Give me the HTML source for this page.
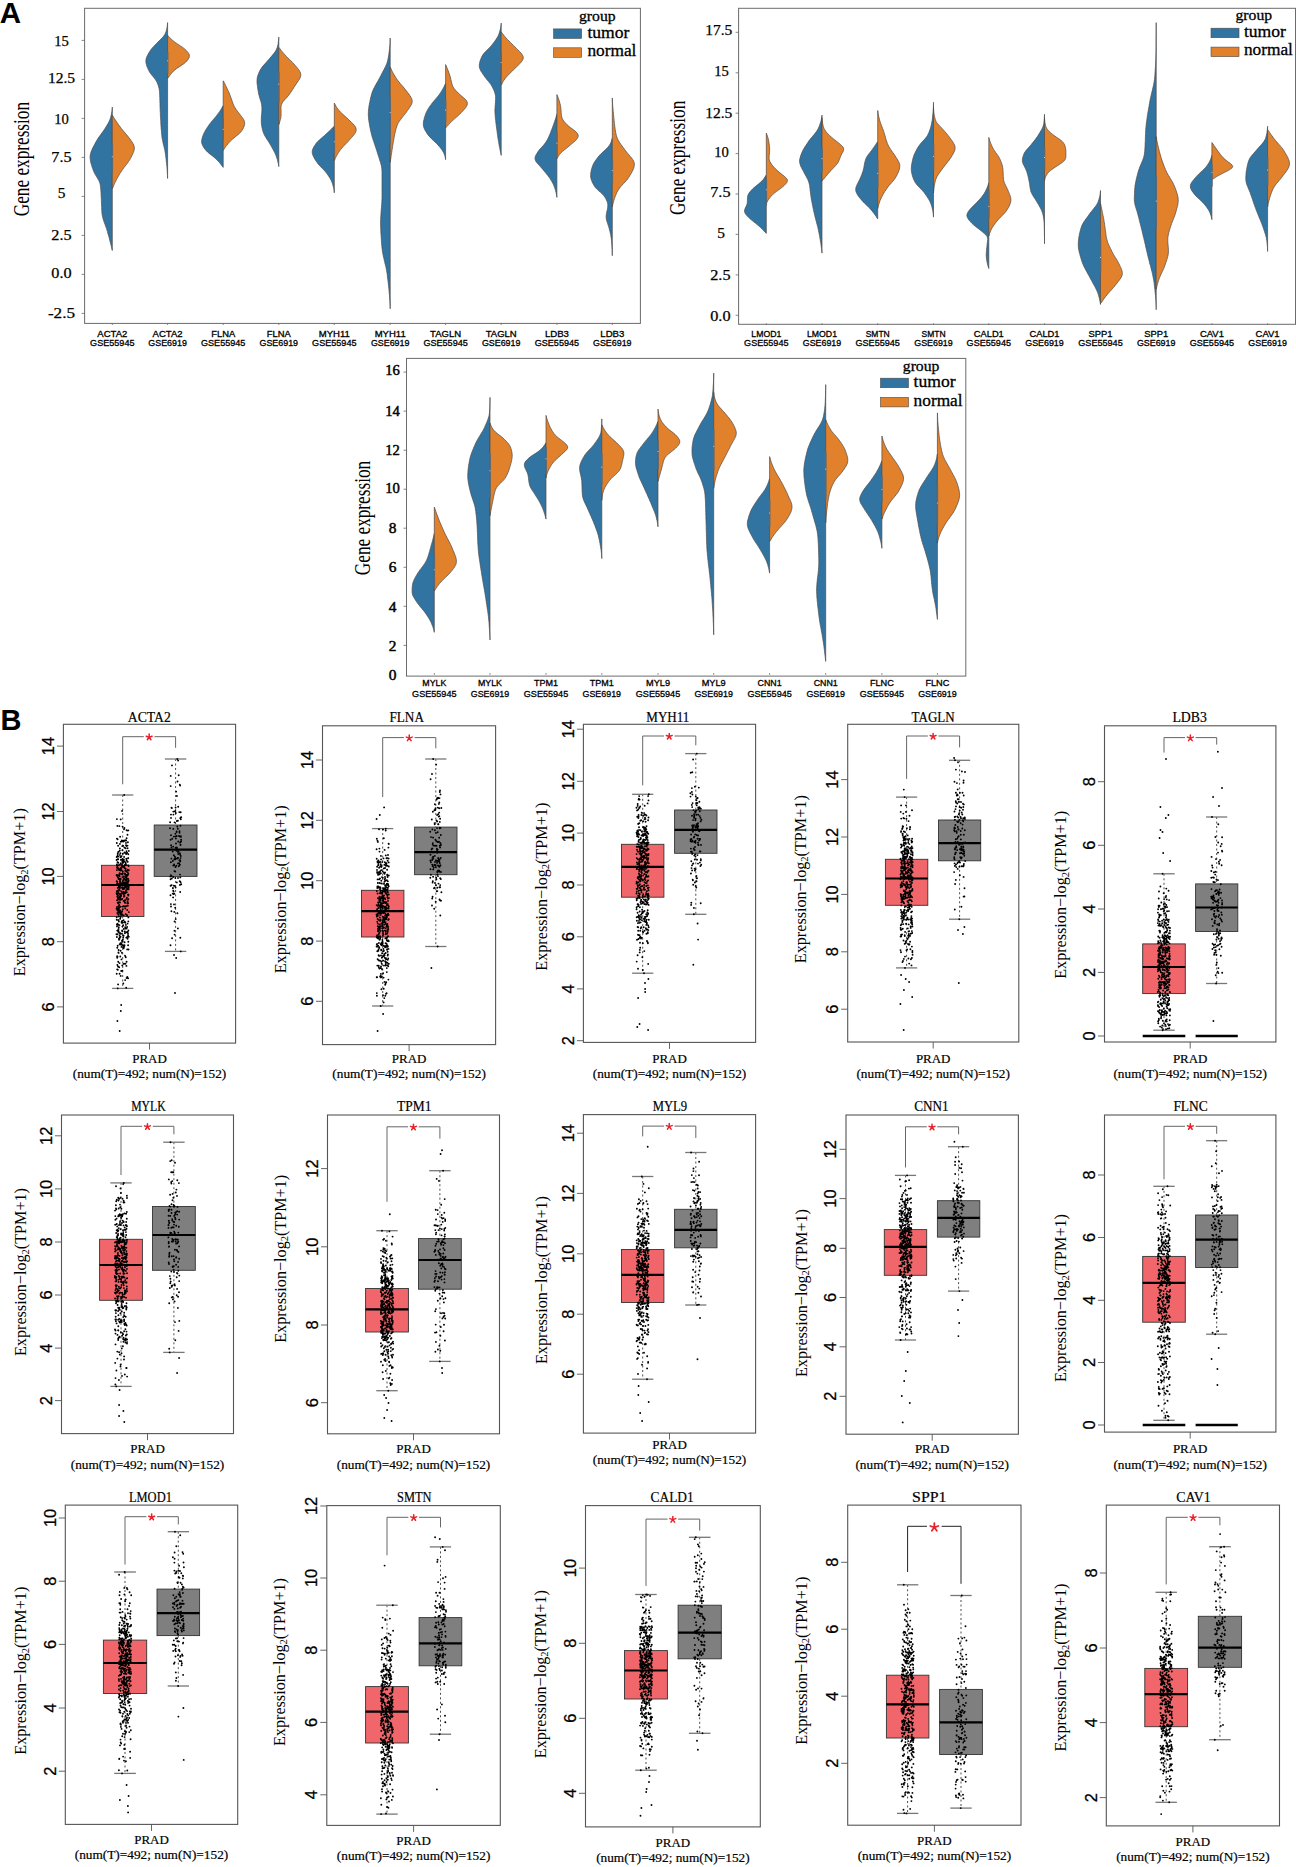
<!DOCTYPE html><html><head><meta charset="utf-8"><style>html,body{margin:0;padding:0;background:#fff}svg{display:block}</style></head><body>
<svg width="1296" height="1867" viewBox="0 0 1296 1867">
<rect width="1296" height="1867" fill="#fff"/>
<text x="-0.3" y="23.3" font-family="Liberation Sans" font-size="29.5" text-anchor="start" fill="#000" font-weight="bold">A</text>
<text x="0.5" y="730" font-family="Liberation Sans" font-size="29" text-anchor="start" fill="#000" font-weight="bold">B</text>
<path d="M112.3 107.1L112.3 107.1L112.2 108.6L112.1 110.1L111.9 111.6L111.6 113.1L111.3 114.6L111 116.1L110.6 117.6L110.1 119.1L109.5 120.6L108.8 122.1L108 123.6L107.1 125.1L106.2 126.6L105.3 128.1L104.3 129.6L103.3 131.1L102.2 132.6L101.1 134.1L100 135.6L98.9 137.1L97.9 138.6L97 140.1L96.1 141.6L95.3 143.1L94.5 144.6L93.7 146.1L92.9 147.6L92.2 149.1L91.6 150.6L91 152.1L90.6 153.6L90.3 155.1L90.1 156.6L90.1 158.1L90.3 159.6L90.5 161.1L90.8 162.6L91.2 164.1L91.7 165.6L92.1 167.1L92.7 168.6L93.2 170.1L93.8 171.6L94.5 173.1L95.3 174.6L96.2 176.1L97.1 177.6L98 179.1L98.8 180.6L99.5 182.1L100 183.6L100.3 185.1L100.5 186.6L100.7 188.1L100.8 189.6L100.9 191.1L101 192.6L101.1 194.1L101.1 195.6L101.2 197.1L101.3 198.6L101.4 200.1L101.4 201.6L101.5 203.1L101.5 204.6L101.6 206.1L101.7 207.6L101.7 209.1L101.8 210.6L101.9 212.1L102 213.6L102.2 215.1L102.5 216.6L102.9 218.1L103.3 219.6L103.8 221.1L104.3 222.6L104.9 224.1L105.4 225.6L106 227.1L106.5 228.6L107 230.1L107.4 231.6L107.8 233.1L108.2 234.6L108.7 236.1L109.1 237.6L109.5 239.1L109.8 240.6L110.2 242.1L110.6 243.6L111 245.1L111.4 246.6L111.7 248.1L112 249.6L112.3 250.1L112.3 250.5Z" fill="#3274a1" stroke="#4a4a4a" stroke-width="0.7"/>
<path d="M112.3 115.1L112.3 115.1L113.3 116.6L114.1 118.1L115.1 119.6L116.1 121.1L117.1 122.6L118.1 124.1L119.2 125.6L120.3 127.1L121.4 128.6L122.6 130.1L123.9 131.6L125.2 133.1L126.5 134.6L127.7 136.1L128.9 137.6L130 139.1L131 140.6L132.1 142.1L133 143.6L133.8 145.1L134.2 146.6L134.4 148.1L134.2 149.6L133.9 151.1L133.3 152.6L132.7 154.1L132 155.6L131.2 157.1L130.4 158.6L129.5 160.1L128.5 161.6L127.5 163.1L126.4 164.6L125.2 166.1L124 167.6L122.9 169.1L121.9 170.6L120.9 172.1L119.9 173.6L119 175.1L118.2 176.6L117.3 178.1L116.5 179.6L115.8 181.1L115 182.6L114.3 184.1L113.7 185.6L113.1 187.1L112.3 188.6L112.3 188.8Z" fill="#e1812c" stroke="#4a4a4a" stroke-width="0.7"/>
<line x1="112.3" y1="143.7" x2="112.3" y2="173.7" stroke="#5d6873" stroke-width="1.6"/>
<circle cx="112.3" cy="156.7" r="0.55" fill="#d8d8d8"/>
<path d="M167.6 22.6L167.6 22.6L167.5 24.1L167.3 25.6L167.1 27.1L166.8 28.6L166.5 30.1L166 31.6L165.5 33.1L164.7 34.6L163.7 36.1L162.4 37.6L161 39.1L159.4 40.6L157.9 42.1L156.5 43.6L155 45.1L153.6 46.6L152.2 48.1L151 49.6L150 51.1L149 52.6L148.2 54.1L147.4 55.6L146.7 57.1L146.2 58.6L145.9 60.1L145.9 61.6L146 63.1L146.4 64.6L146.8 66.1L147.4 67.6L148.1 69.1L148.8 70.6L149.6 72.1L150.6 73.6L151.8 75.1L153 76.6L154.3 78.1L155.4 79.6L156.3 81.1L157.1 82.6L157.7 84.1L158.3 85.6L158.7 87.1L159.1 88.6L159.3 90.1L159.5 91.6L159.6 93.1L159.7 94.6L159.7 96.1L159.8 97.6L159.8 99.1L159.9 100.6L159.9 102.1L160 103.6L160 105.1L160 106.6L160.1 108.1L160.2 109.6L160.2 111.1L160.3 112.6L160.4 114.1L160.4 115.6L160.5 117.1L160.6 118.6L160.7 120.1L160.8 121.6L160.8 123.1L160.9 124.6L161 126.1L161.1 127.6L161.2 129.1L161.4 130.6L161.5 132.1L161.6 133.6L161.8 135.1L161.9 136.6L162.1 138.1L162.4 139.6L162.7 141.1L163 142.6L163.3 144.1L163.7 145.6L164.1 147.1L164.4 148.6L164.8 150.1L165 151.6L165.3 153.1L165.5 154.6L165.7 156.1L165.9 157.6L166.1 159.1L166.2 160.6L166.4 162.1L166.6 163.6L166.7 165.1L166.9 166.6L167 168.1L167.1 169.6L167.2 171.1L167.3 172.6L167.4 174.1L167.5 175.6L167.5 177.1L167.6 178.1L167.6 178.5Z" fill="#3274a1" stroke="#4a4a4a" stroke-width="0.7"/>
<path d="M167.6 35.4L167.6 35.4L169.2 36.9L170.5 38.4L172.1 39.9L173.9 41.4L175.9 42.9L178.1 44.4L180.4 45.9L182.7 47.4L184.6 48.9L186.2 50.4L187.6 51.9L188.7 53.4L189.3 54.9L189.4 56.4L189 57.9L188.1 59.4L186.9 60.9L185.4 62.4L183.6 63.9L181.4 65.4L179.1 66.9L176.8 68.4L174.9 69.9L173.2 71.4L171.8 72.9L170.6 74.4L169.4 75.9L168.5 77.4L167.6 77.9L167.6 78.3Z" fill="#e1812c" stroke="#4a4a4a" stroke-width="0.7"/>
<line x1="167.6" y1="52.3" x2="167.6" y2="73.9" stroke="#5d6873" stroke-width="1.6"/>
<circle cx="167.6" cy="60.8" r="0.55" fill="#d8d8d8"/>
<path d="M223.2 105.7L223.2 105.7L222.2 107.2L221.4 108.7L220.5 110.2L219.5 111.7L218.4 113.2L217.3 114.7L216.2 116.2L214.9 117.7L213.6 119.2L212.3 120.7L211.1 122.2L209.9 123.7L208.8 125.2L207.8 126.7L206.8 128.2L205.8 129.7L205 131.2L204.2 132.7L203.5 134.2L202.9 135.7L202.4 137.2L202 138.7L201.7 140.2L201.6 141.7L201.8 143.2L202.3 144.7L203 146.2L203.9 147.7L205 149.2L206.2 150.7L207.7 152.2L209.5 153.7L211.5 155.2L213.4 156.7L215.2 158.2L216.8 159.7L218.2 161.2L219.6 162.7L220.8 164.2L221.8 165.7L223.2 167.2L223.2 167.4Z" fill="#3274a1" stroke="#4a4a4a" stroke-width="0.7"/>
<path d="M223.2 80.8L223.2 80.8L224.1 82.3L224.8 83.8L225.5 85.3L226.3 86.8L227 88.3L227.7 89.8L228.4 91.3L229.1 92.8L229.7 94.3L230.3 95.8L230.8 97.3L231.4 98.8L231.9 100.3L232.4 101.8L232.9 103.3L233.5 104.8L234.2 106.3L235.1 107.8L236 109.3L237.1 110.8L238.3 112.3L239.4 113.8L240.6 115.3L241.7 116.8L242.8 118.3L243.8 119.8L244.4 121.3L244.7 122.8L244.6 124.3L244.3 125.8L243.7 127.3L243 128.8L242.1 130.3L241 131.8L239.6 133.3L237.9 134.8L236 136.3L234.1 137.8L232.3 139.3L230.7 140.8L229.3 142.3L228 143.8L226.8 145.3L225.6 146.8L224.6 148.3L223.8 149.8L223.2 150.3L223.2 150.3Z" fill="#e1812c" stroke="#4a4a4a" stroke-width="0.7"/>
<line x1="223.2" y1="118.1" x2="223.2" y2="140.2" stroke="#5d6873" stroke-width="1.6"/>
<circle cx="223.2" cy="129.2" r="0.55" fill="#d8d8d8"/>
<path d="M278.8 37.1L278.8 37.1L278.7 38.6L278.6 40.1L278.4 41.6L278.2 43.1L278 44.6L277.6 46.1L277.2 47.6L276.6 49.1L275.9 50.6L274.9 52.1L273.7 53.6L272.5 55.1L271.2 56.6L270 58.1L268.7 59.6L267.4 61.1L266.1 62.6L264.7 64.1L263.3 65.6L262.1 67.1L261.1 68.6L260.2 70.1L259.4 71.6L258.8 73.1L258.2 74.6L257.7 76.1L257.3 77.6L257.1 79.1L257 80.6L257 82.1L257.1 83.6L257.3 85.1L257.5 86.6L257.7 88.1L257.9 89.6L258.2 91.1L258.4 92.6L258.7 94.1L259.1 95.6L259.5 97.1L259.9 98.6L260.4 100.1L260.9 101.6L261.3 103.1L261.6 104.6L261.8 106.1L261.9 107.6L261.9 109.1L261.9 110.6L261.8 112.1L261.7 113.6L261.5 115.1L261.4 116.6L261.3 118.1L261.3 119.6L261.3 121.1L261.3 122.6L261.4 124.1L261.7 125.6L261.9 127.1L262.2 128.6L262.6 130.1L263 131.6L263.6 133.1L264.2 134.6L265 136.1L265.9 137.6L266.8 139.1L267.8 140.6L268.8 142.1L269.7 143.6L270.6 145.1L271.4 146.6L272.3 148.1L273.1 149.6L273.9 151.1L274.7 152.6L275.4 154.1L276 155.6L276.5 157.1L277 158.6L277.5 160.1L277.8 161.6L278.2 163.1L278.5 164.6L278.7 166.1L278.8 166.6L278.8 166.6Z" fill="#3274a1" stroke="#4a4a4a" stroke-width="0.7"/>
<path d="M278.8 47.4L278.8 47.4L280.1 48.9L281.2 50.4L282.4 51.9L283.7 53.4L285 54.9L286.4 56.4L287.9 57.9L289.5 59.4L291 60.9L292.5 62.4L293.9 63.9L295.2 65.4L296.5 66.9L297.7 68.4L298.9 69.9L299.8 71.4L300.5 72.9L300.8 74.4L300.7 75.9L300.3 77.4L299.6 78.9L298.6 80.4L297.6 81.9L296.6 83.4L295.6 84.9L294.6 86.4L293.6 87.9L292.7 89.4L291.7 90.9L290.7 92.4L289.6 93.9L288.5 95.4L287.3 96.9L285.9 98.4L284.5 99.9L283.2 101.4L282.2 102.9L281.5 104.4L281.1 105.9L281 107.4L281 108.9L281.1 110.4L281.1 111.9L281.1 113.4L281.1 114.9L281 116.4L280.8 117.9L280.4 119.4L280 120.9L279.6 122.4L279.2 123.9L278.8 124.4L278.8 124.6Z" fill="#e1812c" stroke="#4a4a4a" stroke-width="0.7"/>
<line x1="278.8" y1="71.7" x2="278.8" y2="103.1" stroke="#5d6873" stroke-width="1.6"/>
<circle cx="278.8" cy="84.1" r="0.55" fill="#d8d8d8"/>
<path d="M334.3 126.3L334.3 126.3L332.5 127.8L331.2 129.3L329.6 130.8L328 132.3L326.4 133.8L324.8 135.3L323 136.8L321.3 138.3L319.5 139.8L318 141.3L316.6 142.8L315.5 144.3L314.5 145.8L313.6 147.3L312.9 148.8L312.4 150.3L312.2 151.8L312.3 153.3L312.7 154.8L313.3 156.3L314.1 157.8L314.9 159.3L315.9 160.8L316.9 162.3L318 163.8L319.3 165.3L320.7 166.8L322.2 168.3L323.7 169.8L325 171.3L326.3 172.8L327.4 174.3L328.4 175.8L329.4 177.3L330.3 178.8L331.1 180.3L331.8 181.8L332.3 183.3L332.8 184.8L333.2 186.3L333.6 187.8L333.9 189.3L334.1 190.8L334.2 192.3L334.3 192.8L334.3 192.8Z" fill="#3274a1" stroke="#4a4a4a" stroke-width="0.7"/>
<path d="M334.3 103.1L334.3 103.1L335.2 104.6L335.9 106.1L336.8 107.6L337.9 109.1L339.1 110.6L340.4 112.1L342 113.6L343.7 115.1L345.4 116.6L347.1 118.1L348.7 119.6L350.2 121.1L351.7 122.6L353.2 124.1L354.5 125.6L355.5 127.1L356.1 128.6L356.2 130.1L355.9 131.6L355.1 133.1L354.1 134.6L352.9 136.1L351.5 137.6L350.2 139.1L348.9 140.6L347.5 142.1L346.1 143.6L344.6 145.1L343.2 146.6L341.8 148.1L340.6 149.6L339.5 151.1L338.5 152.6L337.6 154.1L336.7 155.6L335.9 157.1L335.2 158.6L334.7 160.1L334.3 160.6L334.3 160.6Z" fill="#e1812c" stroke="#4a4a4a" stroke-width="0.7"/>
<line x1="334.3" y1="130.2" x2="334.3" y2="154" stroke="#5d6873" stroke-width="1.6"/>
<circle cx="334.3" cy="141.7" r="0.55" fill="#d8d8d8"/>
<path d="M390.2 38L390.2 38L390.2 39.5L390.1 41L390.1 42.5L390 44L389.9 45.5L389.7 47L389.6 48.5L389.4 50L389.2 51.5L389 53L388.8 54.5L388.6 56L388.3 57.5L388 59L387.7 60.5L387.3 62L386.8 63.5L386.2 65L385.5 66.5L384.8 68L384 69.5L383.2 71L382.4 72.5L381.6 74L380.9 75.5L380.1 77L379.3 78.5L378.5 80L377.6 81.5L376.8 83L375.9 84.5L375.1 86L374.3 87.5L373.5 89L372.9 90.5L372.3 92L371.8 93.5L371.4 95L371 96.5L370.6 98L370.3 99.5L370 101L369.7 102.5L369.4 104L369.1 105.5L368.9 107L368.7 108.5L368.5 110L368.4 111.5L368.4 113L368.3 114.5L368.4 116L368.5 117.5L368.6 119L368.8 120.5L369 122L369.3 123.5L369.5 125L369.8 126.5L370.1 128L370.4 129.5L370.7 131L371.1 132.5L371.4 134L371.8 135.5L372.2 137L372.7 138.5L373.2 140L373.7 141.5L374.2 143L374.7 144.5L375.2 146L375.7 147.5L376.2 149L376.7 150.5L377.2 152L377.6 153.5L378.1 155L378.6 156.5L379.1 158L379.5 159.5L380 161L380.5 162.5L380.9 164L381.3 165.5L381.6 167L381.8 168.5L381.9 170L382 171.5L382 173L382 174.5L382 176L382 177.5L382 179L382 180.5L382 182L382 183.5L382 185L382 186.5L382 188L382 189.5L382 191L382 192.5L382 194L382 195.5L382 197L382 198.5L381.9 200L381.9 201.5L381.8 203L381.7 204.5L381.6 206L381.5 207.5L381.3 209L381.2 210.5L381.1 212L381 213.5L380.9 215L380.8 216.5L380.7 218L380.7 219.5L380.6 221L380.6 222.5L380.6 224L380.6 225.5L380.7 227L380.7 228.5L380.8 230L380.8 231.5L380.9 233L381 234.5L381.1 236L381.2 237.5L381.3 239L381.4 240.5L381.5 242L381.6 243.5L381.7 245L381.9 246.5L382 248L382.2 249.5L382.4 251L382.6 252.5L382.9 254L383.2 255.5L383.5 257L383.9 258.5L384.2 260L384.6 261.5L384.9 263L385.3 264.5L385.7 266L386 267.5L386.3 269L386.6 270.5L386.8 272L387.1 273.5L387.3 275L387.4 276.5L387.6 278L387.8 279.5L388 281L388.2 282.5L388.3 284L388.5 285.5L388.7 287L388.8 288.5L389 290L389.1 291.5L389.2 293L389.4 294.5L389.5 296L389.6 297.5L389.7 299L389.8 300.5L389.9 302L390 303.5L390.1 305L390.1 306.5L390.2 308L390.2 308.5L390.2 308.8Z" fill="#3274a1" stroke="#4a4a4a" stroke-width="0.7"/>
<path d="M390.2 67.1L390.2 67.1L391 68.6L391.6 70.1L392.3 71.6L393.1 73.1L394 74.6L394.9 76.1L395.8 77.6L396.8 79.1L397.9 80.6L399.1 82.1L400.3 83.6L401.6 85.1L403 86.6L404.2 88.1L405.4 89.6L406.6 91.1L407.7 92.6L408.9 94.1L409.9 95.6L410.9 97.1L411.6 98.6L412.1 100.1L412.2 101.6L412 103.1L411.4 104.6L410.6 106.1L409.6 107.6L408.6 109.1L407.4 110.6L406.4 112.1L405.3 113.6L404.1 115.1L402.9 116.6L401.7 118.1L400.6 119.6L399.5 121.1L398.5 122.6L397.7 124.1L397.1 125.6L396.6 127.1L396.1 128.6L395.7 130.1L395.4 131.6L395 133.1L394.7 134.6L394.4 136.1L394.1 137.6L393.9 139.1L393.6 140.6L393.3 142.1L393.1 143.6L392.8 145.1L392.6 146.6L392.4 148.1L392.1 149.6L391.9 151.1L391.7 152.6L391.4 154.1L391.2 155.6L391 157.1L390.8 158.6L390.5 160.1L390.4 161.6L390.2 162.1L390.2 162.3Z" fill="#e1812c" stroke="#4a4a4a" stroke-width="0.7"/>
<line x1="390.2" y1="96.9" x2="390.2" y2="143.1" stroke="#5d6873" stroke-width="1.6"/>
<circle cx="390.2" cy="112.6" r="0.55" fill="#d8d8d8"/>
<path d="M445.6 83.4L445.6 83.4L444.8 84.9L444.2 86.4L443.4 87.9L442.5 89.4L441.7 90.9L440.7 92.4L439.7 93.9L438.6 95.4L437.4 96.9L436.1 98.4L434.8 99.9L433.5 101.4L432.3 102.9L431.2 104.4L430.1 105.9L429.1 107.4L428.1 108.9L427.3 110.4L426.5 111.9L425.8 113.4L425.3 114.9L424.8 116.4L424.3 117.9L424 119.4L423.6 120.9L423.4 122.4L423.3 123.9L423.4 125.4L423.7 126.9L424.2 128.4L424.9 129.9L425.8 131.4L426.7 132.9L427.7 134.4L428.9 135.9L430.2 137.4L431.7 138.9L433.3 140.4L435 141.9L436.5 143.4L437.9 144.9L439.2 146.4L440.5 147.9L441.6 149.4L442.6 150.9L443.5 152.4L444.2 153.9L444.7 155.4L445.1 156.9L445.4 158.4L445.6 159.4L445.6 159.7Z" fill="#3274a1" stroke="#4a4a4a" stroke-width="0.7"/>
<path d="M445.6 64.6L445.6 64.6L446.3 66.1L446.9 67.6L447.5 69.1L448.1 70.6L448.7 72.1L449.2 73.6L449.7 75.1L450.2 76.6L450.6 78.1L450.9 79.6L451.3 81.1L451.6 82.6L452 84.1L452.5 85.6L453.2 87.1L454.1 88.6L455.4 90.1L456.8 91.6L458.3 93.1L459.9 94.6L461.6 96.1L463.4 97.6L465 99.1L466.4 100.6L467.2 102.1L467.4 103.6L467.1 105.1L466.4 106.6L465.3 108.1L464.1 109.6L462.7 111.1L461.3 112.6L459.8 114.1L458.2 115.6L456.5 117.1L454.7 118.6L453.1 120.1L451.5 121.6L450 123.1L448.6 124.6L447.4 126.1L445.6 127.6L445.6 128Z" fill="#e1812c" stroke="#4a4a4a" stroke-width="0.7"/>
<line x1="445.6" y1="99.9" x2="445.6" y2="122.2" stroke="#5d6873" stroke-width="1.6"/>
<circle cx="445.6" cy="110.1" r="0.55" fill="#d8d8d8"/>
<path d="M501.2 23.1L501.2 23.1L501.1 24.6L500.9 26.1L500.7 27.6L500.3 29.1L500 30.6L499.5 32.1L499.1 33.6L498.5 35.1L497.8 36.6L496.9 38.1L495.9 39.6L494.9 41.1L493.8 42.6L492.6 44.1L491.4 45.6L490.1 47.1L488.6 48.6L487.1 50.1L485.6 51.6L484.2 53.1L483 54.6L482.1 56.1L481.4 57.6L480.8 59.1L480.2 60.6L479.8 62.1L479.5 63.6L479.3 65.1L479.3 66.6L479.6 68.1L480.2 69.6L480.9 71.1L481.9 72.6L482.9 74.1L483.9 75.6L485 77.1L486.1 78.6L487.3 80.1L488.6 81.6L489.8 83.1L490.9 84.6L491.8 86.1L492.6 87.6L493.3 89.1L494 90.6L494.6 92.1L495 93.6L495.4 95.1L495.6 96.6L495.6 98.1L495.6 99.6L495.5 101.1L495.4 102.6L495.3 104.1L495.2 105.6L495.1 107.1L495 108.6L494.9 110.1L494.9 111.6L495 113.1L495.1 114.6L495.2 116.1L495.3 117.6L495.5 119.1L495.7 120.6L495.8 122.1L496 123.6L496.2 125.1L496.4 126.6L496.6 128.1L496.8 129.6L497 131.1L497.2 132.6L497.4 134.1L497.6 135.6L497.8 137.1L498 138.6L498.3 140.1L498.5 141.6L498.8 143.1L499 144.6L499.3 146.1L499.6 147.6L499.9 149.1L500.2 150.6L500.5 152.1L500.8 153.6L501.2 155.1L501.2 155.4Z" fill="#3274a1" stroke="#4a4a4a" stroke-width="0.7"/>
<path d="M501.2 32L501.2 32L502.5 33.5L503.6 35L504.8 36.5L506.1 38L507.5 39.5L509 41L510.5 42.5L512 44L513.5 45.5L515 47L516.5 48.5L518 50L519.6 51.5L521 53L522.1 54.5L522.9 56L523.3 57.5L523.1 59L522.4 60.5L521.3 62L519.9 63.5L518.4 65L516.9 66.5L515.4 68L513.9 69.5L512.4 71L510.8 72.5L509.2 74L507.7 75.5L506.4 77L505.2 78.5L504.1 80L503.1 81.5L502.3 83L501.7 84.5L501.2 85L501.2 85.1Z" fill="#e1812c" stroke="#4a4a4a" stroke-width="0.7"/>
<line x1="501.2" y1="53.3" x2="501.2" y2="74.4" stroke="#5d6873" stroke-width="1.6"/>
<circle cx="501.2" cy="62.5" r="0.55" fill="#d8d8d8"/>
<path d="M556.9 114.3L556.9 114.3L556.4 115.8L556 117.3L555.5 118.8L555 120.3L554.5 121.8L554 123.3L553.5 124.8L552.9 126.3L552.4 127.8L551.8 129.3L551.2 130.8L550.7 132.3L550.1 133.8L549.4 135.3L548.8 136.8L548.1 138.3L547.3 139.8L546.4 141.3L545.4 142.8L544.3 144.3L543 145.8L541.6 147.3L540.2 148.8L539 150.3L537.9 151.8L537 153.3L536.1 154.8L535.4 156.3L535 157.8L535.1 159.3L535.6 160.8L536.5 162.3L537.8 163.8L539.2 165.3L540.5 166.8L541.8 168.3L543.1 169.8L544.3 171.3L545.6 172.8L546.8 174.3L548 175.8L549.1 177.3L550.2 178.8L551.1 180.3L552 181.8L552.8 183.3L553.5 184.8L554.1 186.3L554.7 187.8L555.2 189.3L555.6 190.8L556 192.3L556.3 193.8L556.6 195.3L556.8 196.8L556.9 197.3L556.9 197.4Z" fill="#3274a1" stroke="#4a4a4a" stroke-width="0.7"/>
<path d="M556.9 94.6L556.9 94.6L557.6 96.1L558.1 97.6L558.6 99.1L559.2 100.6L559.6 102.1L560 103.6L560.4 105.1L560.6 106.6L560.8 108.1L561 109.6L561.1 111.1L561.2 112.6L561.3 114.1L561.5 115.6L561.8 117.1L562.3 118.6L563.1 120.1L564.2 121.6L565.5 123.1L566.9 124.6L568.6 126.1L570.5 127.6L572.5 129.1L574.5 130.6L576.2 132.1L577.5 133.6L578.2 135.1L578.2 136.6L577.5 138.1L576.4 139.6L574.9 141.1L573.2 142.6L571.4 144.1L569.7 145.6L567.9 147.1L566 148.6L564.1 150.1L562.3 151.6L560.7 153.1L559.5 154.6L558.4 156.1L557.7 157.6L556.9 158.6L556.9 158.8Z" fill="#e1812c" stroke="#4a4a4a" stroke-width="0.7"/>
<line x1="556.9" y1="132.5" x2="556.9" y2="156.9" stroke="#5d6873" stroke-width="1.6"/>
<circle cx="556.9" cy="143.1" r="0.55" fill="#d8d8d8"/>
<path d="M612.3 138.3L612.3 138.3L611.8 139.8L611.4 141.3L610.8 142.8L610 144.3L609.1 145.8L607.8 147.3L606.4 148.8L604.8 150.3L603.1 151.8L601.5 153.3L600 154.8L598.7 156.3L597.5 157.8L596.4 159.3L595.3 160.8L594.3 162.3L593.5 163.8L592.8 165.3L592.3 166.8L591.8 168.3L591.4 169.8L591.1 171.3L590.8 172.8L590.7 174.3L590.6 175.8L590.7 177.3L591 178.8L591.5 180.3L592.1 181.8L592.8 183.3L593.6 184.8L594.5 186.3L595.6 187.8L597.1 189.3L598.7 190.8L600.5 192.3L602.1 193.8L603.5 195.3L604.6 196.8L605.6 198.3L606.3 199.8L607 201.3L607.5 202.8L607.8 204.3L607.8 205.8L607.7 207.3L607.5 208.8L607.2 210.3L606.8 211.8L606.5 213.3L606.3 214.8L606.1 216.3L606.2 217.8L606.4 219.3L606.7 220.8L607.2 222.3L607.7 223.8L608.2 225.3L608.7 226.8L609.1 228.3L609.5 229.8L609.9 231.3L610.2 232.8L610.6 234.3L610.8 235.8L611.1 237.3L611.3 238.8L611.5 240.3L611.6 241.8L611.7 243.3L611.8 244.8L611.9 246.3L612 247.8L612.1 249.3L612.2 250.8L612.2 252.3L612.3 253.8L612.3 255.3L612.3 255.7Z" fill="#3274a1" stroke="#4a4a4a" stroke-width="0.7"/>
<path d="M612.3 98L612.3 98L612.4 99.5L612.4 101L612.5 102.5L612.6 104L612.7 105.5L612.8 107L613 108.5L613.1 110L613.2 111.5L613.4 113L613.5 114.5L613.7 116L613.8 117.5L614 119L614.1 120.5L614.3 122L614.4 123.5L614.6 125L614.8 126.5L615 128L615.2 129.5L615.5 131L615.7 132.5L616 134L616.4 135.5L616.8 137L617.4 138.5L618.1 140L619 141.5L619.9 143L621 144.5L622.1 146L623.2 147.5L624.3 149L625.4 150.5L626.5 152L627.8 153.5L629.1 155L630.4 156.5L631.6 158L632.7 159.5L633.6 161L634.1 162.5L634.4 164L634.3 165.5L634 167L633.6 168.5L632.9 170L632.2 171.5L631.4 173L630.5 174.5L629.6 176L628.6 177.5L627.6 179L626.4 180.5L625 182L623.6 183.5L622.2 185L620.8 186.5L619.6 188L618.6 189.5L617.7 191L616.9 192.5L616.2 194L615.6 195.5L615 197L614.5 198.5L614 200L613.6 201.5L613.2 203L612.8 204.5L612.6 206L612.3 206.5L612.3 206.8Z" fill="#e1812c" stroke="#4a4a4a" stroke-width="0.7"/>
<line x1="612.3" y1="159.1" x2="612.3" y2="183" stroke="#5d6873" stroke-width="1.6"/>
<circle cx="612.3" cy="170.5" r="0.55" fill="#d8d8d8"/>
<rect x="84.6" y="8.3" width="555.8" height="315.1" fill="none" stroke="#6b6b6b" stroke-width="1"/>
<line x1="81.6" y1="40.4" x2="84.6" y2="40.4" stroke="#6b6b6b" stroke-width="0.8"/>
<line x1="81.6" y1="79.4" x2="84.6" y2="79.4" stroke="#6b6b6b" stroke-width="0.8"/>
<line x1="81.6" y1="118.4" x2="84.6" y2="118.4" stroke="#6b6b6b" stroke-width="0.8"/>
<line x1="81.6" y1="157.4" x2="84.6" y2="157.4" stroke="#6b6b6b" stroke-width="0.8"/>
<line x1="81.6" y1="196.4" x2="84.6" y2="196.4" stroke="#6b6b6b" stroke-width="0.8"/>
<line x1="81.6" y1="235.4" x2="84.6" y2="235.4" stroke="#6b6b6b" stroke-width="0.8"/>
<line x1="81.6" y1="274.4" x2="84.6" y2="274.4" stroke="#6b6b6b" stroke-width="0.8"/>
<line x1="81.6" y1="313.4" x2="84.6" y2="313.4" stroke="#6b6b6b" stroke-width="0.8"/>
<text x="61.5" y="46" font-family="Liberation Serif" font-size="14.2" text-anchor="middle" fill="#000" stroke="#000" stroke-width="0.25" textLength="14.6" lengthAdjust="spacingAndGlyphs">15</text>
<text x="61.5" y="83" font-family="Liberation Serif" font-size="14.2" text-anchor="middle" fill="#000" stroke="#000" stroke-width="0.25" textLength="27.2" lengthAdjust="spacingAndGlyphs">12.5</text>
<text x="61.5" y="123.9" font-family="Liberation Serif" font-size="14.2" text-anchor="middle" fill="#000" stroke="#000" stroke-width="0.25" textLength="14.6" lengthAdjust="spacingAndGlyphs">10</text>
<text x="61.5" y="161.9" font-family="Liberation Serif" font-size="14.2" text-anchor="middle" fill="#000" stroke="#000" stroke-width="0.25" textLength="20.3" lengthAdjust="spacingAndGlyphs">7.5</text>
<text x="61.5" y="198.4" font-family="Liberation Serif" font-size="14.2" text-anchor="middle" fill="#000" stroke="#000" stroke-width="0.25" textLength="7.7" lengthAdjust="spacingAndGlyphs">5</text>
<text x="61.5" y="240" font-family="Liberation Serif" font-size="14.2" text-anchor="middle" fill="#000" stroke="#000" stroke-width="0.25" textLength="20.3" lengthAdjust="spacingAndGlyphs">2.5</text>
<text x="61.5" y="277.8" font-family="Liberation Serif" font-size="14.2" text-anchor="middle" fill="#000" stroke="#000" stroke-width="0.25" textLength="20.3" lengthAdjust="spacingAndGlyphs">0.0</text>
<text x="61.5" y="318" font-family="Liberation Serif" font-size="14.2" text-anchor="middle" fill="#000" stroke="#000" stroke-width="0.25" textLength="27.2" lengthAdjust="spacingAndGlyphs">-2.5</text>
<text transform="translate(29.2 159.1) rotate(-90)" font-family="Liberation Serif" font-size="23" text-anchor="middle" fill="#000" textLength="114.4" lengthAdjust="spacingAndGlyphs">Gene expression</text>
<text x="597.3" y="20.6" font-family="Liberation Serif" font-size="15" text-anchor="middle" fill="#000" stroke="#000" stroke-width="0.3" textLength="36.6" lengthAdjust="spacingAndGlyphs">group</text>
<rect x="553.6" y="28.9" width="28" height="9.5" fill="#3274a1" stroke="#4a4a4a" stroke-width="0.6"/>
<rect x="553.6" y="47.8" width="28" height="9.5" fill="#e1812c" stroke="#4a4a4a" stroke-width="0.6"/>
<text x="587.4" y="37.8" font-family="Liberation Serif" font-size="17.3" text-anchor="start" fill="#000" stroke="#000" stroke-width="0.3" textLength="42" lengthAdjust="spacingAndGlyphs">tumor</text>
<text x="587.4" y="56.1" font-family="Liberation Serif" font-size="17.3" text-anchor="start" fill="#000" stroke="#000" stroke-width="0.3" textLength="49" lengthAdjust="spacingAndGlyphs">normal</text>
<line x1="112.3" y1="323.2" x2="112.3" y2="325" stroke="#6b6b6b" stroke-width="0.8"/>
<text x="112.3" y="336.6" font-family="Liberation Sans" font-size="8.8" text-anchor="middle" fill="#000" stroke="#000" stroke-width="0.3" textLength="30.0" lengthAdjust="spacingAndGlyphs">ACTA2</text>
<text x="112.3" y="346.4" font-family="Liberation Sans" font-size="8.8" text-anchor="middle" fill="#000" stroke="#000" stroke-width="0.3" textLength="44.4" lengthAdjust="spacingAndGlyphs">GSE55945</text>
<line x1="167.6" y1="323.2" x2="167.6" y2="325" stroke="#6b6b6b" stroke-width="0.8"/>
<text x="167.6" y="336.6" font-family="Liberation Sans" font-size="8.8" text-anchor="middle" fill="#000" stroke="#000" stroke-width="0.3" textLength="30.0" lengthAdjust="spacingAndGlyphs">ACTA2</text>
<text x="167.6" y="346.4" font-family="Liberation Sans" font-size="8.8" text-anchor="middle" fill="#000" stroke="#000" stroke-width="0.3" textLength="38.5" lengthAdjust="spacingAndGlyphs">GSE6919</text>
<line x1="223.2" y1="323.2" x2="223.2" y2="325" stroke="#6b6b6b" stroke-width="0.8"/>
<text x="223.2" y="336.6" font-family="Liberation Sans" font-size="8.8" text-anchor="middle" fill="#000" stroke="#000" stroke-width="0.3" textLength="24.0" lengthAdjust="spacingAndGlyphs">FLNA</text>
<text x="223.2" y="346.4" font-family="Liberation Sans" font-size="8.8" text-anchor="middle" fill="#000" stroke="#000" stroke-width="0.3" textLength="44.4" lengthAdjust="spacingAndGlyphs">GSE55945</text>
<line x1="278.8" y1="323.2" x2="278.8" y2="325" stroke="#6b6b6b" stroke-width="0.8"/>
<text x="278.8" y="336.6" font-family="Liberation Sans" font-size="8.8" text-anchor="middle" fill="#000" stroke="#000" stroke-width="0.3" textLength="24.0" lengthAdjust="spacingAndGlyphs">FLNA</text>
<text x="278.8" y="346.4" font-family="Liberation Sans" font-size="8.8" text-anchor="middle" fill="#000" stroke="#000" stroke-width="0.3" textLength="38.5" lengthAdjust="spacingAndGlyphs">GSE6919</text>
<line x1="334.3" y1="323.2" x2="334.3" y2="325" stroke="#6b6b6b" stroke-width="0.8"/>
<text x="334.3" y="336.6" font-family="Liberation Sans" font-size="8.8" text-anchor="middle" fill="#000" stroke="#000" stroke-width="0.3" textLength="31.0" lengthAdjust="spacingAndGlyphs">MYH11</text>
<text x="334.3" y="346.4" font-family="Liberation Sans" font-size="8.8" text-anchor="middle" fill="#000" stroke="#000" stroke-width="0.3" textLength="44.4" lengthAdjust="spacingAndGlyphs">GSE55945</text>
<line x1="390.2" y1="323.2" x2="390.2" y2="325" stroke="#6b6b6b" stroke-width="0.8"/>
<text x="390.2" y="336.6" font-family="Liberation Sans" font-size="8.8" text-anchor="middle" fill="#000" stroke="#000" stroke-width="0.3" textLength="31.0" lengthAdjust="spacingAndGlyphs">MYH11</text>
<text x="390.2" y="346.4" font-family="Liberation Sans" font-size="8.8" text-anchor="middle" fill="#000" stroke="#000" stroke-width="0.3" textLength="38.5" lengthAdjust="spacingAndGlyphs">GSE6919</text>
<line x1="445.6" y1="323.2" x2="445.6" y2="325" stroke="#6b6b6b" stroke-width="0.8"/>
<text x="445.6" y="336.6" font-family="Liberation Sans" font-size="8.8" text-anchor="middle" fill="#000" stroke="#000" stroke-width="0.3" textLength="31.0" lengthAdjust="spacingAndGlyphs">TAGLN</text>
<text x="445.6" y="346.4" font-family="Liberation Sans" font-size="8.8" text-anchor="middle" fill="#000" stroke="#000" stroke-width="0.3" textLength="44.4" lengthAdjust="spacingAndGlyphs">GSE55945</text>
<line x1="501.2" y1="323.2" x2="501.2" y2="325" stroke="#6b6b6b" stroke-width="0.8"/>
<text x="501.2" y="336.6" font-family="Liberation Sans" font-size="8.8" text-anchor="middle" fill="#000" stroke="#000" stroke-width="0.3" textLength="31.0" lengthAdjust="spacingAndGlyphs">TAGLN</text>
<text x="501.2" y="346.4" font-family="Liberation Sans" font-size="8.8" text-anchor="middle" fill="#000" stroke="#000" stroke-width="0.3" textLength="38.5" lengthAdjust="spacingAndGlyphs">GSE6919</text>
<line x1="556.9" y1="323.2" x2="556.9" y2="325" stroke="#6b6b6b" stroke-width="0.8"/>
<text x="556.9" y="336.6" font-family="Liberation Sans" font-size="8.8" text-anchor="middle" fill="#000" stroke="#000" stroke-width="0.3" textLength="24.0" lengthAdjust="spacingAndGlyphs">LDB3</text>
<text x="556.9" y="346.4" font-family="Liberation Sans" font-size="8.8" text-anchor="middle" fill="#000" stroke="#000" stroke-width="0.3" textLength="44.4" lengthAdjust="spacingAndGlyphs">GSE55945</text>
<line x1="612.3" y1="323.2" x2="612.3" y2="325" stroke="#6b6b6b" stroke-width="0.8"/>
<text x="612.3" y="336.6" font-family="Liberation Sans" font-size="8.8" text-anchor="middle" fill="#000" stroke="#000" stroke-width="0.3" textLength="24.0" lengthAdjust="spacingAndGlyphs">LDB3</text>
<text x="612.3" y="346.4" font-family="Liberation Sans" font-size="8.8" text-anchor="middle" fill="#000" stroke="#000" stroke-width="0.3" textLength="38.5" lengthAdjust="spacingAndGlyphs">GSE6919</text>
<path d="M766.3 175.1L766.3 175.1L765.2 176.6L764.3 178.1L763.2 179.6L761.8 181.1L760.2 182.6L758.4 184.1L756.5 185.6L754.7 187.1L753 188.6L751.5 190.1L750.2 191.6L749 193.1L748.2 194.6L747.7 196.1L747.5 197.6L747.4 199.1L747.4 200.6L747.3 202.1L747.2 203.6L746.7 205.1L746 206.6L745.3 208.1L744.7 209.6L744.5 211.1L744.8 212.6L745.6 214.1L746.8 215.6L748.3 217.1L749.9 218.6L751.6 220.1L753.4 221.6L755.3 223.1L757.2 224.6L759 226.1L760.6 227.6L762.2 229.1L763.6 230.6L764.9 232.1L766.3 233.1L766.3 233.4Z" fill="#3274a1" stroke="#4a4a4a" stroke-width="0.7"/>
<path d="M766.3 133.1L766.3 133.1L766.9 134.6L767.4 136.1L767.9 137.6L768.3 139.1L768.7 140.6L768.9 142.1L769.1 143.6L769.3 145.1L769.5 146.6L769.6 148.1L769.6 149.6L769.6 151.1L769.5 152.6L769.4 154.1L769.2 155.6L769.1 157.1L769.1 158.6L769.3 160.1L769.9 161.6L770.8 163.1L771.8 164.6L773 166.1L774.3 167.6L775.7 169.1L777.4 170.6L779.1 172.1L780.9 173.6L782.8 175.1L784.7 176.6L786.3 178.1L787.3 179.6L787.4 181.1L786.8 182.6L785.6 184.1L784.1 185.6L782.4 187.1L780.5 188.6L778.4 190.1L776.3 191.6L774.4 193.1L772.7 194.6L771.2 196.1L770 197.6L768.8 199.1L767.9 200.6L767.1 202.1L766.3 203.1L766.3 203.4Z" fill="#e1812c" stroke="#4a4a4a" stroke-width="0.7"/>
<line x1="766.3" y1="178.8" x2="766.3" y2="205.6" stroke="#5d6873" stroke-width="1.6"/>
<circle cx="766.3" cy="189.8" r="0.55" fill="#d8d8d8"/>
<path d="M822 115.1L822 115.1L821.8 116.6L821.6 118.1L821.3 119.6L821 121.1L820.5 122.6L820 124.1L819.5 125.6L818.9 127.1L818.2 128.6L817.4 130.1L816.4 131.6L815.3 133.1L814.1 134.6L812.8 136.1L811.5 137.6L810.3 139.1L809.1 140.6L808.1 142.1L807.1 143.6L806.1 145.1L805.1 146.6L804.2 148.1L803.3 149.6L802.6 151.1L801.9 152.6L801.3 154.1L800.7 155.6L800.3 157.1L799.9 158.6L799.6 160.1L799.6 161.6L799.8 163.1L800.2 164.6L800.7 166.1L801.4 167.6L802.2 169.1L803 170.6L803.8 172.1L804.5 173.6L805.4 175.1L806.2 176.6L807 178.1L807.8 179.6L808.4 181.1L808.9 182.6L809.3 184.1L809.6 185.6L809.8 187.1L810 188.6L810.1 190.1L810.3 191.6L810.5 193.1L810.7 194.6L810.9 196.1L811.1 197.6L811.3 199.1L811.6 200.6L811.9 202.1L812.2 203.6L812.5 205.1L812.8 206.6L813.1 208.1L813.4 209.6L813.7 211.1L814.1 212.6L814.4 214.1L814.8 215.6L815.1 217.1L815.5 218.6L815.9 220.1L816.3 221.6L816.7 223.1L817.1 224.6L817.5 226.1L817.9 227.6L818.2 229.1L818.5 230.6L818.8 232.1L819.1 233.6L819.4 235.1L819.7 236.6L819.9 238.1L820.2 239.6L820.4 241.1L820.7 242.6L820.9 244.1L821.1 245.6L821.3 247.1L821.5 248.6L821.7 250.1L821.8 251.6L822 253.1L822 253.1Z" fill="#3274a1" stroke="#4a4a4a" stroke-width="0.7"/>
<path d="M822 117.7L822 117.7L822.1 119.2L822.2 120.7L822.4 122.2L822.7 123.7L823 125.2L823.4 126.7L823.9 128.2L824.7 129.7L825.7 131.2L826.9 132.7L828.3 134.2L829.8 135.7L831.5 137.2L833.2 138.7L835.1 140.2L837 141.7L838.9 143.2L840.7 144.7L842.3 146.2L843.4 147.7L843.7 149.2L843.4 150.7L842.8 152.2L841.9 153.7L841.1 155.2L840.5 156.7L839.9 158.2L839.3 159.7L838.7 161.2L837.9 162.7L836.8 164.2L835.5 165.7L834.1 167.2L832.7 168.7L831.2 170.2L829.9 171.7L828.5 173.2L827.3 174.7L826 176.2L824.8 177.7L823.6 179.2L822 180.7L822 181.1Z" fill="#e1812c" stroke="#4a4a4a" stroke-width="0.7"/>
<line x1="822" y1="147.7" x2="822" y2="172.5" stroke="#5d6873" stroke-width="1.6"/>
<circle cx="822" cy="158.6" r="0.55" fill="#d8d8d8"/>
<path d="M877.7 141.7L877.7 141.7L876.5 143.2L875.6 144.7L874.6 146.2L873.5 147.7L872.5 149.2L871.4 150.7L870.2 152.2L869 153.7L867.9 155.2L866.9 156.7L866.1 158.2L865.5 159.7L865.1 161.2L864.7 162.7L864.4 164.2L864.2 165.7L863.9 167.2L863.6 168.7L863.2 170.2L862.8 171.7L862.2 173.2L861.7 174.7L861.1 176.2L860.4 177.7L859.8 179.2L859 180.7L858.3 182.2L857.5 183.7L856.8 185.2L856.2 186.7L855.8 188.2L855.7 189.7L855.9 191.2L856.4 192.7L857.2 194.2L858.1 195.7L859.2 197.2L860.4 198.7L861.7 200.2L863 201.7L864.5 203.2L866.1 204.7L867.7 206.2L869.2 207.7L870.5 209.2L871.8 210.7L873 212.2L874.2 213.7L875.3 215.2L876.3 216.7L877 218.2L877.7 218.7L877.7 218.8Z" fill="#3274a1" stroke="#4a4a4a" stroke-width="0.7"/>
<path d="M877.7 110.5L877.7 110.5L878 112L878.2 113.5L878.4 115L878.7 116.5L879.1 118L879.5 119.5L879.9 121L880.4 122.5L880.9 124L881.5 125.5L882 127L882.6 128.5L883.2 130L883.7 131.5L884.2 133L884.6 134.5L885.1 136L885.5 137.5L885.9 139L886.4 140.5L886.9 142L887.4 143.5L888.1 145L888.8 146.5L889.7 148L890.7 149.5L891.8 151L892.8 152.5L893.9 154L894.9 155.5L895.8 157L896.8 158.5L897.7 160L898.6 161.5L899.2 163L899.7 164.5L899.8 166L899.7 167.5L899.4 169L898.9 170.5L898.4 172L897.7 173.5L897 175L896.2 176.5L895.3 178L894.2 179.5L893 181L891.7 182.5L890.4 184L889.1 185.5L887.9 187L886.8 188.5L885.8 190L884.8 191.5L883.9 193L883 194.5L882.2 196L881.5 197.5L880.8 199L880.1 200.5L879.6 202L879.1 203.5L878.6 205L878.2 206.5L877.9 208L877.7 208.5L877.7 208.5Z" fill="#e1812c" stroke="#4a4a4a" stroke-width="0.7"/>
<line x1="877.7" y1="159.4" x2="877.7" y2="187.4" stroke="#5d6873" stroke-width="1.6"/>
<circle cx="877.7" cy="173.2" r="0.55" fill="#d8d8d8"/>
<path d="M933.5 102.3L933.5 102.3L933.5 103.8L933.4 105.3L933.4 106.8L933.3 108.3L933.2 109.8L933.1 111.3L933 112.8L932.8 114.3L932.7 115.8L932.5 117.3L932.4 118.8L932.2 120.3L931.9 121.8L931.6 123.3L931.3 124.8L931 126.3L930.5 127.8L930.1 129.3L929.5 130.8L929 132.3L928.3 133.8L927.6 135.3L926.6 136.8L925.4 138.3L924.1 139.8L922.7 141.3L921.3 142.8L920.1 144.3L919 145.8L918 147.3L917.1 148.8L916.3 150.3L915.5 151.8L914.8 153.3L914.1 154.8L913.6 156.3L913.1 157.8L912.7 159.3L912.4 160.8L912.1 162.3L911.8 163.8L911.5 165.3L911.4 166.8L911.3 168.3L911.3 169.8L911.4 171.3L911.7 172.8L912 174.3L912.4 175.8L912.9 177.3L913.4 178.8L914.1 180.3L914.8 181.8L915.8 183.3L916.9 184.8L918.3 186.3L919.7 187.8L921.2 189.3L922.6 190.8L923.9 192.3L925 193.8L926.1 195.3L927.1 196.8L928.1 198.3L929 199.8L929.8 201.3L930.5 202.8L931.1 204.3L931.5 205.8L932 207.3L932.3 208.8L932.7 210.3L932.9 211.8L933.2 213.3L933.3 214.8L933.4 216.3L933.5 216.8L933.5 217.1Z" fill="#3274a1" stroke="#4a4a4a" stroke-width="0.7"/>
<path d="M933.5 107.4L933.5 107.4L933.6 108.9L933.7 110.4L933.8 111.9L934 113.4L934.2 114.9L934.5 116.4L934.9 117.9L935.3 119.4L935.8 120.9L936.6 122.4L937.8 123.9L939.1 125.4L940.6 126.9L942 128.4L943.4 129.9L944.7 131.4L946 132.9L947.3 134.4L948.5 135.9L949.6 137.4L950.7 138.9L951.8 140.4L952.8 141.9L953.7 143.4L954.5 144.9L955 146.4L955.1 147.9L955 149.4L954.5 150.9L953.9 152.4L953.1 153.9L952.2 155.4L951.3 156.9L950.3 158.4L949.3 159.9L948.1 161.4L946.9 162.9L945.7 164.4L944.6 165.9L943.4 167.4L942.3 168.9L941.2 170.4L940.1 171.9L939 173.4L938 174.9L937.1 176.4L936.4 177.9L935.8 179.4L935.3 180.9L935 182.4L934.7 183.9L934.4 185.4L934.2 186.9L934 188.4L933.8 189.9L933.7 191.4L933.5 192.9L933.5 193.1Z" fill="#e1812c" stroke="#4a4a4a" stroke-width="0.7"/>
<line x1="933.5" y1="144.3" x2="933.5" y2="170" stroke="#5d6873" stroke-width="1.6"/>
<circle cx="933.5" cy="156.2" r="0.55" fill="#d8d8d8"/>
<path d="M988.8 182.8L988.8 182.8L988.3 184.3L987.9 185.8L987.3 187.3L986.7 188.8L985.9 190.3L985.2 191.8L984.3 193.3L983.3 194.8L982.2 196.3L981 197.8L979.7 199.3L978.3 200.8L976.9 202.3L975.4 203.8L973.9 205.3L972.4 206.8L970.9 208.3L969.6 209.8L968.5 211.3L967.6 212.8L967 214.3L966.9 215.8L967.3 217.3L968.1 218.8L969.2 220.3L970.5 221.8L971.9 223.3L973.5 224.8L975.3 226.3L977.2 227.8L979.2 229.3L981.1 230.8L982.9 232.3L984.7 233.8L986.2 235.3L987.2 236.8L987.6 238.3L987.7 239.8L987.5 241.3L987.3 242.8L987.1 244.3L987 245.8L986.8 247.3L986.6 248.8L986.5 250.3L986.4 251.8L986.3 253.3L986.2 254.8L986.3 256.3L986.4 257.8L986.6 259.3L986.8 260.8L987.1 262.3L987.4 263.8L987.8 265.3L988.2 266.8L988.8 268.3L988.8 268.5Z" fill="#3274a1" stroke="#4a4a4a" stroke-width="0.7"/>
<path d="M988.8 137.4L988.8 137.4L989.3 138.9L989.7 140.4L990.2 141.9L990.8 143.4L991.4 144.9L992.1 146.4L992.8 147.9L993.6 149.4L994.6 150.9L995.6 152.4L996.7 153.9L997.8 155.4L998.8 156.9L999.6 158.4L1000.3 159.9L1000.9 161.4L1001.5 162.9L1002 164.4L1002.4 165.9L1002.7 167.4L1002.9 168.9L1003 170.4L1003.1 171.9L1003.2 173.4L1003.2 174.9L1003.3 176.4L1003.4 177.9L1003.5 179.4L1003.8 180.9L1004.3 182.4L1004.9 183.9L1005.6 185.4L1006.4 186.9L1007.1 188.4L1007.8 189.9L1008.4 191.4L1009 192.9L1009.6 194.4L1010.2 195.9L1010.6 197.4L1010.9 198.9L1010.9 200.4L1010.7 201.9L1010.3 203.4L1009.7 204.9L1009 206.4L1008.2 207.9L1007.3 209.4L1006.3 210.9L1005.1 212.4L1003.8 213.9L1002.3 215.4L1000.8 216.9L999.4 218.4L998 219.9L996.7 221.4L995.5 222.9L994.4 224.4L993.4 225.9L992.4 227.4L991.6 228.9L990.8 230.4L990.2 231.9L989.6 233.4L989.2 234.9L988.8 235.9L988.8 236Z" fill="#e1812c" stroke="#4a4a4a" stroke-width="0.7"/>
<line x1="988.8" y1="190.6" x2="988.8" y2="217.7" stroke="#5d6873" stroke-width="1.6"/>
<circle cx="988.8" cy="206.5" r="0.55" fill="#d8d8d8"/>
<path d="M1044.5 114.3L1044.5 114.3L1044.4 115.8L1044.4 117.3L1044.3 118.8L1044.1 120.3L1044 121.8L1043.8 123.3L1043.5 124.8L1043.1 126.3L1042.5 127.8L1041.8 129.3L1040.9 130.8L1040 132.3L1039.1 133.8L1038.2 135.3L1037.2 136.8L1036.1 138.3L1035 139.8L1033.8 141.3L1032.6 142.8L1031.4 144.3L1030.2 145.8L1028.8 147.3L1027.5 148.8L1026.2 150.3L1025.1 151.8L1024.2 153.3L1023.6 154.8L1023.1 156.3L1022.7 157.8L1022.4 159.3L1022.4 160.8L1022.6 162.3L1023.1 163.8L1023.8 165.3L1024.6 166.8L1025.3 168.3L1026 169.8L1026.6 171.3L1027.1 172.8L1027.5 174.3L1027.9 175.8L1028.3 177.3L1028.6 178.8L1028.9 180.3L1029.2 181.8L1029.5 183.3L1029.7 184.8L1029.9 186.3L1030.1 187.8L1030.4 189.3L1030.7 190.8L1031.2 192.3L1031.9 193.8L1032.7 195.3L1033.6 196.8L1034.6 198.3L1035.6 199.8L1036.5 201.3L1037.4 202.8L1038.3 204.3L1039.2 205.8L1040 207.3L1040.8 208.8L1041.5 210.3L1042.1 211.8L1042.6 213.3L1043 214.8L1043.3 216.3L1043.5 217.8L1043.8 219.3L1043.9 220.8L1044.1 222.3L1044.2 223.8L1044.2 225.3L1044.3 226.8L1044.3 228.3L1044.3 229.8L1044.4 231.3L1044.4 232.8L1044.4 234.3L1044.4 235.8L1044.5 237.3L1044.5 238.8L1044.5 240.3L1044.5 241.8L1044.5 243.3L1044.5 243.7Z" fill="#3274a1" stroke="#4a4a4a" stroke-width="0.7"/>
<path d="M1044.5 117.7L1044.5 117.7L1044.6 119.2L1044.7 120.7L1044.9 122.2L1045.2 123.7L1045.5 125.2L1045.9 126.7L1046.6 128.2L1047.6 129.7L1048.9 131.2L1050.6 132.7L1052.4 134.2L1054.4 135.7L1056.5 137.2L1058.7 138.7L1060.8 140.2L1062.5 141.7L1063.7 143.2L1064.6 144.7L1065.1 146.2L1065.5 147.7L1065.7 149.2L1065.9 150.7L1065.9 152.2L1065.9 153.7L1065.9 155.2L1065.9 156.7L1065.6 158.2L1065 159.7L1063.7 161.2L1061.9 162.7L1059.7 164.2L1057.4 165.7L1055.1 167.2L1052.9 168.7L1050.8 170.2L1049.1 171.7L1047.7 173.2L1046.7 174.7L1045.9 176.2L1045.3 177.7L1044.9 179.2L1044.5 180.7L1044.5 181.1Z" fill="#e1812c" stroke="#4a4a4a" stroke-width="0.7"/>
<line x1="1044.5" y1="147.2" x2="1044.5" y2="169.3" stroke="#5d6873" stroke-width="1.6"/>
<circle cx="1044.5" cy="157.5" r="0.55" fill="#d8d8d8"/>
<path d="M1100.5 190.5L1100.5 190.5L1100.4 192L1100.2 193.5L1100 195L1099.7 196.5L1099.3 198L1098.9 199.5L1098.4 201L1097.9 202.5L1097.1 204L1096.2 205.5L1095 207L1093.8 208.5L1092.6 210L1091.4 211.5L1090.2 213L1089.1 214.5L1088.1 216L1087 217.5L1085.9 219L1084.8 220.5L1083.8 222L1082.9 223.5L1082.1 225L1081.5 226.5L1081 228L1080.6 229.5L1080.2 231L1079.8 232.5L1079.5 234L1079.2 235.5L1078.9 237L1078.7 238.5L1078.5 240L1078.4 241.5L1078.3 243L1078.3 244.5L1078.3 246L1078.4 247.5L1078.6 249L1078.9 250.5L1079.2 252L1079.6 253.5L1080 255L1080.4 256.5L1080.9 258L1081.3 259.5L1081.8 261L1082.3 262.5L1082.9 264L1083.5 265.5L1084.2 267L1085 268.5L1085.8 270L1086.6 271.5L1087.4 273L1088.3 274.5L1089.1 276L1089.9 277.5L1090.7 279L1091.5 280.5L1092.3 282L1093.1 283.5L1094 285L1094.8 286.5L1095.6 288L1096.3 289.5L1097 291L1097.6 292.5L1098.2 294L1098.6 295.5L1099 297L1099.4 298.5L1099.7 300L1100 301.5L1100.3 303L1100.5 304.5L1100.5 304.5Z" fill="#3274a1" stroke="#4a4a4a" stroke-width="0.7"/>
<path d="M1100.5 203.4L1100.5 203.4L1100.9 204.9L1101.2 206.4L1101.5 207.9L1101.8 209.4L1102.1 210.9L1102.4 212.4L1102.7 213.9L1103 215.4L1103.3 216.9L1103.6 218.4L1103.9 219.9L1104.1 221.4L1104.4 222.9L1104.6 224.4L1104.8 225.9L1105 227.4L1105.2 228.9L1105.4 230.4L1105.6 231.9L1105.8 233.4L1106 234.9L1106.2 236.4L1106.5 237.9L1106.9 239.4L1107.3 240.9L1107.7 242.4L1108.3 243.9L1109 245.4L1109.7 246.9L1110.4 248.4L1111.2 249.9L1111.9 251.4L1112.7 252.9L1113.5 254.4L1114.4 255.9L1115.3 257.4L1116.3 258.9L1117.2 260.4L1118 261.9L1118.8 263.4L1119.5 264.9L1120.2 266.4L1120.9 267.9L1121.5 269.4L1122 270.9L1122.3 272.4L1122.3 273.9L1122.1 275.4L1121.4 276.9L1120.6 278.4L1119.5 279.9L1118.3 281.4L1117.2 282.9L1116 284.4L1114.8 285.9L1113.5 287.4L1112.2 288.9L1110.9 290.4L1109.5 291.9L1108.2 293.4L1106.9 294.9L1105.7 296.4L1104.6 297.9L1103.5 299.4L1102.5 300.9L1101.6 302.4L1100.5 303.4L1100.5 303.7Z" fill="#e1812c" stroke="#4a4a4a" stroke-width="0.7"/>
<line x1="1100.5" y1="238.2" x2="1100.5" y2="273" stroke="#5d6873" stroke-width="1.6"/>
<circle cx="1100.5" cy="257.4" r="0.55" fill="#d8d8d8"/>
<path d="M1156.2 22.6L1156.2 22.6L1156.2 24.1L1156.2 25.6L1156.2 27.1L1156.2 28.6L1156.2 30.1L1156.2 31.6L1156.2 33.1L1156.2 34.6L1156.1 36.1L1156.1 37.6L1156.1 39.1L1156.1 40.6L1156.1 42.1L1156.1 43.6L1156.1 45.1L1156.1 46.6L1156 48.1L1156 49.6L1156 51.1L1156 52.6L1155.9 54.1L1155.9 55.6L1155.9 57.1L1155.8 58.6L1155.8 60.1L1155.7 61.6L1155.6 63.1L1155.6 64.6L1155.5 66.1L1155.4 67.6L1155.3 69.1L1155.2 70.6L1155.1 72.1L1155 73.6L1154.9 75.1L1154.8 76.6L1154.6 78.1L1154.5 79.6L1154.2 81.1L1154 82.6L1153.7 84.1L1153.4 85.6L1153.1 87.1L1152.7 88.6L1152.4 90.1L1152 91.6L1151.7 93.1L1151.3 94.6L1151 96.1L1150.6 97.6L1150.3 99.1L1150 100.6L1149.7 102.1L1149.5 103.6L1149.2 105.1L1149 106.6L1148.7 108.1L1148.4 109.6L1148.2 111.1L1147.9 112.6L1147.7 114.1L1147.4 115.6L1147.2 117.1L1147 118.6L1146.8 120.1L1146.6 121.6L1146.4 123.1L1146.2 124.6L1146.1 126.1L1145.9 127.6L1145.8 129.1L1145.7 130.6L1145.6 132.1L1145.6 133.6L1145.5 135.1L1145.4 136.6L1145.4 138.1L1145.3 139.6L1145.3 141.1L1145.2 142.6L1145.1 144.1L1145.1 145.6L1145 147.1L1144.9 148.6L1144.8 150.1L1144.7 151.6L1144.5 153.1L1144.3 154.6L1144 156.1L1143.6 157.6L1143.1 159.1L1142.5 160.6L1141.9 162.1L1141.3 163.6L1140.6 165.1L1140 166.6L1139.4 168.1L1138.9 169.6L1138.4 171.1L1138 172.6L1137.6 174.1L1137.2 175.6L1136.8 177.1L1136.4 178.6L1136.1 180.1L1135.8 181.6L1135.5 183.1L1135.2 184.6L1135 186.1L1134.9 187.6L1134.7 189.1L1134.6 190.6L1134.6 192.1L1134.5 193.6L1134.4 195.1L1134.4 196.6L1134.3 198.1L1134.3 199.6L1134.4 201.1L1134.6 202.6L1134.9 204.1L1135.2 205.6L1135.7 207.1L1136.1 208.6L1136.6 210.1L1137.1 211.6L1137.5 213.1L1137.9 214.6L1138.3 216.1L1138.7 217.6L1139.1 219.1L1139.4 220.6L1139.8 222.1L1140.2 223.6L1140.6 225.1L1141 226.6L1141.3 228.1L1141.7 229.6L1142.1 231.1L1142.4 232.6L1142.8 234.1L1143.1 235.6L1143.5 237.1L1143.9 238.6L1144.2 240.1L1144.6 241.6L1144.9 243.1L1145.3 244.6L1145.6 246.1L1145.9 247.6L1146.3 249.1L1146.6 250.6L1147 252.1L1147.3 253.6L1147.7 255.1L1148 256.6L1148.4 258.1L1148.8 259.6L1149.2 261.1L1149.5 262.6L1149.9 264.1L1150.4 265.6L1150.8 267.1L1151.1 268.6L1151.5 270.1L1151.9 271.6L1152.3 273.1L1152.6 274.6L1152.9 276.1L1153.2 277.6L1153.5 279.1L1153.7 280.6L1154 282.1L1154.2 283.6L1154.3 285.1L1154.5 286.6L1154.7 288.1L1154.9 289.6L1155 291.1L1155.2 292.6L1155.3 294.1L1155.5 295.6L1155.6 297.1L1155.7 298.6L1155.8 300.1L1155.9 301.6L1156 303.1L1156.1 304.6L1156.1 306.1L1156.2 307.6L1156.2 309.1L1156.2 309.6L1156.2 309.7Z" fill="#3274a1" stroke="#4a4a4a" stroke-width="0.7"/>
<path d="M1156.2 136.6L1156.2 136.6L1156.5 138.1L1156.7 139.6L1157 141.1L1157.3 142.6L1157.6 144.1L1158 145.6L1158.3 147.1L1158.7 148.6L1159.1 150.1L1159.4 151.6L1159.8 153.1L1160.3 154.6L1160.7 156.1L1161.1 157.6L1161.6 159.1L1162.1 160.6L1162.6 162.1L1163.2 163.6L1163.7 165.1L1164.3 166.6L1164.9 168.1L1165.5 169.6L1166.2 171.1L1166.9 172.6L1167.7 174.1L1168.6 175.6L1169.5 177.1L1170.4 178.6L1171.3 180.1L1172.2 181.6L1173 183.1L1173.7 184.6L1174.4 186.1L1175 187.6L1175.6 189.1L1176.1 190.6L1176.6 192.1L1177.1 193.6L1177.5 195.1L1177.9 196.6L1178.1 198.1L1178.2 199.6L1178.2 201.1L1178.1 202.6L1177.9 204.1L1177.6 205.6L1177.2 207.1L1176.8 208.6L1176.4 210.1L1176 211.6L1175.6 213.1L1175.1 214.6L1174.6 216.1L1174 217.6L1173.4 219.1L1172.8 220.6L1172.2 222.1L1171.6 223.6L1171.1 225.1L1170.6 226.6L1170.1 228.1L1169.7 229.6L1169.2 231.1L1168.8 232.6L1168.5 234.1L1168.2 235.6L1167.9 237.1L1167.8 238.6L1167.8 240.1L1167.8 241.6L1167.9 243.1L1168 244.6L1168.2 246.1L1168.3 247.6L1168.4 249.1L1168.4 250.6L1168.4 252.1L1168.3 253.6L1168.1 255.1L1167.7 256.6L1167.3 258.1L1166.9 259.6L1166.4 261.1L1165.9 262.6L1165.4 264.1L1164.9 265.6L1164.3 267.1L1163.7 268.6L1163 270.1L1162.3 271.6L1161.6 273.1L1160.9 274.6L1160.2 276.1L1159.6 277.6L1159 279.1L1158.5 280.6L1158.1 282.1L1157.6 283.6L1157.2 285.1L1156.8 286.6L1156.5 288.1L1156.2 289.1L1156.2 289.1Z" fill="#e1812c" stroke="#4a4a4a" stroke-width="0.7"/>
<line x1="1156.2" y1="175.6" x2="1156.2" y2="228.4" stroke="#5d6873" stroke-width="1.6"/>
<circle cx="1156.2" cy="201.1" r="0.55" fill="#d8d8d8"/>
<path d="M1211.9 155.4L1211.9 155.4L1211.4 156.9L1210.9 158.4L1210.3 159.9L1209.6 161.4L1208.8 162.9L1207.8 164.4L1206.8 165.9L1205.6 167.4L1204.2 168.9L1202.6 170.4L1201 171.9L1199.4 173.4L1197.9 174.9L1196.5 176.4L1195.2 177.9L1193.9 179.4L1192.7 180.9L1191.6 182.4L1190.8 183.9L1190.4 185.4L1190.4 186.9L1190.7 188.4L1191.4 189.9L1192.3 191.4L1193.4 192.9L1194.5 194.4L1195.9 195.9L1197.4 197.4L1199.1 198.9L1200.7 200.4L1202.2 201.9L1203.6 203.4L1204.9 204.9L1206.1 206.4L1207.2 207.9L1208.2 209.4L1209.1 210.9L1209.8 212.4L1210.4 213.9L1210.9 215.4L1211.3 216.9L1211.6 218.4L1211.9 219.4L1211.9 219.7Z" fill="#3274a1" stroke="#4a4a4a" stroke-width="0.7"/>
<path d="M1211.9 142.6L1211.9 142.6L1213.1 144.1L1214 145.6L1215.1 147.1L1216.2 148.6L1217.2 150.1L1218.3 151.6L1219.4 153.1L1220.5 154.6L1221.7 156.1L1223.1 157.6L1224.7 159.1L1226.5 160.6L1228.4 162.1L1230.5 163.6L1232.1 165.1L1232.8 166.6L1231.9 168.1L1229.8 169.6L1227.1 171.1L1224.1 172.6L1221.2 174.1L1218.4 175.6L1215.8 177.1L1213.8 178.6L1211.9 179.1L1211.9 179.4Z" fill="#e1812c" stroke="#4a4a4a" stroke-width="0.7"/>
<line x1="1211.9" y1="164.2" x2="1211.9" y2="186.5" stroke="#5d6873" stroke-width="1.6"/>
<circle cx="1211.9" cy="172.3" r="0.55" fill="#d8d8d8"/>
<path d="M1267.6 126.3L1267.6 126.3L1267.5 127.8L1267.4 129.3L1267.2 130.8L1267 132.3L1266.7 133.8L1266.4 135.3L1266 136.8L1265.6 138.3L1264.9 139.8L1264 141.3L1262.9 142.8L1261.7 144.3L1260.3 145.8L1258.9 147.3L1257.6 148.8L1256.3 150.3L1255 151.8L1253.7 153.3L1252.4 154.8L1251.2 156.3L1250.1 157.8L1249.3 159.3L1248.7 160.8L1248.2 162.3L1247.8 163.8L1247.4 165.3L1247.1 166.8L1246.8 168.3L1246.6 169.8L1246.3 171.3L1246.1 172.8L1246 174.3L1245.9 175.8L1245.8 177.3L1245.8 178.8L1245.9 180.3L1246.1 181.8L1246.4 183.3L1246.9 184.8L1247.5 186.3L1248.1 187.8L1248.7 189.3L1249.4 190.8L1250 192.3L1250.5 193.8L1251 195.3L1251.6 196.8L1252.1 198.3L1252.6 199.8L1253.1 201.3L1253.6 202.8L1254.1 204.3L1254.7 205.8L1255.2 207.3L1255.8 208.8L1256.3 210.3L1256.9 211.8L1257.5 213.3L1258.1 214.8L1258.7 216.3L1259.3 217.8L1260 219.3L1260.6 220.8L1261.2 222.3L1261.8 223.8L1262.3 225.3L1262.9 226.8L1263.4 228.3L1263.9 229.8L1264.4 231.3L1264.9 232.8L1265.4 234.3L1265.8 235.8L1266.2 237.3L1266.5 238.8L1266.7 240.3L1266.9 241.8L1267.1 243.3L1267.2 244.8L1267.4 246.3L1267.5 247.8L1267.5 249.3L1267.6 250.8L1267.6 251.3L1267.6 251.4Z" fill="#3274a1" stroke="#4a4a4a" stroke-width="0.7"/>
<path d="M1267.6 129.7L1267.6 129.7L1268.8 131.2L1269.7 132.7L1270.8 134.2L1271.9 135.7L1273 137.2L1274.1 138.7L1275.3 140.2L1276.6 141.7L1277.9 143.2L1279.2 144.7L1280.5 146.2L1281.8 147.7L1282.9 149.2L1283.9 150.7L1284.8 152.2L1285.7 153.7L1286.6 155.2L1287.4 156.7L1288.1 158.2L1288.7 159.7L1289.2 161.2L1289.4 162.7L1289.5 164.2L1289.2 165.7L1288.7 167.2L1288 168.7L1287 170.2L1286 171.7L1284.9 173.2L1283.7 174.7L1282.6 176.2L1281.5 177.7L1280.3 179.2L1279 180.7L1277.7 182.2L1276.4 183.7L1275.3 185.2L1274.3 186.7L1273.4 188.2L1272.7 189.7L1272 191.2L1271.4 192.7L1270.9 194.2L1270.4 195.7L1269.9 197.2L1269.5 198.7L1269.1 200.2L1268.7 201.7L1268.3 203.2L1268 204.7L1267.8 206.2L1267.6 206.7L1267.6 206.8Z" fill="#e1812c" stroke="#4a4a4a" stroke-width="0.7"/>
<line x1="1267.6" y1="157.8" x2="1267.6" y2="185.4" stroke="#5d6873" stroke-width="1.6"/>
<circle cx="1267.6" cy="170.1" r="0.55" fill="#d8d8d8"/>
<rect x="738.6" y="8.3" width="556.9" height="316" fill="none" stroke="#6b6b6b" stroke-width="1"/>
<line x1="735.6" y1="32.3" x2="738.6" y2="32.3" stroke="#6b6b6b" stroke-width="0.8"/>
<line x1="735.6" y1="72.8" x2="738.6" y2="72.8" stroke="#6b6b6b" stroke-width="0.8"/>
<line x1="735.6" y1="113.2" x2="738.6" y2="113.2" stroke="#6b6b6b" stroke-width="0.8"/>
<line x1="735.6" y1="153.6" x2="738.6" y2="153.6" stroke="#6b6b6b" stroke-width="0.8"/>
<line x1="735.6" y1="194" x2="738.6" y2="194" stroke="#6b6b6b" stroke-width="0.8"/>
<line x1="735.6" y1="234.4" x2="738.6" y2="234.4" stroke="#6b6b6b" stroke-width="0.8"/>
<line x1="735.6" y1="274.9" x2="738.6" y2="274.9" stroke="#6b6b6b" stroke-width="0.8"/>
<line x1="735.6" y1="315.3" x2="738.6" y2="315.3" stroke="#6b6b6b" stroke-width="0.8"/>
<text x="718.8" y="35.3" font-family="Liberation Serif" font-size="13.8" text-anchor="middle" fill="#000" stroke="#000" stroke-width="0.25" textLength="27.2" lengthAdjust="spacingAndGlyphs">17.5</text>
<text x="721.5" y="76.3" font-family="Liberation Serif" font-size="13.8" text-anchor="middle" fill="#000" stroke="#000" stroke-width="0.25" textLength="14.6" lengthAdjust="spacingAndGlyphs">15</text>
<text x="718.8" y="117.7" font-family="Liberation Serif" font-size="13.8" text-anchor="middle" fill="#000" stroke="#000" stroke-width="0.25" textLength="27.2" lengthAdjust="spacingAndGlyphs">12.5</text>
<text x="721.5" y="157.3" font-family="Liberation Serif" font-size="13.8" text-anchor="middle" fill="#000" stroke="#000" stroke-width="0.25" textLength="14.6" lengthAdjust="spacingAndGlyphs">10</text>
<text x="720.4" y="197" font-family="Liberation Serif" font-size="13.8" text-anchor="middle" fill="#000" stroke="#000" stroke-width="0.25" textLength="20.3" lengthAdjust="spacingAndGlyphs">7.5</text>
<text x="721" y="237.6" font-family="Liberation Serif" font-size="13.8" text-anchor="middle" fill="#000" stroke="#000" stroke-width="0.25" textLength="7.7" lengthAdjust="spacingAndGlyphs">5</text>
<text x="720.4" y="279.5" font-family="Liberation Serif" font-size="13.8" text-anchor="middle" fill="#000" stroke="#000" stroke-width="0.25" textLength="20.3" lengthAdjust="spacingAndGlyphs">2.5</text>
<text x="720.4" y="320.5" font-family="Liberation Serif" font-size="13.8" text-anchor="middle" fill="#000" stroke="#000" stroke-width="0.25" textLength="20.3" lengthAdjust="spacingAndGlyphs">0.0</text>
<text transform="translate(685.3 157.9) rotate(-90)" font-family="Liberation Serif" font-size="23" text-anchor="middle" fill="#000" textLength="114.4" lengthAdjust="spacingAndGlyphs">Gene expression</text>
<text x="1253.8" y="20.4" font-family="Liberation Serif" font-size="15" text-anchor="middle" fill="#000" stroke="#000" stroke-width="0.3" textLength="36.6" lengthAdjust="spacingAndGlyphs">group</text>
<rect x="1211" y="28.2" width="28" height="9.5" fill="#3274a1" stroke="#4a4a4a" stroke-width="0.6"/>
<rect x="1211" y="47.1" width="28" height="9.5" fill="#e1812c" stroke="#4a4a4a" stroke-width="0.6"/>
<text x="1243.9" y="37.1" font-family="Liberation Serif" font-size="17.3" text-anchor="start" fill="#000" stroke="#000" stroke-width="0.3" textLength="42" lengthAdjust="spacingAndGlyphs">tumor</text>
<text x="1243.9" y="55.4" font-family="Liberation Serif" font-size="17.3" text-anchor="start" fill="#000" stroke="#000" stroke-width="0.3" textLength="49" lengthAdjust="spacingAndGlyphs">normal</text>
<line x1="766.3" y1="323.2" x2="766.3" y2="325" stroke="#6b6b6b" stroke-width="0.8"/>
<text x="766.3" y="336.6" font-family="Liberation Sans" font-size="8.8" text-anchor="middle" fill="#000" stroke="#000" stroke-width="0.3" textLength="30.0" lengthAdjust="spacingAndGlyphs">LMOD1</text>
<text x="766.3" y="346.4" font-family="Liberation Sans" font-size="8.8" text-anchor="middle" fill="#000" stroke="#000" stroke-width="0.3" textLength="44.4" lengthAdjust="spacingAndGlyphs">GSE55945</text>
<line x1="822" y1="323.2" x2="822" y2="325" stroke="#6b6b6b" stroke-width="0.8"/>
<text x="822" y="336.6" font-family="Liberation Sans" font-size="8.8" text-anchor="middle" fill="#000" stroke="#000" stroke-width="0.3" textLength="30.0" lengthAdjust="spacingAndGlyphs">LMOD1</text>
<text x="822" y="346.4" font-family="Liberation Sans" font-size="8.8" text-anchor="middle" fill="#000" stroke="#000" stroke-width="0.3" textLength="38.5" lengthAdjust="spacingAndGlyphs">GSE6919</text>
<line x1="877.7" y1="323.2" x2="877.7" y2="325" stroke="#6b6b6b" stroke-width="0.8"/>
<text x="877.7" y="336.6" font-family="Liberation Sans" font-size="8.8" text-anchor="middle" fill="#000" stroke="#000" stroke-width="0.3" textLength="24.0" lengthAdjust="spacingAndGlyphs">SMTN</text>
<text x="877.7" y="346.4" font-family="Liberation Sans" font-size="8.8" text-anchor="middle" fill="#000" stroke="#000" stroke-width="0.3" textLength="44.4" lengthAdjust="spacingAndGlyphs">GSE55945</text>
<line x1="933.5" y1="323.2" x2="933.5" y2="325" stroke="#6b6b6b" stroke-width="0.8"/>
<text x="933.5" y="336.6" font-family="Liberation Sans" font-size="8.8" text-anchor="middle" fill="#000" stroke="#000" stroke-width="0.3" textLength="24.0" lengthAdjust="spacingAndGlyphs">SMTN</text>
<text x="933.5" y="346.4" font-family="Liberation Sans" font-size="8.8" text-anchor="middle" fill="#000" stroke="#000" stroke-width="0.3" textLength="38.5" lengthAdjust="spacingAndGlyphs">GSE6919</text>
<line x1="988.8" y1="323.2" x2="988.8" y2="325" stroke="#6b6b6b" stroke-width="0.8"/>
<text x="988.8" y="336.6" font-family="Liberation Sans" font-size="8.8" text-anchor="middle" fill="#000" stroke="#000" stroke-width="0.3" textLength="30.0" lengthAdjust="spacingAndGlyphs">CALD1</text>
<text x="988.8" y="346.4" font-family="Liberation Sans" font-size="8.8" text-anchor="middle" fill="#000" stroke="#000" stroke-width="0.3" textLength="44.4" lengthAdjust="spacingAndGlyphs">GSE55945</text>
<line x1="1044.5" y1="323.2" x2="1044.5" y2="325" stroke="#6b6b6b" stroke-width="0.8"/>
<text x="1044.5" y="336.6" font-family="Liberation Sans" font-size="8.8" text-anchor="middle" fill="#000" stroke="#000" stroke-width="0.3" textLength="30.0" lengthAdjust="spacingAndGlyphs">CALD1</text>
<text x="1044.5" y="346.4" font-family="Liberation Sans" font-size="8.8" text-anchor="middle" fill="#000" stroke="#000" stroke-width="0.3" textLength="38.5" lengthAdjust="spacingAndGlyphs">GSE6919</text>
<line x1="1100.5" y1="323.2" x2="1100.5" y2="325" stroke="#6b6b6b" stroke-width="0.8"/>
<text x="1100.5" y="336.6" font-family="Liberation Sans" font-size="8.8" text-anchor="middle" fill="#000" stroke="#000" stroke-width="0.3" textLength="24.0" lengthAdjust="spacingAndGlyphs">SPP1</text>
<text x="1100.5" y="346.4" font-family="Liberation Sans" font-size="8.8" text-anchor="middle" fill="#000" stroke="#000" stroke-width="0.3" textLength="44.4" lengthAdjust="spacingAndGlyphs">GSE55945</text>
<line x1="1156.2" y1="323.2" x2="1156.2" y2="325" stroke="#6b6b6b" stroke-width="0.8"/>
<text x="1156.2" y="336.6" font-family="Liberation Sans" font-size="8.8" text-anchor="middle" fill="#000" stroke="#000" stroke-width="0.3" textLength="24.0" lengthAdjust="spacingAndGlyphs">SPP1</text>
<text x="1156.2" y="346.4" font-family="Liberation Sans" font-size="8.8" text-anchor="middle" fill="#000" stroke="#000" stroke-width="0.3" textLength="38.5" lengthAdjust="spacingAndGlyphs">GSE6919</text>
<line x1="1211.9" y1="323.2" x2="1211.9" y2="325" stroke="#6b6b6b" stroke-width="0.8"/>
<text x="1211.9" y="336.6" font-family="Liberation Sans" font-size="8.8" text-anchor="middle" fill="#000" stroke="#000" stroke-width="0.3" textLength="24.0" lengthAdjust="spacingAndGlyphs">CAV1</text>
<text x="1211.9" y="346.4" font-family="Liberation Sans" font-size="8.8" text-anchor="middle" fill="#000" stroke="#000" stroke-width="0.3" textLength="44.4" lengthAdjust="spacingAndGlyphs">GSE55945</text>
<line x1="1267.6" y1="323.2" x2="1267.6" y2="325" stroke="#6b6b6b" stroke-width="0.8"/>
<text x="1267.6" y="336.6" font-family="Liberation Sans" font-size="8.8" text-anchor="middle" fill="#000" stroke="#000" stroke-width="0.3" textLength="24.0" lengthAdjust="spacingAndGlyphs">CAV1</text>
<text x="1267.6" y="346.4" font-family="Liberation Sans" font-size="8.8" text-anchor="middle" fill="#000" stroke="#000" stroke-width="0.3" textLength="38.5" lengthAdjust="spacingAndGlyphs">GSE6919</text>
<path d="M434.3 533.7L434.3 533.7L433.9 535.2L433.5 536.7L433.2 538.2L432.8 539.7L432.4 541.2L432 542.7L431.5 544.2L431.1 545.7L430.7 547.2L430.3 548.7L429.9 550.2L429.5 551.7L429 553.2L428.6 554.7L428.1 556.2L427.6 557.7L427 559.2L426.3 560.7L425.5 562.2L424.6 563.7L423.5 565.2L422.4 566.7L421.3 568.2L420.1 569.7L419.1 571.2L418 572.7L417.1 574.2L416.2 575.7L415.4 577.2L414.6 578.7L413.9 580.2L413.3 581.7L412.8 583.2L412.5 584.7L412.3 586.2L412.2 587.7L412.1 589.2L412.1 590.7L412.1 592.2L412.3 593.7L412.7 595.2L413.4 596.7L414.3 598.2L415.2 599.7L416.2 601.2L417.2 602.7L418.3 604.2L419.5 605.7L420.7 607.2L422 608.7L423.2 610.2L424.4 611.7L425.5 613.2L426.5 614.7L427.5 616.2L428.5 617.7L429.4 619.2L430.2 620.7L431 622.2L431.6 623.7L432.2 625.2L432.8 626.7L433.3 628.2L433.7 629.7L434 631.2L434.3 632.2L434.3 632.3Z" fill="#3274a1" stroke="#4a4a4a" stroke-width="0.7"/>
<path d="M434.3 507.1L434.3 507.1L434.9 508.6L435.4 510.1L435.9 511.6L436.4 513.1L437 514.6L437.6 516.1L438.1 517.6L438.7 519.1L439.3 520.6L439.9 522.1L440.6 523.6L441.2 525.1L441.8 526.6L442.5 528.1L443.2 529.6L443.8 531.1L444.5 532.6L445.2 534.1L446 535.6L446.7 537.1L447.5 538.6L448.3 540.1L449.1 541.6L449.9 543.1L450.6 544.6L451.3 546.1L452 547.6L452.6 549.1L453.2 550.6L453.9 552.1L454.5 553.6L455 555.1L455.6 556.6L456 558.1L456.3 559.6L456.4 561.1L456.3 562.6L456 564.1L455.3 565.6L454.5 567.1L453.4 568.6L452.3 570.1L451.1 571.6L449.8 573.1L448.5 574.6L446.9 576.1L445.3 577.6L443.7 579.1L442.2 580.6L440.8 582.1L439.5 583.6L438.3 585.1L437.2 586.6L436.2 588.1L435.3 589.6L434.3 591.1L434.3 591.1Z" fill="#e1812c" stroke="#4a4a4a" stroke-width="0.7"/>
<line x1="434.3" y1="553.3" x2="434.3" y2="587.3" stroke="#5d6873" stroke-width="1.6"/>
<circle cx="434.3" cy="569.8" r="0.55" fill="#d8d8d8"/>
<path d="M490 397.4L490 397.4L490 398.9L490 400.4L489.9 401.9L489.9 403.4L489.9 404.9L489.8 406.4L489.8 407.9L489.7 409.4L489.6 410.9L489.5 412.4L489.3 413.9L489.1 415.4L488.7 416.9L488.2 418.4L487.7 419.9L487.1 421.4L486.5 422.9L485.8 424.4L485.2 425.9L484.5 427.4L483.8 428.9L483 430.4L482.1 431.9L481.2 433.4L480.3 434.9L479.4 436.4L478.5 437.9L477.6 439.4L476.8 440.9L476 442.4L475.3 443.9L474.7 445.4L474 446.9L473.4 448.4L472.8 449.9L472.2 451.4L471.6 452.9L471.1 454.4L470.6 455.9L470.2 457.4L469.8 458.9L469.5 460.4L469.2 461.9L469 463.4L468.7 464.9L468.5 466.4L468.3 467.9L468.1 469.4L468 470.9L467.9 472.4L467.8 473.9L467.7 475.4L467.8 476.9L467.8 478.4L468 479.9L468.2 481.4L468.4 482.9L468.7 484.4L469 485.9L469.3 487.4L469.7 488.9L470 490.4L470.4 491.9L470.8 493.4L471.2 494.9L471.7 496.4L472.2 497.9L472.7 499.4L473.2 500.9L473.7 502.4L474.2 503.9L474.6 505.4L475 506.9L475.3 508.4L475.5 509.9L475.8 511.4L475.9 512.9L476.1 514.4L476.3 515.9L476.4 517.4L476.6 518.9L476.7 520.4L476.8 521.9L476.9 523.4L477 524.9L477.1 526.4L477.2 527.9L477.3 529.4L477.3 530.9L477.4 532.4L477.5 533.9L477.5 535.4L477.6 536.9L477.6 538.4L477.7 539.9L477.7 541.4L477.8 542.9L477.9 544.4L478 545.9L478.1 547.4L478.2 548.9L478.3 550.4L478.5 551.9L478.6 553.4L478.8 554.9L479 556.4L479.2 557.9L479.4 559.4L479.7 560.9L479.9 562.4L480.1 563.9L480.3 565.4L480.6 566.9L480.8 568.4L481 569.9L481.3 571.4L481.5 572.9L481.7 574.4L482 575.9L482.2 577.4L482.5 578.9L482.7 580.4L483 581.9L483.2 583.4L483.5 584.9L483.8 586.4L484 587.9L484.3 589.4L484.6 590.9L484.8 592.4L485.1 593.9L485.3 595.4L485.5 596.9L485.8 598.4L486 599.9L486.2 601.4L486.4 602.9L486.7 604.4L486.9 605.9L487.1 607.4L487.3 608.9L487.6 610.4L487.8 611.9L488 613.4L488.2 614.9L488.4 616.4L488.5 617.9L488.7 619.4L488.8 620.9L489 622.4L489.1 623.9L489.2 625.4L489.3 626.9L489.4 628.4L489.5 629.9L489.6 631.4L489.7 632.9L489.8 634.4L489.9 635.9L489.9 637.4L490 638.9L490 639.9L490 640Z" fill="#3274a1" stroke="#4a4a4a" stroke-width="0.7"/>
<path d="M490 423.1L490 423.1L490.6 424.6L491.2 426.1L492 427.6L492.9 429.1L494.1 430.6L495.6 432.1L497.4 433.6L499.3 435.1L501.3 436.6L503 438.1L504.6 439.6L506.1 441.1L507.5 442.6L508.7 444.1L509.7 445.6L510.5 447.1L511 448.6L511.4 450.1L511.8 451.6L512 453.1L512.2 454.6L512.2 456.1L512.1 457.6L511.9 459.1L511.6 460.6L511.3 462.1L510.9 463.6L510.5 465.1L510 466.6L509.6 468.1L509.1 469.6L508.6 471.1L508 472.6L507.3 474.1L506.6 475.6L505.8 477.1L504.8 478.6L503.6 480.1L502.1 481.6L500.6 483.1L499 484.6L497.7 486.1L496.6 487.6L495.8 489.1L495.2 490.6L494.8 492.1L494.4 493.6L494 495.1L493.7 496.6L493.4 498.1L493.1 499.6L492.8 501.1L492.5 502.6L492.2 504.1L491.9 505.6L491.6 507.1L491.3 508.6L491 510.1L490.7 511.6L490.5 513.1L490.2 514.6L490 515.6L490 515.7Z" fill="#e1812c" stroke="#4a4a4a" stroke-width="0.7"/>
<line x1="490" y1="453.3" x2="490" y2="498.3" stroke="#5d6873" stroke-width="1.6"/>
<circle cx="490" cy="470.8" r="0.55" fill="#d8d8d8"/>
<path d="M546 442.8L546 442.8L545 444.3L544 445.8L542.8 447.3L541.4 448.8L539.8 450.3L537.9 451.8L535.6 453.3L533.3 454.8L531.1 456.3L529.1 457.8L527.5 459.3L526 460.8L525 462.3L524.4 463.8L524.3 465.3L524.6 466.8L525.2 468.3L525.9 469.8L526.6 471.3L527.3 472.8L527.8 474.3L528.1 475.8L528.4 477.3L528.6 478.8L528.7 480.3L528.9 481.8L529.2 483.3L529.5 484.8L530 486.3L530.7 487.8L531.6 489.3L532.5 490.8L533.6 492.3L534.5 493.8L535.5 495.3L536.4 496.8L537.4 498.3L538.3 499.8L539.2 501.3L540 502.8L540.8 504.3L541.5 505.8L542.2 507.3L542.8 508.8L543.4 510.3L543.9 511.8L544.4 513.3L544.9 514.8L545.3 516.3L545.6 517.8L546 518.8L546 519.1Z" fill="#3274a1" stroke="#4a4a4a" stroke-width="0.7"/>
<path d="M546 415.4L546 415.4L546.4 416.9L546.8 418.4L547.3 419.9L547.8 421.4L548.4 422.9L549 424.4L549.6 425.9L550.3 427.4L551.1 428.9L551.9 430.4L552.8 431.9L553.9 433.4L555.1 434.9L556.7 436.4L558.4 437.9L560.4 439.4L562.3 440.9L564.1 442.4L565.8 443.9L567.1 445.4L567.7 446.9L567.5 448.4L566.5 449.9L565 451.4L563.3 452.9L561.6 454.4L560 455.9L558.3 457.4L556.7 458.9L555.1 460.4L553.7 461.9L552.5 463.4L551.4 464.9L550.5 466.4L549.6 467.9L548.9 469.4L548.1 470.9L547.5 472.4L547 473.9L546.5 475.4L546.2 476.9L546 477.9L546 478Z" fill="#e1812c" stroke="#4a4a4a" stroke-width="0.7"/>
<line x1="546" y1="447.1" x2="546" y2="474.1" stroke="#5d6873" stroke-width="1.6"/>
<circle cx="546" cy="458.7" r="0.55" fill="#d8d8d8"/>
<path d="M601.8 418.9L601.8 418.9L601.8 420.4L601.7 421.9L601.7 423.4L601.6 424.9L601.5 426.4L601.4 427.9L601.3 429.4L601.1 430.9L600.9 432.4L600.4 433.9L599.8 435.4L599.1 436.9L598.2 438.4L597.2 439.9L596.2 441.4L595.1 442.9L594 444.4L592.8 445.9L591.5 447.4L590.1 448.9L588.6 450.4L587.3 451.9L586 453.4L584.9 454.9L584 456.4L583.1 457.9L582.3 459.4L581.5 460.9L580.9 462.4L580.3 463.9L579.9 465.4L579.7 466.9L579.6 468.4L579.7 469.9L579.9 471.4L580.2 472.9L580.5 474.4L580.9 475.9L581.2 477.4L581.4 478.9L581.7 480.4L581.8 481.9L581.9 483.4L581.9 484.9L582 486.4L582 487.9L582.1 489.4L582.1 490.9L582.2 492.4L582.3 493.9L582.4 495.4L582.7 496.9L583.1 498.4L583.6 499.9L584.2 501.4L584.9 502.9L585.6 504.4L586.3 505.9L587.1 507.4L587.7 508.9L588.4 510.4L589 511.9L589.7 513.4L590.4 514.9L591.1 516.4L591.7 517.9L592.4 519.4L593 520.9L593.6 522.4L594.2 523.9L594.8 525.4L595.4 526.9L595.9 528.4L596.5 529.9L597 531.4L597.5 532.9L598 534.4L598.4 535.9L598.7 537.4L599.1 538.9L599.4 540.4L599.7 541.9L600 543.4L600.2 544.9L600.5 546.4L600.7 547.9L601 549.4L601.2 550.9L601.3 552.4L601.5 553.9L601.6 555.4L601.7 556.9L601.8 558.4L601.8 558.5Z" fill="#3274a1" stroke="#4a4a4a" stroke-width="0.7"/>
<path d="M601.8 424.8L601.8 424.8L602.6 426.3L603.3 427.8L604.2 429.3L605.1 430.8L606.2 432.3L607.3 433.8L608.6 435.3L610.1 436.8L611.7 438.3L613.4 439.8L615.1 441.3L616.7 442.8L618.2 444.3L619.7 445.8L621.1 447.3L622.3 448.8L623.2 450.3L623.7 451.8L623.9 453.3L623.8 454.8L623.5 456.3L623.2 457.8L622.9 459.3L622.5 460.8L622.2 462.3L621.9 463.8L621.5 465.3L621.1 466.8L620.6 468.3L619.8 469.8L618.8 471.3L617.4 472.8L615.8 474.3L614.1 475.8L612.4 477.3L610.9 478.8L609.7 480.3L608.5 481.8L607.5 483.3L606.5 484.8L605.6 486.3L604.8 487.8L604.1 489.3L603.5 490.8L603.1 492.3L602.7 493.8L602.4 495.3L602.2 496.8L602 498.3L601.9 499.8L601.8 500.3L601.8 500.3Z" fill="#e1812c" stroke="#4a4a4a" stroke-width="0.7"/>
<line x1="601.8" y1="453.9" x2="601.8" y2="484.5" stroke="#5d6873" stroke-width="1.6"/>
<circle cx="601.8" cy="467.1" r="0.55" fill="#d8d8d8"/>
<path d="M658 421.4L658 421.4L657.3 422.9L656.7 424.4L656 425.9L655.3 427.4L654.5 428.9L653.6 430.4L652.7 431.9L651.7 433.4L650.6 434.9L649.4 436.4L648.1 437.9L646.9 439.4L645.6 440.9L644.4 442.4L643.2 443.9L642.1 445.4L640.9 446.9L639.8 448.4L638.7 449.9L637.8 451.4L637.1 452.9L636.6 454.4L636.2 455.9L635.9 457.4L635.7 458.9L635.6 460.4L635.5 461.9L635.5 463.4L635.7 464.9L635.9 466.4L636.2 467.9L636.7 469.4L637.1 470.9L637.6 472.4L638.1 473.9L638.6 475.4L639.1 476.9L639.7 478.4L640.4 479.9L641.1 481.4L641.8 482.9L642.5 484.4L643.2 485.9L643.9 487.4L644.6 488.9L645.2 490.4L645.9 491.9L646.6 493.4L647.3 494.9L647.9 496.4L648.6 497.9L649.3 499.4L649.9 500.9L650.6 502.4L651.2 503.9L651.8 505.4L652.4 506.9L653.1 508.4L653.7 509.9L654.3 511.4L654.9 512.9L655.4 514.4L655.9 515.9L656.3 517.4L656.6 518.9L657 520.4L657.3 521.9L657.5 523.4L657.7 524.9L658 526.4L658 526.8Z" fill="#3274a1" stroke="#4a4a4a" stroke-width="0.7"/>
<path d="M658 409.1L658 409.1L658.2 410.6L658.4 412.1L658.7 413.6L659 415.1L659.5 416.6L660 418.1L660.7 419.6L661.4 421.1L662.4 422.6L663.6 424.1L664.9 425.6L666.3 427.1L667.9 428.6L669.7 430.1L671.7 431.6L673.6 433.1L675.3 434.6L676.8 436.1L678 437.6L679 439.1L679.7 440.6L679.8 442.1L679.4 443.6L678.5 445.1L677.2 446.6L675.7 448.1L674.1 449.6L672.2 451.1L670.3 452.6L668.3 454.1L666.7 455.6L665.4 457.1L664.5 458.6L663.9 460.1L663.4 461.6L663 463.1L662.6 464.6L662.2 466.1L661.9 467.6L661.5 469.1L661.1 470.6L660.6 472.1L660.2 473.6L659.8 475.1L659.3 476.6L658.9 478.1L658.5 479.6L658 481.1L658 481.4Z" fill="#e1812c" stroke="#4a4a4a" stroke-width="0.7"/>
<line x1="658" y1="440.4" x2="658" y2="468.9" stroke="#5d6873" stroke-width="1.6"/>
<circle cx="658" cy="451.5" r="0.55" fill="#d8d8d8"/>
<path d="M713.7 373.1L713.7 373.1L713.7 374.6L713.7 376.1L713.6 377.6L713.6 379.1L713.5 380.6L713.5 382.1L713.4 383.6L713.3 385.1L713.2 386.6L713.1 388.1L713 389.6L712.9 391.1L712.7 392.6L712.6 394.1L712.4 395.6L712.1 397.1L711.8 398.6L711.4 400.1L711 401.6L710.6 403.1L710.2 404.6L709.7 406.1L709.2 407.6L708.7 409.1L708.1 410.6L707.4 412.1L706.7 413.6L705.9 415.1L705 416.6L704.1 418.1L703.2 419.6L702.2 421.1L701.3 422.6L700.5 424.1L699.6 425.6L698.9 427.1L698.1 428.6L697.3 430.1L696.5 431.6L695.8 433.1L695 434.6L694.4 436.1L693.9 437.6L693.4 439.1L693.1 440.6L692.8 442.1L692.6 443.6L692.4 445.1L692.2 446.6L692.1 448.1L692 449.6L692 451.1L692 452.6L692.1 454.1L692.2 455.6L692.5 457.1L692.8 458.6L693.3 460.1L693.7 461.6L694.2 463.1L694.7 464.6L695.2 466.1L695.7 467.6L696.2 469.1L696.9 470.6L697.5 472.1L698.2 473.6L699 475.1L699.7 476.6L700.4 478.1L701 479.6L701.6 481.1L702.1 482.6L702.6 484.1L703 485.6L703.5 487.1L703.9 488.6L704.3 490.1L704.6 491.6L704.8 493.1L705 494.6L705.1 496.1L705.2 497.6L705.3 499.1L705.4 500.6L705.5 502.1L705.5 503.6L705.6 505.1L705.6 506.6L705.7 508.1L705.7 509.6L705.7 511.1L705.8 512.6L705.8 514.1L705.9 515.6L705.9 517.1L705.9 518.6L706 520.1L706 521.6L706.1 523.1L706.1 524.6L706.2 526.1L706.2 527.6L706.2 529.1L706.3 530.6L706.3 532.1L706.4 533.6L706.4 535.1L706.4 536.6L706.5 538.1L706.5 539.6L706.6 541.1L706.6 542.6L706.7 544.1L706.8 545.6L706.8 547.1L706.9 548.6L707 550.1L707.1 551.6L707.3 553.1L707.4 554.6L707.5 556.1L707.7 557.6L707.8 559.1L708 560.6L708.2 562.1L708.3 563.6L708.5 565.1L708.7 566.6L708.9 568.1L709.1 569.6L709.2 571.1L709.4 572.6L709.6 574.1L709.8 575.6L709.9 577.1L710.1 578.6L710.2 580.1L710.4 581.6L710.5 583.1L710.7 584.6L710.8 586.1L710.9 587.6L711.1 589.1L711.2 590.6L711.4 592.1L711.5 593.6L711.6 595.1L711.8 596.6L711.9 598.1L712 599.6L712.1 601.1L712.2 602.6L712.3 604.1L712.4 605.6L712.5 607.1L712.6 608.6L712.7 610.1L712.8 611.6L712.9 613.1L712.9 614.6L713 616.1L713.1 617.6L713.2 619.1L713.2 620.6L713.3 622.1L713.4 623.6L713.4 625.1L713.5 626.6L713.5 628.1L713.6 629.6L713.6 631.1L713.6 632.6L713.7 634.1L713.7 634.6L713.7 634.8Z" fill="#3274a1" stroke="#4a4a4a" stroke-width="0.7"/>
<path d="M713.7 392.3L713.7 392.3L713.9 393.8L714.1 395.3L714.4 396.8L714.8 398.3L715.3 399.8L715.9 401.3L716.5 402.8L717.4 404.3L718.4 405.8L719.7 407.3L721.1 408.8L722.4 410.3L723.8 411.8L725.1 413.3L726.4 414.8L727.6 416.3L728.9 417.8L730 419.3L731.1 420.8L732.1 422.3L732.9 423.8L733.7 425.3L734.5 426.8L735.1 428.3L735.7 429.8L736.1 431.3L736.3 432.8L736.2 434.3L735.9 435.8L735.3 437.3L734.5 438.8L733.7 440.3L732.8 441.8L732 443.3L731.2 444.8L730.4 446.3L729.7 447.8L728.9 449.3L728.1 450.8L727.4 452.3L726.6 453.8L725.9 455.3L725.1 456.8L724.3 458.3L723.5 459.8L722.7 461.3L721.9 462.8L721.1 464.3L720.3 465.8L719.6 467.3L718.9 468.8L718.3 470.3L717.8 471.8L717.3 473.3L716.8 474.8L716.3 476.3L715.9 477.8L715.5 479.3L715.1 480.8L714.8 482.3L714.4 483.8L714.2 485.3L713.9 486.8L713.7 488.3L713.7 488.3Z" fill="#e1812c" stroke="#4a4a4a" stroke-width="0.7"/>
<line x1="713.7" y1="429.8" x2="713.7" y2="470.5" stroke="#5d6873" stroke-width="1.6"/>
<circle cx="713.7" cy="446.2" r="0.55" fill="#d8d8d8"/>
<path d="M769.6 478.8L769.6 478.8L769 480.3L768.6 481.8L768 483.3L767.4 484.8L766.7 486.3L765.9 487.8L765.1 489.3L764.1 490.8L763.1 492.3L761.9 493.8L760.8 495.3L759.6 496.8L758.5 498.3L757.5 499.8L756.5 501.3L755.5 502.8L754.5 504.3L753.6 505.8L752.7 507.3L751.8 508.8L751.1 510.3L750.4 511.8L749.9 513.3L749.3 514.8L748.8 516.3L748.4 517.8L748 519.3L747.6 520.8L747.4 522.3L747.3 523.8L747.4 525.3L747.7 526.8L748.1 528.3L748.7 529.8L749.4 531.3L750.1 532.8L750.9 534.3L751.7 535.8L752.5 537.3L753.3 538.8L754.2 540.3L755.2 541.8L756.2 543.3L757.2 544.8L758.2 546.3L759.1 547.8L760.1 549.3L760.9 550.8L761.8 552.3L762.7 553.8L763.5 555.3L764.3 556.8L765.1 558.3L765.8 559.8L766.5 561.3L767 562.8L767.6 564.3L768 565.8L768.4 567.3L768.8 568.8L769.1 570.3L769.3 571.8L769.6 572.8L769.6 573.1Z" fill="#3274a1" stroke="#4a4a4a" stroke-width="0.7"/>
<path d="M769.6 456.6L769.6 456.6L770.1 458.1L770.5 459.6L770.9 461.1L771.4 462.6L772 464.1L772.6 465.6L773.2 467.1L773.9 468.6L774.6 470.1L775.4 471.6L776.2 473.1L777.1 474.6L778 476.1L778.9 477.6L779.8 479.1L780.6 480.6L781.5 482.1L782.3 483.6L783.1 485.1L783.8 486.6L784.6 488.1L785.4 489.6L786.1 491.1L786.8 492.6L787.5 494.1L788.1 495.6L788.8 497.1L789.5 498.6L790.2 500.1L790.8 501.6L791.4 503.1L791.8 504.6L792 506.1L792 507.6L791.8 509.1L791.4 510.6L790.9 512.1L790.2 513.6L789.4 515.1L788.5 516.6L787.7 518.1L786.7 519.6L785.6 521.1L784.5 522.6L783.1 524.1L781.8 525.6L780.4 527.1L779 528.6L777.7 530.1L776.5 531.6L775.3 533.1L774.2 534.6L773.1 536.1L772.1 537.6L771.2 539.1L770.4 540.6L769.6 541.1L769.6 541.4Z" fill="#e1812c" stroke="#4a4a4a" stroke-width="0.7"/>
<line x1="769.6" y1="499.4" x2="769.6" y2="526.8" stroke="#5d6873" stroke-width="1.6"/>
<circle cx="769.6" cy="513" r="0.55" fill="#d8d8d8"/>
<path d="M825.7 384.6L825.7 384.6L825.7 386.1L825.7 387.6L825.7 389.1L825.6 390.6L825.6 392.1L825.6 393.6L825.5 395.1L825.5 396.6L825.4 398.1L825.3 399.6L825.3 401.1L825.2 402.6L825.1 404.1L825 405.6L824.8 407.1L824.7 408.6L824.5 410.1L824.3 411.6L824 413.1L823.8 414.6L823.5 416.1L823.1 417.6L822.7 419.1L822.2 420.6L821.5 422.1L820.7 423.6L819.8 425.1L818.9 426.6L817.9 428.1L816.9 429.6L816 431.1L815.1 432.6L814.3 434.1L813.5 435.6L812.8 437.1L812.1 438.6L811.4 440.1L810.7 441.6L810 443.1L809.4 444.6L808.8 446.1L808.2 447.6L807.7 449.1L807.3 450.6L806.9 452.1L806.5 453.6L806.2 455.1L805.8 456.6L805.5 458.1L805.2 459.6L804.9 461.1L804.6 462.6L804.4 464.1L804.2 465.6L804 467.1L803.9 468.6L803.8 470.1L803.8 471.6L803.9 473.1L803.9 474.6L804 476.1L804.1 477.6L804.3 479.1L804.4 480.6L804.6 482.1L804.8 483.6L805 485.1L805.2 486.6L805.4 488.1L805.7 489.6L805.9 491.1L806.2 492.6L806.5 494.1L806.8 495.6L807.2 497.1L807.7 498.6L808.1 500.1L808.6 501.6L809.1 503.1L809.6 504.6L810.1 506.1L810.6 507.6L811.1 509.1L811.5 510.6L811.9 512.1L812.4 513.6L812.8 515.1L813.2 516.6L813.6 518.1L814.1 519.6L814.5 521.1L814.9 522.6L815.4 524.1L815.8 525.6L816.2 527.1L816.5 528.6L816.9 530.1L817.2 531.6L817.4 533.1L817.6 534.6L817.8 536.1L817.9 537.6L818.1 539.1L818.1 540.6L818.2 542.1L818.3 543.6L818.4 545.1L818.4 546.6L818.5 548.1L818.5 549.6L818.6 551.1L818.6 552.6L818.7 554.1L818.7 555.6L818.7 557.1L818.8 558.6L818.8 560.1L818.8 561.6L818.8 563.1L818.8 564.6L818.7 566.1L818.6 567.6L818.5 569.1L818.4 570.6L818.2 572.1L818.1 573.6L817.9 575.1L817.7 576.6L817.5 578.1L817.3 579.6L817.2 581.1L817 582.6L816.9 584.1L816.8 585.6L816.7 587.1L816.6 588.6L816.6 590.1L816.6 591.6L816.7 593.1L816.8 594.6L816.8 596.1L816.9 597.6L817.1 599.1L817.2 600.6L817.3 602.1L817.5 603.6L817.6 605.1L817.8 606.6L818 608.1L818.2 609.6L818.3 611.1L818.5 612.6L818.7 614.1L818.9 615.6L819.1 617.1L819.3 618.6L819.5 620.1L819.7 621.6L820 623.1L820.2 624.6L820.5 626.1L820.8 627.6L821.1 629.1L821.3 630.6L821.6 632.1L821.9 633.6L822.2 635.1L822.4 636.6L822.7 638.1L822.9 639.6L823.1 641.1L823.4 642.6L823.6 644.1L823.8 645.6L824 647.1L824.2 648.6L824.4 650.1L824.6 651.6L824.7 653.1L824.9 654.6L825.1 656.1L825.3 657.6L825.4 659.1L825.6 660.6L825.7 661.1L825.7 661.4Z" fill="#3274a1" stroke="#4a4a4a" stroke-width="0.7"/>
<path d="M825.7 419.7L825.7 419.7L826.4 421.2L826.9 422.7L827.6 424.2L828.4 425.7L829.2 427.2L830.1 428.7L831 430.2L832.1 431.7L833.3 433.2L834.6 434.7L836 436.2L837.3 437.7L838.5 439.2L839.6 440.7L840.7 442.2L841.7 443.7L842.6 445.2L843.5 446.7L844.3 448.2L845 449.7L845.6 451.2L846.1 452.7L846.6 454.2L847.1 455.7L847.5 457.2L847.7 458.7L847.8 460.2L847.7 461.7L847.4 463.2L846.8 464.7L846 466.2L845 467.7L844.1 469.2L843 470.7L841.9 472.2L840.7 473.7L839.4 475.2L838 476.7L836.7 478.2L835.5 479.7L834.5 481.2L833.7 482.7L832.9 484.2L832.2 485.7L831.6 487.2L831 488.7L830.5 490.2L830 491.7L829.6 493.2L829.2 494.7L828.9 496.2L828.6 497.7L828.3 499.2L828.1 500.7L827.8 502.2L827.6 503.7L827.4 505.2L827.2 506.7L827.1 508.2L826.9 509.7L826.7 511.2L826.6 512.7L826.4 514.2L826.3 515.7L826.1 517.2L826 518.7L825.9 520.2L825.8 521.7L825.7 522.2L825.7 522.6Z" fill="#e1812c" stroke="#4a4a4a" stroke-width="0.7"/>
<line x1="825.7" y1="452.3" x2="825.7" y2="498.8" stroke="#5d6873" stroke-width="1.6"/>
<circle cx="825.7" cy="469.1" r="0.55" fill="#d8d8d8"/>
<path d="M881.9 460.8L881.9 460.8L881.2 462.3L880.7 463.8L880 465.3L879.3 466.8L878.6 468.3L877.8 469.8L876.9 471.3L876.1 472.8L875.1 474.3L874.1 475.8L873.1 477.3L872 478.8L871 480.3L869.9 481.8L868.7 483.3L867.5 484.8L866.3 486.3L865.2 487.8L864.1 489.3L863.1 490.8L862.2 492.3L861.4 493.8L860.7 495.3L860.1 496.8L859.7 498.3L859.7 499.8L860 501.3L860.5 502.8L861.3 504.3L862.3 505.8L863.2 507.3L864.2 508.8L865.1 510.3L866.1 511.8L867.1 513.3L868.1 514.8L869.1 516.3L870.1 517.8L871.1 519.3L872 520.8L872.8 522.3L873.7 523.8L874.5 525.3L875.4 526.8L876.1 528.3L876.9 529.8L877.6 531.3L878.2 532.8L878.7 534.3L879.2 535.8L879.6 537.3L880 538.8L880.4 540.3L880.8 541.8L881.1 543.3L881.4 544.8L881.6 546.3L881.8 547.8L881.9 548.3L881.9 548.3Z" fill="#3274a1" stroke="#4a4a4a" stroke-width="0.7"/>
<path d="M881.9 436L881.9 436L882.3 437.5L882.7 439L883.1 440.5L883.6 442L884.2 443.5L884.8 445L885.5 446.5L886.2 448L887.1 449.5L888 451L889 452.5L890.1 454L891.2 455.5L892.2 457L893.3 458.5L894.3 460L895.4 461.5L896.4 463L897.4 464.5L898.4 466L899.3 467.5L900.1 469L900.9 470.5L901.7 472L902.4 473.5L903 475L903.4 476.5L903.5 478L903.5 479.5L903.2 481L902.8 482.5L902.2 484L901.6 485.5L900.9 487L900.1 488.5L899.3 490L898.5 491.5L897.5 493L896.3 494.5L895.1 496L893.9 497.5L892.6 499L891.4 500.5L890.3 502L889.3 503.5L888.4 505L887.5 506.5L886.7 508L886 509.5L885.2 511L884.5 512.5L883.8 514L883.2 515.5L882.7 517L882.3 518.5L881.9 519L881.9 519.1Z" fill="#e1812c" stroke="#4a4a4a" stroke-width="0.7"/>
<line x1="881.9" y1="475.9" x2="881.9" y2="502.6" stroke="#5d6873" stroke-width="1.6"/>
<circle cx="881.9" cy="489.5" r="0.55" fill="#d8d8d8"/>
<path d="M937.4 454L937.4 454L937.1 455.5L936.9 457L936.6 458.5L936.2 460L935.7 461.5L935.2 463L934.7 464.5L934 466L933.2 467.5L932.3 469L931.4 470.5L930.4 472L929.3 473.5L928.3 475L927.3 476.5L926.3 478L925.4 479.5L924.4 481L923.4 482.5L922.5 484L921.5 485.5L920.7 487L919.9 488.5L919.2 490L918.6 491.5L918.1 493L917.7 494.5L917.2 496L916.8 497.5L916.5 499L916.1 500.5L915.9 502L915.7 503.5L915.7 505L915.7 506.5L915.7 508L915.9 509.5L916 511L916.3 512.5L916.5 514L916.8 515.5L917 517L917.3 518.5L917.6 520L917.8 521.5L918.1 523L918.3 524.5L918.6 526L918.9 527.5L919.2 529L919.5 530.5L919.8 532L920.1 533.5L920.4 535L920.8 536.5L921.1 538L921.5 539.5L921.9 541L922.4 542.5L922.8 544L923.3 545.5L923.8 547L924.3 548.5L924.8 550L925.2 551.5L925.7 553L926.1 554.5L926.5 556L927 557.5L927.4 559L927.8 560.5L928.2 562L928.6 563.5L929 565L929.3 566.5L929.7 568L930 569.5L930.3 571L930.5 572.5L930.7 574L930.9 575.5L931.1 577L931.2 578.5L931.3 580L931.5 581.5L931.6 583L931.8 584.5L931.9 586L932.1 587.5L932.3 589L932.5 590.5L932.7 592L933 593.5L933.3 595L933.6 596.5L934 598L934.3 599.5L934.6 601L934.9 602.5L935.2 604L935.5 605.5L935.8 607L936 608.5L936.2 610L936.4 611.5L936.6 613L936.8 614.5L937 616L937.2 617.5L937.4 619L937.4 619.4Z" fill="#3274a1" stroke="#4a4a4a" stroke-width="0.7"/>
<path d="M937.4 412.9L937.4 412.9L937.5 414.4L937.5 415.9L937.6 417.4L937.7 418.9L937.7 420.4L937.8 421.9L938 423.4L938.1 424.9L938.2 426.4L938.4 427.9L938.5 429.4L938.7 430.9L938.8 432.4L939 433.9L939.1 435.4L939.3 436.9L939.5 438.4L939.7 439.9L939.9 441.4L940.2 442.9L940.4 444.4L940.7 445.9L941 447.4L941.3 448.9L941.6 450.4L942 451.9L942.4 453.4L942.8 454.9L943.4 456.4L944 457.9L944.7 459.4L945.5 460.9L946.4 462.4L947.2 463.9L948.1 465.4L948.9 466.9L949.8 468.4L950.6 469.9L951.4 471.4L952.2 472.9L953 474.4L953.8 475.9L954.6 477.4L955.4 478.9L956 480.4L956.6 481.9L957.2 483.4L957.6 484.9L958.1 486.4L958.5 487.9L958.9 489.4L959.2 490.9L959.4 492.4L959.6 493.9L959.6 495.4L959.5 496.9L959.2 498.4L958.9 499.9L958.4 501.4L957.9 502.9L957.3 504.4L956.6 505.9L956 507.4L955.3 508.9L954.5 510.4L953.7 511.9L952.7 513.4L951.7 514.9L950.6 516.4L949.5 517.9L948.4 519.4L947.3 520.9L946.3 522.4L945.4 523.9L944.5 525.4L943.6 526.9L942.8 528.4L942 529.9L941.2 531.4L940.5 532.9L939.9 534.4L939.3 535.9L938.8 537.4L938.4 538.9L938 540.4L937.7 541.9L937.4 542.9L937.4 543.1Z" fill="#e1812c" stroke="#4a4a4a" stroke-width="0.7"/>
<line x1="937.4" y1="485.3" x2="937.4" y2="524.1" stroke="#5d6873" stroke-width="1.6"/>
<circle cx="937.4" cy="503" r="0.55" fill="#d8d8d8"/>
<rect x="406.5" y="358.4" width="559.3" height="317.7" fill="none" stroke="#6b6b6b" stroke-width="1"/>
<line x1="403.5" y1="372.1" x2="406.5" y2="372.1" stroke="#6b6b6b" stroke-width="0.8"/>
<line x1="403.5" y1="411.1" x2="406.5" y2="411.1" stroke="#6b6b6b" stroke-width="0.8"/>
<line x1="403.5" y1="450.2" x2="406.5" y2="450.2" stroke="#6b6b6b" stroke-width="0.8"/>
<line x1="403.5" y1="489.2" x2="406.5" y2="489.2" stroke="#6b6b6b" stroke-width="0.8"/>
<line x1="403.5" y1="528.2" x2="406.5" y2="528.2" stroke="#6b6b6b" stroke-width="0.8"/>
<line x1="403.5" y1="567.3" x2="406.5" y2="567.3" stroke="#6b6b6b" stroke-width="0.8"/>
<line x1="403.5" y1="606.3" x2="406.5" y2="606.3" stroke="#6b6b6b" stroke-width="0.8"/>
<line x1="403.5" y1="645.4" x2="406.5" y2="645.4" stroke="#6b6b6b" stroke-width="0.8"/>
<text x="392.6" y="375.2" font-family="Liberation Serif" font-size="13.8" text-anchor="middle" fill="#000" stroke="#000" stroke-width="0.45" textLength="14.6" lengthAdjust="spacingAndGlyphs">16</text>
<text x="392.6" y="416" font-family="Liberation Serif" font-size="13.8" text-anchor="middle" fill="#000" stroke="#000" stroke-width="0.45" textLength="14.6" lengthAdjust="spacingAndGlyphs">14</text>
<text x="392.6" y="455" font-family="Liberation Serif" font-size="13.8" text-anchor="middle" fill="#000" stroke="#000" stroke-width="0.45" textLength="14.6" lengthAdjust="spacingAndGlyphs">12</text>
<text x="392.6" y="493.4" font-family="Liberation Serif" font-size="13.8" text-anchor="middle" fill="#000" stroke="#000" stroke-width="0.45" textLength="14.6" lengthAdjust="spacingAndGlyphs">10</text>
<text x="392.6" y="533" font-family="Liberation Serif" font-size="13.8" text-anchor="middle" fill="#000" stroke="#000" stroke-width="0.45" textLength="7.7" lengthAdjust="spacingAndGlyphs">8</text>
<text x="392.6" y="572" font-family="Liberation Serif" font-size="13.8" text-anchor="middle" fill="#000" stroke="#000" stroke-width="0.45" textLength="7.7" lengthAdjust="spacingAndGlyphs">6</text>
<text x="392.6" y="611.8" font-family="Liberation Serif" font-size="13.8" text-anchor="middle" fill="#000" stroke="#000" stroke-width="0.45" textLength="7.7" lengthAdjust="spacingAndGlyphs">4</text>
<text x="392.6" y="651" font-family="Liberation Serif" font-size="13.8" text-anchor="middle" fill="#000" stroke="#000" stroke-width="0.45" textLength="7.7" lengthAdjust="spacingAndGlyphs">2</text>
<text x="392.6" y="680" font-family="Liberation Serif" font-size="13.8" text-anchor="middle" fill="#000" stroke="#000" stroke-width="0.45" textLength="7.7" lengthAdjust="spacingAndGlyphs">0</text>
<text transform="translate(369.8 518) rotate(-90)" font-family="Liberation Serif" font-size="23" text-anchor="middle" fill="#000" textLength="114.4" lengthAdjust="spacingAndGlyphs">Gene expression</text>
<text x="921.1" y="370.6" font-family="Liberation Serif" font-size="15" text-anchor="middle" fill="#000" stroke="#000" stroke-width="0.3" textLength="36.6" lengthAdjust="spacingAndGlyphs">group</text>
<rect x="880.5" y="378.2" width="28" height="9.5" fill="#3274a1" stroke="#4a4a4a" stroke-width="0.6"/>
<rect x="880.5" y="397.4" width="28" height="9.5" fill="#e1812c" stroke="#4a4a4a" stroke-width="0.6"/>
<text x="913.6" y="387.1" font-family="Liberation Serif" font-size="17.3" text-anchor="start" fill="#000" stroke="#000" stroke-width="0.3" textLength="42" lengthAdjust="spacingAndGlyphs">tumor</text>
<text x="913.6" y="405.7" font-family="Liberation Serif" font-size="17.3" text-anchor="start" fill="#000" stroke="#000" stroke-width="0.3" textLength="49" lengthAdjust="spacingAndGlyphs">normal</text>
<line x1="434.3" y1="673" x2="434.3" y2="674.8" stroke="#6b6b6b" stroke-width="0.8"/>
<text x="434.3" y="686.4" font-family="Liberation Sans" font-size="8.8" text-anchor="middle" fill="#000" stroke="#000" stroke-width="0.3" textLength="24.0" lengthAdjust="spacingAndGlyphs">MYLK</text>
<text x="434.3" y="697.4" font-family="Liberation Sans" font-size="8.8" text-anchor="middle" fill="#000" stroke="#000" stroke-width="0.3" textLength="44.4" lengthAdjust="spacingAndGlyphs">GSE55945</text>
<line x1="490" y1="673" x2="490" y2="674.8" stroke="#6b6b6b" stroke-width="0.8"/>
<text x="490" y="686.4" font-family="Liberation Sans" font-size="8.8" text-anchor="middle" fill="#000" stroke="#000" stroke-width="0.3" textLength="24.0" lengthAdjust="spacingAndGlyphs">MYLK</text>
<text x="490" y="697.4" font-family="Liberation Sans" font-size="8.8" text-anchor="middle" fill="#000" stroke="#000" stroke-width="0.3" textLength="38.5" lengthAdjust="spacingAndGlyphs">GSE6919</text>
<line x1="546" y1="673" x2="546" y2="674.8" stroke="#6b6b6b" stroke-width="0.8"/>
<text x="546" y="686.4" font-family="Liberation Sans" font-size="8.8" text-anchor="middle" fill="#000" stroke="#000" stroke-width="0.3" textLength="24.0" lengthAdjust="spacingAndGlyphs">TPM1</text>
<text x="546" y="697.4" font-family="Liberation Sans" font-size="8.8" text-anchor="middle" fill="#000" stroke="#000" stroke-width="0.3" textLength="44.4" lengthAdjust="spacingAndGlyphs">GSE55945</text>
<line x1="601.8" y1="673" x2="601.8" y2="674.8" stroke="#6b6b6b" stroke-width="0.8"/>
<text x="601.8" y="686.4" font-family="Liberation Sans" font-size="8.8" text-anchor="middle" fill="#000" stroke="#000" stroke-width="0.3" textLength="24.0" lengthAdjust="spacingAndGlyphs">TPM1</text>
<text x="601.8" y="697.4" font-family="Liberation Sans" font-size="8.8" text-anchor="middle" fill="#000" stroke="#000" stroke-width="0.3" textLength="38.5" lengthAdjust="spacingAndGlyphs">GSE6919</text>
<line x1="658" y1="673" x2="658" y2="674.8" stroke="#6b6b6b" stroke-width="0.8"/>
<text x="658" y="686.4" font-family="Liberation Sans" font-size="8.8" text-anchor="middle" fill="#000" stroke="#000" stroke-width="0.3" textLength="24.0" lengthAdjust="spacingAndGlyphs">MYL9</text>
<text x="658" y="697.4" font-family="Liberation Sans" font-size="8.8" text-anchor="middle" fill="#000" stroke="#000" stroke-width="0.3" textLength="44.4" lengthAdjust="spacingAndGlyphs">GSE55945</text>
<line x1="713.7" y1="673" x2="713.7" y2="674.8" stroke="#6b6b6b" stroke-width="0.8"/>
<text x="713.7" y="686.4" font-family="Liberation Sans" font-size="8.8" text-anchor="middle" fill="#000" stroke="#000" stroke-width="0.3" textLength="24.0" lengthAdjust="spacingAndGlyphs">MYL9</text>
<text x="713.7" y="697.4" font-family="Liberation Sans" font-size="8.8" text-anchor="middle" fill="#000" stroke="#000" stroke-width="0.3" textLength="38.5" lengthAdjust="spacingAndGlyphs">GSE6919</text>
<line x1="769.6" y1="673" x2="769.6" y2="674.8" stroke="#6b6b6b" stroke-width="0.8"/>
<text x="769.6" y="686.4" font-family="Liberation Sans" font-size="8.8" text-anchor="middle" fill="#000" stroke="#000" stroke-width="0.3" textLength="24.0" lengthAdjust="spacingAndGlyphs">CNN1</text>
<text x="769.6" y="697.4" font-family="Liberation Sans" font-size="8.8" text-anchor="middle" fill="#000" stroke="#000" stroke-width="0.3" textLength="44.4" lengthAdjust="spacingAndGlyphs">GSE55945</text>
<line x1="825.7" y1="673" x2="825.7" y2="674.8" stroke="#6b6b6b" stroke-width="0.8"/>
<text x="825.7" y="686.4" font-family="Liberation Sans" font-size="8.8" text-anchor="middle" fill="#000" stroke="#000" stroke-width="0.3" textLength="24.0" lengthAdjust="spacingAndGlyphs">CNN1</text>
<text x="825.7" y="697.4" font-family="Liberation Sans" font-size="8.8" text-anchor="middle" fill="#000" stroke="#000" stroke-width="0.3" textLength="38.5" lengthAdjust="spacingAndGlyphs">GSE6919</text>
<line x1="881.9" y1="673" x2="881.9" y2="674.8" stroke="#6b6b6b" stroke-width="0.8"/>
<text x="881.9" y="686.4" font-family="Liberation Sans" font-size="8.8" text-anchor="middle" fill="#000" stroke="#000" stroke-width="0.3" textLength="24.0" lengthAdjust="spacingAndGlyphs">FLNC</text>
<text x="881.9" y="697.4" font-family="Liberation Sans" font-size="8.8" text-anchor="middle" fill="#000" stroke="#000" stroke-width="0.3" textLength="44.4" lengthAdjust="spacingAndGlyphs">GSE55945</text>
<line x1="937.4" y1="673" x2="937.4" y2="674.8" stroke="#6b6b6b" stroke-width="0.8"/>
<text x="937.4" y="686.4" font-family="Liberation Sans" font-size="8.8" text-anchor="middle" fill="#000" stroke="#000" stroke-width="0.3" textLength="24.0" lengthAdjust="spacingAndGlyphs">FLNC</text>
<text x="937.4" y="697.4" font-family="Liberation Sans" font-size="8.8" text-anchor="middle" fill="#000" stroke="#000" stroke-width="0.3" textLength="38.5" lengthAdjust="spacingAndGlyphs">GSE6919</text>
<text x="149.3" y="721.6" font-family="Liberation Serif" font-size="14.5" text-anchor="middle" fill="#000" stroke="#000" stroke-width="0.2" textLength="43.0" lengthAdjust="spacingAndGlyphs">ACTA2</text>
<line x1="56.9" y1="746.1" x2="63.4" y2="746.1" stroke="#555" stroke-width="0.9"/>
<text transform="translate(53.8 746.1) rotate(-90)" font-family="Liberation Sans" font-size="16.4" text-anchor="middle" fill="#000" stroke="#000" stroke-width="0.25">14</text>
<line x1="56.9" y1="811.5" x2="63.4" y2="811.5" stroke="#555" stroke-width="0.9"/>
<text transform="translate(53.8 811.5) rotate(-90)" font-family="Liberation Sans" font-size="16.4" text-anchor="middle" fill="#000" stroke="#000" stroke-width="0.25">12</text>
<line x1="56.9" y1="876.4" x2="63.4" y2="876.4" stroke="#555" stroke-width="0.9"/>
<text transform="translate(53.8 876.4) rotate(-90)" font-family="Liberation Sans" font-size="16.4" text-anchor="middle" fill="#000" stroke="#000" stroke-width="0.25">10</text>
<line x1="56.9" y1="941.7" x2="63.4" y2="941.7" stroke="#555" stroke-width="0.9"/>
<text transform="translate(53.8 941.7) rotate(-90)" font-family="Liberation Sans" font-size="16.4" text-anchor="middle" fill="#000" stroke="#000" stroke-width="0.25">8</text>
<line x1="56.9" y1="1006.9" x2="63.4" y2="1006.9" stroke="#555" stroke-width="0.9"/>
<text transform="translate(53.8 1006.9) rotate(-90)" font-family="Liberation Sans" font-size="16.4" text-anchor="middle" fill="#000" stroke="#000" stroke-width="0.25">6</text>
<text transform="translate(25 892.2) rotate(-90)" font-family="Liberation Serif" font-size="16.9" text-anchor="middle" textLength="168" lengthAdjust="spacingAndGlyphs">Expression−log<tspan font-size="11" dy="2.5">2</tspan><tspan dy="-2.5">(TPM+1)</tspan></text>
<line x1="122.7" y1="795" x2="122.7" y2="865.3" stroke="#000" stroke-width="0.7" stroke-dasharray="2 2.5"/>
<line x1="122.7" y1="916.5" x2="122.7" y2="988.4" stroke="#000" stroke-width="0.7" stroke-dasharray="2 2.5"/>
<line x1="112.1" y1="795" x2="133.3" y2="795" stroke="#777" stroke-width="1.3"/>
<line x1="112.1" y1="988.4" x2="133.3" y2="988.4" stroke="#777" stroke-width="1.3"/>
<rect x="101.5" y="865.3" width="42.4" height="51.2" fill="#f0666b" stroke="#333" stroke-width="0.9"/>
<line x1="101.5" y1="885" x2="143.9" y2="885" stroke="#000" stroke-width="2.2"/>
<path d="M121.7 885.0h0M126.8 876.3h0M126.8 897.8h0M122.4 926.6h0M126.0 906.2h0M122.2 931.3h0M121.1 883.2h0M123.3 845.9h0M119.0 908.0h0M120.4 914.0h0M125.3 870.7h0M126.1 874.6h0M117.2 881.9h0M125.6 928.5h0M126.6 886.4h0M122.0 864.7h0M117.3 947.8h0M125.0 906.4h0M119.6 973.8h0M124.5 945.2h0M121.2 971.0h0M124.4 896.0h0M119.7 944.2h0M122.4 877.1h0M123.0 880.4h0M124.3 893.7h0M119.0 910.2h0M128.4 887.3h0M120.1 881.7h0M120.3 956.5h0M119.7 907.3h0M117.3 930.7h0M121.7 922.8h0M126.1 854.0h0M125.3 922.7h0M118.9 886.5h0M118.2 859.2h0M120.5 912.3h0M126.0 890.2h0M122.6 881.8h0M127.9 883.1h0M124.6 942.2h0M124.2 882.8h0M126.0 845.3h0M125.8 957.3h0M120.8 859.9h0M119.7 881.5h0M121.9 915.0h0M122.6 826.6h0M118.3 862.7h0M122.0 941.0h0M124.4 882.8h0M118.2 868.2h0M118.2 893.8h0M118.7 865.1h0M120.0 888.1h0M128.4 865.5h0M116.8 843.0h0M118.8 916.6h0M118.5 879.1h0M122.4 906.6h0M116.7 881.3h0M122.2 940.4h0M118.5 912.1h0M119.8 894.2h0M126.3 858.7h0M118.8 851.6h0M124.2 946.8h0M121.5 922.1h0M121.7 866.1h0M126.6 978.0h0M118.5 906.6h0M128.0 889.5h0M127.6 848.3h0M124.8 864.9h0M117.1 900.3h0M124.7 902.2h0M123.9 896.7h0M126.1 840.5h0M119.2 905.0h0M128.3 899.2h0M127.5 874.7h0M117.9 890.6h0M120.4 894.2h0M116.9 937.0h0M126.8 885.5h0M127.8 905.7h0M128.8 850.9h0M124.1 865.9h0M124.8 886.1h0M124.9 865.5h0M123.6 900.9h0M128.3 854.3h0M124.0 885.3h0M120.7 868.0h0M122.9 945.3h0M116.7 874.9h0M125.5 963.8h0M125.1 980.1h0M121.7 899.2h0M127.1 927.0h0M125.9 880.2h0M120.7 819.4h0M117.5 923.8h0M118.1 914.1h0M118.8 879.0h0M120.3 870.6h0M122.0 893.2h0M128.0 894.6h0M120.0 864.5h0M127.6 869.8h0M124.9 933.3h0M127.1 888.7h0M121.5 884.0h0M116.5 934.2h0M126.3 877.4h0M119.5 925.1h0M118.3 856.6h0M126.4 879.4h0M125.0 882.4h0M119.1 912.6h0M119.8 890.5h0M128.1 978.3h0M119.8 937.8h0M125.2 874.4h0M118.1 984.4h0M126.6 860.3h0M118.0 966.5h0M122.9 862.9h0M116.9 924.5h0M123.3 862.2h0M127.0 881.2h0M117.5 956.8h0M119.9 848.5h0M126.0 842.9h0M124.0 888.1h0M120.4 897.8h0M124.3 892.5h0M122.1 930.5h0M127.2 852.9h0M120.1 910.4h0M125.9 887.4h0M124.4 922.0h0M125.7 914.2h0M121.2 944.7h0M125.5 848.3h0M125.2 892.2h0M121.3 856.8h0M116.8 884.6h0M128.4 917.4h0M125.3 900.3h0M119.0 911.2h0M125.6 884.8h0M120.0 902.5h0M122.3 899.0h0M127.2 949.4h0M122.1 922.7h0M120.1 836.7h0M120.3 916.3h0M117.5 934.2h0M119.2 875.1h0M119.9 843.9h0M118.6 952.9h0M117.3 894.7h0M122.3 914.5h0M119.2 967.2h0M125.7 863.5h0M127.9 886.1h0M119.9 882.9h0M123.6 920.1h0M122.8 871.7h0M117.4 910.2h0M118.0 891.7h0M127.5 936.8h0M122.4 941.8h0M126.5 846.0h0M117.3 908.7h0M123.9 876.5h0M127.2 886.6h0M127.3 905.6h0M116.6 908.7h0M123.0 866.6h0M121.1 899.1h0M125.9 892.1h0M117.4 884.4h0M119.8 850.6h0M126.6 865.1h0M122.3 873.8h0M122.1 911.3h0M128.5 949.5h0M120.5 857.3h0M117.0 856.8h0M121.4 891.6h0M118.4 869.2h0M117.5 862.2h0M123.5 860.7h0M128.3 858.1h0M123.7 906.3h0M124.5 840.8h0M120.5 943.2h0M123.6 859.8h0M125.8 870.6h0M123.8 859.5h0M126.5 830.1h0M123.3 841.6h0M119.0 938.5h0M123.7 963.9h0M122.6 861.1h0M118.6 932.4h0M124.2 885.6h0M126.6 860.5h0M118.2 961.8h0M123.3 983.5h0M125.6 877.4h0M121.5 883.7h0M119.8 896.5h0M121.1 883.9h0M123.2 925.2h0M125.0 955.7h0M123.4 892.8h0M117.8 930.4h0M126.6 961.8h0M128.0 870.2h0M117.8 887.9h0M119.6 873.1h0M118.7 931.2h0M127.0 915.7h0M127.8 931.7h0M117.0 926.4h0M120.6 879.3h0M118.9 921.6h0M122.3 874.6h0M127.9 875.1h0M117.4 825.9h0M118.6 950.0h0M122.5 859.1h0M123.0 889.2h0M125.7 885.7h0M121.9 952.7h0M118.3 906.5h0M120.9 863.3h0M128.7 888.9h0M125.8 882.6h0M117.9 898.6h0M126.5 851.3h0M120.4 886.0h0M126.2 987.8h0M116.7 917.3h0M127.3 976.9h0M118.5 909.8h0M122.2 846.1h0M124.7 883.6h0M122.8 939.8h0M118.6 928.9h0M118.2 852.0h0M120.0 880.4h0M117.1 883.6h0M119.2 887.5h0M118.1 883.9h0M122.3 861.5h0M120.9 868.9h0M123.8 878.7h0M120.0 933.7h0M116.9 870.1h0M120.6 917.0h0M125.9 853.1h0M119.7 944.4h0M121.5 891.4h0M125.9 885.3h0M121.5 946.9h0M127.5 834.7h0M127.9 842.3h0M120.4 906.6h0M125.6 862.5h0M119.6 873.9h0M118.2 877.7h0M121.9 887.9h0M124.0 882.6h0M128.1 935.3h0M118.3 897.6h0M125.3 893.3h0M122.4 850.3h0M118.1 875.2h0M128.6 885.3h0M125.1 840.3h0M118.1 910.9h0M127.7 903.2h0M117.8 969.8h0M117.6 839.2h0M120.6 856.8h0M128.1 858.2h0M116.9 865.5h0M127.9 881.8h0M124.1 878.7h0M117.3 896.8h0M123.6 894.5h0M122.2 883.4h0M123.5 840.8h0M125.6 868.8h0M124.9 887.7h0M128.9 912.1h0M118.4 914.7h0M126.6 838.2h0M121.6 870.2h0M126.2 883.0h0M127.6 901.2h0M128.8 936.8h0M119.8 888.1h0M122.1 859.5h0M128.2 903.3h0M128.2 895.6h0M121.1 895.3h0M128.2 881.8h0M121.5 959.4h0M121.1 896.0h0M125.9 924.9h0M122.3 859.2h0M122.1 921.0h0M121.3 868.1h0M121.9 840.5h0M118.2 899.6h0M117.3 913.1h0M125.8 879.4h0M123.5 885.1h0M124.8 931.4h0M126.4 871.5h0M119.4 826.1h0M119.4 897.1h0M119.9 894.5h0M120.3 933.8h0M125.9 875.7h0M121.1 943.2h0M120.5 936.7h0M124.4 847.6h0M118.8 927.3h0M117.8 853.4h0M125.1 840.5h0M125.9 877.4h0M120.2 868.8h0M124.4 828.0h0M116.9 894.2h0M121.5 912.7h0M123.7 948.2h0M119.6 883.8h0M120.8 841.8h0M124.1 857.0h0M123.8 929.0h0M118.4 924.9h0M125.3 908.5h0M117.5 876.5h0M128.5 894.6h0M119.0 878.7h0M119.6 876.3h0M119.0 899.0h0M128.8 886.9h0M120.1 879.0h0M124.0 888.9h0M128.8 870.3h0M128.3 830.4h0M117.0 867.7h0M123.0 883.4h0M124.0 963.7h0M125.2 873.7h0M120.7 975.9h0M120.6 950.8h0M116.6 860.0h0M116.9 864.4h0M123.3 892.0h0M117.4 964.9h0M119.0 902.3h0M120.6 916.7h0M117.4 866.4h0M116.9 819.1h0M128.0 878.7h0M121.9 921.4h0M119.0 939.7h0M125.3 887.6h0M116.6 893.3h0M119.5 938.8h0M128.4 881.6h0M127.6 938.7h0M124.4 852.5h0M117.7 854.0h0M120.4 853.3h0M116.8 907.1h0M119.2 870.0h0M116.8 891.2h0M118.1 903.2h0M124.4 900.8h0M117.7 945.7h0M118.4 952.4h0M127.7 861.8h0M120.7 893.9h0M120.6 878.7h0M117.6 855.7h0M126.4 965.9h0M124.9 921.6h0M123.3 879.9h0M124.2 873.5h0M117.7 902.6h0M119.7 854.9h0M123.7 878.9h0M128.3 941.7h0M126.6 928.5h0M124.4 861.5h0M122.9 871.5h0M116.7 973.7h0M127.5 845.6h0M117.3 867.5h0M118.1 845.8h0M125.1 902.9h0M126.6 898.8h0M126.3 937.6h0M122.1 810.9h0M118.7 893.2h0M116.9 838.6h0M127.1 915.2h0M128.6 880.2h0M119.5 963.1h0M127.2 902.9h0M121.5 856.3h0M120.4 943.5h0M122.8 853.7h0M116.6 875.2h0M122.0 933.8h0M119.0 908.4h0M125.3 906.4h0M122.7 887.3h0M127.3 910.0h0M127.6 923.6h0M120.4 899.2h0M120.0 933.0h0M128.1 945.2h0M122.7 887.2h0M117.7 859.2h0M117.1 956.4h0M128.8 884.9h0M123.7 915.4h0M117.2 930.6h0M122.8 860.1h0M122.8 909.2h0M121.9 841.2h0M128.3 921.4h0M128.3 873.7h0M118.0 895.6h0M118.4 920.2h0M121.6 867.8h0M126.8 892.2h0M124.2 867.4h0M125.5 887.2h0M123.6 935.7h0M119.1 889.8h0M126.6 883.5h0M116.7 857.0h0M125.2 927.3h0M118.9 886.8h0M122.3 965.4h0M128.6 866.0h0M123.2 935.5h0M117.2 969.4h0M121.8 887.8h0M124.7 852.7h0M117.2 956.2h0M119.6 935.8h0M116.7 919.7h0M123.2 937.7h0M121.2 873.9h0M122.7 922.7h0M120.2 918.7h0M124.6 868.0h0M118.6 920.3h0M127.7 872.4h0M128.4 930.4h0M122.6 941.6h0M122.3 970.7h0M127.2 830.6h0M120.1 900.0h0M126.5 877.9h0M120.1 886.5h0M125.4 880.3h0M120.6 883.5h0M124.0 829.3h0M128.0 933.5h0M117.2 957.7h0M126.5 932.3h0M123.2 947.3h0M121.2 1005.0h0M120.8 1011.0h0M117.4 1021.0h0M119.7 1031.0h0M124.2 795.0h0M117.7 988.4h0" stroke="#000" stroke-width="1.9" stroke-linecap="round" fill="none"/>
<line x1="175.6" y1="759" x2="175.6" y2="825" stroke="#000" stroke-width="0.7" stroke-dasharray="2 2.5"/>
<line x1="175.6" y1="876.4" x2="175.6" y2="951.4" stroke="#000" stroke-width="0.7" stroke-dasharray="2 2.5"/>
<line x1="164.9" y1="759" x2="186.3" y2="759" stroke="#777" stroke-width="1.3"/>
<line x1="164.9" y1="951.4" x2="186.3" y2="951.4" stroke="#777" stroke-width="1.3"/>
<rect x="154.2" y="825" width="42.8" height="51.4" fill="#7f7f7f" stroke="#333" stroke-width="0.9"/>
<line x1="154.2" y1="849.6" x2="197" y2="849.6" stroke="#000" stroke-width="2.2"/>
<path d="M177.3 826.5h0M173.2 890.7h0M171.0 814.6h0M175.2 858.7h0M179.9 884.9h0M176.7 836.0h0M170.6 885.8h0M174.9 885.9h0M174.3 911.9h0M176.5 850.7h0M176.6 831.5h0M180.7 812.3h0M173.8 855.2h0M174.6 811.4h0M176.9 848.9h0M179.9 853.3h0M177.9 828.7h0M175.3 811.0h0M179.1 863.2h0M175.4 859.3h0M180.8 856.0h0M173.2 846.6h0M171.4 885.4h0M179.3 812.1h0M173.3 865.5h0M179.5 832.7h0M176.8 882.4h0M175.7 836.5h0M171.0 835.3h0M178.8 866.3h0M170.7 775.9h0M180.8 836.1h0M179.8 784.8h0M173.4 814.6h0M171.4 875.9h0M179.9 864.8h0M175.4 833.7h0M171.4 847.4h0M175.6 847.8h0M172.8 861.0h0M174.6 921.5h0M177.2 858.6h0M180.3 937.7h0M179.0 836.0h0M171.8 878.4h0M175.3 878.0h0M175.5 858.3h0M181.1 839.7h0M171.0 906.5h0M175.7 919.1h0M180.2 892.0h0M174.5 930.7h0M172.9 888.0h0M176.2 791.6h0M173.6 891.6h0M180.4 825.8h0M170.9 904.1h0M172.3 838.7h0M170.9 862.3h0M178.0 852.0h0M173.3 828.9h0M180.1 785.5h0M180.0 842.5h0M180.5 845.1h0M172.9 888.3h0M170.0 828.3h0M174.3 859.4h0M180.8 819.3h0M178.6 851.3h0M170.7 786.1h0M177.9 928.4h0M180.3 861.4h0M180.8 817.5h0M178.0 863.5h0M179.7 881.1h0M179.4 860.2h0M174.0 904.4h0M171.1 845.3h0M178.1 760.6h0M171.5 807.8h0M174.3 893.7h0M181.2 884.3h0M176.3 865.7h0M175.8 813.0h0M180.6 882.2h0M173.2 877.0h0M181.2 817.3h0M180.2 818.1h0M174.1 864.5h0M173.7 894.0h0M171.4 911.2h0M180.3 877.4h0M172.1 938.2h0M170.1 822.3h0M180.0 874.6h0M176.7 832.0h0M177.5 781.5h0M178.2 806.8h0M170.5 895.3h0M171.0 817.9h0M175.6 807.4h0M170.6 879.3h0M175.6 887.5h0M178.2 854.0h0M177.4 913.2h0M176.9 796.0h0M170.5 945.2h0M172.7 893.6h0M180.1 860.3h0M171.4 858.6h0M176.0 843.5h0M170.6 839.7h0M180.5 858.1h0M171.9 808.1h0M174.6 934.6h0M176.1 849.6h0M178.0 878.0h0M180.5 844.8h0M178.2 841.5h0M173.9 885.8h0M170.8 875.1h0M177.9 820.7h0M180.9 836.9h0M170.2 876.6h0M178.7 775.2h0M172.0 765.4h0M175.2 907.7h0M175.9 838.6h0M176.9 821.0h0M181.1 841.5h0M177.7 857.9h0M174.4 871.1h0M178.0 858.0h0M175.2 871.5h0M174.6 822.4h0M174.1 865.4h0M175.5 867.1h0M173.1 897.4h0M172.7 851.6h0M171.7 885.1h0M174.9 856.8h0M173.3 811.6h0M179.4 836.3h0M179.5 831.2h0M173.9 836.6h0M176.9 847.4h0M180.1 854.7h0M174.0 955.0h0M176.2 958.0h0M175.0 993.0h0M177.3 759.0h0M180.7 951.4h0" stroke="#000" stroke-width="1.9" stroke-linecap="round" fill="none"/>
<rect x="63.4" y="724.3" width="172.2" height="318.8" fill="none" stroke="#555" stroke-width="1.1"/>
<line x1="149.5" y1="1043.1" x2="149.5" y2="1049.6" stroke="#555" stroke-width="0.9"/>
<text x="149.5" y="1062.8" font-family="Liberation Serif" font-size="12.7" text-anchor="middle" fill="#000" stroke="#000" stroke-width="0.2" textLength="34.6" lengthAdjust="spacingAndGlyphs">PRAD</text>
<text x="149.5" y="1078" font-family="Liberation Serif" font-size="12.7" text-anchor="middle" fill="#000" stroke="#000" stroke-width="0.2" textLength="153.5" lengthAdjust="spacingAndGlyphs">(num(T)=492; num(N)=152)</text>
<path d="M122.7 784.3V736.7H143.8M154.5 736.7H175.6V747.8" fill="none" stroke="#666" stroke-width="1"/>
<path d="M149.15 737.20L149.15 734.10M149.15 737.20L152.10 736.24M149.15 737.20L150.97 739.71M149.15 737.20L147.33 739.71M149.15 737.20L146.20 736.24" stroke="#e8202a" stroke-width="1.5" stroke-linecap="round" fill="none"/>
<text x="406.7" y="721.9" font-family="Liberation Serif" font-size="14.5" text-anchor="middle" fill="#000" stroke="#000" stroke-width="0.2" textLength="34.4" lengthAdjust="spacingAndGlyphs">FLNA</text>
<line x1="316" y1="760" x2="322.5" y2="760" stroke="#555" stroke-width="0.9"/>
<text transform="translate(312.9 760) rotate(-90)" font-family="Liberation Sans" font-size="16.4" text-anchor="middle" fill="#000" stroke="#000" stroke-width="0.25">14</text>
<line x1="316" y1="820.3" x2="322.5" y2="820.3" stroke="#555" stroke-width="0.9"/>
<text transform="translate(312.9 820.3) rotate(-90)" font-family="Liberation Sans" font-size="16.4" text-anchor="middle" fill="#000" stroke="#000" stroke-width="0.25">12</text>
<line x1="316" y1="880.7" x2="322.5" y2="880.7" stroke="#555" stroke-width="0.9"/>
<text transform="translate(312.9 880.7) rotate(-90)" font-family="Liberation Sans" font-size="16.4" text-anchor="middle" fill="#000" stroke="#000" stroke-width="0.25">10</text>
<line x1="316" y1="941.1" x2="322.5" y2="941.1" stroke="#555" stroke-width="0.9"/>
<text transform="translate(312.9 941.1) rotate(-90)" font-family="Liberation Sans" font-size="16.4" text-anchor="middle" fill="#000" stroke="#000" stroke-width="0.25">8</text>
<line x1="316" y1="1001.3" x2="322.5" y2="1001.3" stroke="#555" stroke-width="0.9"/>
<text transform="translate(312.9 1001.3) rotate(-90)" font-family="Liberation Sans" font-size="16.4" text-anchor="middle" fill="#000" stroke="#000" stroke-width="0.25">6</text>
<text transform="translate(285.9 889.3) rotate(-90)" font-family="Liberation Serif" font-size="16.9" text-anchor="middle" textLength="168" lengthAdjust="spacingAndGlyphs">Expression−log<tspan font-size="11" dy="2.5">2</tspan><tspan dy="-2.5">(TPM+1)</tspan></text>
<line x1="382.7" y1="828.6" x2="382.7" y2="890.3" stroke="#000" stroke-width="0.7" stroke-dasharray="2 2.5"/>
<line x1="382.7" y1="937" x2="382.7" y2="1006" stroke="#000" stroke-width="0.7" stroke-dasharray="2 2.5"/>
<line x1="372.1" y1="828.6" x2="393.3" y2="828.6" stroke="#777" stroke-width="1.3"/>
<line x1="372.1" y1="1006" x2="393.3" y2="1006" stroke="#777" stroke-width="1.3"/>
<rect x="361.5" y="890.3" width="42.4" height="46.7" fill="#f0666b" stroke="#333" stroke-width="0.9"/>
<line x1="361.5" y1="911.1" x2="403.9" y2="911.1" stroke="#000" stroke-width="2.2"/>
<path d="M380.2 905.6h0M386.7 887.3h0M377.7 935.4h0M388.0 900.9h0M386.8 914.7h0M378.3 938.3h0M383.8 868.4h0M383.4 913.1h0M385.1 916.0h0M380.3 888.8h0M381.3 883.5h0M379.5 872.0h0M380.1 901.0h0M378.7 934.2h0M387.7 931.7h0M387.5 895.4h0M381.0 893.2h0M385.1 868.0h0M382.6 898.2h0M380.0 878.4h0M380.8 864.3h0M388.5 906.0h0M380.7 968.1h0M383.7 956.4h0M388.2 966.3h0M380.2 862.0h0M386.5 943.6h0M377.9 873.1h0M385.6 893.0h0M386.5 858.2h0M386.9 880.2h0M388.6 915.0h0M385.3 918.8h0M388.6 908.5h0M380.0 905.7h0M383.0 931.5h0M379.2 912.4h0M377.5 861.5h0M381.9 976.5h0M385.4 903.1h0M386.2 945.9h0M376.7 905.3h0M388.2 885.2h0M379.6 913.3h0M380.1 887.3h0M386.8 972.1h0M387.6 877.0h0M385.6 934.3h0M380.6 891.9h0M382.2 905.5h0M386.8 940.1h0M380.9 904.3h0M386.5 863.2h0M386.2 902.2h0M382.3 903.2h0M387.6 965.3h0M381.3 867.0h0M385.8 855.4h0M384.4 910.2h0M380.6 919.5h0M383.1 973.3h0M384.0 883.9h0M383.2 889.0h0M377.9 872.1h0M388.8 894.4h0M388.5 948.9h0M377.0 869.9h0M388.2 958.5h0M383.1 919.2h0M378.1 902.5h0M386.7 883.9h0M381.9 898.3h0M385.3 899.2h0M386.8 940.3h0M383.2 960.6h0M377.1 909.2h0M386.7 938.4h0M385.1 961.3h0M387.8 959.7h0M379.8 929.9h0M386.2 982.2h0M387.3 962.8h0M380.9 973.9h0M381.6 905.5h0M380.6 898.5h0M376.6 849.2h0M379.4 968.6h0M380.6 937.2h0M377.8 883.0h0M386.0 919.4h0M381.8 923.7h0M383.5 858.4h0M380.0 924.1h0M381.0 955.5h0M385.8 961.7h0M382.3 900.7h0M383.9 901.7h0M381.7 963.8h0M383.4 948.9h0M387.6 894.6h0M379.8 893.3h0M382.9 935.8h0M385.0 891.9h0M377.6 893.5h0M388.4 979.6h0M382.7 923.1h0M379.5 898.3h0M385.9 933.1h0M386.6 993.2h0M384.3 922.0h0M387.9 887.9h0M377.6 862.4h0M383.0 995.2h0M385.7 830.5h0M387.9 954.4h0M384.5 881.6h0M384.0 873.0h0M381.3 880.8h0M383.6 906.5h0M383.4 955.7h0M387.7 891.8h0M386.8 938.6h0M385.6 889.3h0M388.0 855.0h0M377.3 946.1h0M386.0 865.8h0M382.2 862.1h0M385.8 863.2h0M380.2 911.9h0M382.3 957.3h0M386.7 917.9h0M376.9 995.7h0M380.1 976.5h0M382.6 908.3h0M387.1 949.2h0M379.8 917.4h0M386.7 915.3h0M379.5 851.6h0M380.3 871.1h0M383.4 912.8h0M384.6 873.8h0M387.4 941.0h0M387.4 924.0h0M379.6 883.0h0M385.7 958.8h0M384.4 921.8h0M381.3 961.8h0M386.1 907.5h0M387.6 860.8h0M382.4 940.0h0M387.9 904.1h0M378.1 945.6h0M378.6 955.2h0M386.0 958.6h0M380.3 866.2h0M383.8 838.2h0M382.7 896.2h0M378.3 938.6h0M385.9 889.4h0M385.7 923.9h0M378.3 886.4h0M379.7 902.1h0M386.4 902.5h0M387.8 892.4h0M387.3 933.4h0M382.7 926.6h0M381.1 977.2h0M382.0 928.1h0M378.7 965.7h0M382.7 916.7h0M379.4 947.9h0M378.5 908.0h0M381.2 897.1h0M377.3 965.6h0M382.3 942.3h0M385.1 947.3h0M384.6 888.1h0M388.6 858.5h0M387.5 884.8h0M384.4 924.5h0M387.6 865.9h0M382.0 969.2h0M386.4 864.9h0M380.0 936.3h0M383.0 829.4h0M388.7 862.4h0M383.9 950.7h0M382.8 905.9h0M386.3 919.3h0M380.4 907.9h0M386.8 968.1h0M376.7 937.3h0M379.5 896.7h0M378.7 904.2h0M379.7 874.1h0M388.2 908.6h0M376.8 838.7h0M380.2 938.6h0M383.6 903.1h0M385.2 984.7h0M386.1 959.2h0M381.3 870.1h0M379.2 947.3h0M387.1 894.7h0M378.0 913.5h0M377.3 951.2h0M379.4 924.5h0M382.6 930.8h0M388.2 929.8h0M385.5 887.9h0M383.5 891.0h0M383.0 933.3h0M385.1 945.9h0M384.3 902.4h0M380.7 914.9h0M377.6 879.4h0M379.0 829.2h0M386.2 885.1h0M384.4 912.4h0M386.4 917.7h0M377.1 944.0h0M387.7 945.9h0M381.2 949.6h0M388.0 926.3h0M383.9 927.5h0M383.3 888.2h0M386.6 926.4h0M384.3 918.7h0M384.9 957.9h0M378.5 860.4h0M384.0 895.5h0M380.9 855.9h0M377.4 886.5h0M378.2 865.2h0M382.4 920.6h0M379.8 889.0h0M386.0 958.1h0M378.0 874.8h0M376.7 858.7h0M388.9 898.1h0M380.4 887.5h0M382.8 871.6h0M379.1 936.8h0M379.1 898.2h0M381.5 945.2h0M386.3 937.6h0M377.0 935.4h0M386.9 916.7h0M388.8 906.5h0M383.4 896.8h0M381.0 966.8h0M379.4 848.6h0M378.8 874.6h0M380.5 888.2h0M387.1 925.2h0M376.5 914.6h0M386.2 893.8h0M384.8 898.1h0M376.7 977.2h0M377.4 887.7h0M385.6 983.8h0M384.8 879.7h0M380.4 899.4h0M387.2 915.5h0M379.1 867.7h0M381.8 957.7h0M377.9 905.9h0M384.5 864.8h0M377.6 918.9h0M378.7 927.6h0M386.0 907.5h0M382.7 928.6h0M384.7 862.1h0M385.6 946.9h0M384.0 883.4h0M379.0 960.5h0M385.2 889.9h0M377.9 915.2h0M379.8 911.3h0M382.1 953.2h0M377.9 928.6h0M377.8 862.3h0M384.6 955.2h0M385.7 953.0h0M381.1 865.4h0M381.3 907.4h0M379.1 862.2h0M383.0 900.8h0M383.7 945.9h0M388.1 913.7h0M377.0 872.1h0M387.8 881.3h0M388.8 911.1h0M380.8 909.6h0M385.5 915.5h0M386.7 933.9h0M384.6 849.9h0M380.1 910.9h0M384.2 955.8h0M387.4 929.9h0M377.8 888.1h0M382.5 890.8h0M376.8 916.5h0M387.0 937.5h0M386.2 910.3h0M377.1 977.2h0M385.7 962.5h0M385.1 885.8h0M378.1 930.0h0M383.0 899.2h0M385.0 872.5h0M380.7 890.5h0M382.7 910.4h0M388.6 843.6h0M384.4 889.9h0M382.7 925.1h0M377.3 887.9h0M378.0 898.2h0M387.0 944.9h0M385.7 908.8h0M386.9 917.6h0M383.7 988.7h0M383.6 917.9h0M383.1 922.3h0M385.6 928.4h0M380.6 976.0h0M382.7 925.1h0M382.3 912.7h0M384.7 907.9h0M379.2 955.9h0M376.8 891.0h0M377.6 959.1h0M378.7 919.9h0M387.1 869.7h0M385.4 938.4h0M385.8 931.3h0M382.0 877.1h0M377.8 926.3h0M382.3 922.8h0M387.2 904.1h0M382.8 877.8h0M384.3 998.1h0M381.1 943.8h0M378.4 950.8h0M384.3 953.9h0M382.5 944.8h0M380.8 944.2h0M379.7 901.6h0M385.1 946.1h0M380.4 907.2h0M383.6 898.4h0M379.7 939.8h0M385.8 907.0h0M381.1 859.4h0M382.4 900.9h0M388.0 936.2h0M385.4 913.7h0M385.6 947.1h0M380.7 902.6h0M386.9 883.9h0M381.3 943.3h0M388.8 919.3h0M387.6 876.0h0M384.7 930.6h0M386.8 905.2h0M383.2 951.3h0M385.6 943.2h0M378.0 931.2h0M388.8 844.0h0M386.4 926.8h0M378.3 931.4h0M379.5 932.7h0M383.6 917.5h0M386.0 890.9h0M378.3 905.3h0M388.4 847.6h0M380.8 904.5h0M388.8 866.5h0M385.8 902.6h0M382.5 892.4h0M381.0 966.5h0M377.7 916.0h0M377.6 913.7h0M384.3 920.4h0M386.1 993.8h0M387.8 883.9h0M381.0 926.0h0M388.1 927.9h0M380.2 920.9h0M388.2 919.9h0M387.9 898.5h0M378.4 959.9h0M387.2 946.9h0M385.2 902.1h0M385.2 906.6h0M386.9 925.6h0M383.2 933.1h0M382.8 943.1h0M381.1 913.3h0M387.2 874.7h0M387.7 951.7h0M378.5 864.1h0M386.1 885.1h0M379.9 928.5h0M378.8 887.0h0M378.9 967.4h0M383.6 977.6h0M380.0 960.6h0M379.5 926.8h0M377.7 923.6h0M380.5 930.9h0M386.1 908.0h0M376.8 993.1h0M382.5 895.8h0M384.0 965.6h0M377.1 936.5h0M380.1 927.0h0M387.7 955.5h0M388.8 963.7h0M387.0 949.7h0M378.6 911.6h0M386.0 892.9h0M382.1 893.7h0M378.6 949.3h0M382.5 941.5h0M387.9 946.5h0M387.4 897.2h0M381.4 989.3h0M377.3 872.9h0M387.7 929.7h0M388.7 941.2h0M382.8 900.6h0M379.3 879.3h0M383.2 900.5h0M385.1 878.6h0M382.5 907.0h0M380.9 873.2h0M379.6 872.7h0M380.2 914.9h0M377.1 866.7h0M379.7 906.0h0M388.3 908.4h0M376.6 946.5h0M385.5 922.2h0M386.3 887.1h0M381.5 961.5h0M383.9 891.1h0M379.2 900.3h0M384.8 902.5h0M385.3 995.8h0M385.6 915.1h0M382.6 891.1h0M388.5 940.4h0M387.2 908.3h0M383.6 1002.4h0M385.0 890.4h0M379.9 936.5h0M388.2 884.2h0M384.5 981.9h0M387.6 889.8h0M380.1 920.2h0M388.7 886.2h0M377.8 946.6h0M383.1 934.8h0M377.9 841.9h0M378.9 943.0h0M386.0 938.2h0M377.3 921.7h0M381.2 950.4h0M378.9 874.4h0M387.0 857.9h0M377.5 938.1h0M380.7 977.4h0M387.1 875.0h0M385.0 876.9h0M385.2 885.8h0M388.8 875.4h0M376.8 944.4h0M384.7 917.6h0M385.7 964.2h0M385.8 965.6h0M385.4 880.8h0M377.4 936.9h0M377.5 840.8h0M386.1 908.8h0M384.1 807.4h0M379.8 815.0h0M376.6 819.0h0M383.1 1014.0h0M377.6 1031.0h0M385.8 828.6h0M380.7 1006.0h0" stroke="#000" stroke-width="1.9" stroke-linecap="round" fill="none"/>
<line x1="435.8" y1="759" x2="435.8" y2="827.1" stroke="#000" stroke-width="0.7" stroke-dasharray="2 2.5"/>
<line x1="435.8" y1="874.7" x2="435.8" y2="946.5" stroke="#000" stroke-width="0.7" stroke-dasharray="2 2.5"/>
<line x1="425.2" y1="759" x2="446.4" y2="759" stroke="#777" stroke-width="1.3"/>
<line x1="425.2" y1="946.5" x2="446.4" y2="946.5" stroke="#777" stroke-width="1.3"/>
<rect x="414.6" y="827.1" width="42.4" height="47.6" fill="#7f7f7f" stroke="#333" stroke-width="0.9"/>
<line x1="414.6" y1="852.2" x2="457" y2="852.2" stroke="#000" stroke-width="2.2"/>
<path d="M439.5 887.2h0M436.4 879.2h0M437.8 807.6h0M432.0 774.0h0M435.5 839.8h0M438.0 876.1h0M439.1 866.5h0M439.2 812.6h0M432.6 882.6h0M439.5 798.1h0M436.6 799.5h0M437.7 849.6h0M439.7 828.2h0M434.7 824.3h0M440.5 794.4h0M440.1 887.3h0M439.2 808.2h0M434.5 864.7h0M436.1 877.8h0M432.1 848.4h0M438.7 859.4h0M440.2 885.1h0M432.0 905.5h0M438.5 883.6h0M438.0 798.2h0M430.6 779.2h0M440.5 828.0h0M435.6 808.1h0M433.2 869.4h0M430.5 854.8h0M439.0 841.7h0M434.0 888.3h0M436.0 885.2h0M432.4 848.6h0M437.0 862.9h0M434.6 887.7h0M439.2 837.8h0M437.7 861.0h0M438.3 814.2h0M433.0 852.4h0M430.9 862.2h0M440.1 847.4h0M440.7 857.9h0M437.4 874.5h0M440.5 865.6h0M438.1 824.3h0M437.0 828.1h0M434.9 804.3h0M434.2 908.7h0M435.7 865.3h0M432.7 866.0h0M435.0 845.8h0M435.9 867.3h0M430.5 869.3h0M434.6 823.1h0M433.4 845.6h0M437.3 891.1h0M439.3 802.5h0M437.1 815.1h0M437.6 871.3h0M437.1 821.3h0M433.1 876.7h0M434.4 810.3h0M439.7 859.5h0M440.8 879.0h0M432.2 864.6h0M430.3 877.7h0M441.0 845.0h0M439.8 845.7h0M437.0 850.9h0M439.3 870.8h0M436.9 848.7h0M440.3 915.5h0M432.9 843.1h0M435.2 810.1h0M437.7 842.0h0M432.6 865.2h0M438.2 858.2h0M433.1 856.6h0M438.2 870.5h0M439.2 871.7h0M435.0 883.0h0M441.3 808.0h0M437.3 852.7h0M438.7 816.6h0M430.4 860.5h0M431.5 849.5h0M438.2 857.9h0M440.8 835.0h0M437.2 821.4h0M440.4 843.3h0M430.9 874.7h0M440.2 878.2h0M440.0 790.5h0M437.2 861.5h0M435.0 861.9h0M438.1 797.7h0M432.9 811.7h0M437.7 832.3h0M438.0 865.5h0M436.2 764.6h0M433.1 837.6h0M430.2 831.8h0M432.4 857.9h0M439.5 899.4h0M432.6 896.7h0M431.0 837.1h0M433.0 837.6h0M436.0 860.2h0M436.8 891.3h0M440.0 900.3h0M439.8 863.1h0M441.0 900.8h0M440.1 818.7h0M435.2 809.3h0M431.8 819.5h0M440.9 872.0h0M432.8 881.3h0M437.2 872.0h0M433.2 858.1h0M439.3 816.2h0M432.4 829.4h0M434.9 830.3h0M432.7 844.3h0M439.8 827.6h0M437.1 798.3h0M437.3 887.7h0M433.7 867.5h0M432.2 898.5h0M439.8 792.0h0M438.8 803.9h0M438.4 824.2h0M441.4 892.2h0M436.5 845.8h0M432.2 860.0h0M437.0 849.2h0M433.4 858.5h0M435.9 832.9h0M435.3 865.4h0M436.5 820.4h0M440.5 843.2h0M439.3 862.0h0M434.8 855.9h0M439.4 866.9h0M439.8 821.9h0M438.9 861.3h0M436.4 841.2h0M440.3 865.3h0M435.7 901.7h0M431.4 968.0h0M433.2 759.0h0M437.6 946.5h0" stroke="#000" stroke-width="1.9" stroke-linecap="round" fill="none"/>
<rect x="322.5" y="725.8" width="173.1" height="318.8" fill="none" stroke="#555" stroke-width="1.1"/>
<line x1="409.1" y1="1044.6" x2="409.1" y2="1051.1" stroke="#555" stroke-width="0.9"/>
<text x="409.1" y="1063.2" font-family="Liberation Serif" font-size="12.7" text-anchor="middle" fill="#000" stroke="#000" stroke-width="0.2" textLength="34.6" lengthAdjust="spacingAndGlyphs">PRAD</text>
<text x="409.1" y="1078.4" font-family="Liberation Serif" font-size="12.7" text-anchor="middle" fill="#000" stroke="#000" stroke-width="0.2" textLength="153.5" lengthAdjust="spacingAndGlyphs">(num(T)=492; num(N)=152)</text>
<path d="M382.7 797.1V737.6H403.9M414.6 737.6H435.8V748.3" fill="none" stroke="#666" stroke-width="1"/>
<path d="M409.25 738.10L409.25 735.00M409.25 738.10L412.20 737.14M409.25 738.10L411.07 740.61M409.25 738.10L407.43 740.61M409.25 738.10L406.30 737.14" stroke="#e8202a" stroke-width="1.5" stroke-linecap="round" fill="none"/>
<text x="667.8" y="721.6" font-family="Liberation Serif" font-size="14.5" text-anchor="middle" fill="#000" stroke="#000" stroke-width="0.2" textLength="43.0" lengthAdjust="spacingAndGlyphs">MYH11</text>
<line x1="576.9" y1="729.2" x2="583.4" y2="729.2" stroke="#555" stroke-width="0.9"/>
<text transform="translate(573.8 729.2) rotate(-90)" font-family="Liberation Sans" font-size="16.4" text-anchor="middle" fill="#000" stroke="#000" stroke-width="0.25">14</text>
<line x1="576.9" y1="781.3" x2="583.4" y2="781.3" stroke="#555" stroke-width="0.9"/>
<text transform="translate(573.8 781.3) rotate(-90)" font-family="Liberation Sans" font-size="16.4" text-anchor="middle" fill="#000" stroke="#000" stroke-width="0.25">12</text>
<line x1="576.9" y1="833.1" x2="583.4" y2="833.1" stroke="#555" stroke-width="0.9"/>
<text transform="translate(573.8 833.1) rotate(-90)" font-family="Liberation Sans" font-size="16.4" text-anchor="middle" fill="#000" stroke="#000" stroke-width="0.25">10</text>
<line x1="576.9" y1="885" x2="583.4" y2="885" stroke="#555" stroke-width="0.9"/>
<text transform="translate(573.8 885) rotate(-90)" font-family="Liberation Sans" font-size="16.4" text-anchor="middle" fill="#000" stroke="#000" stroke-width="0.25">8</text>
<line x1="576.9" y1="936.8" x2="583.4" y2="936.8" stroke="#555" stroke-width="0.9"/>
<text transform="translate(573.8 936.8) rotate(-90)" font-family="Liberation Sans" font-size="16.4" text-anchor="middle" fill="#000" stroke="#000" stroke-width="0.25">6</text>
<line x1="576.9" y1="988.9" x2="583.4" y2="988.9" stroke="#555" stroke-width="0.9"/>
<text transform="translate(573.8 988.9) rotate(-90)" font-family="Liberation Sans" font-size="16.4" text-anchor="middle" fill="#000" stroke="#000" stroke-width="0.25">4</text>
<line x1="576.9" y1="1040.7" x2="583.4" y2="1040.7" stroke="#555" stroke-width="0.9"/>
<text transform="translate(573.8 1040.7) rotate(-90)" font-family="Liberation Sans" font-size="16.4" text-anchor="middle" fill="#000" stroke="#000" stroke-width="0.25">2</text>
<text transform="translate(546.6 886.7) rotate(-90)" font-family="Liberation Serif" font-size="16.9" text-anchor="middle" textLength="168" lengthAdjust="spacingAndGlyphs">Expression−log<tspan font-size="11" dy="2.5">2</tspan><tspan dy="-2.5">(TPM+1)</tspan></text>
<line x1="642.7" y1="794.3" x2="642.7" y2="844.3" stroke="#000" stroke-width="0.7" stroke-dasharray="2 2.5"/>
<line x1="642.7" y1="897.2" x2="642.7" y2="973.2" stroke="#000" stroke-width="0.7" stroke-dasharray="2 2.5"/>
<line x1="632.1" y1="794.3" x2="653.3" y2="794.3" stroke="#777" stroke-width="1.3"/>
<line x1="632.1" y1="973.2" x2="653.3" y2="973.2" stroke="#777" stroke-width="1.3"/>
<rect x="621.5" y="844.3" width="42.4" height="52.9" fill="#f0666b" stroke="#333" stroke-width="0.9"/>
<line x1="621.5" y1="866.8" x2="663.9" y2="866.8" stroke="#000" stroke-width="2.2"/>
<path d="M639.3 864.4h0M644.3 829.4h0M647.8 888.2h0M640.3 850.4h0M636.7 846.7h0M638.8 915.7h0M648.1 859.2h0M636.6 909.3h0M637.2 831.3h0M637.7 851.6h0M647.6 866.2h0M641.3 927.2h0M645.1 862.9h0M645.3 901.4h0M641.9 843.3h0M645.6 872.2h0M642.2 903.4h0M643.2 835.9h0M640.3 842.7h0M636.5 893.5h0M643.9 828.0h0M639.8 880.2h0M639.9 880.7h0M647.4 862.7h0M641.0 900.7h0M637.8 886.7h0M644.3 874.0h0M643.2 815.8h0M637.2 816.8h0M640.8 878.5h0M644.1 813.1h0M640.0 868.8h0M648.7 854.1h0M646.4 837.3h0M642.8 857.1h0M647.9 858.7h0M636.9 920.8h0M639.3 823.3h0M647.8 885.4h0M642.8 880.5h0M638.6 833.4h0M643.6 839.5h0M645.6 840.1h0M644.0 834.2h0M637.1 810.4h0M637.0 868.9h0M641.5 835.5h0M636.7 900.3h0M637.5 882.7h0M644.5 831.5h0M641.9 853.8h0M637.6 926.9h0M647.4 854.7h0M641.1 875.0h0M647.5 903.7h0M644.1 852.3h0M644.2 885.0h0M641.8 937.6h0M644.8 916.9h0M639.5 807.8h0M639.7 935.1h0M647.3 859.4h0M639.0 846.4h0M641.3 845.5h0M645.7 922.0h0M640.6 881.3h0M641.0 862.1h0M647.8 840.1h0M639.1 895.9h0M639.5 919.2h0M647.5 833.4h0M639.9 829.9h0M640.6 854.5h0M647.4 894.2h0M640.5 853.2h0M648.9 863.2h0M646.7 838.9h0M647.0 923.1h0M639.3 862.9h0M639.2 874.0h0M645.8 916.8h0M646.8 859.6h0M639.3 865.6h0M639.1 885.3h0M639.5 853.6h0M638.2 930.7h0M641.7 869.2h0M642.7 852.4h0M644.3 857.3h0M637.2 830.9h0M638.9 920.9h0M638.0 934.8h0M639.8 858.8h0M638.8 851.6h0M648.1 796.1h0M641.1 846.2h0M638.2 906.2h0M644.8 839.9h0M648.6 904.9h0M646.4 933.8h0M644.5 855.9h0M641.2 843.0h0M641.5 848.0h0M640.2 806.4h0M646.5 857.3h0M646.5 826.2h0M642.6 913.1h0M647.2 929.5h0M644.6 819.2h0M645.0 817.6h0M639.8 849.8h0M639.5 859.3h0M639.3 861.3h0M647.8 897.8h0M646.4 815.5h0M647.7 844.8h0M646.7 849.9h0M646.5 854.3h0M641.9 831.8h0M646.0 850.0h0M638.6 841.9h0M644.6 919.5h0M637.0 849.8h0M648.5 890.2h0M647.4 872.6h0M638.5 837.0h0M646.0 834.9h0M646.7 846.0h0M637.0 939.7h0M643.5 850.1h0M641.7 920.1h0M644.2 904.0h0M647.5 848.5h0M645.5 880.1h0M639.1 839.8h0M643.4 840.9h0M643.5 842.7h0M636.6 907.2h0M638.1 895.8h0M641.0 914.7h0M638.7 890.8h0M639.4 916.0h0M644.9 896.5h0M648.4 876.2h0M642.2 911.9h0M644.5 930.8h0M645.9 928.2h0M644.8 851.7h0M644.6 864.8h0M636.5 832.6h0M647.3 832.0h0M638.5 882.2h0M638.7 844.4h0M642.8 931.7h0M643.8 826.9h0M645.9 876.5h0M640.1 919.2h0M648.2 854.1h0M644.3 951.1h0M647.0 901.9h0M642.4 841.8h0M637.4 864.3h0M636.7 888.9h0M644.4 835.1h0M641.8 913.6h0M642.0 857.3h0M640.5 889.2h0M638.7 905.0h0M642.4 851.3h0M639.7 911.5h0M647.6 803.4h0M638.7 893.2h0M648.5 800.4h0M647.2 916.1h0M641.3 846.6h0M646.1 920.9h0M643.7 927.2h0M642.3 861.5h0M646.6 844.2h0M646.8 924.2h0M639.0 827.3h0M647.7 902.7h0M636.9 862.4h0M636.6 854.1h0M642.5 847.0h0M640.2 947.8h0M641.7 812.8h0M642.4 848.1h0M642.3 886.0h0M647.8 913.0h0M647.9 943.2h0M640.8 928.2h0M640.1 848.6h0M644.6 882.2h0M639.0 917.8h0M641.5 890.5h0M645.4 814.6h0M636.6 881.7h0M646.1 893.1h0M645.6 821.7h0M641.3 851.4h0M639.6 865.3h0M643.2 894.2h0M640.2 936.8h0M646.7 919.6h0M643.8 888.5h0M640.3 876.7h0M646.5 854.9h0M644.0 848.4h0M638.1 859.4h0M641.6 859.4h0M642.6 912.2h0M648.2 963.9h0M640.5 890.3h0M642.1 909.8h0M648.6 896.2h0M641.8 879.2h0M646.8 922.8h0M637.7 916.9h0M641.4 871.3h0M638.8 862.9h0M647.5 896.4h0M643.4 850.2h0M639.2 876.7h0M637.6 912.8h0M641.7 865.4h0M637.7 804.0h0M642.5 897.2h0M645.5 827.9h0M640.3 820.8h0M638.6 816.8h0M641.0 903.9h0M638.6 799.6h0M647.0 862.9h0M637.7 878.2h0M645.7 877.2h0M640.6 846.7h0M645.5 865.1h0M646.1 874.8h0M638.2 824.0h0M645.9 899.4h0M648.2 913.8h0M643.5 840.3h0M644.5 843.3h0M640.5 830.3h0M638.7 915.1h0M645.7 830.7h0M646.7 850.7h0M639.1 808.0h0M637.9 923.1h0M640.9 859.5h0M644.3 879.3h0M641.0 938.5h0M648.5 899.0h0M646.3 829.2h0M647.9 887.9h0M643.9 899.4h0M645.9 837.8h0M648.3 833.8h0M636.9 833.9h0M643.6 902.4h0M638.8 869.4h0M646.4 832.4h0M639.4 896.4h0M645.7 900.6h0M640.6 839.2h0M644.6 814.7h0M644.9 918.7h0M647.8 932.2h0M647.3 912.4h0M641.9 873.0h0M645.0 846.3h0M638.8 873.4h0M637.7 898.4h0M645.4 861.7h0M647.7 910.2h0M645.8 868.9h0M642.9 895.7h0M644.3 839.6h0M645.6 904.4h0M643.6 911.7h0M641.0 886.5h0M647.0 940.9h0M641.1 899.7h0M647.7 900.1h0M646.4 837.3h0M646.3 886.0h0M646.8 902.4h0M648.7 927.2h0M648.8 919.8h0M642.7 869.8h0M641.2 876.5h0M645.6 829.0h0M648.5 895.2h0M644.3 831.5h0M636.8 858.2h0M637.0 867.0h0M642.3 957.3h0M646.3 924.9h0M647.5 842.1h0M641.2 820.2h0M642.9 859.9h0M642.9 841.4h0M637.7 885.2h0M636.5 883.5h0M643.0 896.7h0M642.8 834.3h0M647.2 855.4h0M638.8 877.4h0M647.1 881.6h0M639.9 848.2h0M643.2 856.0h0M645.3 904.3h0M638.3 809.6h0M648.2 858.2h0M648.4 866.5h0M648.5 817.5h0M636.5 832.6h0M644.5 870.8h0M644.8 848.9h0M647.4 915.0h0M639.0 895.7h0M638.0 968.7h0M646.5 826.1h0M639.7 952.4h0M637.3 844.1h0M637.6 904.2h0M644.5 910.9h0M643.1 875.6h0M645.8 857.9h0M646.5 846.4h0M636.5 807.7h0M648.1 854.8h0M647.4 837.4h0M648.1 893.8h0M646.0 843.0h0M641.3 861.7h0M639.6 887.7h0M647.8 871.1h0M641.7 869.6h0M642.6 860.4h0M645.2 853.4h0M645.0 889.7h0M645.1 900.2h0M644.2 841.9h0M642.8 943.3h0M646.0 894.7h0M641.4 815.0h0M639.8 898.0h0M647.8 843.9h0M647.0 941.2h0M645.4 818.9h0M638.6 814.9h0M637.1 836.2h0M647.9 876.8h0M648.2 854.9h0M639.9 907.2h0M644.3 839.8h0M636.7 917.3h0M641.4 879.1h0M645.2 833.6h0M641.0 917.0h0M646.5 883.2h0M647.8 861.3h0M638.2 927.3h0M645.0 828.0h0M641.2 855.4h0M638.7 935.1h0M640.8 868.9h0M642.5 901.7h0M647.6 896.4h0M646.0 864.2h0M636.6 898.8h0M637.2 834.6h0M648.8 898.6h0M643.4 834.1h0M644.1 868.8h0M640.9 838.3h0M646.8 891.2h0M643.4 889.6h0M643.8 918.7h0M639.6 847.5h0M646.1 835.5h0M639.2 796.1h0M638.2 823.8h0M643.9 858.5h0M646.8 876.3h0M640.1 853.8h0M640.2 868.1h0M638.4 818.0h0M644.0 835.3h0M646.1 904.5h0M638.1 897.8h0M643.1 821.2h0M643.2 856.5h0M637.8 877.2h0M643.1 827.2h0M639.9 884.3h0M639.0 879.4h0M648.7 887.6h0M637.6 955.2h0M640.8 838.0h0M644.2 921.3h0M641.5 892.4h0M636.7 900.3h0M647.2 842.5h0M639.5 869.9h0M641.6 866.3h0M647.8 942.5h0M648.5 870.7h0M647.8 933.3h0M641.6 856.6h0M645.7 854.6h0M647.0 867.6h0M638.9 798.6h0M648.5 849.2h0M637.8 846.9h0M644.7 862.1h0M639.5 875.5h0M639.2 834.6h0M638.2 830.1h0M648.2 925.4h0M638.1 831.6h0M647.8 849.7h0M638.6 834.8h0M640.6 851.2h0M639.1 922.9h0M648.8 919.7h0M637.7 805.9h0M647.2 858.4h0M640.2 930.7h0M648.3 855.2h0M645.8 883.1h0M639.8 949.9h0M642.8 970.0h0M638.5 939.0h0M641.5 857.7h0M636.8 869.0h0M645.0 878.0h0M643.9 857.3h0M639.9 846.7h0M636.7 961.6h0M648.1 880.4h0M638.0 904.1h0M640.6 922.4h0M636.8 891.5h0M641.3 872.3h0M641.5 878.8h0M643.1 932.4h0M640.5 888.6h0M639.6 799.6h0M646.2 914.3h0M640.0 942.8h0M640.6 857.6h0M642.6 846.9h0M639.9 851.3h0M645.5 917.3h0M637.5 833.5h0M640.5 902.2h0M641.7 917.9h0M639.7 894.2h0M646.9 871.7h0M640.9 843.0h0M641.7 846.0h0M642.3 867.8h0M646.8 835.7h0M639.2 864.1h0M646.8 836.9h0M648.3 930.1h0M639.8 937.7h0M638.6 840.9h0M646.3 929.5h0M640.4 880.4h0M639.3 871.2h0M637.5 888.8h0M644.1 887.2h0M648.1 820.3h0M647.4 837.3h0M643.8 866.0h0M641.9 867.7h0M648.6 842.6h0M644.7 805.8h0M648.4 979.0h0M645.0 983.0h0M645.1 989.0h0M645.2 992.0h0M638.1 998.0h0M639.6 1024.0h0M637.3 1027.0h0M648.1 1030.0h0M648.8 794.3h0M644.0 973.2h0" stroke="#000" stroke-width="1.9" stroke-linecap="round" fill="none"/>
<line x1="695.8" y1="753.6" x2="695.8" y2="810" stroke="#000" stroke-width="0.7" stroke-dasharray="2 2.5"/>
<line x1="695.8" y1="853.3" x2="695.8" y2="914.3" stroke="#000" stroke-width="0.7" stroke-dasharray="2 2.5"/>
<line x1="685.2" y1="753.6" x2="706.4" y2="753.6" stroke="#777" stroke-width="1.3"/>
<line x1="685.2" y1="914.3" x2="706.4" y2="914.3" stroke="#777" stroke-width="1.3"/>
<rect x="674.6" y="810" width="42.4" height="43.3" fill="#7f7f7f" stroke="#333" stroke-width="0.9"/>
<line x1="674.6" y1="829.9" x2="717" y2="829.9" stroke="#000" stroke-width="2.2"/>
<path d="M694.3 842.1h0M693.9 907.9h0M695.3 834.4h0M698.6 845.0h0M691.1 904.9h0M700.6 821.4h0M695.5 812.5h0M694.3 855.4h0M698.0 842.8h0M693.3 863.4h0M698.2 807.4h0M694.9 882.5h0M695.6 840.8h0M692.3 772.3h0M692.5 828.4h0M699.8 816.1h0M696.7 835.0h0M694.9 870.6h0M698.9 831.0h0M700.4 817.9h0M692.0 865.4h0M701.4 819.8h0M690.4 793.2h0M697.1 798.3h0M693.2 884.8h0M693.0 863.7h0M695.7 885.9h0M697.0 798.3h0M695.1 811.9h0M698.2 809.2h0M700.8 860.4h0M692.1 870.4h0M692.9 827.6h0M697.0 826.9h0M694.8 859.5h0M693.7 825.7h0M695.9 810.9h0M698.0 823.2h0M700.4 866.0h0M700.7 903.2h0M699.4 838.9h0M694.1 825.1h0M700.1 838.9h0M698.2 844.8h0M692.2 853.9h0M700.9 808.8h0M693.0 831.7h0M697.8 826.3h0M698.0 863.6h0M700.4 851.4h0M697.7 825.1h0M701.2 864.8h0M690.9 873.6h0M690.6 841.3h0M692.4 794.5h0M696.6 824.3h0M694.9 786.8h0M691.1 834.5h0M692.5 840.7h0M696.7 878.2h0M694.7 849.9h0M698.8 787.6h0M695.4 820.2h0M700.0 808.3h0M698.7 809.1h0M695.7 830.2h0M694.2 837.0h0M692.6 826.4h0M693.5 810.1h0M694.2 816.4h0M694.2 815.4h0M692.2 825.4h0M695.5 856.6h0M691.5 839.0h0M699.9 862.6h0M696.4 800.3h0M691.3 902.8h0M693.9 837.5h0M693.1 759.5h0M691.9 841.7h0M695.6 869.3h0M692.3 830.5h0M691.9 791.9h0M698.1 835.5h0M695.0 811.8h0M697.7 827.0h0M695.5 842.8h0M695.8 827.8h0M693.7 848.5h0M695.0 846.9h0M695.6 818.7h0M694.0 817.8h0M699.5 807.1h0M693.0 825.7h0M692.7 879.6h0M694.1 814.2h0M699.0 840.6h0M699.7 839.8h0M696.5 881.3h0M694.2 849.8h0M697.5 855.1h0M699.5 831.2h0M692.9 880.3h0M697.7 828.4h0M698.2 826.2h0M694.6 868.7h0M691.8 851.6h0M697.0 859.7h0M692.6 803.1h0M694.3 841.8h0M696.3 887.5h0M701.0 844.9h0M691.8 804.9h0M691.0 851.8h0M696.2 825.8h0M700.8 859.2h0M690.7 772.7h0M697.4 803.0h0M690.5 796.6h0M696.4 876.0h0M691.5 868.1h0M697.6 798.0h0M694.2 836.6h0M697.5 838.8h0M693.1 820.1h0M691.0 873.4h0M692.2 807.1h0M693.3 829.4h0M692.0 815.8h0M692.4 853.2h0M696.3 814.8h0M695.1 854.4h0M699.4 801.7h0M695.8 796.6h0M696.2 803.0h0M698.2 814.7h0M699.8 811.2h0M696.7 805.3h0M690.6 839.4h0M695.3 827.1h0M690.6 839.7h0M697.0 878.2h0M690.9 848.6h0M696.2 810.5h0M691.9 788.1h0M699.8 851.5h0M691.3 861.3h0M697.6 923.5h0M698.1 939.6h0M693.3 964.7h0M696.8 753.6h0M693.9 914.3h0" stroke="#000" stroke-width="1.9" stroke-linecap="round" fill="none"/>
<rect x="583.4" y="724.3" width="172.2" height="318.1" fill="none" stroke="#555" stroke-width="1.1"/>
<line x1="669.5" y1="1042.4" x2="669.5" y2="1048.9" stroke="#555" stroke-width="0.9"/>
<text x="669.5" y="1062.8" font-family="Liberation Serif" font-size="12.7" text-anchor="middle" fill="#000" stroke="#000" stroke-width="0.2" textLength="34.6" lengthAdjust="spacingAndGlyphs">PRAD</text>
<text x="669.5" y="1078" font-family="Liberation Serif" font-size="12.7" text-anchor="middle" fill="#000" stroke="#000" stroke-width="0.2" textLength="153.5" lengthAdjust="spacingAndGlyphs">(num(T)=492; num(N)=152)</text>
<path d="M642.7 785.3V736H664M674.5 736H695.8V745.3" fill="none" stroke="#666" stroke-width="1"/>
<path d="M669.25 736.50L669.25 733.40M669.25 736.50L672.20 735.54M669.25 736.50L671.07 739.01M669.25 736.50L667.43 739.01M669.25 736.50L666.30 735.54" stroke="#e8202a" stroke-width="1.5" stroke-linecap="round" fill="none"/>
<text x="933.1" y="721.6" font-family="Liberation Serif" font-size="14.5" text-anchor="middle" fill="#000" stroke="#000" stroke-width="0.2" textLength="43.0" lengthAdjust="spacingAndGlyphs">TAGLN</text>
<line x1="841.2" y1="779.6" x2="847.7" y2="779.6" stroke="#555" stroke-width="0.9"/>
<text transform="translate(838.1 779.6) rotate(-90)" font-family="Liberation Sans" font-size="16.4" text-anchor="middle" fill="#000" stroke="#000" stroke-width="0.25">14</text>
<line x1="841.2" y1="837" x2="847.7" y2="837" stroke="#555" stroke-width="0.9"/>
<text transform="translate(838.1 837) rotate(-90)" font-family="Liberation Sans" font-size="16.4" text-anchor="middle" fill="#000" stroke="#000" stroke-width="0.25">12</text>
<line x1="841.2" y1="894.4" x2="847.7" y2="894.4" stroke="#555" stroke-width="0.9"/>
<text transform="translate(838.1 894.4) rotate(-90)" font-family="Liberation Sans" font-size="16.4" text-anchor="middle" fill="#000" stroke="#000" stroke-width="0.25">10</text>
<line x1="841.2" y1="951.8" x2="847.7" y2="951.8" stroke="#555" stroke-width="0.9"/>
<text transform="translate(838.1 951.8) rotate(-90)" font-family="Liberation Sans" font-size="16.4" text-anchor="middle" fill="#000" stroke="#000" stroke-width="0.25">8</text>
<line x1="841.2" y1="1009.2" x2="847.7" y2="1009.2" stroke="#555" stroke-width="0.9"/>
<text transform="translate(838.1 1009.2) rotate(-90)" font-family="Liberation Sans" font-size="16.4" text-anchor="middle" fill="#000" stroke="#000" stroke-width="0.25">6</text>
<text transform="translate(805.5 879.2) rotate(-90)" font-family="Liberation Serif" font-size="16.9" text-anchor="middle" textLength="168" lengthAdjust="spacingAndGlyphs">Expression−log<tspan font-size="11" dy="2.5">2</tspan><tspan dy="-2.5">(TPM+1)</tspan></text>
<line x1="906.6" y1="797.1" x2="906.6" y2="859.3" stroke="#000" stroke-width="0.7" stroke-dasharray="2 2.5"/>
<line x1="906.6" y1="905.3" x2="906.6" y2="967.9" stroke="#000" stroke-width="0.7" stroke-dasharray="2 2.5"/>
<line x1="896" y1="797.1" x2="917.2" y2="797.1" stroke="#777" stroke-width="1.3"/>
<line x1="896" y1="967.9" x2="917.2" y2="967.9" stroke="#777" stroke-width="1.3"/>
<rect x="885.4" y="859.3" width="42.4" height="46" fill="#f0666b" stroke="#333" stroke-width="0.9"/>
<line x1="885.4" y1="878.5" x2="927.8" y2="878.5" stroke="#000" stroke-width="2.2"/>
<path d="M904.0 875.8h0M903.8 874.7h0M901.9 876.9h0M903.6 860.1h0M901.9 863.3h0M910.1 941.7h0M901.0 847.6h0M902.8 899.5h0M910.2 897.1h0M909.9 829.3h0M912.5 852.3h0M905.2 891.9h0M901.0 952.3h0M910.4 873.9h0M903.9 863.2h0M910.0 881.7h0M900.6 928.0h0M900.8 909.9h0M907.8 928.4h0M908.9 872.4h0M907.4 855.2h0M907.0 849.3h0M907.8 907.6h0M902.0 871.8h0M901.2 862.7h0M904.7 898.8h0M907.2 884.4h0M903.5 818.0h0M902.6 872.7h0M905.9 853.4h0M905.5 895.8h0M903.7 877.3h0M911.9 946.6h0M912.1 879.5h0M901.0 844.6h0M906.4 818.8h0M903.3 844.4h0M904.6 858.9h0M900.8 877.0h0M901.4 902.3h0M900.8 884.9h0M902.0 861.1h0M908.5 909.7h0M901.4 851.9h0M911.4 917.6h0M910.4 949.2h0M903.7 918.7h0M909.0 944.7h0M912.2 933.0h0M901.8 846.3h0M907.3 886.5h0M906.2 872.3h0M904.2 845.5h0M904.0 842.7h0M901.5 898.5h0M908.4 840.7h0M902.9 867.6h0M905.6 878.4h0M911.9 865.9h0M904.7 935.1h0M904.3 909.7h0M912.0 882.8h0M907.6 861.1h0M907.5 893.3h0M903.2 883.6h0M908.4 850.9h0M905.1 838.3h0M907.1 856.7h0M905.3 842.4h0M901.4 894.6h0M911.3 890.7h0M909.0 869.4h0M912.3 890.5h0M904.2 898.6h0M903.9 831.5h0M902.1 886.5h0M904.2 916.9h0M904.4 864.6h0M902.7 826.2h0M903.7 876.2h0M904.0 843.4h0M911.0 895.9h0M905.9 898.0h0M910.6 905.9h0M901.0 884.2h0M902.7 826.2h0M912.2 924.4h0M901.0 831.9h0M901.3 918.6h0M906.8 887.8h0M904.0 854.7h0M902.8 860.6h0M907.9 870.5h0M908.0 944.0h0M902.7 868.2h0M907.1 919.1h0M906.0 805.4h0M910.9 887.0h0M901.2 873.1h0M903.3 924.1h0M907.4 897.5h0M900.8 929.8h0M910.9 850.6h0M912.4 888.9h0M904.5 862.5h0M910.0 905.7h0M903.5 898.4h0M912.2 841.8h0M903.0 917.1h0M900.5 950.1h0M901.2 866.9h0M906.1 923.8h0M900.9 896.0h0M912.6 852.6h0M908.2 911.0h0M907.5 853.5h0M908.2 905.6h0M905.6 836.1h0M911.4 840.8h0M909.2 897.2h0M905.7 887.0h0M903.9 911.6h0M902.2 872.8h0M904.3 845.8h0M904.8 936.0h0M901.4 852.4h0M911.9 931.1h0M903.6 912.7h0M907.1 949.5h0M901.2 818.6h0M907.2 876.8h0M908.4 871.5h0M901.4 905.4h0M912.5 848.1h0M902.4 962.1h0M903.7 877.7h0M909.5 815.7h0M904.6 893.7h0M911.3 878.0h0M903.4 859.4h0M904.3 910.7h0M909.0 877.8h0M911.1 851.1h0M911.4 873.0h0M904.0 867.9h0M907.0 892.4h0M905.5 869.5h0M908.8 876.9h0M903.2 837.1h0M910.8 857.9h0M909.2 888.2h0M902.6 858.1h0M904.3 857.0h0M904.6 914.9h0M911.9 957.9h0M906.1 923.9h0M908.0 852.1h0M911.9 920.8h0M905.3 896.8h0M912.1 872.2h0M904.0 843.6h0M900.6 879.2h0M901.7 882.5h0M909.0 900.3h0M905.1 832.1h0M910.7 848.2h0M907.0 882.3h0M908.9 934.0h0M904.8 909.9h0M907.7 862.0h0M909.1 907.2h0M905.1 853.1h0M906.5 868.2h0M910.9 870.2h0M911.9 859.9h0M904.7 864.3h0M901.2 912.5h0M910.8 891.4h0M905.9 811.9h0M912.4 926.5h0M909.9 897.4h0M905.0 848.2h0M910.9 884.8h0M907.2 910.8h0M909.2 931.1h0M911.4 863.2h0M907.6 849.5h0M912.1 838.7h0M905.3 877.0h0M905.1 848.8h0M908.3 919.5h0M905.4 873.7h0M909.2 905.4h0M907.0 873.6h0M909.6 857.1h0M910.6 848.0h0M907.4 917.8h0M911.7 842.4h0M910.1 897.3h0M911.0 919.3h0M900.6 885.3h0M900.6 936.6h0M908.3 878.4h0M904.5 870.3h0M911.2 886.5h0M905.3 863.2h0M909.6 891.0h0M903.5 878.4h0M908.2 935.7h0M911.6 877.3h0M911.1 912.3h0M904.9 896.4h0M906.4 882.2h0M907.0 873.1h0M904.7 943.9h0M906.4 940.6h0M912.4 890.5h0M911.3 865.0h0M904.3 868.2h0M908.9 853.1h0M912.2 841.5h0M904.9 864.4h0M910.9 879.3h0M910.3 919.5h0M911.4 916.1h0M901.4 897.1h0M911.8 870.9h0M912.6 872.2h0M903.4 878.4h0M908.3 884.6h0M901.5 860.6h0M907.9 872.6h0M909.2 870.0h0M909.6 869.7h0M911.0 900.2h0M904.0 919.5h0M901.8 864.5h0M910.5 866.6h0M900.7 887.2h0M903.3 895.0h0M903.3 813.6h0M910.0 908.7h0M905.9 887.1h0M910.8 870.9h0M908.7 924.4h0M910.9 875.2h0M910.1 827.3h0M911.3 851.9h0M903.8 860.5h0M904.8 861.6h0M908.2 875.3h0M907.6 851.2h0M910.0 884.7h0M910.4 895.3h0M904.2 875.6h0M901.9 852.7h0M909.6 869.1h0M908.9 859.3h0M903.8 958.9h0M901.1 844.5h0M900.7 811.9h0M903.5 840.5h0M903.8 891.1h0M903.0 912.2h0M901.0 870.6h0M902.5 917.7h0M904.7 857.8h0M901.5 899.4h0M903.0 851.2h0M905.8 839.7h0M910.9 959.2h0M911.2 870.2h0M905.4 906.2h0M902.0 934.5h0M903.7 903.0h0M908.8 887.2h0M905.5 849.1h0M907.5 939.0h0M909.5 848.6h0M908.6 821.1h0M911.1 861.5h0M901.5 863.0h0M904.1 879.0h0M900.8 925.2h0M906.9 863.3h0M908.0 867.6h0M903.5 857.7h0M901.1 805.4h0M906.2 857.8h0M902.5 866.4h0M902.8 834.0h0M905.1 931.9h0M912.1 923.9h0M904.9 893.4h0M909.2 904.5h0M905.0 858.7h0M905.4 891.1h0M902.1 829.0h0M902.7 835.2h0M910.0 856.6h0M905.7 893.8h0M903.9 860.9h0M912.6 855.4h0M911.3 920.9h0M903.7 868.6h0M905.8 858.4h0M907.4 872.3h0M902.5 833.8h0M905.7 843.9h0M903.9 911.3h0M910.4 875.0h0M901.6 911.7h0M912.7 862.0h0M903.3 913.0h0M904.5 852.2h0M901.3 867.5h0M911.7 850.9h0M910.7 884.3h0M901.2 936.4h0M906.9 828.2h0M905.2 885.4h0M907.9 839.3h0M904.6 866.3h0M912.3 859.3h0M903.1 826.4h0M910.6 868.8h0M903.7 838.6h0M908.5 937.5h0M905.7 853.7h0M906.9 888.1h0M906.9 883.8h0M908.2 878.3h0M901.2 868.6h0M901.1 831.3h0M912.4 952.2h0M903.5 877.2h0M904.8 907.0h0M903.4 845.3h0M908.4 895.3h0M912.6 865.5h0M905.4 894.3h0M904.4 859.5h0M904.7 849.6h0M900.7 894.3h0M901.5 877.1h0M901.0 934.9h0M904.4 869.8h0M912.6 854.1h0M902.2 900.6h0M907.2 846.6h0M903.0 960.9h0M900.9 952.1h0M910.8 933.7h0M902.0 897.8h0M902.1 878.0h0M910.5 881.6h0M903.4 881.2h0M902.9 857.9h0M912.1 897.3h0M902.8 928.7h0M910.7 927.9h0M904.2 818.4h0M907.4 885.5h0M904.3 837.0h0M904.6 864.7h0M912.0 911.5h0M911.7 878.4h0M902.6 853.9h0M909.4 844.1h0M902.1 914.2h0M904.1 856.9h0M901.3 871.3h0M908.4 847.1h0M909.4 838.9h0M909.7 892.1h0M910.0 936.1h0M905.3 867.2h0M902.6 827.9h0M900.5 859.0h0M905.9 871.9h0M912.0 810.2h0M906.0 919.8h0M908.0 852.8h0M911.8 901.2h0M911.1 877.1h0M909.6 875.9h0M907.7 835.4h0M903.3 915.7h0M909.7 899.8h0M905.6 941.8h0M909.2 864.6h0M903.2 896.7h0M912.1 866.5h0M902.4 921.1h0M910.2 892.8h0M911.4 848.9h0M902.3 885.4h0M911.1 860.7h0M908.4 863.5h0M907.9 892.5h0M903.5 940.5h0M904.5 850.5h0M903.3 873.6h0M905.9 850.5h0M908.4 958.5h0M909.4 944.2h0M909.2 963.6h0M904.7 913.3h0M904.6 848.8h0M909.9 862.4h0M912.5 879.9h0M903.1 874.8h0M905.5 856.8h0M903.8 890.5h0M912.5 867.2h0M900.6 874.5h0M911.5 965.4h0M909.9 893.8h0M904.5 839.8h0M908.8 894.2h0M905.0 884.2h0M908.3 902.6h0M905.7 897.8h0M911.7 846.5h0M906.1 889.2h0M910.5 919.1h0M907.5 901.3h0M905.0 956.6h0M912.4 951.0h0M902.8 855.9h0M911.7 858.3h0M912.6 954.7h0M910.9 854.3h0M908.0 865.4h0M908.1 909.6h0M911.9 857.6h0M905.8 943.1h0M910.6 926.4h0M910.0 935.7h0M911.0 922.7h0M905.9 853.5h0M908.5 931.5h0M901.5 924.2h0M901.3 916.3h0M901.7 872.9h0M909.5 892.0h0M904.8 854.0h0M911.7 906.8h0M901.4 929.7h0M902.5 898.5h0M910.8 877.5h0M905.6 915.6h0M903.1 870.7h0M910.1 826.9h0M903.3 901.9h0M912.5 877.5h0M903.8 840.3h0M911.0 904.6h0M906.3 912.6h0M912.0 922.4h0M904.1 867.5h0M911.9 864.2h0M904.2 885.0h0M906.0 877.7h0M908.2 842.7h0M907.3 854.3h0M908.7 934.9h0M909.0 879.7h0M903.7 876.1h0M900.5 858.6h0M909.4 888.3h0M907.8 905.1h0M907.4 897.7h0M906.5 950.2h0M911.9 880.6h0M904.1 903.3h0M911.7 866.0h0M902.5 920.4h0M909.0 897.0h0M912.1 918.6h0M902.3 922.1h0M909.9 859.5h0M903.8 789.6h0M901.1 975.0h0M905.7 979.0h0M909.1 982.0h0M903.9 990.0h0M912.2 997.0h0M900.4 1004.0h0M903.7 1030.0h0M904.6 797.1h0M905.0 967.9h0" stroke="#000" stroke-width="1.9" stroke-linecap="round" fill="none"/>
<line x1="959.6" y1="760.3" x2="959.6" y2="820" stroke="#000" stroke-width="0.7" stroke-dasharray="2 2.5"/>
<line x1="959.6" y1="860.8" x2="959.6" y2="919.2" stroke="#000" stroke-width="0.7" stroke-dasharray="2 2.5"/>
<line x1="949" y1="760.3" x2="970.2" y2="760.3" stroke="#777" stroke-width="1.3"/>
<line x1="949" y1="919.2" x2="970.2" y2="919.2" stroke="#777" stroke-width="1.3"/>
<rect x="938.5" y="820" width="42.2" height="40.8" fill="#7f7f7f" stroke="#333" stroke-width="0.9"/>
<line x1="938.5" y1="843.2" x2="980.7" y2="843.2" stroke="#000" stroke-width="2.2"/>
<path d="M955.5 809.1h0M958.6 829.5h0M960.0 862.6h0M961.3 848.2h0M960.3 857.2h0M963.8 842.8h0M963.0 809.8h0M955.1 884.0h0M957.8 799.2h0M963.9 854.0h0M962.5 792.7h0M954.2 830.3h0M961.0 802.0h0M955.4 825.0h0M959.6 807.0h0M965.1 842.5h0M954.8 865.9h0M963.2 821.3h0M959.4 819.9h0M965.0 772.0h0M963.6 896.6h0M954.7 849.3h0M961.2 807.8h0M963.6 876.9h0M957.1 850.1h0M961.9 771.4h0M956.8 795.5h0M956.3 867.1h0M957.7 795.2h0M957.3 803.5h0M964.8 817.5h0M956.6 831.2h0M958.8 836.1h0M959.4 866.8h0M961.7 857.5h0M964.9 819.0h0M960.9 839.4h0M963.6 780.5h0M955.5 852.7h0M961.4 906.7h0M955.9 852.7h0M963.8 834.7h0M960.7 831.0h0M955.5 841.9h0M963.5 865.5h0M959.9 792.7h0M959.4 861.3h0M954.9 819.7h0M964.2 851.4h0M959.8 875.2h0M963.7 795.5h0M954.8 909.5h0M961.6 866.2h0M958.2 829.2h0M960.0 853.2h0M961.0 818.2h0M963.2 846.5h0M964.3 855.7h0M955.9 769.6h0M963.6 849.6h0M955.3 848.0h0M954.1 872.1h0M957.4 863.3h0M957.2 821.6h0M962.6 824.6h0M960.3 843.7h0M958.3 862.1h0M962.9 820.3h0M964.5 888.2h0M961.2 852.7h0M961.3 850.3h0M963.7 865.8h0M957.3 838.6h0M965.2 861.1h0M956.0 864.6h0M954.5 781.8h0M963.2 818.3h0M956.0 802.5h0M957.8 842.0h0M959.7 810.5h0M955.2 816.8h0M958.7 801.9h0M958.0 762.2h0M955.0 849.4h0M960.8 834.7h0M959.1 844.8h0M955.8 879.9h0M962.8 842.9h0M958.6 821.7h0M954.3 858.4h0M963.8 804.4h0M958.6 799.3h0M955.0 854.2h0M957.2 794.4h0M956.9 783.1h0M954.5 827.4h0M957.7 868.9h0M955.9 792.8h0M956.4 847.6h0M961.6 853.1h0M955.8 839.3h0M954.2 857.3h0M956.0 806.4h0M957.3 816.5h0M955.8 801.3h0M960.7 823.2h0M963.9 863.9h0M963.3 847.4h0M959.3 813.1h0M962.8 853.8h0M962.9 849.5h0M961.1 858.5h0M963.0 803.7h0M958.2 817.5h0M962.4 843.9h0M959.9 849.2h0M962.3 828.5h0M962.3 814.5h0M954.7 817.0h0M963.3 851.1h0M954.4 828.3h0M958.8 814.2h0M960.6 816.9h0M963.2 866.4h0M954.6 863.4h0M961.5 849.2h0M957.9 837.0h0M954.5 811.5h0M957.7 822.0h0M961.2 846.5h0M954.9 842.4h0M963.5 782.7h0M954.5 859.2h0M956.7 832.7h0M957.7 789.4h0M954.7 831.3h0M964.4 896.5h0M964.8 830.3h0M964.1 853.3h0M956.2 846.2h0M963.3 807.0h0M957.8 827.0h0M957.2 850.1h0M961.7 812.5h0M955.0 828.2h0M954.1 758.0h0M964.4 927.0h0M958.0 930.0h0M962.9 934.0h0M958.8 983.0h0M955.0 760.3h0M959.3 919.2h0" stroke="#000" stroke-width="1.9" stroke-linecap="round" fill="none"/>
<rect x="847.7" y="724.3" width="171.1" height="317.7" fill="none" stroke="#555" stroke-width="1.1"/>
<line x1="933.2" y1="1042" x2="933.2" y2="1048.5" stroke="#555" stroke-width="0.9"/>
<text x="933.2" y="1062.8" font-family="Liberation Serif" font-size="12.7" text-anchor="middle" fill="#000" stroke="#000" stroke-width="0.2" textLength="34.6" lengthAdjust="spacingAndGlyphs">PRAD</text>
<text x="933.2" y="1078" font-family="Liberation Serif" font-size="12.7" text-anchor="middle" fill="#000" stroke="#000" stroke-width="0.2" textLength="153.5" lengthAdjust="spacingAndGlyphs">(num(T)=492; num(N)=152)</text>
<path d="M906.6 778.9V736H927.8M938.4 736H959.6V747.4" fill="none" stroke="#666" stroke-width="1"/>
<path d="M933.10 736.50L933.10 733.40M933.10 736.50L936.05 735.54M933.10 736.50L934.92 739.01M933.10 736.50L931.28 739.01M933.10 736.50L930.15 735.54" stroke="#e8202a" stroke-width="1.5" stroke-linecap="round" fill="none"/>
<text x="1189.6" y="721.9" font-family="Liberation Serif" font-size="14.5" text-anchor="middle" fill="#000" stroke="#000" stroke-width="0.2" textLength="34.4" lengthAdjust="spacingAndGlyphs">LDB3</text>
<line x1="1098" y1="781.7" x2="1104.5" y2="781.7" stroke="#555" stroke-width="0.9"/>
<text transform="translate(1094.9 781.7) rotate(-90)" font-family="Liberation Sans" font-size="16.4" text-anchor="middle" fill="#000" stroke="#000" stroke-width="0.25">8</text>
<line x1="1098" y1="845.3" x2="1104.5" y2="845.3" stroke="#555" stroke-width="0.9"/>
<text transform="translate(1094.9 845.3) rotate(-90)" font-family="Liberation Sans" font-size="16.4" text-anchor="middle" fill="#000" stroke="#000" stroke-width="0.25">6</text>
<line x1="1098" y1="909" x2="1104.5" y2="909" stroke="#555" stroke-width="0.9"/>
<text transform="translate(1094.9 909) rotate(-90)" font-family="Liberation Sans" font-size="16.4" text-anchor="middle" fill="#000" stroke="#000" stroke-width="0.25">4</text>
<line x1="1098" y1="972.4" x2="1104.5" y2="972.4" stroke="#555" stroke-width="0.9"/>
<text transform="translate(1094.9 972.4) rotate(-90)" font-family="Liberation Sans" font-size="16.4" text-anchor="middle" fill="#000" stroke="#000" stroke-width="0.25">2</text>
<line x1="1098" y1="1036" x2="1104.5" y2="1036" stroke="#555" stroke-width="0.9"/>
<text transform="translate(1094.9 1036) rotate(-90)" font-family="Liberation Sans" font-size="16.4" text-anchor="middle" fill="#000" stroke="#000" stroke-width="0.25">0</text>
<text transform="translate(1066.3 894.8) rotate(-90)" font-family="Liberation Serif" font-size="16.9" text-anchor="middle" textLength="168" lengthAdjust="spacingAndGlyphs">Expression−log<tspan font-size="11" dy="2.5">2</tspan><tspan dy="-2.5">(TPM+1)</tspan></text>
<line x1="1164" y1="873.8" x2="1164" y2="943.9" stroke="#000" stroke-width="0.7" stroke-dasharray="2 2.5"/>
<line x1="1164" y1="993.6" x2="1164" y2="1030.2" stroke="#000" stroke-width="0.7" stroke-dasharray="2 2.5"/>
<line x1="1153.3" y1="873.8" x2="1174.7" y2="873.8" stroke="#777" stroke-width="1.3"/>
<line x1="1153.3" y1="1030.2" x2="1174.7" y2="1030.2" stroke="#777" stroke-width="1.3"/>
<rect x="1142.7" y="943.9" width="42.6" height="49.7" fill="#f0666b" stroke="#333" stroke-width="0.9"/>
<line x1="1142.7" y1="967" x2="1185.3" y2="967" stroke="#000" stroke-width="2.2"/>
<line x1="1142.7" y1="1036" x2="1185.3" y2="1036" stroke="#000" stroke-width="2.4"/>
<path d="M1163.7 996.5h0M1158.5 989.7h0M1159.4 957.7h0M1168.1 963.9h0M1160.1 961.9h0M1166.3 905.0h0M1159.8 921.6h0M1167.2 994.6h0M1169.7 992.0h0M1165.5 907.6h0M1158.3 978.7h0M1166.9 919.1h0M1163.7 911.6h0M1168.5 987.6h0M1159.6 976.8h0M1161.3 963.5h0M1169.2 1000.3h0M1168.2 1004.8h0M1169.1 982.0h0M1164.3 937.1h0M1166.2 983.9h0M1169.4 974.3h0M1166.0 984.6h0M1158.9 1020.0h0M1159.7 915.5h0M1157.8 992.0h0M1159.2 947.2h0M1158.1 1021.3h0M1162.6 945.6h0M1165.4 923.4h0M1168.5 1000.1h0M1162.9 959.2h0M1159.8 1010.0h0M1169.1 949.0h0M1169.2 963.3h0M1169.9 958.9h0M1158.1 919.5h0M1165.1 950.2h0M1165.6 920.2h0M1164.4 944.6h0M1160.1 1013.5h0M1169.2 957.4h0M1164.5 949.6h0M1158.3 1023.2h0M1162.1 920.7h0M1166.8 964.0h0M1160.3 953.7h0M1167.4 1001.6h0M1160.4 963.9h0M1163.2 956.1h0M1161.4 979.1h0M1159.4 963.6h0M1168.8 919.7h0M1162.0 1010.2h0M1167.1 1004.1h0M1168.9 999.2h0M1161.3 947.7h0M1157.9 1002.3h0M1164.3 956.6h0M1160.7 1004.1h0M1168.6 890.8h0M1159.8 947.7h0M1166.7 899.4h0M1158.1 1006.3h0M1161.2 943.6h0M1160.2 1004.0h0M1168.4 946.6h0M1165.2 943.2h0M1166.0 1029.2h0M1158.8 1011.1h0M1161.6 1012.3h0M1168.9 1025.6h0M1165.4 995.2h0M1167.2 1004.2h0M1164.0 1023.4h0M1160.3 963.1h0M1169.1 947.8h0M1161.1 1018.3h0M1159.9 988.4h0M1165.8 966.2h0M1158.9 975.6h0M1167.3 994.1h0M1166.6 938.8h0M1162.6 937.5h0M1164.2 943.3h0M1163.8 974.7h0M1158.7 898.5h0M1158.8 907.0h0M1162.2 982.4h0M1157.9 971.3h0M1160.1 925.9h0M1162.3 998.1h0M1165.6 953.0h0M1164.2 965.0h0M1160.0 994.3h0M1167.2 975.7h0M1167.7 1028.6h0M1166.0 988.0h0M1166.3 888.6h0M1160.9 915.1h0M1168.2 924.6h0M1165.1 956.3h0M1160.0 932.5h0M1166.3 923.1h0M1165.6 931.9h0M1164.9 935.3h0M1163.6 1002.7h0M1167.3 952.1h0M1166.9 987.8h0M1165.1 1013.3h0M1158.6 1011.8h0M1160.7 952.1h0M1169.9 930.7h0M1162.8 1020.7h0M1165.6 907.0h0M1159.4 916.5h0M1164.9 981.8h0M1165.3 985.1h0M1167.2 969.7h0M1169.8 933.3h0M1163.5 982.0h0M1161.7 1010.5h0M1159.8 955.1h0M1161.9 962.1h0M1163.3 927.2h0M1169.8 956.5h0M1164.1 940.2h0M1166.2 950.1h0M1166.9 942.0h0M1158.0 962.0h0M1160.7 999.7h0M1164.5 975.8h0M1158.5 969.9h0M1159.7 923.9h0M1167.1 911.3h0M1166.2 952.6h0M1159.5 996.7h0M1159.3 995.8h0M1168.3 974.4h0M1163.7 919.4h0M1161.7 955.5h0M1166.7 969.2h0M1166.1 997.2h0M1170.1 936.8h0M1159.1 957.1h0M1167.3 969.0h0M1163.5 963.5h0M1160.9 909.2h0M1164.0 973.3h0M1158.1 909.2h0M1159.3 924.5h0M1159.1 965.2h0M1166.4 936.7h0M1166.6 971.9h0M1160.8 999.7h0M1161.6 977.6h0M1167.4 1002.8h0M1162.6 949.5h0M1162.1 966.5h0M1169.5 947.6h0M1164.5 938.7h0M1164.5 956.3h0M1165.4 961.3h0M1158.3 1001.6h0M1162.7 963.4h0M1167.6 920.2h0M1165.9 960.5h0M1168.8 970.1h0M1161.6 944.8h0M1163.7 965.8h0M1160.7 987.1h0M1160.1 995.5h0M1158.9 982.5h0M1160.3 1003.7h0M1159.8 981.5h0M1163.2 982.2h0M1162.9 970.1h0M1167.3 1008.3h0M1167.4 948.5h0M1164.5 986.1h0M1165.9 1020.7h0M1163.6 999.2h0M1161.6 982.2h0M1164.0 937.9h0M1165.6 950.4h0M1169.6 980.3h0M1167.9 966.3h0M1158.6 959.6h0M1165.7 897.2h0M1158.9 991.4h0M1165.5 951.0h0M1168.3 942.1h0M1166.5 1004.6h0M1159.3 960.5h0M1163.1 961.4h0M1160.2 985.5h0M1166.0 947.6h0M1166.6 931.8h0M1166.9 928.3h0M1162.2 974.6h0M1165.2 960.5h0M1160.4 886.5h0M1169.3 1010.5h0M1169.4 959.4h0M1158.2 936.5h0M1164.8 961.9h0M1166.7 944.5h0M1160.7 961.1h0M1158.2 941.2h0M1157.8 923.1h0M1166.6 975.7h0M1158.0 960.2h0M1162.6 969.2h0M1167.7 982.9h0M1158.5 967.8h0M1166.6 1011.6h0M1163.1 941.5h0M1162.6 908.7h0M1163.8 908.6h0M1162.2 923.3h0M1168.5 1005.0h0M1166.1 915.0h0M1162.6 995.2h0M1159.3 969.1h0M1164.1 903.8h0M1170.2 1009.3h0M1168.9 938.2h0M1158.6 957.4h0M1162.2 973.0h0M1163.6 1001.5h0M1162.8 952.5h0M1159.2 985.3h0M1160.1 931.2h0M1164.4 925.1h0M1166.7 1021.4h0M1166.7 986.9h0M1166.1 979.6h0M1166.2 1013.6h0M1157.9 1011.1h0M1160.5 964.0h0M1162.0 975.2h0M1161.0 988.2h0M1162.6 949.2h0M1162.8 1014.6h0M1162.0 1003.4h0M1157.9 912.6h0M1168.5 921.9h0M1169.7 1020.3h0M1165.4 954.1h0M1161.2 1014.0h0M1163.4 977.0h0M1169.1 984.8h0M1165.2 947.8h0M1166.4 1015.4h0M1166.5 932.3h0M1170.0 973.1h0M1165.9 950.1h0M1159.1 942.8h0M1164.1 976.7h0M1169.2 980.0h0M1159.4 952.0h0M1158.4 925.6h0M1158.4 961.8h0M1158.7 948.7h0M1159.8 968.9h0M1167.4 982.0h0M1165.2 1003.1h0M1166.9 958.2h0M1164.7 978.8h0M1162.2 976.6h0M1167.6 935.2h0M1159.9 950.3h0M1162.3 937.2h0M1163.0 1029.1h0M1166.2 947.9h0M1167.2 990.3h0M1164.8 998.9h0M1165.3 1000.6h0M1161.3 925.5h0M1165.2 938.6h0M1168.3 995.3h0M1163.2 1011.9h0M1167.1 966.5h0M1164.1 985.1h0M1164.2 910.2h0M1165.3 1024.6h0M1159.5 977.1h0M1160.5 966.6h0M1160.0 962.5h0M1164.4 941.2h0M1166.1 896.0h0M1166.6 980.5h0M1160.4 988.5h0M1161.9 958.7h0M1159.6 937.8h0M1165.9 977.3h0M1163.0 926.6h0M1161.2 966.0h0M1160.6 915.1h0M1169.6 955.6h0M1163.8 1008.7h0M1170.1 992.1h0M1161.8 1027.5h0M1160.5 957.9h0M1166.7 937.2h0M1169.1 900.1h0M1159.8 969.2h0M1168.5 976.3h0M1165.1 1010.7h0M1169.0 933.2h0M1169.5 953.7h0M1163.1 990.5h0M1169.5 943.4h0M1160.0 947.8h0M1163.3 941.6h0M1163.3 962.3h0M1160.8 982.4h0M1163.8 983.4h0M1167.1 907.1h0M1159.1 914.4h0M1163.8 904.5h0M1164.3 1012.3h0M1160.2 992.8h0M1165.8 936.0h0M1160.9 1014.7h0M1164.9 995.4h0M1164.9 903.5h0M1167.1 930.6h0M1169.4 951.3h0M1169.3 959.5h0M1164.0 983.5h0M1161.1 982.7h0M1160.8 945.9h0M1167.6 995.1h0M1167.2 925.0h0M1167.6 986.4h0M1168.1 1001.4h0M1164.8 922.5h0M1168.9 972.7h0M1165.9 948.0h0M1165.6 983.4h0M1168.2 948.3h0M1165.9 1020.1h0M1167.3 929.9h0M1169.3 1028.2h0M1162.7 956.5h0M1167.1 952.4h0M1161.5 963.3h0M1163.8 1014.9h0M1168.6 936.6h0M1169.9 1024.8h0M1169.5 985.3h0M1167.2 998.1h0M1168.3 981.9h0M1168.8 937.8h0M1165.4 992.0h0M1160.8 947.7h0M1158.0 943.2h0M1167.2 1013.0h0M1167.2 982.1h0M1166.9 990.4h0M1165.0 956.5h0M1166.0 942.3h0M1166.7 941.5h0M1164.4 973.6h0M1166.0 1021.5h0M1160.6 966.8h0M1164.4 988.2h0M1165.6 947.6h0M1164.9 970.4h0M1161.0 942.1h0M1159.4 984.1h0M1165.9 917.6h0M1159.2 1007.1h0M1167.6 950.2h0M1160.1 1026.6h0M1167.4 941.8h0M1162.2 1015.0h0M1169.0 963.8h0M1160.6 1003.1h0M1159.8 984.4h0M1166.2 961.0h0M1167.4 971.1h0M1162.1 982.0h0M1163.7 893.3h0M1166.0 966.7h0M1161.5 1005.3h0M1162.6 935.2h0M1164.8 938.9h0M1161.6 925.1h0M1159.6 905.8h0M1169.1 1004.0h0M1159.3 930.7h0M1170.0 928.0h0M1168.3 967.0h0M1163.3 958.6h0M1168.5 989.6h0M1158.6 905.8h0M1164.8 988.1h0M1162.2 957.1h0M1161.5 947.3h0M1168.9 911.1h0M1158.3 965.5h0M1168.5 937.6h0M1158.8 1018.8h0M1166.2 968.6h0M1161.3 902.5h0M1164.3 921.9h0M1169.3 948.5h0M1167.7 972.1h0M1159.0 953.8h0M1161.6 979.2h0M1163.9 969.6h0M1166.7 975.5h0M1157.9 1005.2h0M1168.5 958.7h0M1168.2 979.4h0M1169.7 979.2h0M1160.3 970.4h0M1160.4 940.5h0M1168.1 958.9h0M1164.2 1014.4h0M1160.8 972.2h0M1158.0 950.8h0M1160.5 985.4h0M1166.2 927.7h0M1166.9 940.4h0M1162.2 1006.1h0M1169.2 956.0h0M1164.1 899.1h0M1164.2 913.6h0M1162.7 969.2h0M1162.8 936.3h0M1162.3 993.6h0M1168.0 1024.1h0M1163.3 948.0h0M1160.7 958.6h0M1163.2 949.4h0M1169.3 968.0h0M1165.7 955.8h0M1159.1 987.2h0M1163.0 950.8h0M1163.6 938.5h0M1158.0 969.3h0M1169.7 939.1h0M1169.2 998.0h0M1159.1 917.5h0M1164.6 906.7h0M1161.7 958.4h0M1160.4 971.1h0M1161.2 1017.0h0M1158.5 954.5h0M1166.3 940.3h0M1162.3 1025.4h0M1166.5 947.9h0M1167.9 950.2h0M1164.9 951.9h0M1162.1 1011.5h0M1159.5 948.4h0M1165.9 1026.1h0M1166.2 916.0h0M1167.5 962.4h0M1159.5 1012.9h0M1158.4 920.9h0M1168.7 927.5h0M1165.3 992.7h0M1159.0 891.5h0M1166.6 1006.6h0M1158.5 956.3h0M1165.6 926.5h0M1164.7 932.7h0M1166.7 969.6h0M1159.0 967.6h0M1169.1 1009.5h0M1169.5 955.6h0M1170.0 1010.8h0M1167.3 1005.2h0M1161.7 984.7h0M1169.9 1015.4h0M1165.4 913.1h0M1166.7 1019.4h0M1166.0 759.0h0M1160.4 807.0h0M1168.4 815.0h0M1165.8 818.0h0M1160.5 830.0h0M1162.5 832.0h0M1159.6 838.0h0M1163.2 853.0h0M1170.1 861.0h0M1162.6 873.8h0M1162.7 1030.2h0" stroke="#000" stroke-width="1.9" stroke-linecap="round" fill="none"/>
<line x1="1216.7" y1="817" x2="1216.7" y2="883.9" stroke="#000" stroke-width="0.7" stroke-dasharray="2 2.5"/>
<line x1="1216.7" y1="931.5" x2="1216.7" y2="983.5" stroke="#000" stroke-width="0.7" stroke-dasharray="2 2.5"/>
<line x1="1206.1" y1="817" x2="1227.2" y2="817" stroke="#777" stroke-width="1.3"/>
<line x1="1206.1" y1="983.5" x2="1227.2" y2="983.5" stroke="#777" stroke-width="1.3"/>
<rect x="1195.6" y="883.9" width="42.2" height="47.6" fill="#7f7f7f" stroke="#333" stroke-width="0.9"/>
<line x1="1195.6" y1="907.5" x2="1237.8" y2="907.5" stroke="#000" stroke-width="2.2"/>
<line x1="1195.6" y1="1036" x2="1237.8" y2="1036" stroke="#000" stroke-width="2.4"/>
<path d="M1217.5 901.0h0M1217.8 900.9h0M1222.0 850.7h0M1214.4 911.0h0M1216.3 893.9h0M1221.6 865.3h0M1212.6 943.7h0M1221.1 892.7h0M1215.2 874.6h0M1214.9 920.6h0M1222.2 972.7h0M1215.5 917.6h0M1213.9 947.5h0M1213.4 882.0h0M1218.9 935.0h0M1218.2 842.5h0M1213.8 899.9h0M1216.6 933.4h0M1214.3 922.7h0M1220.5 943.6h0M1215.1 891.2h0M1218.0 852.6h0M1221.3 912.4h0M1213.8 872.4h0M1221.8 938.3h0M1216.5 894.0h0M1218.3 824.2h0M1214.1 954.8h0M1218.9 861.7h0M1219.2 863.7h0M1217.7 971.7h0M1220.8 955.8h0M1216.4 939.5h0M1211.3 870.9h0M1221.3 920.0h0M1217.5 910.7h0M1218.0 880.1h0M1217.8 900.7h0M1211.6 896.9h0M1214.3 916.2h0M1212.1 865.5h0M1218.4 932.5h0M1220.7 846.2h0M1218.5 916.8h0M1220.2 933.2h0M1214.8 882.2h0M1211.5 889.1h0M1215.7 975.3h0M1213.0 897.1h0M1214.5 952.9h0M1213.8 934.3h0M1213.1 877.4h0M1218.8 935.5h0M1217.8 892.5h0M1220.3 918.4h0M1222.1 837.3h0M1213.8 908.3h0M1221.6 946.7h0M1219.7 944.2h0M1217.4 937.2h0M1222.0 900.5h0M1216.8 905.1h0M1211.4 871.1h0M1212.5 899.2h0M1214.6 900.6h0M1218.9 893.8h0M1217.4 909.7h0M1218.8 894.9h0M1211.3 877.7h0M1213.9 877.8h0M1217.3 924.5h0M1218.4 968.1h0M1215.9 933.9h0M1213.5 895.4h0M1214.6 922.1h0M1219.6 889.5h0M1219.1 925.3h0M1213.9 945.0h0M1221.7 843.9h0M1211.6 856.9h0M1213.7 914.5h0M1216.0 859.1h0M1220.1 859.9h0M1217.4 945.6h0M1218.7 938.7h0M1221.8 914.8h0M1215.2 944.4h0M1213.1 902.7h0M1215.7 952.2h0M1217.4 905.7h0M1212.6 867.6h0M1211.5 898.1h0M1219.2 914.9h0M1222.2 851.5h0M1221.5 937.4h0M1215.3 871.7h0M1216.2 916.3h0M1220.4 898.1h0M1222.1 904.5h0M1215.1 901.2h0M1221.8 907.5h0M1218.9 933.5h0M1212.7 925.9h0M1216.1 890.3h0M1211.1 909.6h0M1215.7 947.1h0M1217.0 930.9h0M1220.0 930.5h0M1214.8 907.8h0M1218.4 899.7h0M1218.5 902.7h0M1217.0 929.2h0M1218.0 905.4h0M1216.3 954.7h0M1217.9 908.0h0M1216.3 964.9h0M1221.3 939.8h0M1212.4 949.0h0M1220.8 884.2h0M1219.4 949.2h0M1211.2 896.6h0M1219.2 923.7h0M1215.2 950.3h0M1216.8 962.4h0M1216.9 890.3h0M1219.3 893.0h0M1216.5 879.4h0M1218.2 842.5h0M1213.6 897.1h0M1211.9 896.8h0M1218.6 911.0h0M1222.2 903.0h0M1212.0 919.2h0M1221.3 938.6h0M1215.4 837.0h0M1218.4 973.1h0M1214.1 898.0h0M1218.8 891.4h0M1216.0 901.7h0M1220.0 941.2h0M1214.2 913.8h0M1214.8 923.4h0M1218.1 945.3h0M1212.3 908.8h0M1222.0 921.6h0M1217.9 751.7h0M1222.0 788.0h0M1213.1 797.0h0M1219.0 806.0h0M1213.4 1021.0h0M1212.0 817.0h0M1216.1 983.5h0" stroke="#000" stroke-width="1.9" stroke-linecap="round" fill="none"/>
<rect x="1104.5" y="725.8" width="171.4" height="316.2" fill="none" stroke="#555" stroke-width="1.1"/>
<line x1="1190.2" y1="1042" x2="1190.2" y2="1048.5" stroke="#555" stroke-width="0.9"/>
<text x="1190.2" y="1062.8" font-family="Liberation Serif" font-size="12.7" text-anchor="middle" fill="#000" stroke="#000" stroke-width="0.2" textLength="34.6" lengthAdjust="spacingAndGlyphs">PRAD</text>
<text x="1190.2" y="1078" font-family="Liberation Serif" font-size="12.7" text-anchor="middle" fill="#000" stroke="#000" stroke-width="0.2" textLength="153.5" lengthAdjust="spacingAndGlyphs">(num(T)=492; num(N)=152)</text>
<path d="M1164 752.6V737.6H1185M1195.6 737.6H1216.7V744.6" fill="none" stroke="#666" stroke-width="1"/>
<path d="M1190.35 738.10L1190.35 735.00M1190.35 738.10L1193.30 737.14M1190.35 738.10L1192.17 740.61M1190.35 738.10L1188.53 740.61M1190.35 738.10L1187.40 737.14" stroke="#e8202a" stroke-width="1.5" stroke-linecap="round" fill="none"/>
<text x="148.4" y="1111.2" font-family="Liberation Serif" font-size="14.5" text-anchor="middle" fill="#000" stroke="#000" stroke-width="0.2" textLength="34.4" lengthAdjust="spacingAndGlyphs">MYLK</text>
<line x1="55" y1="1135.8" x2="61.5" y2="1135.8" stroke="#555" stroke-width="0.9"/>
<text transform="translate(51.9 1135.8) rotate(-90)" font-family="Liberation Sans" font-size="16.4" text-anchor="middle" fill="#000" stroke="#000" stroke-width="0.25">12</text>
<line x1="55" y1="1188.9" x2="61.5" y2="1188.9" stroke="#555" stroke-width="0.9"/>
<text transform="translate(51.9 1188.9) rotate(-90)" font-family="Liberation Sans" font-size="16.4" text-anchor="middle" fill="#000" stroke="#000" stroke-width="0.25">10</text>
<line x1="55" y1="1242" x2="61.5" y2="1242" stroke="#555" stroke-width="0.9"/>
<text transform="translate(51.9 1242) rotate(-90)" font-family="Liberation Sans" font-size="16.4" text-anchor="middle" fill="#000" stroke="#000" stroke-width="0.25">8</text>
<line x1="55" y1="1295" x2="61.5" y2="1295" stroke="#555" stroke-width="0.9"/>
<text transform="translate(51.9 1295) rotate(-90)" font-family="Liberation Sans" font-size="16.4" text-anchor="middle" fill="#000" stroke="#000" stroke-width="0.25">6</text>
<line x1="55" y1="1348.1" x2="61.5" y2="1348.1" stroke="#555" stroke-width="0.9"/>
<text transform="translate(51.9 1348.1) rotate(-90)" font-family="Liberation Sans" font-size="16.4" text-anchor="middle" fill="#000" stroke="#000" stroke-width="0.25">4</text>
<line x1="55" y1="1400.6" x2="61.5" y2="1400.6" stroke="#555" stroke-width="0.9"/>
<text transform="translate(51.9 1400.6) rotate(-90)" font-family="Liberation Sans" font-size="16.4" text-anchor="middle" fill="#000" stroke="#000" stroke-width="0.25">2</text>
<text transform="translate(26.1 1272) rotate(-90)" font-family="Liberation Serif" font-size="16.9" text-anchor="middle" textLength="168" lengthAdjust="spacingAndGlyphs">Expression−log<tspan font-size="11" dy="2.5">2</tspan><tspan dy="-2.5">(TPM+1)</tspan></text>
<line x1="121" y1="1182.9" x2="121" y2="1239.3" stroke="#000" stroke-width="0.7" stroke-dasharray="2 2.5"/>
<line x1="121" y1="1300.3" x2="121" y2="1386.4" stroke="#000" stroke-width="0.7" stroke-dasharray="2 2.5"/>
<line x1="110.3" y1="1182.9" x2="131.7" y2="1182.9" stroke="#777" stroke-width="1.3"/>
<line x1="110.3" y1="1386.4" x2="131.7" y2="1386.4" stroke="#777" stroke-width="1.3"/>
<rect x="99.6" y="1239.3" width="42.8" height="61" fill="#f0666b" stroke="#333" stroke-width="0.9"/>
<line x1="99.6" y1="1265" x2="142.4" y2="1265" stroke="#000" stroke-width="2.2"/>
<path d="M116.3 1209.4h0M117.4 1238.9h0M126.3 1339.8h0M119.8 1354.6h0M121.8 1234.7h0M117.4 1270.4h0M121.1 1298.8h0M115.1 1251.5h0M122.0 1297.8h0M126.6 1368.0h0M123.3 1236.5h0M123.1 1301.7h0M121.7 1320.2h0M118.8 1337.4h0M124.4 1257.7h0M119.6 1309.8h0M119.0 1243.5h0M121.6 1281.9h0M126.9 1226.2h0M123.9 1288.1h0M123.2 1302.0h0M116.4 1370.5h0M124.8 1325.1h0M120.0 1239.8h0M122.6 1333.1h0M121.8 1322.0h0M124.5 1254.3h0M115.2 1249.0h0M116.0 1303.2h0M118.3 1264.1h0M117.3 1351.6h0M123.3 1283.4h0M116.2 1233.0h0M115.9 1205.2h0M121.4 1276.6h0M115.6 1281.4h0M124.6 1249.9h0M118.9 1225.1h0M118.5 1248.6h0M122.2 1307.0h0M126.9 1253.6h0M118.3 1230.4h0M117.6 1305.0h0M119.4 1337.4h0M124.5 1247.8h0M126.4 1253.2h0M116.7 1230.4h0M115.2 1263.7h0M118.6 1301.4h0M118.8 1290.6h0M124.1 1321.4h0M123.2 1317.1h0M124.1 1297.0h0M119.7 1292.9h0M120.1 1224.8h0M126.5 1331.6h0M115.4 1270.2h0M115.1 1298.4h0M115.0 1210.6h0M124.9 1257.0h0M121.2 1287.1h0M123.4 1236.0h0M122.9 1264.4h0M124.9 1292.4h0M121.4 1208.7h0M118.9 1239.9h0M116.2 1201.3h0M119.9 1223.0h0M117.2 1237.5h0M126.3 1261.8h0M124.3 1323.9h0M118.3 1239.9h0M121.1 1264.0h0M120.6 1241.2h0M122.3 1267.8h0M126.5 1303.3h0M118.2 1319.7h0M122.4 1240.2h0M121.1 1217.8h0M126.6 1282.3h0M117.5 1249.5h0M122.8 1214.3h0M115.9 1310.7h0M121.5 1285.0h0M126.7 1325.5h0M123.7 1222.0h0M115.2 1256.7h0M127.0 1291.2h0M121.5 1353.3h0M122.0 1276.6h0M126.5 1228.8h0M122.1 1282.6h0M117.5 1289.2h0M120.1 1242.3h0M124.1 1331.2h0M119.7 1264.6h0M116.9 1243.9h0M119.6 1307.6h0M116.1 1310.2h0M116.0 1257.1h0M116.3 1272.2h0M121.1 1279.3h0M118.8 1258.6h0M117.0 1258.1h0M124.0 1315.1h0M122.4 1301.7h0M125.0 1249.5h0M116.8 1224.0h0M122.5 1215.2h0M118.1 1311.0h0M120.9 1225.0h0M120.3 1237.7h0M122.0 1268.5h0M121.9 1247.9h0M126.2 1235.0h0M122.5 1198.8h0M119.2 1321.6h0M124.7 1243.6h0M116.8 1274.1h0M124.4 1277.5h0M122.0 1223.0h0M118.0 1235.4h0M124.1 1319.4h0M116.2 1281.4h0M115.2 1257.7h0M118.2 1340.0h0M121.1 1233.6h0M122.6 1270.6h0M118.7 1260.1h0M122.0 1253.6h0M127.0 1198.0h0M127.2 1264.8h0M123.7 1285.2h0M118.5 1200.6h0M120.7 1292.6h0M124.8 1293.8h0M125.8 1338.5h0M126.6 1225.4h0M119.6 1255.9h0M119.0 1248.4h0M119.0 1259.9h0M124.5 1273.6h0M126.7 1307.2h0M121.8 1307.0h0M120.3 1249.8h0M123.1 1261.5h0M120.0 1204.6h0M121.9 1305.9h0M117.1 1291.7h0M116.0 1319.4h0M119.8 1214.1h0M118.1 1330.3h0M116.7 1237.0h0M126.8 1211.9h0M123.4 1273.7h0M119.6 1238.7h0M127.1 1376.6h0M116.1 1286.5h0M119.1 1352.3h0M125.8 1259.6h0M126.8 1266.0h0M124.6 1306.2h0M117.1 1230.4h0M121.8 1252.6h0M115.7 1293.5h0M115.6 1292.9h0M125.5 1342.5h0M114.8 1276.0h0M116.0 1186.2h0M116.1 1303.1h0M123.6 1250.1h0M122.6 1294.7h0M117.5 1235.7h0M119.9 1249.4h0M126.6 1278.4h0M117.4 1358.6h0M115.6 1292.9h0M122.8 1220.8h0M116.1 1278.9h0M121.7 1242.3h0M118.0 1291.2h0M115.2 1362.9h0M123.0 1249.9h0M124.1 1253.9h0M118.7 1296.2h0M116.8 1285.5h0M126.9 1255.0h0M117.8 1296.9h0M117.9 1252.9h0M119.3 1276.8h0M117.8 1273.7h0M117.8 1297.1h0M126.3 1309.5h0M115.8 1250.8h0M125.1 1291.5h0M121.4 1245.6h0M115.2 1224.7h0M116.7 1260.5h0M122.9 1346.3h0M121.7 1304.0h0M117.8 1231.5h0M118.4 1279.6h0M126.3 1307.9h0M123.9 1270.8h0M123.0 1246.9h0M126.3 1256.1h0M117.7 1241.5h0M118.9 1308.8h0M125.2 1280.3h0M120.3 1279.2h0M120.3 1267.2h0M124.8 1374.5h0M127.2 1278.3h0M125.8 1335.5h0M124.4 1213.4h0M120.3 1207.2h0M123.6 1202.5h0M117.6 1235.3h0M117.9 1291.2h0M117.3 1229.6h0M123.3 1276.4h0M126.6 1242.7h0M124.2 1312.7h0M118.1 1296.4h0M123.0 1248.2h0M119.1 1198.9h0M125.0 1267.3h0M120.8 1332.3h0M117.9 1267.3h0M118.4 1315.2h0M115.9 1273.1h0M119.3 1293.5h0M119.0 1269.4h0M120.5 1229.3h0M123.0 1230.3h0M126.3 1255.8h0M124.9 1265.7h0M121.9 1261.2h0M119.3 1260.8h0M116.9 1244.0h0M122.1 1265.6h0M115.6 1246.7h0M115.5 1333.6h0M122.8 1235.7h0M116.8 1199.8h0M125.3 1258.7h0M123.1 1338.9h0M121.3 1214.7h0M126.4 1282.8h0M116.4 1277.0h0M118.6 1242.7h0M121.1 1251.1h0M126.8 1218.8h0M115.8 1242.1h0M122.3 1260.8h0M126.2 1368.0h0M116.6 1323.4h0M123.5 1258.7h0M123.4 1240.0h0M119.3 1318.9h0M121.4 1297.4h0M126.4 1247.8h0M120.6 1364.6h0M120.5 1366.5h0M121.8 1277.6h0M115.2 1256.0h0M124.8 1290.5h0M115.4 1384.4h0M126.9 1264.6h0M126.8 1334.5h0M124.9 1240.8h0M125.9 1270.9h0M122.4 1255.5h0M118.6 1241.3h0M122.3 1292.9h0M123.2 1234.3h0M116.6 1218.6h0M124.4 1250.5h0M118.6 1215.3h0M121.2 1298.1h0M118.1 1230.9h0M118.3 1255.3h0M125.7 1316.7h0M124.4 1269.7h0M115.6 1293.1h0M124.4 1294.2h0M126.3 1262.2h0M123.5 1225.4h0M123.4 1282.1h0M118.1 1260.7h0M123.5 1341.7h0M119.5 1261.4h0M126.2 1221.9h0M123.5 1234.9h0M118.8 1247.5h0M125.8 1292.9h0M124.4 1316.1h0M117.3 1270.5h0M117.5 1334.9h0M115.0 1329.5h0M124.3 1229.9h0M115.9 1313.1h0M118.2 1197.7h0M123.9 1339.6h0M118.6 1249.2h0M118.3 1326.3h0M115.6 1258.8h0M115.4 1319.5h0M121.9 1263.9h0M116.5 1273.7h0M126.8 1289.0h0M115.1 1246.1h0M118.7 1208.5h0M117.1 1296.2h0M125.9 1232.1h0M124.1 1262.2h0M116.2 1267.2h0M115.5 1378.1h0M115.8 1300.9h0M124.0 1359.5h0M124.1 1281.9h0M122.6 1277.5h0M120.9 1252.4h0M120.5 1197.7h0M122.2 1216.4h0M116.1 1288.4h0M124.7 1247.4h0M124.4 1202.4h0M123.2 1258.9h0M117.7 1257.6h0M117.5 1246.5h0M127.0 1343.6h0M126.6 1307.7h0M124.1 1252.7h0M124.5 1244.9h0M120.5 1313.3h0M125.7 1282.4h0M123.4 1272.0h0M120.2 1273.5h0M123.2 1239.3h0M115.8 1261.5h0M119.7 1259.2h0M125.3 1339.0h0M120.7 1320.3h0M121.7 1253.4h0M121.8 1348.4h0M126.5 1255.3h0M117.3 1300.0h0M123.3 1307.9h0M120.4 1241.1h0M117.7 1300.9h0M115.4 1310.3h0M122.4 1300.8h0M117.1 1263.4h0M122.0 1375.9h0M120.1 1266.9h0M119.8 1278.4h0M125.8 1229.7h0M115.9 1285.2h0M121.8 1215.6h0M119.9 1322.6h0M116.7 1269.2h0M119.7 1337.1h0M125.5 1323.0h0M117.3 1291.9h0M123.2 1233.4h0M118.1 1233.9h0M121.2 1297.2h0M121.6 1246.9h0M115.7 1285.6h0M124.8 1261.6h0M119.5 1260.0h0M117.4 1242.4h0M117.4 1298.3h0M127.0 1273.2h0M126.5 1257.7h0M120.6 1262.6h0M118.2 1307.8h0M123.6 1200.8h0M115.5 1290.3h0M125.5 1237.3h0M114.9 1258.3h0M115.4 1219.8h0M118.9 1380.0h0M120.5 1188.4h0M114.9 1277.5h0M118.3 1330.5h0M127.0 1261.2h0M124.4 1246.9h0M115.5 1330.5h0M125.7 1290.6h0M120.6 1215.5h0M127.1 1339.5h0M118.8 1275.9h0M118.6 1281.9h0M123.2 1184.1h0M120.9 1281.7h0M118.2 1216.4h0M121.3 1301.8h0M122.7 1308.3h0M118.7 1228.1h0M125.0 1242.6h0M124.1 1356.4h0M124.1 1241.9h0M123.0 1241.8h0M117.7 1298.5h0M123.6 1257.8h0M117.0 1256.0h0M116.6 1291.9h0M121.0 1297.0h0M116.9 1301.5h0M116.4 1280.8h0M122.1 1335.8h0M126.9 1268.9h0M115.5 1344.4h0M120.3 1263.4h0M115.9 1271.1h0M121.5 1320.5h0M121.9 1234.0h0M120.9 1193.0h0M115.3 1216.1h0M123.5 1337.7h0M121.1 1218.1h0M121.9 1258.0h0M123.1 1269.5h0M126.0 1297.7h0M120.2 1267.1h0M126.1 1213.7h0M117.0 1245.7h0M120.4 1288.3h0M117.0 1301.6h0M119.4 1288.4h0M126.0 1244.1h0M126.9 1195.7h0M120.7 1321.7h0M118.2 1266.9h0M118.8 1286.8h0M126.0 1305.9h0M120.2 1251.3h0M117.3 1245.5h0M125.2 1340.4h0M121.1 1320.6h0M120.1 1221.2h0M126.0 1254.3h0M124.1 1246.6h0M115.0 1292.8h0M126.8 1286.5h0M120.4 1249.0h0M117.0 1292.6h0M126.1 1324.4h0M120.0 1266.8h0M123.3 1232.1h0M124.1 1320.2h0M117.2 1226.4h0M127.0 1239.8h0M121.8 1311.5h0M115.5 1266.4h0M121.5 1269.0h0M115.0 1242.4h0M126.9 1241.1h0M123.1 1334.3h0M119.5 1336.7h0M124.7 1227.5h0M124.6 1262.0h0M123.5 1250.6h0M117.7 1253.7h0M116.0 1208.5h0M125.4 1329.3h0M125.8 1225.2h0M119.1 1309.2h0M119.6 1238.8h0M119.8 1215.7h0M118.2 1338.4h0M126.4 1251.1h0M121.4 1281.1h0M123.6 1281.8h0M122.3 1264.7h0M115.9 1321.2h0M115.7 1316.7h0M116.6 1241.5h0M121.0 1234.4h0M122.6 1296.2h0M127.1 1342.1h0M126.0 1224.9h0M124.0 1252.7h0M119.6 1390.0h0M119.1 1405.0h0M123.4 1411.0h0M119.1 1416.0h0M124.3 1422.0h0M123.8 1182.9h0M116.3 1386.4h0" stroke="#000" stroke-width="1.9" stroke-linecap="round" fill="none"/>
<line x1="173.9" y1="1142.2" x2="173.9" y2="1206.5" stroke="#000" stroke-width="0.7" stroke-dasharray="2 2.5"/>
<line x1="173.9" y1="1270.3" x2="173.9" y2="1352.4" stroke="#000" stroke-width="0.7" stroke-dasharray="2 2.5"/>
<line x1="163.2" y1="1142.2" x2="184.6" y2="1142.2" stroke="#777" stroke-width="1.3"/>
<line x1="163.2" y1="1352.4" x2="184.6" y2="1352.4" stroke="#777" stroke-width="1.3"/>
<rect x="152.5" y="1206.5" width="42.8" height="63.8" fill="#7f7f7f" stroke="#333" stroke-width="0.9"/>
<line x1="152.5" y1="1235" x2="195.3" y2="1235" stroke="#000" stroke-width="2.2"/>
<path d="M175.2 1212.7h0M171.3 1271.6h0M171.7 1285.6h0M178.1 1296.8h0M175.0 1233.1h0M179.1 1258.8h0M170.6 1233.0h0M174.9 1249.8h0M175.0 1162.8h0M168.7 1262.4h0M175.3 1340.2h0M172.6 1234.4h0M173.1 1240.0h0M170.4 1232.7h0M175.0 1322.1h0M175.8 1192.5h0M178.3 1241.7h0M177.7 1242.3h0M179.3 1320.9h0M179.2 1219.6h0M176.1 1243.5h0M171.4 1183.5h0M174.3 1261.3h0M169.2 1303.2h0M174.6 1233.8h0M171.7 1286.7h0M174.3 1222.0h0M176.7 1295.3h0M169.0 1246.7h0M178.1 1251.7h0M168.7 1241.9h0M173.8 1266.3h0M170.7 1281.4h0M168.7 1243.2h0M173.7 1269.6h0M171.2 1232.9h0M169.2 1254.0h0M177.5 1243.3h0M171.1 1182.1h0M178.8 1226.7h0M175.1 1214.6h0M172.3 1220.4h0M169.0 1264.0h0M177.9 1307.9h0M169.5 1205.9h0M177.0 1195.9h0M174.2 1215.9h0M173.4 1221.7h0M169.2 1223.0h0M173.0 1241.5h0M168.5 1227.9h0M176.8 1239.5h0M176.2 1225.8h0M169.8 1288.0h0M174.0 1272.0h0M170.3 1215.9h0M176.3 1257.2h0M170.4 1234.0h0M170.2 1161.1h0M171.5 1209.7h0M179.2 1211.7h0M177.5 1273.6h0M172.8 1296.9h0M177.2 1250.7h0M172.3 1239.0h0M170.4 1278.8h0M178.3 1232.6h0M168.7 1211.0h0M177.2 1214.6h0M179.0 1292.2h0M169.2 1348.8h0M177.9 1239.7h0M177.0 1273.0h0M168.8 1220.8h0M173.3 1172.3h0M171.2 1172.3h0M172.6 1227.2h0M172.6 1193.9h0M172.7 1172.2h0M168.4 1237.4h0M171.3 1227.8h0M171.5 1204.2h0M175.6 1241.4h0M176.1 1264.7h0M176.7 1277.2h0M175.4 1239.2h0M178.3 1270.7h0M174.5 1206.3h0M171.8 1256.2h0M168.8 1179.4h0M176.4 1189.6h0M174.6 1301.4h0M170.1 1194.8h0M174.0 1259.5h0M178.9 1183.1h0M175.1 1217.7h0M171.8 1241.5h0M177.3 1211.2h0M172.7 1267.0h0M168.5 1225.0h0M169.2 1222.7h0M179.1 1246.4h0M169.3 1222.6h0M177.1 1288.9h0M168.6 1215.7h0M173.0 1299.4h0M171.5 1213.0h0M172.2 1219.1h0M169.3 1209.5h0M172.8 1266.5h0M176.8 1249.9h0M174.2 1231.8h0M169.8 1276.1h0M177.3 1180.3h0M178.1 1261.9h0M173.4 1197.8h0M172.3 1285.4h0M168.5 1225.2h0M169.1 1256.7h0M172.5 1200.2h0M169.6 1252.6h0M179.2 1281.1h0M175.5 1219.3h0M171.8 1297.4h0M174.9 1285.6h0M170.2 1206.6h0M178.6 1330.9h0M173.9 1206.8h0M176.1 1257.7h0M170.3 1283.3h0M173.6 1227.4h0M176.3 1211.9h0M172.6 1266.7h0M169.0 1246.4h0M173.6 1205.0h0M177.5 1206.9h0M173.5 1240.0h0M179.3 1275.6h0M174.6 1284.3h0M178.2 1266.9h0M168.7 1209.7h0M175.4 1213.7h0M174.0 1224.6h0M172.3 1181.1h0M178.4 1252.0h0M169.3 1255.9h0M173.7 1256.1h0M171.7 1160.3h0M179.1 1358.0h0M177.1 1373.0h0M170.5 1142.2h0M169.7 1352.4h0" stroke="#000" stroke-width="1.9" stroke-linecap="round" fill="none"/>
<rect x="61.5" y="1115" width="172" height="318.6" fill="none" stroke="#555" stroke-width="1.1"/>
<line x1="147.5" y1="1433.6" x2="147.5" y2="1440.1" stroke="#555" stroke-width="0.9"/>
<text x="147.5" y="1453.4" font-family="Liberation Serif" font-size="12.7" text-anchor="middle" fill="#000" stroke="#000" stroke-width="0.2" textLength="34.6" lengthAdjust="spacingAndGlyphs">PRAD</text>
<text x="147.5" y="1468.6" font-family="Liberation Serif" font-size="12.7" text-anchor="middle" fill="#000" stroke="#000" stroke-width="0.2" textLength="153.5" lengthAdjust="spacingAndGlyphs">(num(T)=492; num(N)=152)</text>
<path d="M121 1175V1126.3H142.1M152.8 1126.3H173.9V1134.3" fill="none" stroke="#666" stroke-width="1"/>
<path d="M147.45 1126.80L147.45 1123.70M147.45 1126.80L150.40 1125.84M147.45 1126.80L149.27 1129.31M147.45 1126.80L145.63 1129.31M147.45 1126.80L144.50 1125.84" stroke="#e8202a" stroke-width="1.5" stroke-linecap="round" fill="none"/>
<text x="414.2" y="1111.2" font-family="Liberation Serif" font-size="14.5" text-anchor="middle" fill="#000" stroke="#000" stroke-width="0.2" textLength="34.4" lengthAdjust="spacingAndGlyphs">TPM1</text>
<line x1="321" y1="1168.6" x2="327.5" y2="1168.6" stroke="#555" stroke-width="0.9"/>
<text transform="translate(317.9 1168.6) rotate(-90)" font-family="Liberation Sans" font-size="16.4" text-anchor="middle" fill="#000" stroke="#000" stroke-width="0.25">12</text>
<line x1="321" y1="1246.8" x2="327.5" y2="1246.8" stroke="#555" stroke-width="0.9"/>
<text transform="translate(317.9 1246.8) rotate(-90)" font-family="Liberation Sans" font-size="16.4" text-anchor="middle" fill="#000" stroke="#000" stroke-width="0.25">10</text>
<line x1="321" y1="1325" x2="327.5" y2="1325" stroke="#555" stroke-width="0.9"/>
<text transform="translate(317.9 1325) rotate(-90)" font-family="Liberation Sans" font-size="16.4" text-anchor="middle" fill="#000" stroke="#000" stroke-width="0.25">8</text>
<line x1="321" y1="1402.7" x2="327.5" y2="1402.7" stroke="#555" stroke-width="0.9"/>
<text transform="translate(317.9 1402.7) rotate(-90)" font-family="Liberation Sans" font-size="16.4" text-anchor="middle" fill="#000" stroke="#000" stroke-width="0.25">6</text>
<text transform="translate(285.9 1258.8) rotate(-90)" font-family="Liberation Serif" font-size="16.9" text-anchor="middle" textLength="168" lengthAdjust="spacingAndGlyphs">Expression−log<tspan font-size="11" dy="2.5">2</tspan><tspan dy="-2.5">(TPM+1)</tspan></text>
<line x1="387" y1="1230.7" x2="387" y2="1288.5" stroke="#000" stroke-width="0.7" stroke-dasharray="2 2.5"/>
<line x1="387" y1="1332" x2="387" y2="1390.7" stroke="#000" stroke-width="0.7" stroke-dasharray="2 2.5"/>
<line x1="376.3" y1="1230.7" x2="397.7" y2="1230.7" stroke="#777" stroke-width="1.3"/>
<line x1="376.3" y1="1390.7" x2="397.7" y2="1390.7" stroke="#777" stroke-width="1.3"/>
<rect x="365.6" y="1288.5" width="42.8" height="43.5" fill="#f0666b" stroke="#333" stroke-width="0.9"/>
<line x1="365.6" y1="1309.3" x2="408.4" y2="1309.3" stroke="#000" stroke-width="2.2"/>
<path d="M392.9 1297.9h0M390.5 1302.4h0M385.3 1328.1h0M382.8 1334.5h0M385.6 1284.9h0M385.4 1312.5h0M391.9 1244.5h0M387.5 1334.7h0M392.3 1286.6h0M393.0 1307.9h0M391.6 1333.2h0M385.8 1270.1h0M385.6 1305.7h0M387.6 1337.4h0M389.2 1319.3h0M391.3 1280.0h0M390.9 1347.8h0M384.7 1269.6h0M389.9 1289.6h0M385.5 1318.1h0M390.4 1270.2h0M381.0 1258.9h0M391.3 1292.0h0M389.5 1304.4h0M382.6 1256.1h0M383.9 1266.2h0M384.7 1338.5h0M387.2 1315.8h0M392.0 1316.1h0M392.8 1322.2h0M388.3 1356.5h0M382.2 1283.3h0M392.9 1306.9h0M392.7 1306.4h0M381.9 1268.6h0M389.1 1327.1h0M389.1 1311.1h0M389.0 1301.4h0M389.8 1322.9h0M380.9 1312.8h0M384.6 1287.1h0M385.0 1309.6h0M388.9 1270.8h0M382.0 1333.0h0M384.2 1303.5h0M383.0 1354.4h0M381.4 1313.0h0M386.7 1331.5h0M383.3 1269.9h0M386.8 1287.7h0M383.4 1294.6h0M390.6 1255.8h0M382.2 1267.5h0M390.4 1288.5h0M389.0 1331.1h0M382.8 1355.1h0M385.5 1310.2h0M385.5 1320.6h0M386.4 1329.8h0M389.2 1318.5h0M381.0 1361.7h0M382.9 1266.0h0M389.5 1345.4h0M382.0 1330.6h0M391.3 1292.7h0M385.4 1360.9h0M381.2 1282.5h0M390.3 1282.0h0M383.8 1319.2h0M393.2 1343.5h0M392.2 1324.3h0M391.8 1368.0h0M391.8 1268.9h0M381.7 1307.7h0M381.1 1332.7h0M385.8 1338.1h0M386.0 1292.6h0M385.9 1265.5h0M388.2 1349.8h0M390.5 1327.6h0M390.6 1365.2h0M392.3 1289.6h0M389.2 1304.7h0M391.7 1243.5h0M381.9 1313.2h0M381.1 1323.2h0M386.4 1331.9h0M391.7 1284.4h0M385.6 1361.1h0M382.2 1287.4h0M382.4 1302.1h0M383.6 1325.4h0M391.5 1338.1h0M385.0 1278.5h0M391.5 1254.9h0M392.5 1323.5h0M390.4 1293.8h0M392.3 1258.4h0M384.0 1329.1h0M383.2 1317.3h0M383.8 1348.2h0M381.0 1314.0h0M392.3 1311.9h0M383.4 1322.7h0M388.6 1332.9h0M384.3 1359.8h0M387.5 1352.3h0M386.2 1340.5h0M389.7 1290.5h0M383.3 1325.6h0M384.4 1336.5h0M382.5 1290.1h0M384.8 1292.8h0M391.1 1333.4h0M392.7 1329.3h0M381.0 1289.9h0M391.3 1298.6h0M389.9 1336.0h0M381.8 1302.2h0M382.8 1310.2h0M391.5 1276.6h0M383.2 1337.1h0M392.1 1283.4h0M387.5 1296.6h0M393.0 1341.6h0M387.1 1278.3h0M382.4 1282.6h0M388.3 1351.6h0M386.3 1251.1h0M381.7 1346.1h0M390.9 1338.8h0M391.9 1319.7h0M392.8 1286.6h0M388.8 1292.2h0M388.0 1312.3h0M383.2 1269.1h0M392.8 1297.4h0M389.9 1268.2h0M389.1 1303.6h0M389.4 1323.9h0M391.2 1344.0h0M385.1 1306.6h0M382.2 1306.4h0M393.1 1348.9h0M381.2 1346.5h0M384.2 1317.8h0M386.9 1315.6h0M381.3 1280.5h0M384.6 1308.4h0M391.6 1309.6h0M388.6 1300.5h0M388.0 1342.5h0M381.0 1310.9h0M386.1 1278.4h0M382.3 1277.3h0M385.6 1295.6h0M385.6 1318.4h0M386.1 1336.0h0M384.7 1270.0h0M390.5 1293.7h0M386.5 1323.1h0M392.1 1380.0h0M385.1 1337.7h0M382.6 1372.2h0M385.2 1272.0h0M391.6 1303.7h0M385.3 1333.6h0M391.0 1318.4h0M389.4 1231.4h0M384.0 1272.8h0M383.2 1353.3h0M382.2 1313.6h0M386.4 1349.7h0M389.4 1365.9h0M384.4 1304.1h0M392.6 1236.6h0M381.0 1262.3h0M390.5 1308.0h0M382.9 1321.7h0M393.2 1303.2h0M382.0 1278.1h0M392.2 1357.5h0M385.8 1370.9h0M384.4 1252.4h0M381.3 1300.8h0M383.5 1260.7h0M385.6 1302.1h0M392.4 1264.6h0M392.8 1329.5h0M381.8 1294.2h0M387.8 1262.2h0M381.2 1278.3h0M382.1 1324.5h0M388.4 1282.1h0M387.3 1331.3h0M392.0 1356.6h0M392.0 1293.4h0M382.8 1266.7h0M388.7 1283.4h0M390.8 1351.1h0M390.4 1282.8h0M387.8 1288.6h0M387.2 1324.6h0M387.9 1278.3h0M385.9 1282.2h0M387.8 1294.1h0M391.9 1367.0h0M385.1 1359.0h0M386.3 1278.4h0M386.2 1284.8h0M391.5 1294.2h0M383.8 1317.5h0M386.2 1297.2h0M390.1 1327.4h0M385.7 1319.7h0M391.4 1338.3h0M387.5 1301.4h0M382.0 1323.3h0M385.3 1280.1h0M382.6 1287.2h0M386.2 1336.5h0M385.3 1253.0h0M385.0 1346.9h0M391.1 1295.5h0M391.9 1276.1h0M390.2 1270.0h0M390.3 1383.2h0M391.9 1278.6h0M392.2 1271.8h0M383.0 1265.1h0M391.9 1383.9h0M382.8 1332.0h0M384.2 1312.6h0M390.6 1324.3h0M382.6 1268.1h0M392.8 1332.1h0M392.4 1271.5h0M380.8 1292.0h0M388.7 1358.1h0M392.3 1342.6h0M387.5 1325.1h0M387.5 1306.3h0M388.1 1278.7h0M387.7 1315.4h0M388.0 1281.3h0M389.2 1362.2h0M392.7 1320.6h0M381.8 1295.2h0M383.7 1321.5h0M380.9 1343.3h0M381.6 1296.3h0M383.3 1249.7h0M392.0 1312.8h0M384.7 1333.7h0M388.3 1337.8h0M384.7 1248.7h0M393.0 1310.7h0M383.2 1290.4h0M385.7 1271.7h0M385.4 1276.1h0M383.4 1340.3h0M381.7 1279.8h0M385.6 1283.3h0M383.3 1294.2h0M381.1 1278.2h0M391.8 1328.2h0M385.1 1311.8h0M380.9 1327.0h0M388.4 1285.9h0M386.7 1331.3h0M389.4 1297.2h0M385.3 1346.1h0M382.5 1313.4h0M388.7 1321.5h0M385.7 1313.1h0M391.7 1305.2h0M384.9 1315.5h0M383.6 1316.7h0M383.1 1379.0h0M384.0 1275.2h0M383.8 1330.3h0M387.3 1317.5h0M385.4 1337.1h0M392.8 1278.5h0M383.3 1339.7h0M392.5 1293.7h0M385.0 1273.0h0M386.8 1258.6h0M392.7 1272.7h0M390.5 1290.2h0M392.5 1349.6h0M387.5 1269.5h0M384.7 1272.6h0M389.2 1283.4h0M389.3 1284.5h0M381.3 1306.9h0M382.1 1326.5h0M392.5 1275.9h0M389.7 1270.0h0M391.0 1344.0h0M383.1 1281.0h0M392.9 1301.5h0M384.5 1281.8h0M382.5 1300.6h0M385.3 1274.8h0M385.2 1277.5h0M381.5 1281.7h0M391.3 1355.2h0M391.6 1283.6h0M383.2 1307.4h0M387.6 1346.6h0M391.6 1287.2h0M385.5 1354.7h0M387.1 1281.4h0M383.8 1256.8h0M386.6 1325.6h0M384.7 1280.6h0M391.0 1294.9h0M382.8 1288.8h0M381.2 1353.9h0M392.0 1290.0h0M382.9 1304.6h0M387.6 1286.0h0M389.6 1308.4h0M384.9 1275.1h0M392.3 1300.2h0M385.0 1287.8h0M383.2 1266.7h0M381.6 1303.0h0M392.0 1278.1h0M383.5 1301.6h0M391.9 1292.5h0M386.5 1326.0h0M392.4 1284.8h0M381.9 1271.0h0M391.4 1311.1h0M392.9 1284.2h0M389.6 1295.3h0M382.5 1345.1h0M393.2 1297.6h0M390.7 1268.2h0M383.4 1324.4h0M392.8 1367.5h0M381.9 1302.1h0M382.4 1329.6h0M381.0 1250.6h0M388.1 1309.6h0M385.8 1308.4h0M381.9 1329.1h0M386.9 1300.7h0M391.7 1326.9h0M381.9 1338.1h0M388.7 1310.2h0M382.9 1335.0h0M387.1 1268.2h0M385.0 1346.8h0M384.2 1310.6h0M381.0 1330.9h0M388.0 1353.8h0M386.3 1257.8h0M389.4 1377.6h0M383.1 1264.2h0M393.0 1354.8h0M381.0 1305.5h0M383.2 1239.7h0M388.8 1378.4h0M382.5 1353.4h0M384.0 1268.5h0M387.0 1303.0h0M390.2 1326.2h0M391.5 1309.2h0M384.7 1340.0h0M389.0 1304.5h0M381.1 1263.0h0M391.8 1320.7h0M389.1 1304.0h0M392.0 1271.8h0M383.4 1248.1h0M387.0 1327.5h0M390.0 1299.1h0M381.1 1326.7h0M391.2 1329.4h0M389.6 1321.3h0M390.6 1329.0h0M382.8 1365.2h0M390.4 1373.7h0M387.8 1332.2h0M382.7 1304.2h0M382.4 1271.5h0M391.4 1325.6h0M385.7 1313.6h0M384.2 1288.2h0M385.4 1285.8h0M389.3 1311.9h0M382.5 1309.9h0M382.8 1251.6h0M388.9 1319.1h0M391.9 1324.3h0M389.1 1361.7h0M392.5 1295.1h0M384.3 1316.8h0M385.2 1250.5h0M385.4 1319.1h0M385.2 1283.7h0M384.1 1280.0h0M390.6 1258.5h0M384.3 1351.3h0M386.0 1261.0h0M386.7 1307.8h0M393.2 1311.5h0M384.9 1318.3h0M389.4 1321.1h0M384.9 1319.4h0M390.7 1385.0h0M385.6 1292.8h0M381.1 1306.3h0M387.3 1339.4h0M385.0 1310.2h0M384.1 1238.9h0M384.4 1296.7h0M380.8 1320.9h0M389.9 1256.6h0M387.6 1334.3h0M388.7 1313.2h0M387.9 1326.3h0M385.5 1315.9h0M386.5 1286.2h0M386.7 1290.7h0M392.2 1332.2h0M385.1 1312.4h0M382.7 1305.7h0M381.8 1321.6h0M385.0 1309.4h0M387.9 1331.9h0M388.0 1332.3h0M389.8 1306.9h0M389.0 1342.1h0M381.8 1295.7h0M385.6 1314.6h0M385.4 1338.4h0M382.2 1328.3h0M388.1 1323.9h0M390.4 1313.5h0M381.3 1304.9h0M387.4 1315.1h0M382.3 1336.7h0M390.4 1265.3h0M387.7 1281.2h0M381.6 1305.0h0M387.2 1279.8h0M383.8 1298.5h0M383.4 1316.7h0M389.1 1305.8h0M385.8 1278.6h0M392.3 1277.1h0M392.2 1321.2h0M391.4 1290.4h0M385.9 1240.7h0M392.0 1295.6h0M381.7 1276.2h0M390.4 1270.7h0M385.3 1289.1h0M391.5 1261.2h0M381.2 1301.5h0M387.9 1293.5h0M381.7 1328.8h0M384.5 1299.3h0M387.8 1305.1h0M382.5 1266.9h0M389.4 1324.2h0M387.2 1308.6h0M383.6 1333.8h0M387.5 1307.8h0M386.3 1321.0h0M381.2 1292.2h0M389.6 1312.5h0M389.7 1327.9h0M392.1 1317.9h0M392.5 1312.2h0M385.4 1325.1h0M388.8 1280.4h0M388.3 1288.4h0M381.4 1304.1h0M389.8 1214.2h0M384.2 1395.0h0M386.1 1398.0h0M388.5 1403.0h0M387.1 1410.0h0M384.3 1418.0h0M391.6 1421.0h0M382.0 1230.7h0M388.3 1390.7h0" stroke="#000" stroke-width="1.9" stroke-linecap="round" fill="none"/>
<line x1="439.9" y1="1170.7" x2="439.9" y2="1238.6" stroke="#000" stroke-width="0.7" stroke-dasharray="2 2.5"/>
<line x1="439.9" y1="1289.2" x2="439.9" y2="1361.4" stroke="#000" stroke-width="0.7" stroke-dasharray="2 2.5"/>
<line x1="429.2" y1="1170.7" x2="450.6" y2="1170.7" stroke="#777" stroke-width="1.3"/>
<line x1="429.2" y1="1361.4" x2="450.6" y2="1361.4" stroke="#777" stroke-width="1.3"/>
<rect x="418.5" y="1238.6" width="42.8" height="50.6" fill="#7f7f7f" stroke="#333" stroke-width="0.9"/>
<line x1="418.5" y1="1260" x2="461.3" y2="1260" stroke="#000" stroke-width="2.2"/>
<path d="M441.5 1217.6h0M437.9 1287.4h0M442.2 1296.2h0M436.0 1219.5h0M444.2 1267.1h0M440.7 1255.9h0M444.9 1272.2h0M441.0 1313.2h0M440.7 1277.3h0M443.9 1302.4h0M440.8 1327.0h0M435.3 1273.9h0M441.2 1204.8h0M437.6 1210.1h0M441.4 1264.0h0M445.5 1256.7h0M441.1 1244.8h0M443.6 1218.1h0M438.3 1250.9h0M434.4 1281.8h0M434.8 1278.1h0M434.5 1225.2h0M436.7 1178.9h0M437.3 1288.2h0M437.9 1349.5h0M441.6 1235.4h0M442.7 1264.6h0M442.9 1256.6h0M442.7 1221.9h0M443.9 1258.8h0M442.4 1318.4h0M439.4 1345.8h0M438.9 1263.3h0M435.2 1311.2h0M434.4 1251.8h0M443.9 1316.2h0M436.0 1276.5h0M444.0 1324.7h0M438.8 1276.9h0M435.0 1280.5h0M443.6 1242.1h0M442.3 1218.5h0M445.5 1269.2h0M440.4 1298.4h0M444.7 1199.1h0M440.0 1249.4h0M437.2 1241.6h0M438.8 1241.6h0M441.7 1214.9h0M444.3 1228.9h0M443.4 1239.4h0M444.7 1236.6h0M440.3 1298.2h0M439.5 1287.4h0M440.2 1265.8h0M444.8 1257.9h0M438.4 1260.3h0M435.0 1251.1h0M438.7 1260.0h0M441.6 1279.6h0M443.6 1331.2h0M444.9 1234.4h0M442.0 1242.2h0M443.4 1299.1h0M443.4 1245.1h0M443.4 1248.3h0M441.0 1258.5h0M444.9 1340.5h0M444.3 1313.2h0M434.4 1287.1h0M435.7 1209.7h0M445.4 1298.2h0M441.8 1276.1h0M435.9 1309.1h0M444.5 1282.4h0M435.3 1250.0h0M440.3 1350.7h0M438.6 1239.8h0M437.5 1259.7h0M437.0 1287.3h0M435.3 1230.1h0M438.5 1230.1h0M435.4 1351.7h0M441.3 1268.4h0M437.9 1225.7h0M442.9 1290.0h0M444.8 1274.7h0M444.2 1230.6h0M442.6 1272.7h0M443.0 1312.9h0M435.3 1290.8h0M445.2 1318.5h0M440.8 1243.3h0M440.4 1335.7h0M441.8 1229.1h0M436.4 1332.3h0M439.6 1259.4h0M435.7 1324.6h0M444.6 1274.8h0M439.9 1228.4h0M435.8 1225.3h0M445.2 1219.5h0M440.8 1265.0h0M442.8 1257.4h0M443.3 1253.5h0M442.1 1241.3h0M439.3 1278.4h0M437.4 1226.0h0M434.9 1250.5h0M441.3 1224.6h0M435.5 1245.7h0M438.4 1239.3h0M444.3 1292.7h0M444.4 1279.1h0M443.5 1317.0h0M436.5 1273.9h0M444.8 1268.8h0M435.9 1234.3h0M444.6 1315.6h0M442.7 1266.4h0M445.2 1220.9h0M445.3 1227.9h0M440.2 1272.5h0M437.8 1214.1h0M444.6 1236.5h0M437.8 1300.8h0M438.0 1281.3h0M440.7 1253.7h0M435.9 1341.9h0M439.4 1254.6h0M435.8 1289.1h0M439.4 1293.6h0M444.5 1238.6h0M444.6 1250.0h0M445.0 1243.3h0M442.4 1263.4h0M442.7 1292.5h0M439.1 1252.7h0M444.3 1212.7h0M435.8 1254.9h0M436.2 1232.6h0M435.6 1271.1h0M438.9 1180.9h0M435.0 1332.6h0M442.2 1242.4h0M436.3 1243.7h0M442.0 1150.3h0M440.6 1154.0h0M442.0 1368.0h0M442.2 1373.0h0M443.1 1170.7h0M439.7 1361.4h0" stroke="#000" stroke-width="1.9" stroke-linecap="round" fill="none"/>
<rect x="327.5" y="1115" width="172" height="318.8" fill="none" stroke="#555" stroke-width="1.1"/>
<line x1="413.5" y1="1433.8" x2="413.5" y2="1440.3" stroke="#555" stroke-width="0.9"/>
<text x="413.5" y="1453.4" font-family="Liberation Serif" font-size="12.7" text-anchor="middle" fill="#000" stroke="#000" stroke-width="0.2" textLength="34.6" lengthAdjust="spacingAndGlyphs">PRAD</text>
<text x="413.5" y="1468.6" font-family="Liberation Serif" font-size="12.7" text-anchor="middle" fill="#000" stroke="#000" stroke-width="0.2" textLength="153.5" lengthAdjust="spacingAndGlyphs">(num(T)=492; num(N)=152)</text>
<path d="M387 1201.8V1126.8H408.1M418.8 1126.8H439.9V1138.6" fill="none" stroke="#666" stroke-width="1"/>
<path d="M413.45 1127.30L413.45 1124.20M413.45 1127.30L416.40 1126.34M413.45 1127.30L415.27 1129.81M413.45 1127.30L411.63 1129.81M413.45 1127.30L410.50 1126.34" stroke="#e8202a" stroke-width="1.5" stroke-linecap="round" fill="none"/>
<text x="669.9" y="1111.2" font-family="Liberation Serif" font-size="14.5" text-anchor="middle" fill="#000" stroke="#000" stroke-width="0.2" textLength="34.4" lengthAdjust="spacingAndGlyphs">MYL9</text>
<line x1="576.9" y1="1133.2" x2="583.4" y2="1133.2" stroke="#555" stroke-width="0.9"/>
<text transform="translate(573.8 1133.2) rotate(-90)" font-family="Liberation Sans" font-size="16.4" text-anchor="middle" fill="#000" stroke="#000" stroke-width="0.25">14</text>
<line x1="576.9" y1="1193.4" x2="583.4" y2="1193.4" stroke="#555" stroke-width="0.9"/>
<text transform="translate(573.8 1193.4) rotate(-90)" font-family="Liberation Sans" font-size="16.4" text-anchor="middle" fill="#000" stroke="#000" stroke-width="0.25">12</text>
<line x1="576.9" y1="1253.8" x2="583.4" y2="1253.8" stroke="#555" stroke-width="0.9"/>
<text transform="translate(573.8 1253.8) rotate(-90)" font-family="Liberation Sans" font-size="16.4" text-anchor="middle" fill="#000" stroke="#000" stroke-width="0.25">10</text>
<line x1="576.9" y1="1314.2" x2="583.4" y2="1314.2" stroke="#555" stroke-width="0.9"/>
<text transform="translate(573.8 1314.2) rotate(-90)" font-family="Liberation Sans" font-size="16.4" text-anchor="middle" fill="#000" stroke="#000" stroke-width="0.25">8</text>
<line x1="576.9" y1="1374.2" x2="583.4" y2="1374.2" stroke="#555" stroke-width="0.9"/>
<text transform="translate(573.8 1374.2) rotate(-90)" font-family="Liberation Sans" font-size="16.4" text-anchor="middle" fill="#000" stroke="#000" stroke-width="0.25">6</text>
<text transform="translate(546.6 1280) rotate(-90)" font-family="Liberation Serif" font-size="16.9" text-anchor="middle" textLength="168" lengthAdjust="spacingAndGlyphs">Expression−log<tspan font-size="11" dy="2.5">2</tspan><tspan dy="-2.5">(TPM+1)</tspan></text>
<line x1="642.7" y1="1176.5" x2="642.7" y2="1249.5" stroke="#000" stroke-width="0.7" stroke-dasharray="2 2.5"/>
<line x1="642.7" y1="1302.5" x2="642.7" y2="1379.2" stroke="#000" stroke-width="0.7" stroke-dasharray="2 2.5"/>
<line x1="632.1" y1="1176.5" x2="653.3" y2="1176.5" stroke="#777" stroke-width="1.3"/>
<line x1="632.1" y1="1379.2" x2="653.3" y2="1379.2" stroke="#777" stroke-width="1.3"/>
<rect x="621.5" y="1249.5" width="42.4" height="53" fill="#f0666b" stroke="#333" stroke-width="0.9"/>
<line x1="621.5" y1="1274.8" x2="663.9" y2="1274.8" stroke="#000" stroke-width="2.2"/>
<path d="M646.3 1248.9h0M637.7 1274.7h0M637.7 1275.0h0M645.4 1344.4h0M647.0 1249.9h0M638.7 1260.0h0M647.5 1320.6h0M636.8 1268.2h0M646.0 1284.0h0M644.3 1297.4h0M641.3 1316.7h0M641.2 1303.9h0M640.3 1314.8h0M642.4 1258.7h0M642.7 1262.3h0M638.5 1263.9h0M636.7 1283.6h0M643.0 1292.8h0M638.9 1199.3h0M637.7 1352.6h0M639.6 1231.1h0M638.3 1262.7h0M647.2 1273.3h0M640.1 1297.0h0M644.5 1285.0h0M636.6 1324.8h0M644.7 1333.0h0M648.3 1280.6h0M645.9 1344.0h0M646.0 1244.4h0M641.7 1234.1h0M642.4 1339.8h0M647.7 1265.7h0M639.4 1267.9h0M642.8 1271.7h0M645.5 1260.1h0M640.7 1247.9h0M642.4 1243.4h0M636.9 1208.7h0M645.0 1274.9h0M638.6 1243.4h0M639.7 1342.6h0M639.3 1281.3h0M645.4 1326.0h0M641.5 1223.6h0M648.8 1188.2h0M646.4 1255.5h0M648.0 1329.3h0M645.0 1280.5h0M639.4 1274.7h0M640.5 1268.3h0M641.0 1234.9h0M639.0 1240.0h0M642.3 1224.5h0M646.3 1296.2h0M643.0 1298.8h0M638.6 1222.6h0M645.6 1286.8h0M648.5 1332.1h0M642.4 1330.2h0M638.3 1273.5h0M645.6 1241.7h0M643.2 1219.4h0M646.5 1282.8h0M644.0 1295.0h0M647.3 1214.8h0M636.7 1294.6h0M644.6 1221.0h0M644.0 1266.9h0M646.2 1266.8h0M639.2 1285.4h0M643.8 1264.5h0M639.8 1294.8h0M645.9 1303.6h0M637.5 1281.3h0M638.5 1302.4h0M648.2 1264.3h0M645.6 1272.5h0M639.6 1286.5h0M640.4 1283.9h0M641.9 1285.1h0M639.4 1210.4h0M638.2 1276.1h0M648.5 1300.1h0M639.1 1287.9h0M645.8 1250.8h0M645.4 1284.0h0M645.6 1281.9h0M640.3 1286.3h0M639.3 1269.5h0M644.1 1261.0h0M648.8 1259.0h0M641.3 1342.9h0M639.2 1319.6h0M642.8 1245.6h0M638.9 1234.1h0M640.8 1226.9h0M645.6 1270.3h0M639.5 1232.6h0M642.1 1277.3h0M644.5 1280.7h0M638.5 1339.0h0M638.3 1307.9h0M648.5 1300.1h0M647.3 1241.3h0M647.5 1213.5h0M643.6 1295.0h0M642.8 1261.7h0M637.8 1265.4h0M639.5 1307.5h0M637.9 1346.4h0M643.1 1306.7h0M641.9 1334.8h0M638.6 1288.8h0M637.7 1281.6h0M643.6 1283.2h0M638.3 1282.7h0M636.7 1257.6h0M639.3 1314.1h0M646.5 1242.5h0M644.7 1344.4h0M642.9 1273.4h0M639.3 1261.2h0M642.3 1308.3h0M636.6 1341.3h0M640.5 1251.9h0M642.4 1303.5h0M637.6 1246.5h0M643.7 1247.0h0M642.0 1276.2h0M637.2 1276.0h0M638.3 1238.9h0M642.6 1261.7h0M647.6 1314.2h0M637.2 1269.5h0M643.5 1255.1h0M640.0 1268.2h0M641.3 1268.7h0M647.9 1282.0h0M644.3 1280.8h0M640.0 1314.2h0M642.1 1334.5h0M648.7 1233.7h0M647.3 1302.0h0M641.8 1267.5h0M643.1 1337.3h0M642.2 1269.9h0M638.4 1309.8h0M648.5 1317.6h0M639.3 1315.4h0M639.2 1240.6h0M637.9 1233.4h0M648.2 1362.0h0M647.8 1266.3h0M644.4 1243.0h0M643.1 1326.0h0M643.7 1250.3h0M641.1 1297.5h0M647.5 1316.7h0M643.4 1290.3h0M647.1 1294.8h0M645.1 1332.7h0M644.9 1192.4h0M644.8 1294.6h0M646.1 1306.5h0M646.6 1244.0h0M645.0 1278.9h0M640.5 1226.2h0M639.8 1286.9h0M638.9 1262.8h0M647.1 1272.4h0M642.5 1269.7h0M636.5 1284.5h0M643.9 1280.2h0M647.2 1213.4h0M647.9 1303.7h0M648.1 1298.3h0M647.3 1290.0h0M638.7 1254.6h0M642.9 1260.9h0M645.3 1241.1h0M644.5 1330.6h0M640.9 1266.2h0M637.0 1283.2h0M647.6 1287.7h0M646.1 1269.8h0M647.2 1356.2h0M641.3 1265.7h0M639.6 1270.5h0M647.0 1334.2h0M644.6 1279.9h0M644.8 1218.2h0M636.9 1291.8h0M637.8 1253.8h0M646.0 1285.2h0M647.5 1309.0h0M640.9 1313.5h0M647.3 1292.2h0M638.7 1227.5h0M643.7 1245.5h0M640.8 1304.7h0M643.1 1238.8h0M638.9 1281.2h0M641.2 1304.1h0M642.2 1259.9h0M643.7 1313.1h0M639.0 1339.8h0M644.0 1227.8h0M639.1 1350.3h0M648.6 1255.7h0M639.5 1338.0h0M637.9 1277.2h0M639.9 1284.0h0M643.5 1293.8h0M642.0 1364.8h0M644.7 1280.4h0M637.9 1277.4h0M641.6 1312.4h0M643.4 1278.7h0M648.6 1239.0h0M647.5 1305.1h0M643.6 1266.3h0M640.2 1322.6h0M637.9 1261.6h0M644.3 1252.1h0M643.5 1183.9h0M642.4 1242.2h0M645.4 1259.7h0M642.3 1223.6h0M646.2 1316.2h0M640.1 1236.1h0M640.6 1297.9h0M647.8 1300.9h0M643.7 1235.2h0M648.3 1267.1h0M637.3 1226.6h0M648.0 1334.5h0M637.2 1265.6h0M645.8 1297.1h0M643.7 1286.7h0M638.0 1353.0h0M640.3 1241.0h0M642.4 1267.9h0M643.4 1315.6h0M642.5 1330.2h0M636.8 1310.9h0M648.8 1223.9h0M640.9 1279.7h0M645.5 1289.1h0M648.0 1257.3h0M648.6 1275.1h0M638.8 1266.9h0M647.6 1248.0h0M642.9 1263.2h0M644.6 1243.0h0M639.6 1323.7h0M638.3 1273.1h0M643.7 1289.8h0M647.7 1271.4h0M641.7 1277.0h0M648.3 1301.0h0M645.3 1289.4h0M636.7 1240.4h0M648.1 1297.6h0M637.9 1325.5h0M639.3 1253.3h0M643.5 1239.4h0M648.2 1286.1h0M638.2 1270.4h0M640.2 1308.9h0M637.1 1283.3h0M637.6 1234.3h0M641.8 1245.6h0M643.6 1269.6h0M642.8 1286.1h0M637.1 1340.6h0M641.8 1263.4h0M642.0 1258.1h0M648.1 1236.2h0M640.6 1200.9h0M644.4 1261.1h0M642.5 1239.7h0M646.2 1319.8h0M644.0 1230.6h0M648.8 1243.0h0M644.4 1224.8h0M640.7 1250.0h0M641.7 1258.2h0M647.1 1220.5h0M641.1 1301.5h0M648.0 1251.1h0M642.0 1235.0h0M648.2 1306.3h0M638.4 1321.0h0M646.2 1258.8h0M642.0 1270.1h0M639.3 1252.3h0M643.8 1251.0h0M637.2 1305.3h0M639.0 1262.2h0M647.0 1233.2h0M643.0 1288.7h0M640.7 1285.9h0M638.3 1319.6h0M638.5 1244.6h0M639.4 1203.0h0M642.2 1329.2h0M636.7 1246.5h0M639.0 1241.4h0M641.8 1296.8h0M647.4 1289.2h0M647.2 1316.2h0M648.1 1305.6h0M639.3 1268.2h0M638.0 1250.4h0M647.0 1270.0h0M645.2 1243.0h0M639.6 1266.8h0M641.9 1321.0h0M648.0 1221.1h0M646.6 1230.9h0M648.1 1302.6h0M642.6 1209.4h0M638.9 1257.0h0M643.2 1269.3h0M637.9 1204.0h0M638.0 1374.0h0M637.6 1338.3h0M639.6 1248.1h0M638.5 1283.8h0M639.7 1311.8h0M645.1 1218.9h0M644.8 1256.2h0M636.8 1325.0h0M647.2 1300.3h0M646.7 1243.0h0M648.2 1208.6h0M639.2 1354.0h0M645.6 1264.7h0M643.4 1289.1h0M645.3 1343.7h0M647.7 1280.4h0M637.5 1337.9h0M646.9 1295.2h0M647.1 1214.6h0M644.5 1255.0h0M641.5 1245.2h0M643.2 1251.8h0M638.2 1260.8h0M645.7 1238.1h0M643.3 1320.3h0M643.6 1288.0h0M645.3 1242.4h0M637.8 1302.7h0M637.1 1291.0h0M638.0 1229.4h0M637.5 1217.4h0M646.4 1297.7h0M638.1 1306.1h0M641.2 1252.1h0M644.6 1263.6h0M639.7 1300.3h0M647.8 1251.6h0M647.8 1253.2h0M641.3 1270.4h0M643.8 1223.6h0M646.2 1243.5h0M648.7 1235.9h0M645.1 1233.1h0M642.1 1302.0h0M637.0 1261.6h0M644.5 1270.6h0M644.7 1295.9h0M645.1 1263.8h0M640.8 1264.1h0M647.2 1275.4h0M643.8 1292.6h0M641.2 1242.9h0M639.5 1337.1h0M636.9 1243.1h0M645.3 1272.9h0M640.4 1263.2h0M647.1 1368.4h0M640.5 1211.6h0M640.3 1342.5h0M646.2 1307.8h0M641.2 1249.6h0M648.7 1297.4h0M643.5 1289.4h0M648.1 1362.8h0M638.0 1290.6h0M637.1 1265.4h0M636.7 1248.3h0M647.4 1284.6h0M642.4 1265.1h0M645.6 1257.1h0M643.0 1300.1h0M648.5 1303.2h0M646.5 1201.2h0M642.4 1307.2h0M638.7 1227.9h0M641.3 1270.5h0M641.3 1219.1h0M641.0 1298.7h0M645.4 1254.1h0M646.9 1261.0h0M646.8 1282.1h0M638.9 1261.7h0M638.6 1303.9h0M644.8 1276.2h0M645.6 1289.0h0M646.2 1245.2h0M647.7 1276.6h0M640.7 1329.0h0M637.3 1287.9h0M641.1 1276.9h0M640.5 1309.3h0M637.9 1224.2h0M644.9 1258.2h0M642.8 1242.1h0M644.2 1303.7h0M647.3 1289.0h0M643.6 1236.0h0M647.5 1330.6h0M646.6 1259.6h0M643.0 1269.8h0M644.2 1293.1h0M642.3 1269.8h0M641.3 1316.3h0M645.6 1264.8h0M644.0 1322.0h0M641.1 1324.4h0M644.6 1221.6h0M643.1 1301.2h0M637.9 1358.1h0M645.7 1237.2h0M642.7 1304.1h0M648.0 1275.3h0M647.6 1238.9h0M637.9 1260.1h0M639.8 1209.7h0M645.1 1278.0h0M639.0 1251.0h0M646.7 1313.6h0M644.9 1267.1h0M648.3 1216.7h0M640.9 1254.5h0M645.0 1267.1h0M644.0 1352.7h0M645.0 1288.1h0M648.3 1324.9h0M640.9 1244.4h0M639.4 1302.7h0M646.5 1259.7h0M638.4 1313.3h0M643.3 1203.5h0M648.0 1320.3h0M647.0 1268.0h0M645.1 1265.1h0M636.7 1308.1h0M648.7 1250.4h0M642.1 1236.4h0M640.1 1240.9h0M637.3 1352.5h0M638.3 1265.0h0M637.1 1358.9h0M643.4 1202.9h0M641.2 1270.4h0M640.2 1291.5h0M646.6 1248.2h0M637.5 1255.0h0M641.7 1320.8h0M646.5 1212.9h0M646.8 1282.7h0M645.3 1344.0h0M643.0 1221.2h0M638.5 1216.3h0M641.4 1226.5h0M645.5 1252.7h0M646.2 1309.0h0M644.1 1238.3h0M647.6 1204.1h0M643.5 1242.8h0M647.0 1213.6h0M647.7 1146.7h0M638.6 1386.0h0M638.3 1395.0h0M648.7 1402.0h0M640.2 1413.0h0M642.1 1421.0h0M641.8 1176.5h0M647.0 1379.2h0" stroke="#000" stroke-width="1.9" stroke-linecap="round" fill="none"/>
<line x1="695.8" y1="1152.5" x2="695.8" y2="1209.3" stroke="#000" stroke-width="0.7" stroke-dasharray="2 2.5"/>
<line x1="695.8" y1="1247.8" x2="695.8" y2="1305" stroke="#000" stroke-width="0.7" stroke-dasharray="2 2.5"/>
<line x1="685.2" y1="1152.5" x2="706.4" y2="1152.5" stroke="#777" stroke-width="1.3"/>
<line x1="685.2" y1="1305" x2="706.4" y2="1305" stroke="#777" stroke-width="1.3"/>
<rect x="674.6" y="1209.3" width="42.4" height="38.5" fill="#7f7f7f" stroke="#333" stroke-width="0.9"/>
<line x1="674.6" y1="1229.8" x2="717" y2="1229.8" stroke="#000" stroke-width="2.2"/>
<path d="M697.2 1225.5h0M693.2 1281.8h0M700.7 1203.0h0M697.5 1254.2h0M697.3 1229.8h0M698.7 1196.6h0M700.4 1243.5h0M692.2 1235.4h0M693.2 1261.8h0M701.1 1257.0h0M697.7 1286.8h0M700.2 1192.1h0M693.9 1259.6h0M701.3 1216.3h0M695.0 1217.5h0M699.2 1245.9h0M700.4 1226.4h0M696.0 1230.7h0M694.9 1241.7h0M695.8 1226.3h0M691.6 1226.3h0M691.0 1256.1h0M700.8 1263.7h0M697.5 1251.4h0M691.1 1224.1h0M696.8 1184.7h0M693.0 1181.9h0M699.6 1218.1h0M694.2 1198.3h0M690.4 1224.1h0M697.7 1193.4h0M701.3 1224.0h0M698.5 1215.7h0M701.0 1236.0h0M691.3 1228.2h0M693.5 1168.5h0M698.9 1261.2h0M695.4 1227.9h0M692.2 1244.5h0M694.0 1197.9h0M693.4 1171.1h0M698.1 1236.8h0M698.9 1304.6h0M698.4 1208.7h0M697.7 1208.7h0M698.6 1274.7h0M700.5 1234.9h0M693.2 1230.1h0M693.3 1292.1h0M701.2 1206.9h0M700.1 1214.3h0M697.6 1220.6h0M699.1 1257.6h0M697.4 1248.0h0M693.7 1245.8h0M696.5 1213.1h0M692.9 1255.5h0M691.3 1182.1h0M694.0 1216.2h0M699.3 1288.6h0M691.8 1175.1h0M690.7 1223.2h0M692.8 1243.6h0M699.0 1225.0h0M700.1 1278.9h0M693.3 1222.2h0M701.0 1296.5h0M695.6 1256.7h0M697.9 1185.5h0M697.7 1188.5h0M695.2 1237.9h0M699.6 1255.2h0M700.2 1198.9h0M695.5 1229.9h0M693.6 1221.6h0M700.7 1208.5h0M698.0 1258.3h0M694.3 1203.3h0M692.0 1287.2h0M694.6 1182.1h0M695.2 1272.1h0M699.3 1246.0h0M698.1 1247.1h0M695.9 1205.4h0M700.4 1204.8h0M696.8 1217.1h0M699.9 1211.3h0M690.9 1213.6h0M691.1 1230.7h0M699.8 1281.7h0M698.4 1292.7h0M693.1 1292.6h0M691.5 1230.0h0M691.0 1235.0h0M693.8 1232.6h0M700.1 1221.4h0M692.3 1235.3h0M693.0 1256.5h0M699.5 1270.5h0M692.3 1281.5h0M692.9 1190.1h0M698.6 1199.9h0M699.8 1266.5h0M700.8 1236.4h0M690.7 1214.7h0M693.9 1178.1h0M697.0 1245.6h0M693.9 1223.2h0M698.5 1192.0h0M692.7 1277.2h0M697.0 1249.3h0M692.0 1230.0h0M691.9 1249.0h0M699.1 1161.7h0M697.2 1201.2h0M696.6 1222.5h0M694.4 1255.7h0M697.7 1201.3h0M700.9 1208.7h0M694.4 1243.3h0M690.7 1241.0h0M693.1 1269.7h0M698.9 1231.1h0M693.5 1201.4h0M698.6 1197.1h0M692.5 1210.4h0M696.9 1202.7h0M694.3 1245.4h0M696.2 1242.1h0M694.4 1190.7h0M696.8 1214.6h0M698.5 1251.2h0M698.0 1213.0h0M695.0 1202.6h0M690.6 1206.5h0M699.5 1225.5h0M691.4 1243.4h0M694.4 1216.3h0M699.0 1175.2h0M701.2 1224.3h0M698.3 1247.7h0M691.5 1218.2h0M701.0 1263.4h0M690.7 1221.7h0M690.6 1237.4h0M698.4 1198.6h0M700.5 1225.7h0M697.4 1195.7h0M700.0 1318.0h0M697.5 1359.2h0M691.1 1152.5h0M697.1 1305.0h0" stroke="#000" stroke-width="1.9" stroke-linecap="round" fill="none"/>
<rect x="583.4" y="1114.6" width="172.2" height="318.5" fill="none" stroke="#555" stroke-width="1.1"/>
<line x1="669.5" y1="1433.1" x2="669.5" y2="1439.6" stroke="#555" stroke-width="0.9"/>
<text x="669.5" y="1449.2" font-family="Liberation Serif" font-size="12.7" text-anchor="middle" fill="#000" stroke="#000" stroke-width="0.2" textLength="34.6" lengthAdjust="spacingAndGlyphs">PRAD</text>
<text x="669.5" y="1464.4" font-family="Liberation Serif" font-size="12.7" text-anchor="middle" fill="#000" stroke="#000" stroke-width="0.2" textLength="153.5" lengthAdjust="spacingAndGlyphs">(num(T)=492; num(N)=152)</text>
<path d="M642.7 1136.4V1126.1H664M674.5 1126.1H695.8V1137.9" fill="none" stroke="#666" stroke-width="1"/>
<path d="M669.25 1126.60L669.25 1123.50M669.25 1126.60L672.20 1125.64M669.25 1126.60L671.07 1129.11M669.25 1126.60L667.43 1129.11M669.25 1126.60L666.30 1125.64" stroke="#e8202a" stroke-width="1.5" stroke-linecap="round" fill="none"/>
<text x="931.4" y="1111.2" font-family="Liberation Serif" font-size="14.5" text-anchor="middle" fill="#000" stroke="#000" stroke-width="0.2" textLength="34.4" lengthAdjust="spacingAndGlyphs">CNN1</text>
<line x1="839.5" y1="1149.3" x2="846" y2="1149.3" stroke="#555" stroke-width="0.9"/>
<text transform="translate(836.4 1149.3) rotate(-90)" font-family="Liberation Sans" font-size="16.4" text-anchor="middle" fill="#000" stroke="#000" stroke-width="0.25">12</text>
<line x1="839.5" y1="1198.6" x2="846" y2="1198.6" stroke="#555" stroke-width="0.9"/>
<text transform="translate(836.4 1198.6) rotate(-90)" font-family="Liberation Sans" font-size="16.4" text-anchor="middle" fill="#000" stroke="#000" stroke-width="0.25">10</text>
<line x1="839.5" y1="1248.3" x2="846" y2="1248.3" stroke="#555" stroke-width="0.9"/>
<text transform="translate(836.4 1248.3) rotate(-90)" font-family="Liberation Sans" font-size="16.4" text-anchor="middle" fill="#000" stroke="#000" stroke-width="0.25">8</text>
<line x1="839.5" y1="1297.5" x2="846" y2="1297.5" stroke="#555" stroke-width="0.9"/>
<text transform="translate(836.4 1297.5) rotate(-90)" font-family="Liberation Sans" font-size="16.4" text-anchor="middle" fill="#000" stroke="#000" stroke-width="0.25">6</text>
<line x1="839.5" y1="1346.8" x2="846" y2="1346.8" stroke="#555" stroke-width="0.9"/>
<text transform="translate(836.4 1346.8) rotate(-90)" font-family="Liberation Sans" font-size="16.4" text-anchor="middle" fill="#000" stroke="#000" stroke-width="0.25">4</text>
<line x1="839.5" y1="1396.3" x2="846" y2="1396.3" stroke="#555" stroke-width="0.9"/>
<text transform="translate(836.4 1396.3) rotate(-90)" font-family="Liberation Sans" font-size="16.4" text-anchor="middle" fill="#000" stroke="#000" stroke-width="0.25">2</text>
<text transform="translate(806.5 1293) rotate(-90)" font-family="Liberation Serif" font-size="16.9" text-anchor="middle" textLength="168" lengthAdjust="spacingAndGlyphs">Expression−log<tspan font-size="11" dy="2.5">2</tspan><tspan dy="-2.5">(TPM+1)</tspan></text>
<line x1="905.5" y1="1175.4" x2="905.5" y2="1229.6" stroke="#000" stroke-width="0.7" stroke-dasharray="2 2.5"/>
<line x1="905.5" y1="1275.3" x2="905.5" y2="1340" stroke="#000" stroke-width="0.7" stroke-dasharray="2 2.5"/>
<line x1="894.9" y1="1175.4" x2="916.1" y2="1175.4" stroke="#777" stroke-width="1.3"/>
<line x1="894.9" y1="1340" x2="916.1" y2="1340" stroke="#777" stroke-width="1.3"/>
<rect x="884.3" y="1229.6" width="42.4" height="45.7" fill="#f0666b" stroke="#333" stroke-width="0.9"/>
<line x1="884.3" y1="1246.8" x2="926.7" y2="1246.8" stroke="#000" stroke-width="2.2"/>
<path d="M908.7 1268.2h0M910.1 1301.0h0M903.8 1288.7h0M905.0 1281.5h0M899.9 1218.0h0M905.7 1190.5h0M903.1 1211.3h0M905.8 1298.3h0M906.7 1244.8h0M901.4 1296.1h0M900.2 1235.1h0M908.1 1213.5h0M908.3 1231.4h0M911.5 1224.0h0M905.5 1253.2h0M900.1 1332.4h0M900.3 1332.9h0M911.3 1251.1h0M908.4 1231.7h0M901.4 1213.5h0M904.5 1261.9h0M901.7 1244.9h0M908.9 1240.1h0M908.4 1218.9h0M910.8 1249.8h0M907.5 1294.4h0M904.3 1218.4h0M910.6 1236.0h0M904.1 1236.8h0M908.4 1302.0h0M902.0 1247.1h0M902.7 1321.4h0M906.8 1333.9h0M902.9 1257.1h0M910.0 1265.7h0M905.7 1231.9h0M910.8 1209.0h0M906.8 1248.3h0M906.4 1200.0h0M905.6 1272.3h0M901.7 1226.8h0M903.6 1301.8h0M910.4 1243.5h0M907.7 1260.5h0M908.8 1255.9h0M904.5 1231.4h0M901.8 1328.6h0M909.2 1243.8h0M904.5 1282.1h0M909.0 1243.7h0M900.1 1236.5h0M903.7 1262.9h0M907.4 1263.0h0M910.8 1296.8h0M901.8 1232.4h0M911.5 1276.0h0M907.7 1235.2h0M901.8 1308.7h0M899.5 1211.0h0M910.8 1291.1h0M907.7 1216.5h0M908.3 1266.3h0M904.4 1232.5h0M900.4 1253.0h0M905.2 1229.0h0M907.3 1246.7h0M902.7 1213.6h0M911.2 1229.2h0M908.9 1229.0h0M899.5 1203.1h0M903.0 1277.0h0M910.5 1212.8h0M908.6 1244.9h0M909.2 1310.9h0M901.6 1234.3h0M910.2 1255.7h0M907.5 1202.7h0M904.3 1268.1h0M907.8 1245.5h0M902.3 1240.7h0M910.4 1329.4h0M900.3 1233.5h0M902.6 1289.9h0M908.2 1210.0h0M904.5 1203.2h0M910.3 1247.2h0M909.6 1315.5h0M907.7 1242.1h0M903.8 1242.2h0M904.7 1228.0h0M903.4 1259.6h0M903.2 1298.4h0M899.5 1253.0h0M902.5 1286.9h0M907.9 1200.5h0M906.0 1277.5h0M903.4 1275.1h0M903.3 1248.8h0M901.5 1300.5h0M900.3 1266.1h0M901.2 1252.7h0M907.0 1268.0h0M910.8 1257.7h0M907.8 1214.3h0M903.6 1235.5h0M906.3 1304.8h0M901.0 1265.4h0M900.3 1227.3h0M900.1 1275.0h0M906.3 1244.7h0M906.6 1248.1h0M901.2 1233.0h0M911.0 1254.6h0M901.0 1252.9h0M905.6 1284.0h0M907.3 1237.4h0M899.7 1287.0h0M902.7 1201.5h0M905.9 1247.7h0M907.7 1256.5h0M907.8 1226.2h0M907.5 1250.5h0M900.2 1244.5h0M900.0 1249.1h0M910.0 1278.2h0M901.1 1286.7h0M903.8 1277.1h0M909.7 1217.2h0M899.9 1274.0h0M909.9 1264.4h0M907.4 1266.2h0M904.1 1228.6h0M902.3 1195.0h0M905.8 1286.8h0M909.5 1232.5h0M901.8 1243.7h0M902.4 1259.9h0M905.5 1233.6h0M909.3 1301.8h0M904.5 1225.1h0M904.4 1241.0h0M911.2 1290.0h0M905.9 1205.2h0M909.1 1224.6h0M907.6 1216.4h0M906.1 1309.7h0M904.7 1258.5h0M907.4 1269.4h0M909.6 1230.4h0M901.1 1211.4h0M902.6 1329.2h0M901.9 1246.3h0M909.3 1252.2h0M903.3 1220.7h0M904.9 1248.6h0M905.7 1301.8h0M911.2 1255.2h0M899.3 1291.6h0M901.6 1280.4h0M910.1 1245.7h0M905.0 1267.6h0M903.9 1239.5h0M911.0 1312.4h0M900.6 1186.3h0M899.5 1213.9h0M910.5 1228.1h0M909.5 1302.7h0M906.0 1284.1h0M902.6 1256.8h0M908.9 1188.6h0M901.3 1212.7h0M904.6 1269.5h0M901.4 1215.3h0M904.3 1214.9h0M899.4 1246.4h0M905.0 1215.1h0M904.9 1238.2h0M911.5 1275.1h0M904.0 1297.6h0M905.9 1252.1h0M901.2 1220.8h0M902.8 1305.4h0M902.1 1316.4h0M911.4 1232.5h0M900.9 1199.3h0M907.3 1265.8h0M909.6 1227.7h0M911.0 1198.3h0M908.0 1309.5h0M901.5 1292.2h0M910.7 1188.3h0M905.7 1259.1h0M905.8 1252.3h0M910.4 1240.9h0M899.5 1219.2h0M908.2 1212.2h0M908.7 1243.9h0M907.6 1261.3h0M901.7 1248.4h0M910.6 1238.9h0M902.3 1212.7h0M903.3 1243.3h0M909.7 1199.3h0M910.7 1283.9h0M902.6 1232.9h0M905.2 1201.0h0M909.8 1213.2h0M906.0 1238.1h0M902.1 1284.9h0M903.9 1277.6h0M907.1 1253.6h0M908.3 1238.7h0M903.1 1257.6h0M901.7 1309.7h0M909.0 1278.7h0M903.1 1233.3h0M902.3 1225.0h0M902.9 1307.3h0M902.2 1262.5h0M901.0 1319.1h0M904.1 1271.2h0M901.6 1245.1h0M907.3 1261.7h0M900.6 1272.2h0M903.7 1299.1h0M911.1 1327.1h0M905.0 1248.6h0M910.4 1258.7h0M902.1 1208.3h0M909.0 1317.5h0M900.4 1235.4h0M911.1 1211.8h0M911.2 1331.4h0M907.9 1229.6h0M901.8 1316.4h0M908.7 1233.2h0M909.3 1208.3h0M907.4 1247.0h0M908.9 1239.3h0M902.4 1276.8h0M909.0 1239.3h0M902.1 1217.3h0M905.6 1254.7h0M904.2 1252.8h0M901.9 1236.6h0M902.5 1225.3h0M910.3 1317.5h0M900.1 1245.2h0M905.4 1276.4h0M905.3 1233.8h0M900.7 1219.8h0M900.3 1238.7h0M904.7 1213.1h0M903.7 1289.6h0M902.5 1264.4h0M902.5 1289.5h0M902.1 1245.2h0M907.2 1244.3h0M911.4 1255.3h0M903.1 1299.2h0M904.3 1250.1h0M907.9 1265.7h0M903.1 1231.0h0M900.9 1258.4h0M907.3 1216.4h0M903.7 1240.7h0M899.3 1327.1h0M903.4 1254.3h0M910.2 1308.6h0M900.0 1221.5h0M910.4 1209.4h0M906.9 1247.9h0M909.6 1235.2h0M906.3 1309.3h0M908.1 1270.8h0M910.3 1257.8h0M901.4 1312.2h0M900.7 1244.4h0M906.4 1238.6h0M905.2 1230.0h0M905.8 1206.3h0M903.8 1225.6h0M911.5 1262.6h0M906.8 1244.0h0M906.9 1231.1h0M899.7 1291.9h0M902.7 1212.1h0M902.8 1223.2h0M911.6 1256.5h0M901.0 1274.3h0M905.6 1224.8h0M908.4 1222.2h0M907.0 1199.8h0M908.7 1221.1h0M903.8 1241.2h0M901.3 1228.3h0M902.1 1286.1h0M906.1 1228.0h0M905.7 1313.2h0M904.3 1235.6h0M910.7 1232.1h0M904.3 1314.0h0M901.9 1196.6h0M906.8 1296.3h0M906.5 1219.3h0M909.0 1269.4h0M906.2 1238.5h0M899.4 1274.9h0M905.3 1181.5h0M901.6 1219.6h0M902.2 1199.3h0M908.8 1226.1h0M911.2 1228.3h0M910.1 1242.5h0M902.2 1256.5h0M904.6 1230.5h0M910.0 1242.2h0M909.7 1252.7h0M900.0 1305.6h0M902.8 1259.3h0M906.6 1230.5h0M901.7 1266.4h0M899.6 1237.2h0M902.0 1252.1h0M906.0 1290.6h0M908.2 1285.0h0M908.5 1278.0h0M906.3 1258.5h0M906.7 1257.2h0M905.8 1217.0h0M909.1 1292.9h0M907.4 1334.4h0M907.8 1228.3h0M910.5 1265.6h0M900.8 1251.0h0M899.8 1179.5h0M905.9 1207.9h0M904.8 1230.8h0M910.6 1221.4h0M903.1 1243.0h0M907.7 1221.1h0M907.9 1272.1h0M902.3 1276.5h0M899.4 1265.9h0M904.5 1204.8h0M901.8 1205.4h0M901.7 1271.9h0M905.0 1215.7h0M901.5 1252.5h0M906.2 1217.9h0M906.9 1259.3h0M905.1 1221.0h0M906.3 1250.3h0M901.7 1257.9h0M906.4 1246.6h0M909.9 1241.8h0M909.8 1270.6h0M900.7 1304.7h0M903.3 1201.6h0M908.2 1262.4h0M906.6 1324.2h0M904.1 1271.9h0M909.6 1210.3h0M910.4 1316.2h0M906.3 1259.2h0M902.4 1325.0h0M911.2 1217.0h0M905.3 1236.3h0M903.6 1237.4h0M900.9 1210.5h0M911.0 1202.7h0M907.9 1218.8h0M900.2 1270.3h0M901.6 1302.7h0M910.8 1290.5h0M900.2 1321.3h0M907.7 1198.5h0M906.4 1253.4h0M905.5 1242.4h0M907.9 1240.6h0M903.5 1192.9h0M907.1 1269.6h0M910.2 1214.8h0M906.4 1237.8h0M905.8 1251.7h0M906.9 1328.5h0M901.6 1221.7h0M903.4 1277.4h0M908.2 1265.0h0M906.3 1239.8h0M900.8 1243.3h0M910.1 1216.3h0M904.4 1274.2h0M902.4 1241.4h0M901.2 1238.4h0M910.8 1245.0h0M908.4 1227.9h0M903.1 1256.1h0M901.7 1214.1h0M909.9 1275.9h0M901.1 1307.6h0M905.8 1246.8h0M907.6 1214.7h0M910.9 1267.4h0M907.8 1272.3h0M900.6 1260.0h0M905.8 1241.4h0M910.6 1252.6h0M902.7 1237.6h0M900.4 1319.7h0M900.0 1206.4h0M909.6 1230.4h0M910.9 1282.4h0M905.0 1209.7h0M903.1 1233.9h0M904.2 1207.1h0M901.5 1296.2h0M904.7 1202.2h0M905.2 1244.5h0M905.9 1334.5h0M900.6 1225.9h0M911.4 1258.1h0M907.1 1289.1h0M906.4 1254.3h0M909.6 1329.5h0M899.9 1230.4h0M906.6 1254.4h0M903.9 1256.7h0M907.2 1208.6h0M910.9 1244.8h0M900.2 1273.8h0M901.4 1286.4h0M903.7 1247.6h0M905.9 1217.8h0M909.6 1270.3h0M908.4 1290.2h0M906.1 1221.5h0M901.7 1244.1h0M905.5 1246.4h0M904.8 1190.9h0M900.7 1297.8h0M910.6 1240.5h0M909.7 1322.3h0M906.9 1258.1h0M902.4 1230.3h0M906.5 1216.2h0M903.3 1300.3h0M907.3 1223.8h0M899.8 1225.2h0M906.8 1250.4h0M906.2 1181.1h0M910.8 1245.7h0M906.4 1283.3h0M909.0 1234.6h0M902.1 1326.0h0M906.2 1204.8h0M903.3 1219.8h0M911.5 1262.4h0M911.2 1229.6h0M902.3 1231.6h0M907.0 1194.9h0M900.2 1271.8h0M906.1 1301.2h0M911.5 1333.5h0M901.0 1257.9h0M908.3 1313.3h0M905.7 1252.6h0M911.6 1235.0h0M904.4 1264.3h0M909.6 1286.1h0M906.7 1214.4h0M909.2 1253.7h0M909.9 1239.6h0M907.3 1220.8h0M903.6 1301.8h0M906.7 1285.2h0M909.1 1180.2h0M909.5 1251.9h0M907.1 1290.4h0M905.0 1256.1h0M900.3 1270.0h0M900.7 1298.5h0M907.3 1262.8h0M904.2 1246.3h0M907.7 1352.0h0M905.8 1371.0h0M904.2 1381.0h0M901.8 1396.0h0M909.8 1403.0h0M902.7 1422.4h0M907.1 1175.4h0M900.6 1340.0h0" stroke="#000" stroke-width="1.9" stroke-linecap="round" fill="none"/>
<line x1="958.6" y1="1146.7" x2="958.6" y2="1200.7" stroke="#000" stroke-width="0.7" stroke-dasharray="2 2.5"/>
<line x1="958.6" y1="1237.1" x2="958.6" y2="1291.1" stroke="#000" stroke-width="0.7" stroke-dasharray="2 2.5"/>
<line x1="948" y1="1146.7" x2="969.2" y2="1146.7" stroke="#777" stroke-width="1.3"/>
<line x1="948" y1="1291.1" x2="969.2" y2="1291.1" stroke="#777" stroke-width="1.3"/>
<rect x="937.4" y="1200.7" width="42.4" height="36.4" fill="#7f7f7f" stroke="#333" stroke-width="0.9"/>
<line x1="937.4" y1="1217.8" x2="979.8" y2="1217.8" stroke="#000" stroke-width="2.2"/>
<path d="M955.7 1279.1h0M959.1 1226.6h0M962.6 1219.8h0M957.9 1202.4h0M959.4 1253.2h0M957.6 1202.8h0M961.3 1226.6h0M960.0 1232.3h0M961.4 1221.8h0M963.9 1192.8h0M961.7 1203.7h0M959.4 1195.3h0M955.8 1237.5h0M958.7 1225.9h0M963.6 1251.1h0M964.0 1233.6h0M954.4 1229.1h0M960.5 1231.1h0M953.3 1199.7h0M954.2 1207.0h0M957.2 1198.6h0M954.1 1214.5h0M960.3 1190.6h0M958.6 1214.9h0M957.3 1193.3h0M962.5 1205.0h0M957.0 1199.2h0M955.8 1219.7h0M956.2 1253.2h0M953.3 1259.1h0M961.1 1168.2h0M960.2 1208.0h0M957.7 1206.6h0M962.2 1222.6h0M956.7 1230.9h0M955.4 1249.8h0M953.4 1219.6h0M955.0 1219.3h0M958.0 1250.2h0M956.7 1254.2h0M958.0 1237.9h0M953.6 1227.6h0M953.3 1231.7h0M960.6 1197.2h0M957.7 1251.5h0M961.8 1207.5h0M962.5 1180.6h0M957.0 1195.2h0M958.1 1250.4h0M961.6 1196.4h0M954.5 1205.2h0M962.0 1234.6h0M957.1 1185.3h0M955.8 1229.4h0M958.2 1215.1h0M960.3 1247.5h0M962.4 1209.7h0M962.2 1230.1h0M953.4 1232.2h0M954.8 1190.4h0M956.8 1212.4h0M953.7 1260.6h0M958.0 1200.3h0M958.1 1196.6h0M958.9 1241.6h0M956.9 1229.0h0M955.7 1216.4h0M959.6 1224.9h0M953.6 1214.7h0M953.4 1201.3h0M961.3 1231.9h0M955.1 1165.0h0M954.8 1238.2h0M955.8 1233.2h0M959.4 1167.9h0M955.7 1157.3h0M960.4 1216.8h0M960.2 1223.2h0M957.5 1248.5h0M963.4 1188.8h0M961.5 1213.4h0M954.6 1242.0h0M955.6 1207.5h0M954.2 1183.1h0M961.0 1200.4h0M955.1 1161.8h0M958.1 1188.4h0M954.0 1206.6h0M962.8 1218.7h0M961.4 1203.9h0M960.4 1186.9h0M960.8 1196.0h0M957.1 1191.1h0M955.1 1212.1h0M953.2 1198.4h0M957.6 1187.0h0M963.2 1222.5h0M953.3 1254.9h0M955.2 1174.0h0M958.9 1203.0h0M953.8 1230.4h0M956.3 1211.9h0M961.4 1224.9h0M955.4 1266.6h0M956.4 1223.1h0M956.2 1258.5h0M955.3 1212.7h0M962.0 1220.9h0M963.6 1189.1h0M959.6 1221.2h0M955.9 1208.3h0M955.7 1226.3h0M960.7 1228.7h0M961.1 1257.8h0M962.1 1192.7h0M954.5 1213.5h0M955.2 1234.5h0M956.8 1212.5h0M957.8 1229.7h0M962.1 1238.5h0M954.0 1211.5h0M956.3 1187.0h0M954.3 1225.5h0M962.0 1258.6h0M961.0 1235.4h0M962.0 1172.2h0M956.6 1241.0h0M958.9 1187.7h0M962.9 1224.6h0M953.2 1199.0h0M962.0 1220.8h0M961.6 1262.9h0M957.9 1229.6h0M961.7 1164.3h0M961.5 1221.6h0M955.0 1203.5h0M963.8 1227.4h0M963.5 1221.6h0M955.9 1209.6h0M963.7 1205.8h0M959.1 1161.5h0M958.7 1218.2h0M961.7 1222.9h0M963.3 1236.7h0M955.9 1255.3h0M954.4 1141.8h0M962.4 1300.0h0M958.0 1310.0h0M959.2 1323.0h0M958.4 1336.1h0M962.8 1146.7h0M959.4 1291.1h0" stroke="#000" stroke-width="1.9" stroke-linecap="round" fill="none"/>
<rect x="846" y="1115" width="172.4" height="319.2" fill="none" stroke="#555" stroke-width="1.1"/>
<line x1="932.2" y1="1434.2" x2="932.2" y2="1440.7" stroke="#555" stroke-width="0.9"/>
<text x="932.2" y="1453.4" font-family="Liberation Serif" font-size="12.7" text-anchor="middle" fill="#000" stroke="#000" stroke-width="0.2" textLength="34.6" lengthAdjust="spacingAndGlyphs">PRAD</text>
<text x="932.2" y="1468.6" font-family="Liberation Serif" font-size="12.7" text-anchor="middle" fill="#000" stroke="#000" stroke-width="0.2" textLength="153.5" lengthAdjust="spacingAndGlyphs">(num(T)=492; num(N)=152)</text>
<path d="M905.5 1167.5V1126.8H926.8M937.3 1126.8H958.6V1134.3" fill="none" stroke="#666" stroke-width="1"/>
<path d="M932.05 1127.30L932.05 1124.20M932.05 1127.30L935.00 1126.34M932.05 1127.30L933.87 1129.81M932.05 1127.30L930.23 1129.81M932.05 1127.30L929.10 1126.34" stroke="#e8202a" stroke-width="1.5" stroke-linecap="round" fill="none"/>
<text x="1190.6" y="1111.2" font-family="Liberation Serif" font-size="14.5" text-anchor="middle" fill="#000" stroke="#000" stroke-width="0.2" textLength="34.4" lengthAdjust="spacingAndGlyphs">FLNC</text>
<line x1="1098" y1="1175" x2="1104.5" y2="1175" stroke="#555" stroke-width="0.9"/>
<text transform="translate(1094.9 1175) rotate(-90)" font-family="Liberation Sans" font-size="16.4" text-anchor="middle" fill="#000" stroke="#000" stroke-width="0.25">8</text>
<line x1="1098" y1="1237.5" x2="1104.5" y2="1237.5" stroke="#555" stroke-width="0.9"/>
<text transform="translate(1094.9 1237.5) rotate(-90)" font-family="Liberation Sans" font-size="16.4" text-anchor="middle" fill="#000" stroke="#000" stroke-width="0.25">6</text>
<line x1="1098" y1="1300.3" x2="1104.5" y2="1300.3" stroke="#555" stroke-width="0.9"/>
<text transform="translate(1094.9 1300.3) rotate(-90)" font-family="Liberation Sans" font-size="16.4" text-anchor="middle" fill="#000" stroke="#000" stroke-width="0.25">4</text>
<line x1="1098" y1="1362.5" x2="1104.5" y2="1362.5" stroke="#555" stroke-width="0.9"/>
<text transform="translate(1094.9 1362.5) rotate(-90)" font-family="Liberation Sans" font-size="16.4" text-anchor="middle" fill="#000" stroke="#000" stroke-width="0.25">2</text>
<line x1="1098" y1="1425" x2="1104.5" y2="1425" stroke="#555" stroke-width="0.9"/>
<text transform="translate(1094.9 1425) rotate(-90)" font-family="Liberation Sans" font-size="16.4" text-anchor="middle" fill="#000" stroke="#000" stroke-width="0.25">0</text>
<text transform="translate(1066.3 1298) rotate(-90)" font-family="Liberation Serif" font-size="16.9" text-anchor="middle" textLength="168" lengthAdjust="spacingAndGlyphs">Expression−log<tspan font-size="11" dy="2.5">2</tspan><tspan dy="-2.5">(TPM+1)</tspan></text>
<line x1="1164" y1="1186.3" x2="1164" y2="1256.4" stroke="#000" stroke-width="0.7" stroke-dasharray="2 2.5"/>
<line x1="1164" y1="1322.2" x2="1164" y2="1420.3" stroke="#000" stroke-width="0.7" stroke-dasharray="2 2.5"/>
<line x1="1153.3" y1="1186.3" x2="1174.7" y2="1186.3" stroke="#777" stroke-width="1.3"/>
<line x1="1153.3" y1="1420.3" x2="1174.7" y2="1420.3" stroke="#777" stroke-width="1.3"/>
<rect x="1142.7" y="1256.4" width="42.6" height="65.8" fill="#f0666b" stroke="#333" stroke-width="0.9"/>
<line x1="1142.7" y1="1282.8" x2="1185.3" y2="1282.8" stroke="#000" stroke-width="2.2"/>
<line x1="1142.7" y1="1425" x2="1185.3" y2="1425" stroke="#000" stroke-width="2.4"/>
<path d="M1164.6 1260.4h0M1162.8 1297.8h0M1164.2 1281.7h0M1167.2 1336.2h0M1160.6 1257.3h0M1161.7 1239.4h0M1163.8 1312.6h0M1161.8 1212.5h0M1166.3 1315.2h0M1159.6 1272.5h0M1169.2 1377.4h0M1169.5 1394.2h0M1159.4 1200.1h0M1163.8 1226.6h0M1162.1 1237.4h0M1162.1 1381.0h0M1160.3 1273.4h0M1164.5 1265.9h0M1167.8 1279.2h0M1160.7 1270.6h0M1167.5 1335.6h0M1167.1 1291.4h0M1165.6 1348.5h0M1168.8 1302.4h0M1165.3 1267.8h0M1167.7 1327.7h0M1169.6 1298.2h0M1168.4 1307.2h0M1164.9 1281.7h0M1161.4 1246.3h0M1165.3 1273.1h0M1166.7 1266.9h0M1166.7 1366.1h0M1162.7 1303.3h0M1167.1 1250.4h0M1161.9 1332.4h0M1159.4 1307.4h0M1169.7 1338.7h0M1169.2 1230.2h0M1163.1 1308.6h0M1164.6 1324.7h0M1158.0 1258.2h0M1169.6 1239.4h0M1162.2 1263.1h0M1165.4 1244.0h0M1159.5 1274.2h0M1159.5 1289.7h0M1165.1 1307.9h0M1166.2 1311.9h0M1169.9 1317.1h0M1166.5 1268.1h0M1165.4 1288.9h0M1165.3 1279.0h0M1161.2 1258.8h0M1162.4 1285.5h0M1165.6 1362.2h0M1159.5 1328.5h0M1161.5 1347.6h0M1159.9 1393.6h0M1158.2 1278.4h0M1163.4 1352.3h0M1162.4 1357.2h0M1164.7 1345.2h0M1162.7 1248.4h0M1158.7 1300.5h0M1168.5 1243.5h0M1158.3 1287.6h0M1158.1 1307.8h0M1158.1 1260.4h0M1167.6 1259.2h0M1162.4 1278.1h0M1169.5 1342.9h0M1161.7 1309.1h0M1162.9 1351.4h0M1166.5 1297.5h0M1169.6 1278.9h0M1169.1 1224.6h0M1162.5 1227.4h0M1166.2 1256.1h0M1158.6 1245.3h0M1164.9 1273.6h0M1165.8 1222.9h0M1161.2 1267.7h0M1165.9 1266.5h0M1161.6 1241.5h0M1167.3 1275.3h0M1158.7 1270.5h0M1164.3 1340.2h0M1169.6 1245.9h0M1165.6 1277.4h0M1169.5 1251.0h0M1169.5 1295.5h0M1167.3 1386.4h0M1167.8 1263.1h0M1166.9 1237.1h0M1164.1 1357.4h0M1167.6 1339.4h0M1167.6 1300.3h0M1168.5 1297.1h0M1157.9 1382.0h0M1158.3 1214.0h0M1163.6 1243.2h0M1166.7 1318.7h0M1163.0 1388.6h0M1162.5 1268.6h0M1158.1 1205.1h0M1165.3 1250.4h0M1169.6 1237.6h0M1165.4 1337.8h0M1160.8 1273.7h0M1165.7 1370.4h0M1162.4 1205.4h0M1162.3 1260.5h0M1158.5 1405.8h0M1166.7 1390.7h0M1157.8 1264.0h0M1168.2 1277.4h0M1157.9 1301.0h0M1167.5 1258.7h0M1162.1 1204.2h0M1162.1 1268.5h0M1163.9 1388.2h0M1160.1 1292.1h0M1160.4 1359.4h0M1166.7 1329.8h0M1169.1 1270.1h0M1159.5 1292.9h0M1161.2 1345.1h0M1170.0 1284.6h0M1166.3 1330.7h0M1169.2 1262.2h0M1162.6 1297.3h0M1167.3 1267.7h0M1166.6 1298.8h0M1167.0 1253.8h0M1163.7 1291.1h0M1161.4 1284.0h0M1162.3 1316.3h0M1159.6 1277.6h0M1158.8 1386.9h0M1162.5 1323.1h0M1168.4 1279.3h0M1161.9 1311.1h0M1164.8 1311.9h0M1168.0 1267.5h0M1159.1 1313.3h0M1162.4 1308.4h0M1162.4 1364.0h0M1166.6 1337.4h0M1169.0 1351.8h0M1157.9 1212.8h0M1164.6 1361.4h0M1157.8 1346.2h0M1161.5 1275.8h0M1162.8 1227.4h0M1161.3 1382.5h0M1162.9 1374.1h0M1162.3 1278.5h0M1164.0 1270.2h0M1160.9 1366.3h0M1162.6 1388.9h0M1160.5 1339.8h0M1163.0 1254.2h0M1166.6 1286.2h0M1158.2 1254.3h0M1170.2 1290.0h0M1159.6 1285.7h0M1167.6 1259.4h0M1161.4 1290.7h0M1158.7 1274.3h0M1167.6 1337.1h0M1164.8 1318.9h0M1161.1 1265.2h0M1162.5 1297.9h0M1168.5 1327.6h0M1166.6 1257.8h0M1161.3 1262.2h0M1160.7 1284.4h0M1164.8 1328.3h0M1159.3 1248.5h0M1160.6 1332.0h0M1167.8 1374.0h0M1166.8 1329.6h0M1158.1 1338.5h0M1163.3 1357.9h0M1162.7 1353.1h0M1167.0 1250.5h0M1163.1 1250.0h0M1160.6 1225.7h0M1168.2 1254.5h0M1160.2 1312.0h0M1165.8 1241.2h0M1161.3 1319.9h0M1165.5 1304.5h0M1159.9 1352.7h0M1168.7 1235.7h0M1162.4 1244.2h0M1166.2 1311.3h0M1167.1 1302.4h0M1163.6 1282.4h0M1164.5 1275.9h0M1159.3 1250.7h0M1164.5 1281.2h0M1164.4 1268.1h0M1168.9 1371.9h0M1162.2 1302.0h0M1159.7 1389.1h0M1162.8 1214.1h0M1167.5 1229.3h0M1157.9 1255.9h0M1158.2 1240.4h0M1170.2 1205.5h0M1164.7 1247.1h0M1166.7 1377.4h0M1163.6 1296.5h0M1160.2 1332.1h0M1166.1 1357.2h0M1160.8 1285.0h0M1163.4 1268.7h0M1160.4 1338.8h0M1169.1 1301.1h0M1162.7 1273.1h0M1166.4 1293.8h0M1160.1 1295.1h0M1165.4 1310.5h0M1161.5 1253.1h0M1159.3 1274.0h0M1161.7 1371.4h0M1158.6 1300.7h0M1165.3 1273.7h0M1164.7 1341.7h0M1168.4 1257.8h0M1158.1 1331.7h0M1162.9 1304.2h0M1170.0 1291.2h0M1162.1 1197.1h0M1158.5 1303.6h0M1167.7 1318.3h0M1159.0 1256.2h0M1166.7 1312.4h0M1164.3 1276.7h0M1168.7 1416.6h0M1164.2 1272.6h0M1166.2 1286.1h0M1161.0 1360.3h0M1170.0 1231.1h0M1160.4 1298.9h0M1168.2 1296.4h0M1166.3 1361.7h0M1163.8 1379.9h0M1162.4 1318.2h0M1158.9 1373.9h0M1167.6 1265.1h0M1160.6 1250.3h0M1168.6 1322.1h0M1168.8 1379.0h0M1160.4 1308.0h0M1161.4 1347.0h0M1166.6 1277.8h0M1167.3 1277.3h0M1158.4 1310.0h0M1168.0 1281.4h0M1167.9 1243.6h0M1165.5 1217.7h0M1168.9 1315.6h0M1169.9 1256.1h0M1160.3 1299.0h0M1169.5 1346.9h0M1168.5 1234.2h0M1165.1 1269.0h0M1159.2 1278.9h0M1169.7 1270.5h0M1167.0 1294.7h0M1162.4 1346.7h0M1161.8 1214.9h0M1169.6 1249.2h0M1160.7 1274.1h0M1168.0 1246.6h0M1163.3 1234.1h0M1166.4 1296.9h0M1168.0 1261.4h0M1159.0 1304.2h0M1161.0 1259.2h0M1159.2 1300.1h0M1162.8 1189.2h0M1159.6 1306.1h0M1169.2 1264.2h0M1167.6 1266.3h0M1165.0 1304.8h0M1160.2 1247.8h0M1160.4 1290.1h0M1165.1 1309.3h0M1169.1 1285.1h0M1169.4 1329.1h0M1169.3 1237.6h0M1161.8 1260.0h0M1166.5 1246.0h0M1164.2 1364.1h0M1164.7 1273.8h0M1166.2 1330.1h0M1161.5 1281.0h0M1161.1 1234.6h0M1162.9 1274.4h0M1160.7 1295.5h0M1168.5 1240.6h0M1162.3 1244.9h0M1158.3 1212.1h0M1165.6 1393.9h0M1170.0 1271.6h0M1164.6 1309.6h0M1161.3 1336.3h0M1169.0 1279.9h0M1165.6 1353.1h0M1165.5 1415.7h0M1163.5 1337.9h0M1167.4 1300.5h0M1166.1 1211.4h0M1164.6 1327.4h0M1161.9 1353.5h0M1167.5 1400.7h0M1169.1 1305.8h0M1158.9 1299.2h0M1158.1 1278.6h0M1159.0 1369.7h0M1168.6 1329.7h0M1165.5 1417.7h0M1162.7 1277.8h0M1169.9 1376.9h0M1169.5 1239.0h0M1163.1 1264.6h0M1162.4 1270.7h0M1164.4 1270.7h0M1165.1 1345.7h0M1168.2 1242.4h0M1168.7 1346.4h0M1161.3 1209.6h0M1168.4 1275.6h0M1158.8 1392.9h0M1160.4 1250.4h0M1163.0 1207.2h0M1158.7 1300.0h0M1162.1 1242.7h0M1158.1 1297.6h0M1167.8 1321.8h0M1166.2 1236.0h0M1161.0 1311.2h0M1164.3 1269.5h0M1162.6 1351.4h0M1168.0 1338.2h0M1161.4 1240.6h0M1160.7 1307.7h0M1167.4 1308.5h0M1167.2 1358.7h0M1166.5 1276.1h0M1158.6 1253.8h0M1158.3 1312.0h0M1169.3 1296.0h0M1169.9 1356.4h0M1160.3 1229.4h0M1163.9 1321.2h0M1163.5 1294.1h0M1161.3 1218.3h0M1158.8 1298.2h0M1160.9 1375.8h0M1169.7 1339.2h0M1163.3 1305.9h0M1160.4 1214.3h0M1158.7 1275.4h0M1165.8 1298.0h0M1168.2 1251.6h0M1160.9 1233.0h0M1167.2 1329.3h0M1158.1 1227.8h0M1159.4 1250.4h0M1165.7 1266.5h0M1159.0 1276.4h0M1163.6 1229.3h0M1163.8 1300.7h0M1158.1 1193.2h0M1168.0 1281.1h0M1167.0 1344.3h0M1167.6 1260.6h0M1165.9 1272.4h0M1161.3 1251.2h0M1166.4 1297.6h0M1164.9 1232.6h0M1165.5 1317.1h0M1167.1 1278.7h0M1161.4 1357.7h0M1169.1 1331.4h0M1163.5 1275.8h0M1161.7 1323.0h0M1164.3 1310.8h0M1169.9 1296.5h0M1166.5 1273.8h0M1159.0 1253.6h0M1161.2 1253.5h0M1166.2 1243.4h0M1169.7 1275.7h0M1164.5 1316.3h0M1164.5 1377.7h0M1157.8 1304.7h0M1159.7 1331.1h0M1167.8 1391.2h0M1160.8 1218.6h0M1164.5 1392.7h0M1166.3 1269.6h0M1165.2 1261.7h0M1167.3 1298.0h0M1165.8 1282.9h0M1161.6 1329.4h0M1165.1 1214.0h0M1166.4 1331.4h0M1158.7 1368.9h0M1169.8 1343.5h0M1165.5 1322.1h0M1169.9 1281.9h0M1168.5 1270.3h0M1158.2 1374.1h0M1158.8 1269.8h0M1168.4 1195.2h0M1160.8 1326.4h0M1169.1 1291.9h0M1169.9 1256.1h0M1167.3 1235.9h0M1165.5 1323.6h0M1163.2 1341.1h0M1169.1 1343.8h0M1165.6 1240.2h0M1159.0 1248.0h0M1166.8 1412.3h0M1161.9 1410.8h0M1159.5 1357.4h0M1162.3 1373.0h0M1168.4 1267.4h0M1167.0 1275.0h0M1162.5 1205.9h0M1168.0 1252.1h0M1164.7 1278.8h0M1162.0 1236.8h0M1159.1 1337.0h0M1166.3 1366.9h0M1160.9 1282.4h0M1164.1 1246.4h0M1160.8 1380.1h0M1165.6 1248.1h0M1158.5 1249.5h0M1161.3 1313.8h0M1165.6 1276.9h0M1168.3 1300.3h0M1166.8 1280.4h0M1161.4 1251.6h0M1162.7 1331.7h0M1164.0 1242.3h0M1169.5 1249.1h0M1160.0 1247.6h0M1167.6 1400.9h0M1159.2 1394.5h0M1168.2 1256.2h0M1159.2 1318.9h0M1162.5 1325.1h0M1162.4 1329.5h0M1166.1 1363.7h0M1161.7 1301.1h0M1167.8 1327.0h0M1170.0 1323.0h0M1166.7 1264.6h0M1158.1 1354.3h0M1159.0 1239.0h0M1167.8 1416.0h0M1162.9 1364.9h0M1164.2 1260.5h0M1168.3 1247.4h0M1166.7 1284.4h0M1164.3 1254.1h0M1161.5 1290.6h0M1158.8 1388.8h0M1159.2 1270.0h0M1158.5 1238.1h0M1162.8 1316.9h0M1169.6 1385.0h0M1159.2 1319.9h0M1164.2 1270.7h0M1165.4 1271.7h0M1169.5 1239.7h0M1170.1 1261.5h0M1165.9 1263.5h0M1165.0 1403.2h0M1166.6 1194.9h0M1163.2 1281.7h0M1167.5 1186.3h0M1168.2 1420.3h0" stroke="#000" stroke-width="1.9" stroke-linecap="round" fill="none"/>
<line x1="1216.7" y1="1140.7" x2="1216.7" y2="1215" stroke="#000" stroke-width="0.7" stroke-dasharray="2 2.5"/>
<line x1="1216.7" y1="1267.5" x2="1216.7" y2="1334.2" stroke="#000" stroke-width="0.7" stroke-dasharray="2 2.5"/>
<line x1="1206.1" y1="1140.7" x2="1227.2" y2="1140.7" stroke="#777" stroke-width="1.3"/>
<line x1="1206.1" y1="1334.2" x2="1227.2" y2="1334.2" stroke="#777" stroke-width="1.3"/>
<rect x="1195.6" y="1215" width="42.2" height="52.5" fill="#7f7f7f" stroke="#333" stroke-width="0.9"/>
<line x1="1195.6" y1="1239.7" x2="1237.8" y2="1239.7" stroke="#000" stroke-width="2.2"/>
<line x1="1195.6" y1="1425" x2="1237.8" y2="1425" stroke="#000" stroke-width="2.4"/>
<path d="M1215.6 1188.9h0M1212.4 1228.1h0M1212.7 1213.0h0M1219.0 1239.8h0M1218.5 1255.3h0M1215.8 1288.4h0M1212.5 1227.5h0M1214.0 1242.6h0M1216.0 1255.8h0M1219.4 1242.9h0M1215.7 1247.5h0M1219.6 1283.1h0M1215.2 1261.8h0M1217.8 1197.3h0M1219.5 1249.4h0M1215.8 1187.8h0M1216.4 1287.9h0M1211.7 1296.3h0M1212.4 1235.0h0M1218.7 1210.9h0M1212.2 1267.1h0M1213.2 1216.5h0M1216.5 1205.0h0M1221.5 1199.9h0M1222.3 1244.3h0M1219.8 1241.8h0M1215.2 1308.7h0M1213.1 1238.8h0M1215.7 1229.3h0M1211.8 1187.3h0M1214.3 1292.8h0M1219.0 1275.0h0M1218.0 1281.5h0M1221.5 1206.4h0M1214.6 1284.9h0M1215.8 1163.3h0M1219.3 1215.4h0M1213.9 1295.1h0M1213.8 1242.2h0M1222.1 1208.3h0M1215.0 1219.3h0M1220.9 1248.9h0M1215.6 1272.7h0M1221.2 1208.9h0M1220.4 1240.0h0M1214.4 1209.7h0M1211.7 1225.0h0M1218.5 1259.2h0M1214.9 1186.3h0M1214.8 1260.5h0M1219.1 1223.7h0M1215.7 1266.1h0M1214.2 1249.3h0M1220.7 1250.1h0M1220.0 1267.2h0M1220.1 1230.9h0M1214.8 1191.2h0M1222.0 1170.9h0M1216.8 1186.6h0M1214.6 1246.9h0M1212.7 1185.8h0M1220.2 1224.2h0M1219.0 1173.2h0M1221.6 1292.1h0M1212.1 1184.9h0M1211.7 1264.6h0M1221.1 1196.9h0M1213.9 1259.1h0M1214.8 1206.0h0M1212.5 1251.4h0M1216.7 1317.9h0M1213.4 1279.9h0M1211.8 1249.7h0M1221.8 1238.8h0M1212.6 1332.8h0M1215.2 1289.5h0M1213.3 1270.1h0M1220.3 1248.5h0M1219.9 1231.5h0M1221.4 1273.8h0M1216.4 1302.7h0M1219.9 1228.5h0M1220.2 1253.5h0M1220.5 1206.9h0M1212.9 1261.5h0M1216.6 1215.9h0M1218.4 1276.7h0M1214.5 1229.8h0M1219.9 1236.4h0M1218.2 1223.1h0M1220.1 1278.5h0M1219.4 1244.7h0M1216.0 1274.9h0M1212.4 1246.4h0M1213.8 1216.7h0M1216.6 1238.4h0M1221.8 1213.3h0M1213.4 1235.5h0M1220.2 1197.9h0M1214.0 1222.6h0M1217.7 1201.1h0M1221.2 1226.6h0M1216.1 1151.2h0M1213.6 1188.9h0M1214.6 1310.3h0M1219.5 1228.6h0M1218.6 1236.8h0M1218.1 1331.1h0M1213.5 1275.3h0M1219.6 1258.7h0M1220.5 1270.1h0M1216.3 1234.8h0M1214.2 1314.0h0M1217.9 1212.1h0M1219.9 1211.1h0M1216.2 1226.6h0M1217.4 1253.2h0M1219.5 1239.4h0M1221.4 1258.8h0M1212.0 1197.4h0M1218.8 1220.9h0M1211.8 1166.2h0M1214.1 1254.7h0M1218.7 1186.1h0M1213.1 1263.4h0M1218.6 1246.6h0M1219.9 1282.7h0M1218.7 1220.2h0M1220.3 1241.9h0M1217.9 1216.7h0M1216.7 1184.7h0M1222.1 1241.8h0M1214.9 1225.5h0M1213.0 1206.4h0M1216.6 1241.9h0M1217.7 1262.1h0M1215.2 1226.3h0M1221.8 1221.0h0M1214.8 1210.8h0M1213.2 1208.9h0M1217.1 1267.1h0M1213.6 1223.1h0M1218.1 1194.2h0M1214.4 1258.6h0M1215.2 1226.1h0M1218.8 1265.0h0M1218.7 1348.0h0M1211.6 1359.0h0M1217.4 1369.0h0M1217.4 1385.0h0M1215.1 1140.7h0M1215.2 1334.2h0" stroke="#000" stroke-width="1.9" stroke-linecap="round" fill="none"/>
<rect x="1104.5" y="1115" width="171.4" height="317.1" fill="none" stroke="#555" stroke-width="1.1"/>
<line x1="1190.2" y1="1432.1" x2="1190.2" y2="1438.6" stroke="#555" stroke-width="0.9"/>
<text x="1190.2" y="1453.4" font-family="Liberation Serif" font-size="12.7" text-anchor="middle" fill="#000" stroke="#000" stroke-width="0.2" textLength="34.6" lengthAdjust="spacingAndGlyphs">PRAD</text>
<text x="1190.2" y="1468.6" font-family="Liberation Serif" font-size="12.7" text-anchor="middle" fill="#000" stroke="#000" stroke-width="0.2" textLength="153.5" lengthAdjust="spacingAndGlyphs">(num(T)=492; num(N)=152)</text>
<path d="M1164 1179.3V1126.3H1185M1195.6 1126.3H1216.7V1133.8" fill="none" stroke="#666" stroke-width="1"/>
<path d="M1190.35 1126.80L1190.35 1123.70M1190.35 1126.80L1193.30 1125.84M1190.35 1126.80L1192.17 1129.31M1190.35 1126.80L1188.53 1129.31M1190.35 1126.80L1187.40 1125.84" stroke="#e8202a" stroke-width="1.5" stroke-linecap="round" fill="none"/>
<text x="150.4" y="1502.2" font-family="Liberation Serif" font-size="14.5" text-anchor="middle" fill="#000" stroke="#000" stroke-width="0.2" textLength="43.0" lengthAdjust="spacingAndGlyphs">LMOD1</text>
<line x1="58.8" y1="1518" x2="65.3" y2="1518" stroke="#555" stroke-width="0.9"/>
<text transform="translate(55.7 1518) rotate(-90)" font-family="Liberation Sans" font-size="16.4" text-anchor="middle" fill="#000" stroke="#000" stroke-width="0.25">10</text>
<line x1="58.8" y1="1581.2" x2="65.3" y2="1581.2" stroke="#555" stroke-width="0.9"/>
<text transform="translate(55.7 1581.2) rotate(-90)" font-family="Liberation Sans" font-size="16.4" text-anchor="middle" fill="#000" stroke="#000" stroke-width="0.25">8</text>
<line x1="58.8" y1="1644.4" x2="65.3" y2="1644.4" stroke="#555" stroke-width="0.9"/>
<text transform="translate(55.7 1644.4) rotate(-90)" font-family="Liberation Sans" font-size="16.4" text-anchor="middle" fill="#000" stroke="#000" stroke-width="0.25">6</text>
<line x1="58.8" y1="1708" x2="65.3" y2="1708" stroke="#555" stroke-width="0.9"/>
<text transform="translate(55.7 1708) rotate(-90)" font-family="Liberation Sans" font-size="16.4" text-anchor="middle" fill="#000" stroke="#000" stroke-width="0.25">4</text>
<line x1="58.8" y1="1771.2" x2="65.3" y2="1771.2" stroke="#555" stroke-width="0.9"/>
<text transform="translate(55.7 1771.2) rotate(-90)" font-family="Liberation Sans" font-size="16.4" text-anchor="middle" fill="#000" stroke="#000" stroke-width="0.25">2</text>
<text transform="translate(26.1 1670.7) rotate(-90)" font-family="Liberation Serif" font-size="16.9" text-anchor="middle" textLength="168" lengthAdjust="spacingAndGlyphs">Expression−log<tspan font-size="11" dy="2.5">2</tspan><tspan dy="-2.5">(TPM+1)</tspan></text>
<line x1="125" y1="1572" x2="125" y2="1640.1" stroke="#000" stroke-width="0.7" stroke-dasharray="2 2.5"/>
<line x1="125" y1="1693.5" x2="125" y2="1773.4" stroke="#000" stroke-width="0.7" stroke-dasharray="2 2.5"/>
<line x1="114.2" y1="1572" x2="135.9" y2="1572" stroke="#777" stroke-width="1.3"/>
<line x1="114.2" y1="1773.4" x2="135.9" y2="1773.4" stroke="#777" stroke-width="1.3"/>
<rect x="103.4" y="1640.1" width="43.3" height="53.4" fill="#f0666b" stroke="#333" stroke-width="0.9"/>
<line x1="103.4" y1="1663" x2="146.7" y2="1663" stroke="#000" stroke-width="2.2"/>
<path d="M123.6 1642.2h0M130.8 1650.4h0M123.6 1694.7h0M121.1 1665.5h0M130.4 1613.8h0M120.2 1699.2h0M124.8 1654.9h0M128.5 1664.1h0M126.6 1649.5h0M129.4 1679.4h0M125.4 1631.6h0M124.4 1628.9h0M123.0 1722.8h0M126.6 1623.8h0M125.9 1695.1h0M125.2 1673.7h0M127.3 1623.6h0M125.1 1658.4h0M127.5 1642.2h0M125.0 1634.9h0M128.5 1641.3h0M121.4 1685.4h0M123.3 1704.1h0M122.6 1638.5h0M129.7 1635.8h0M126.1 1649.4h0M130.5 1669.5h0M125.8 1632.4h0M130.5 1662.3h0M128.0 1722.7h0M129.9 1651.9h0M122.6 1644.3h0M131.2 1635.2h0M122.6 1701.1h0M128.1 1694.6h0M126.5 1650.1h0M123.3 1680.9h0M120.1 1663.7h0M119.4 1629.5h0M119.0 1647.9h0M125.7 1599.4h0M125.8 1651.3h0M120.2 1603.2h0M119.3 1625.0h0M119.1 1574.8h0M126.0 1660.3h0M128.2 1664.0h0M130.0 1616.6h0M124.7 1683.2h0M128.1 1680.8h0M121.8 1652.3h0M119.5 1647.9h0M126.0 1722.9h0M122.9 1651.9h0M123.8 1673.6h0M120.3 1661.3h0M127.4 1654.4h0M129.8 1668.0h0M128.1 1624.0h0M120.5 1643.8h0M122.2 1667.7h0M121.3 1657.6h0M131.1 1625.0h0M123.7 1633.5h0M120.7 1617.2h0M128.9 1665.1h0M121.5 1655.3h0M119.8 1591.9h0M123.5 1661.1h0M119.3 1603.1h0M124.5 1631.3h0M124.3 1677.9h0M122.7 1721.5h0M125.8 1638.3h0M128.6 1690.2h0M123.1 1690.4h0M122.2 1736.3h0M126.7 1619.6h0M124.1 1656.1h0M122.1 1658.7h0M130.6 1646.3h0M121.4 1651.3h0M123.8 1656.3h0M122.5 1642.1h0M128.9 1670.7h0M127.1 1634.6h0M130.1 1645.1h0M122.2 1658.7h0M129.1 1605.9h0M127.1 1721.0h0M120.2 1609.3h0M122.0 1645.5h0M129.3 1732.1h0M124.2 1676.6h0M120.9 1638.6h0M120.5 1712.8h0M122.5 1640.7h0M126.9 1588.0h0M120.5 1612.6h0M120.8 1660.5h0M129.4 1648.6h0M122.1 1700.8h0M127.3 1655.0h0M129.2 1673.2h0M128.1 1702.9h0M126.6 1718.6h0M124.4 1594.4h0M127.6 1656.5h0M123.4 1704.2h0M128.3 1677.2h0M127.5 1609.3h0M120.3 1604.8h0M118.9 1685.9h0M127.1 1652.9h0M124.8 1629.4h0M126.4 1673.9h0M127.1 1711.1h0M124.7 1702.1h0M120.5 1659.1h0M126.0 1693.0h0M122.4 1716.5h0M125.1 1668.9h0M119.2 1628.1h0M130.7 1636.5h0M121.1 1668.6h0M131.2 1595.2h0M128.7 1693.6h0M123.6 1662.1h0M125.9 1719.7h0M121.6 1633.3h0M119.0 1664.0h0M125.0 1733.9h0M119.7 1695.6h0M121.1 1599.0h0M119.7 1635.2h0M125.7 1655.8h0M127.1 1630.5h0M130.8 1730.2h0M121.9 1695.6h0M129.2 1718.0h0M126.1 1695.7h0M119.0 1675.7h0M123.4 1641.8h0M131.0 1625.7h0M127.9 1626.7h0M127.2 1680.7h0M127.5 1660.3h0M130.7 1642.6h0M125.5 1695.8h0M120.5 1671.5h0M119.5 1646.0h0M125.9 1698.3h0M121.0 1643.9h0M130.4 1618.5h0M131.0 1708.8h0M125.9 1761.3h0M126.4 1657.0h0M120.5 1705.5h0M128.9 1654.0h0M124.1 1679.0h0M128.2 1649.6h0M124.2 1621.8h0M128.8 1632.4h0M120.4 1675.0h0M130.9 1711.4h0M127.3 1770.5h0M123.1 1756.6h0M123.9 1694.8h0M121.5 1656.9h0M125.2 1689.6h0M129.9 1686.1h0M124.8 1731.2h0M123.0 1733.7h0M124.6 1737.1h0M124.0 1639.7h0M124.1 1748.9h0M125.3 1638.1h0M127.8 1700.9h0M127.7 1643.0h0M119.2 1653.2h0M130.5 1635.9h0M123.2 1621.4h0M124.3 1696.3h0M125.3 1704.8h0M130.1 1681.1h0M119.4 1696.2h0M129.3 1639.7h0M127.3 1666.9h0M125.5 1662.0h0M123.8 1648.2h0M125.5 1683.4h0M127.5 1625.4h0M124.4 1744.9h0M130.3 1654.6h0M125.9 1645.7h0M124.5 1697.0h0M130.1 1693.7h0M119.2 1632.2h0M130.0 1676.9h0M124.9 1749.0h0M120.6 1723.4h0M127.5 1628.8h0M122.0 1702.4h0M124.8 1618.6h0M125.5 1616.6h0M130.9 1671.9h0M127.3 1644.6h0M124.5 1700.1h0M126.9 1681.1h0M127.0 1694.4h0M120.7 1643.1h0M123.6 1720.7h0M121.0 1668.9h0M120.3 1661.4h0M123.0 1645.6h0M119.3 1758.6h0M121.2 1743.6h0M121.1 1702.7h0M125.6 1673.3h0M124.1 1658.5h0M120.2 1656.7h0M131.2 1595.1h0M128.2 1641.1h0M127.3 1643.4h0M126.9 1685.3h0M127.9 1636.8h0M121.3 1640.0h0M127.9 1640.7h0M123.4 1668.5h0M121.4 1642.3h0M122.5 1611.9h0M129.1 1699.3h0M124.0 1760.6h0M129.7 1635.7h0M131.2 1638.7h0M130.5 1673.9h0M124.8 1683.5h0M125.9 1684.5h0M126.3 1718.4h0M120.0 1685.1h0M128.3 1646.5h0M128.8 1691.1h0M121.4 1681.1h0M123.1 1653.2h0M126.7 1682.9h0M130.7 1659.2h0M123.3 1665.6h0M129.8 1711.4h0M119.7 1661.1h0M125.7 1715.9h0M122.6 1632.1h0M129.6 1705.6h0M121.2 1674.5h0M120.0 1745.4h0M123.6 1683.8h0M128.2 1719.9h0M128.0 1613.3h0M123.1 1669.3h0M127.9 1646.0h0M120.7 1742.4h0M124.4 1719.5h0M129.7 1671.5h0M120.9 1724.8h0M121.9 1625.2h0M123.3 1682.0h0M121.5 1658.7h0M125.5 1653.5h0M124.1 1670.7h0M126.2 1637.7h0M119.1 1694.2h0M129.0 1651.4h0M123.8 1623.5h0M119.7 1656.6h0M126.5 1659.6h0M121.0 1678.9h0M121.5 1661.9h0M128.2 1641.1h0M119.8 1675.0h0M130.6 1739.3h0M121.9 1658.3h0M126.4 1670.8h0M120.3 1648.1h0M131.2 1662.5h0M130.7 1611.1h0M127.0 1717.8h0M122.2 1707.4h0M123.4 1642.0h0M126.1 1710.0h0M122.3 1653.0h0M126.1 1664.9h0M130.1 1751.7h0M120.7 1641.6h0M122.2 1618.1h0M130.8 1657.0h0M129.5 1726.6h0M119.3 1637.6h0M120.1 1710.6h0M126.9 1669.6h0M129.2 1650.1h0M131.0 1698.9h0M120.5 1739.6h0M124.7 1670.6h0M125.2 1666.2h0M129.4 1702.3h0M124.9 1699.0h0M119.3 1639.3h0M119.8 1668.4h0M125.1 1685.2h0M120.5 1690.8h0M125.2 1658.4h0M126.1 1660.9h0M125.1 1672.1h0M126.0 1726.0h0M119.0 1680.9h0M127.5 1692.2h0M119.3 1661.9h0M125.1 1625.7h0M120.7 1632.5h0M123.9 1642.8h0M128.9 1660.4h0M129.3 1678.8h0M129.8 1653.0h0M127.5 1685.5h0M125.5 1679.6h0M128.8 1701.6h0M119.7 1666.9h0M119.2 1667.9h0M129.8 1603.2h0M127.8 1645.9h0M124.2 1681.2h0M122.0 1638.5h0M130.9 1685.4h0M121.5 1630.7h0M122.0 1638.4h0M130.6 1712.2h0M128.3 1667.8h0M129.4 1669.6h0M130.5 1654.4h0M130.7 1640.7h0M123.7 1707.4h0M121.9 1696.4h0M125.8 1654.2h0M123.6 1632.3h0M123.0 1713.8h0M126.0 1732.6h0M129.9 1626.5h0M125.6 1636.4h0M123.1 1628.4h0M121.2 1707.1h0M129.2 1673.3h0M126.8 1656.7h0M121.5 1649.7h0M128.9 1669.8h0M119.8 1666.7h0M119.9 1630.9h0M122.5 1683.6h0M128.6 1688.5h0M125.4 1683.4h0M127.4 1686.9h0M130.1 1659.9h0M131.1 1673.7h0M129.3 1683.7h0M124.3 1617.6h0M125.6 1654.3h0M118.9 1679.2h0M119.8 1622.8h0M124.3 1688.5h0M122.9 1664.6h0M125.3 1668.6h0M118.9 1689.5h0M130.6 1681.2h0M124.8 1661.4h0M120.9 1726.9h0M126.8 1681.5h0M126.0 1656.0h0M127.6 1655.2h0M131.1 1654.5h0M124.3 1587.9h0M118.9 1642.5h0M121.3 1670.8h0M123.9 1669.8h0M122.0 1664.7h0M124.9 1650.0h0M126.7 1677.4h0M125.3 1615.2h0M119.5 1712.3h0M119.2 1643.7h0M119.2 1647.9h0M127.3 1714.0h0M123.9 1643.8h0M125.7 1646.2h0M123.8 1692.2h0M127.4 1589.2h0M131.1 1641.2h0M126.5 1678.8h0M121.4 1685.2h0M127.9 1696.7h0M121.5 1655.8h0M127.4 1662.2h0M126.0 1725.4h0M119.0 1709.4h0M121.2 1695.4h0M121.7 1682.0h0M123.5 1680.2h0M129.8 1693.4h0M127.7 1643.5h0M124.8 1633.6h0M123.9 1661.8h0M119.2 1759.1h0M121.5 1671.4h0M129.8 1646.2h0M123.5 1668.1h0M122.2 1655.5h0M130.5 1661.0h0M121.6 1728.9h0M128.8 1644.2h0M123.6 1687.1h0M123.4 1650.9h0M123.0 1677.8h0M122.2 1672.0h0M122.1 1620.1h0M122.3 1716.2h0M124.6 1665.2h0M124.3 1711.7h0M119.1 1662.0h0M123.7 1649.0h0M129.0 1643.3h0M128.2 1659.5h0M120.4 1724.0h0M121.4 1656.4h0M126.7 1635.5h0M126.6 1632.2h0M119.5 1595.3h0M122.7 1646.2h0M125.2 1708.5h0M127.3 1687.1h0M125.8 1661.6h0M126.8 1630.6h0M129.8 1713.8h0M129.7 1634.9h0M121.3 1643.3h0M129.6 1702.1h0M121.5 1644.7h0M118.9 1697.5h0M128.5 1664.9h0M130.1 1677.7h0M120.1 1656.7h0M128.2 1715.4h0M119.9 1647.4h0M130.2 1757.9h0M124.6 1682.2h0M124.9 1689.0h0M130.1 1613.5h0M122.6 1647.0h0M125.6 1685.6h0M120.1 1703.1h0M121.0 1663.3h0M125.5 1691.8h0M129.6 1592.3h0M123.5 1662.2h0M118.9 1770.2h0M121.7 1630.9h0M125.0 1699.2h0M119.6 1612.6h0M120.6 1688.1h0M121.6 1629.4h0M129.3 1657.7h0M124.1 1626.2h0M120.6 1663.7h0M125.5 1695.8h0M126.0 1731.6h0M126.5 1633.8h0M128.0 1647.0h0M125.9 1664.4h0M119.5 1649.6h0M126.2 1657.9h0M126.4 1689.2h0M125.1 1601.3h0M120.6 1656.6h0M121.4 1673.0h0M126.6 1727.7h0M128.4 1691.4h0M119.8 1664.2h0M128.3 1672.4h0M124.4 1685.2h0M126.6 1785.0h0M128.6 1796.0h0M119.9 1800.0h0M127.9 1806.0h0M128.1 1812.4h0M124.7 1572.0h0M122.0 1773.4h0" stroke="#000" stroke-width="1.9" stroke-linecap="round" fill="none"/>
<line x1="178.3" y1="1531.7" x2="178.3" y2="1589.1" stroke="#000" stroke-width="0.7" stroke-dasharray="2 2.5"/>
<line x1="178.3" y1="1635.6" x2="178.3" y2="1686" stroke="#000" stroke-width="0.7" stroke-dasharray="2 2.5"/>
<line x1="167.7" y1="1531.7" x2="189" y2="1531.7" stroke="#777" stroke-width="1.3"/>
<line x1="167.7" y1="1686" x2="189" y2="1686" stroke="#777" stroke-width="1.3"/>
<rect x="157" y="1589.1" width="42.6" height="46.5" fill="#7f7f7f" stroke="#333" stroke-width="0.9"/>
<line x1="157" y1="1613.1" x2="199.6" y2="1613.1" stroke="#000" stroke-width="2.2"/>
<path d="M174.6 1552.5h0M181.9 1631.5h0M177.7 1621.2h0M173.0 1620.9h0M176.1 1573.0h0M182.7 1626.1h0M174.8 1598.2h0M174.6 1662.5h0M183.4 1627.8h0M177.5 1604.8h0M182.9 1615.9h0M175.8 1672.4h0M173.4 1595.3h0M183.0 1643.4h0M176.3 1546.2h0M183.2 1618.6h0M180.2 1535.2h0M182.1 1589.7h0M176.3 1596.7h0M180.7 1627.8h0M181.8 1616.2h0M180.3 1596.9h0M183.1 1674.9h0M182.8 1578.4h0M179.1 1650.0h0M183.3 1620.7h0M180.7 1596.8h0M182.9 1586.8h0M174.3 1602.7h0M176.0 1601.4h0M174.4 1624.4h0M173.0 1607.2h0M180.0 1571.0h0M183.6 1626.2h0M179.7 1595.2h0M183.6 1587.5h0M181.9 1620.0h0M179.6 1604.3h0M177.2 1604.9h0M174.9 1628.4h0M183.4 1626.4h0M183.2 1553.7h0M182.8 1575.7h0M176.4 1678.0h0M181.1 1603.8h0M178.7 1577.0h0M181.9 1584.4h0M179.0 1641.6h0M172.8 1603.5h0M175.8 1651.2h0M175.7 1646.0h0M176.4 1620.2h0M176.6 1606.0h0M172.9 1557.2h0M178.4 1600.1h0M183.2 1576.0h0M179.6 1651.3h0M175.1 1649.9h0M183.6 1628.2h0M182.5 1552.1h0M182.6 1655.8h0M174.0 1663.7h0M180.6 1615.0h0M176.4 1571.5h0M181.6 1665.3h0M176.9 1620.7h0M175.5 1656.5h0M183.5 1562.5h0M182.3 1588.6h0M180.0 1603.1h0M178.1 1614.1h0M179.0 1620.2h0M180.1 1607.8h0M177.5 1633.6h0M177.3 1641.2h0M175.7 1648.6h0M179.7 1612.2h0M175.9 1638.4h0M177.4 1582.4h0M175.9 1680.7h0M182.9 1593.0h0M178.5 1594.2h0M174.4 1570.6h0M174.1 1620.8h0M181.3 1661.3h0M183.2 1642.6h0M175.2 1573.5h0M179.1 1622.6h0M178.2 1626.1h0M177.6 1631.7h0M180.5 1614.8h0M181.7 1620.1h0M181.9 1663.2h0M175.2 1632.1h0M179.5 1577.8h0M174.4 1562.6h0M174.8 1616.7h0M176.6 1629.5h0M179.1 1565.8h0M178.2 1618.5h0M173.2 1650.9h0M178.2 1616.8h0M174.6 1588.7h0M174.6 1558.8h0M182.4 1628.6h0M180.0 1594.1h0M175.5 1623.5h0M181.3 1573.2h0M183.7 1603.8h0M182.3 1603.7h0M174.4 1644.7h0M180.1 1623.1h0M177.3 1623.3h0M177.6 1583.1h0M174.8 1613.1h0M174.1 1619.5h0M183.6 1624.5h0M177.8 1611.9h0M174.5 1604.4h0M177.9 1655.2h0M177.8 1608.5h0M174.4 1608.9h0M181.0 1611.8h0M179.7 1661.0h0M180.8 1617.3h0M182.1 1654.5h0M182.5 1600.7h0M183.9 1567.2h0M180.6 1582.7h0M183.7 1623.8h0M183.8 1630.4h0M174.9 1631.2h0M177.1 1600.7h0M178.1 1634.4h0M177.9 1630.2h0M173.8 1640.4h0M177.1 1638.3h0M181.5 1630.3h0M178.4 1570.8h0M180.2 1656.9h0M180.5 1656.0h0M179.7 1592.1h0M172.8 1644.7h0M177.0 1618.2h0M181.1 1606.8h0M176.8 1612.3h0M183.6 1638.1h0M183.4 1708.0h0M178.4 1716.6h0M183.7 1759.9h0M175.0 1531.7h0M178.1 1686.0h0" stroke="#000" stroke-width="1.9" stroke-linecap="round" fill="none"/>
<rect x="65.3" y="1505.1" width="172.4" height="319.3" fill="none" stroke="#555" stroke-width="1.1"/>
<line x1="151.5" y1="1824.4" x2="151.5" y2="1830.9" stroke="#555" stroke-width="0.9"/>
<text x="151.5" y="1844" font-family="Liberation Serif" font-size="12.7" text-anchor="middle" fill="#000" stroke="#000" stroke-width="0.2" textLength="34.6" lengthAdjust="spacingAndGlyphs">PRAD</text>
<text x="151.5" y="1859.2" font-family="Liberation Serif" font-size="12.7" text-anchor="middle" fill="#000" stroke="#000" stroke-width="0.2" textLength="153.5" lengthAdjust="spacingAndGlyphs">(num(T)=492; num(N)=152)</text>
<path d="M125 1564.5V1516.7H146.4M157 1516.7H178.3V1524.4" fill="none" stroke="#666" stroke-width="1"/>
<path d="M151.68 1517.20L151.68 1514.10M151.68 1517.20L154.62 1516.24M151.68 1517.20L153.50 1519.71M151.68 1517.20L149.85 1519.71M151.68 1517.20L148.73 1516.24" stroke="#e8202a" stroke-width="1.5" stroke-linecap="round" fill="none"/>
<text x="414.2" y="1502.2" font-family="Liberation Serif" font-size="14.5" text-anchor="middle" fill="#000" stroke="#000" stroke-width="0.2" textLength="34.4" lengthAdjust="spacingAndGlyphs">SMTN</text>
<line x1="320.3" y1="1506" x2="326.8" y2="1506" stroke="#555" stroke-width="0.9"/>
<text transform="translate(317.2 1506) rotate(-90)" font-family="Liberation Sans" font-size="16.4" text-anchor="middle" fill="#000" stroke="#000" stroke-width="0.25">12</text>
<line x1="320.3" y1="1578" x2="326.8" y2="1578" stroke="#555" stroke-width="0.9"/>
<text transform="translate(317.2 1578) rotate(-90)" font-family="Liberation Sans" font-size="16.4" text-anchor="middle" fill="#000" stroke="#000" stroke-width="0.25">10</text>
<line x1="320.3" y1="1650.2" x2="326.8" y2="1650.2" stroke="#555" stroke-width="0.9"/>
<text transform="translate(317.2 1650.2) rotate(-90)" font-family="Liberation Sans" font-size="16.4" text-anchor="middle" fill="#000" stroke="#000" stroke-width="0.25">8</text>
<line x1="320.3" y1="1722.4" x2="326.8" y2="1722.4" stroke="#555" stroke-width="0.9"/>
<text transform="translate(317.2 1722.4) rotate(-90)" font-family="Liberation Sans" font-size="16.4" text-anchor="middle" fill="#000" stroke="#000" stroke-width="0.25">6</text>
<line x1="320.3" y1="1794.8" x2="326.8" y2="1794.8" stroke="#555" stroke-width="0.9"/>
<text transform="translate(317.2 1794.8) rotate(-90)" font-family="Liberation Sans" font-size="16.4" text-anchor="middle" fill="#000" stroke="#000" stroke-width="0.25">4</text>
<text transform="translate(284.9 1662) rotate(-90)" font-family="Liberation Serif" font-size="16.9" text-anchor="middle" textLength="168" lengthAdjust="spacingAndGlyphs">Expression−log<tspan font-size="11" dy="2.5">2</tspan><tspan dy="-2.5">(TPM+1)</tspan></text>
<line x1="387" y1="1605.2" x2="387" y2="1686.6" stroke="#000" stroke-width="0.7" stroke-dasharray="2 2.5"/>
<line x1="387" y1="1743" x2="387" y2="1814.1" stroke="#000" stroke-width="0.7" stroke-dasharray="2 2.5"/>
<line x1="376.3" y1="1605.2" x2="397.7" y2="1605.2" stroke="#777" stroke-width="1.3"/>
<line x1="376.3" y1="1814.1" x2="397.7" y2="1814.1" stroke="#777" stroke-width="1.3"/>
<rect x="365.6" y="1686.6" width="42.8" height="56.4" fill="#f0666b" stroke="#333" stroke-width="0.9"/>
<line x1="365.6" y1="1711.7" x2="408.4" y2="1711.7" stroke="#000" stroke-width="2.2"/>
<path d="M387.4 1747.0h0M383.1 1688.7h0M388.6 1721.5h0M388.9 1675.6h0M384.8 1704.2h0M383.1 1678.7h0M385.1 1744.4h0M390.5 1704.9h0M384.7 1734.0h0M390.7 1722.6h0M385.3 1731.3h0M390.8 1757.5h0M388.4 1670.2h0M392.5 1700.1h0M383.6 1671.1h0M390.4 1755.9h0M386.4 1799.4h0M383.4 1740.0h0M382.9 1717.5h0M383.9 1682.0h0M389.2 1672.3h0M391.3 1666.3h0M384.6 1654.7h0M385.0 1684.2h0M382.3 1706.7h0M387.4 1745.3h0M382.2 1685.7h0M384.7 1733.3h0M392.0 1747.1h0M387.2 1689.4h0M384.6 1702.8h0M390.1 1679.5h0M380.8 1743.1h0M390.0 1668.0h0M390.8 1697.6h0M386.8 1718.2h0M383.4 1745.0h0M383.6 1759.6h0M392.0 1772.7h0M389.7 1659.6h0M392.9 1775.1h0M383.2 1687.7h0M386.0 1721.8h0M390.5 1736.7h0M388.1 1732.1h0M386.8 1714.9h0M382.4 1677.7h0M392.5 1690.2h0M383.4 1710.8h0M389.7 1773.0h0M388.3 1791.6h0M390.5 1642.6h0M390.4 1756.4h0M386.5 1782.0h0M387.5 1669.7h0M381.8 1778.8h0M390.1 1683.7h0M384.3 1676.7h0M382.3 1701.7h0M381.3 1675.6h0M384.4 1773.9h0M382.4 1766.3h0M382.9 1719.4h0M385.8 1710.9h0M385.1 1714.4h0M384.1 1693.8h0M383.0 1744.2h0M388.4 1807.7h0M387.5 1696.0h0M385.6 1721.0h0M383.2 1681.1h0M390.5 1634.9h0M382.1 1707.9h0M385.5 1689.6h0M383.4 1751.4h0M389.8 1677.7h0M387.4 1698.4h0M392.1 1701.8h0M389.1 1677.4h0M388.8 1762.2h0M381.8 1690.3h0M380.9 1694.2h0M388.7 1652.8h0M390.5 1793.0h0M391.5 1714.8h0M393.1 1630.8h0M391.7 1729.3h0M387.7 1730.6h0M389.3 1645.7h0M385.2 1619.3h0M392.9 1706.7h0M392.9 1743.2h0M389.6 1737.7h0M383.7 1728.8h0M387.8 1749.2h0M389.3 1747.6h0M390.9 1704.6h0M388.8 1709.5h0M390.7 1693.5h0M390.4 1710.0h0M388.9 1765.9h0M382.2 1684.0h0M389.9 1702.0h0M386.6 1737.3h0M390.7 1723.1h0M382.1 1699.2h0M386.9 1708.1h0M384.7 1716.7h0M386.8 1683.0h0M393.0 1672.1h0M390.3 1725.1h0M391.7 1711.7h0M391.2 1761.3h0M381.6 1718.5h0M389.7 1693.6h0M390.0 1679.4h0M390.2 1704.9h0M383.9 1714.8h0M385.4 1743.4h0M388.8 1703.1h0M384.2 1760.5h0M387.1 1706.3h0M385.9 1710.3h0M381.7 1752.1h0M381.7 1699.0h0M383.3 1720.6h0M386.4 1689.1h0M392.1 1732.9h0M390.3 1693.4h0M384.6 1654.0h0M390.5 1704.5h0M390.8 1682.2h0M392.3 1740.0h0M389.5 1726.9h0M388.5 1796.7h0M389.1 1717.8h0M381.7 1762.3h0M388.2 1706.9h0M381.3 1804.7h0M388.7 1750.1h0M389.1 1708.1h0M385.5 1696.8h0M383.0 1786.2h0M387.2 1729.8h0M382.7 1617.6h0M385.5 1682.3h0M389.6 1705.2h0M381.2 1752.8h0M392.4 1692.2h0M391.8 1702.5h0M385.3 1694.5h0M391.0 1676.2h0M390.9 1707.6h0M389.6 1680.1h0M386.0 1792.5h0M385.3 1620.0h0M383.3 1724.6h0M390.8 1740.4h0M389.1 1656.5h0M392.8 1689.1h0M388.5 1675.7h0M380.9 1739.2h0M383.3 1700.9h0M381.4 1685.3h0M384.4 1762.8h0M387.9 1721.0h0M387.6 1722.2h0M388.3 1724.3h0M385.4 1742.9h0M392.1 1768.3h0M386.2 1695.6h0M383.7 1702.4h0M385.9 1669.2h0M385.6 1714.3h0M383.0 1741.6h0M387.9 1777.0h0M387.3 1708.2h0M381.0 1725.3h0M384.5 1638.0h0M382.3 1627.8h0M385.0 1653.8h0M382.9 1752.3h0M381.6 1774.6h0M385.4 1721.9h0M381.3 1751.8h0M381.6 1659.6h0M389.8 1707.1h0M383.6 1729.7h0M390.3 1711.9h0M386.0 1665.6h0M387.9 1754.1h0M391.2 1693.6h0M382.1 1771.3h0M381.1 1720.7h0M385.2 1741.3h0M392.6 1699.9h0M385.3 1705.7h0M385.9 1667.7h0M388.3 1686.4h0M380.8 1738.7h0M388.1 1771.4h0M388.9 1748.3h0M392.1 1730.7h0M388.8 1721.7h0M389.1 1745.8h0M382.0 1672.0h0M386.3 1677.4h0M383.4 1723.7h0M384.6 1733.9h0M381.7 1722.1h0M385.6 1713.4h0M382.7 1712.4h0M384.6 1784.8h0M381.2 1730.9h0M392.9 1796.5h0M385.9 1710.2h0M384.9 1686.9h0M389.3 1759.6h0M390.1 1705.4h0M389.2 1739.2h0M384.7 1743.0h0M387.6 1640.0h0M386.1 1679.0h0M390.2 1693.9h0M385.7 1731.2h0M392.2 1696.5h0M385.9 1720.2h0M383.5 1694.9h0M391.6 1752.3h0M381.6 1714.7h0M393.1 1729.4h0M393.1 1775.7h0M386.9 1649.9h0M384.7 1681.8h0M382.2 1747.4h0M386.4 1778.2h0M389.7 1744.5h0M383.4 1749.5h0M389.3 1739.1h0M384.6 1780.2h0M387.5 1749.2h0M390.6 1709.2h0M386.8 1696.5h0M389.0 1801.5h0M385.1 1711.6h0M388.0 1756.4h0M390.9 1758.9h0M391.7 1726.1h0M392.6 1742.8h0M384.4 1686.1h0M382.1 1686.0h0M381.1 1725.4h0M382.7 1740.9h0M389.7 1646.2h0M383.1 1643.4h0M390.3 1697.5h0M381.5 1718.6h0M390.5 1674.8h0M385.8 1658.6h0M382.8 1735.5h0M388.2 1645.6h0M390.2 1718.8h0M381.5 1671.6h0M385.9 1735.1h0M382.0 1709.1h0M392.6 1732.3h0M386.1 1710.6h0M386.6 1674.3h0M388.2 1752.5h0M391.0 1725.2h0M392.4 1691.7h0M385.8 1732.9h0M386.0 1637.0h0M391.2 1778.5h0M389.9 1618.6h0M389.2 1741.7h0M390.8 1675.9h0M392.3 1652.3h0M381.4 1692.0h0M387.9 1776.1h0M384.1 1726.9h0M392.2 1709.1h0M381.1 1690.8h0M385.8 1675.5h0M386.6 1670.3h0M381.8 1657.4h0M384.9 1755.2h0M385.5 1675.1h0M382.1 1791.6h0M390.3 1706.2h0M385.2 1760.7h0M386.5 1793.3h0M390.8 1677.8h0M392.1 1713.0h0M384.0 1675.2h0M390.1 1784.3h0M384.5 1767.6h0M392.6 1716.2h0M392.2 1742.2h0M386.9 1709.0h0M381.9 1740.3h0M391.4 1727.2h0M389.3 1764.2h0M390.6 1664.3h0M387.2 1726.3h0M392.7 1766.0h0M385.2 1686.6h0M390.3 1693.8h0M382.0 1703.6h0M392.2 1703.4h0M385.0 1729.8h0M382.5 1717.7h0M386.0 1813.5h0M382.4 1783.3h0M387.9 1768.3h0M388.7 1701.1h0M383.8 1666.5h0M381.9 1719.2h0M391.3 1723.9h0M389.2 1670.0h0M388.5 1728.4h0M392.7 1687.4h0M382.1 1695.7h0M387.3 1772.8h0M381.4 1700.0h0M391.6 1704.1h0M391.3 1764.6h0M385.7 1759.3h0M388.1 1770.3h0M390.0 1660.9h0M388.8 1633.6h0M389.4 1685.5h0M384.1 1653.6h0M389.8 1773.8h0M390.0 1659.6h0M386.8 1638.7h0M387.5 1651.9h0M385.8 1755.0h0M388.4 1671.5h0M392.1 1716.9h0M381.2 1671.8h0M390.3 1741.2h0M389.8 1711.1h0M386.2 1737.9h0M383.4 1694.0h0M388.6 1716.3h0M390.3 1670.4h0M382.7 1681.1h0M387.8 1696.2h0M390.0 1713.3h0M384.1 1725.5h0M391.0 1711.4h0M387.6 1683.8h0M381.7 1706.8h0M391.1 1700.8h0M381.2 1713.3h0M391.0 1715.1h0M387.6 1742.3h0M380.9 1798.3h0M382.7 1690.4h0M382.4 1690.8h0M388.8 1756.4h0M390.3 1640.7h0M385.3 1765.5h0M388.8 1674.6h0M387.8 1702.2h0M391.4 1699.9h0M383.8 1669.4h0M382.4 1677.4h0M385.9 1710.7h0M391.2 1760.5h0M384.0 1768.0h0M390.9 1704.5h0M381.9 1653.0h0M391.4 1679.0h0M386.3 1713.0h0M391.1 1699.3h0M386.6 1686.1h0M387.3 1647.8h0M389.4 1746.7h0M382.9 1684.7h0M381.1 1701.2h0M385.6 1746.7h0M382.5 1758.6h0M383.6 1664.5h0M382.9 1699.3h0M382.3 1721.2h0M391.3 1707.8h0M388.5 1675.1h0M385.2 1708.0h0M391.8 1651.9h0M380.9 1723.5h0M392.1 1747.8h0M390.7 1716.7h0M386.6 1754.9h0M392.4 1727.6h0M385.1 1666.0h0M382.5 1648.2h0M382.1 1688.1h0M389.9 1704.2h0M384.5 1753.6h0M384.1 1757.9h0M390.8 1697.8h0M391.6 1705.3h0M385.6 1738.3h0M385.1 1732.1h0M387.2 1653.6h0M385.8 1674.7h0M391.7 1709.5h0M387.4 1703.0h0M384.1 1664.1h0M380.9 1698.1h0M392.5 1702.6h0M385.0 1784.3h0M392.5 1789.6h0M391.8 1799.9h0M386.1 1712.1h0M383.6 1699.2h0M389.8 1751.8h0M382.0 1695.1h0M381.6 1695.1h0M381.2 1715.1h0M387.8 1779.7h0M390.5 1657.9h0M388.8 1660.4h0M392.3 1738.2h0M381.8 1639.4h0M389.9 1709.8h0M389.5 1747.8h0M389.7 1730.4h0M387.2 1797.4h0M382.5 1727.7h0M385.1 1785.6h0M383.8 1669.4h0M392.7 1699.6h0M390.4 1775.8h0M392.1 1690.2h0M387.9 1791.1h0M381.5 1705.7h0M390.1 1693.7h0M385.3 1709.0h0M388.9 1763.6h0M386.2 1716.6h0M387.8 1720.0h0M382.8 1709.3h0M391.9 1656.3h0M384.7 1648.6h0M391.5 1652.8h0M392.1 1740.9h0M387.9 1746.2h0M382.8 1710.7h0M385.8 1695.4h0M387.1 1807.0h0M384.4 1740.0h0M381.7 1644.9h0M392.6 1769.1h0M388.3 1745.8h0M387.1 1744.3h0M382.0 1693.4h0M387.3 1714.6h0M390.8 1726.6h0M383.0 1782.0h0M392.2 1688.9h0M383.3 1711.5h0M382.4 1742.5h0M390.3 1710.7h0M383.1 1682.3h0M391.8 1780.1h0M384.1 1783.6h0M381.9 1759.0h0M388.5 1752.2h0M381.0 1739.6h0M382.2 1670.2h0M388.1 1727.0h0M390.0 1673.8h0M387.1 1716.9h0M391.1 1660.0h0M382.9 1653.1h0M390.7 1734.9h0M386.4 1750.0h0M391.4 1697.4h0M382.5 1768.2h0M387.5 1728.6h0M382.0 1789.3h0M382.9 1708.6h0M385.2 1711.5h0M387.7 1651.0h0M387.8 1698.4h0M383.8 1742.3h0M384.6 1565.6h0M392.8 1605.2h0M381.1 1814.1h0" stroke="#000" stroke-width="1.9" stroke-linecap="round" fill="none"/>
<line x1="440.5" y1="1546.9" x2="440.5" y2="1617.6" stroke="#000" stroke-width="0.7" stroke-dasharray="2 2.5"/>
<line x1="440.5" y1="1665.8" x2="440.5" y2="1734.2" stroke="#000" stroke-width="0.7" stroke-dasharray="2 2.5"/>
<line x1="429.8" y1="1546.9" x2="451.1" y2="1546.9" stroke="#777" stroke-width="1.3"/>
<line x1="429.8" y1="1734.2" x2="451.1" y2="1734.2" stroke="#777" stroke-width="1.3"/>
<rect x="419.1" y="1617.6" width="42.7" height="48.2" fill="#7f7f7f" stroke="#333" stroke-width="0.9"/>
<line x1="419.1" y1="1643.3" x2="461.8" y2="1643.3" stroke="#000" stroke-width="2.2"/>
<path d="M439.2 1637.2h0M445.0 1550.3h0M436.1 1622.8h0M437.8 1684.0h0M442.6 1649.9h0M439.6 1645.1h0M444.6 1582.6h0M436.2 1672.8h0M435.0 1627.2h0M443.8 1606.3h0M436.6 1669.9h0M438.0 1639.8h0M437.1 1709.5h0M439.7 1639.4h0M445.0 1715.8h0M440.3 1655.9h0M443.0 1578.3h0M436.6 1627.7h0M440.8 1641.2h0M437.3 1637.4h0M437.3 1561.9h0M438.3 1622.3h0M439.2 1603.9h0M442.9 1657.5h0M436.0 1657.4h0M437.8 1677.6h0M445.7 1648.9h0M438.9 1666.1h0M435.1 1605.9h0M444.6 1618.9h0M434.9 1647.0h0M439.1 1661.0h0M442.8 1662.6h0M445.4 1631.6h0M444.8 1618.2h0M445.3 1722.3h0M441.5 1637.1h0M445.7 1677.2h0M437.5 1650.3h0M438.4 1658.7h0M442.2 1621.0h0M441.9 1704.4h0M444.0 1661.9h0M436.2 1607.6h0M439.0 1635.3h0M441.9 1670.5h0M435.8 1626.0h0M440.5 1632.4h0M444.7 1672.4h0M435.1 1617.1h0M444.2 1617.7h0M442.9 1647.5h0M439.7 1607.6h0M437.3 1681.7h0M443.6 1614.3h0M438.8 1649.5h0M441.9 1674.0h0M436.3 1662.8h0M443.4 1599.1h0M445.1 1661.4h0M445.2 1654.6h0M445.8 1664.7h0M435.6 1669.2h0M443.9 1606.9h0M437.6 1559.7h0M436.1 1592.7h0M443.7 1624.0h0M444.9 1614.6h0M435.6 1654.5h0M437.2 1659.5h0M440.2 1681.8h0M444.6 1588.9h0M440.0 1654.3h0M435.4 1666.7h0M443.0 1664.1h0M445.5 1635.9h0M436.6 1661.2h0M444.1 1642.4h0M445.6 1636.8h0M439.5 1592.7h0M444.2 1684.0h0M442.0 1631.9h0M445.8 1666.0h0M442.4 1657.2h0M438.1 1582.1h0M442.8 1619.5h0M438.6 1655.8h0M438.8 1624.5h0M434.9 1643.7h0M435.8 1601.2h0M436.9 1659.1h0M442.3 1624.6h0M440.7 1649.9h0M439.3 1642.6h0M441.7 1648.1h0M438.4 1663.5h0M438.5 1639.0h0M441.7 1606.1h0M443.2 1663.0h0M443.1 1655.8h0M441.0 1629.1h0M445.8 1667.8h0M445.9 1610.2h0M445.3 1616.4h0M438.2 1718.6h0M443.2 1664.6h0M436.1 1678.6h0M446.0 1611.8h0M441.2 1607.7h0M435.6 1682.4h0M436.3 1665.6h0M442.1 1645.6h0M442.5 1655.2h0M439.0 1615.9h0M439.8 1606.1h0M443.9 1620.7h0M443.6 1601.9h0M443.3 1607.7h0M439.1 1645.3h0M438.8 1657.3h0M442.2 1667.3h0M435.9 1612.1h0M442.4 1609.4h0M442.6 1604.7h0M443.4 1653.7h0M437.6 1655.8h0M438.7 1632.9h0M437.6 1595.8h0M439.8 1629.5h0M442.0 1634.4h0M439.9 1670.1h0M444.7 1626.2h0M441.4 1622.6h0M443.8 1674.1h0M445.6 1576.9h0M443.8 1673.1h0M437.3 1607.9h0M438.7 1649.6h0M435.4 1636.8h0M439.4 1668.7h0M439.8 1661.4h0M438.5 1616.5h0M439.1 1649.3h0M437.1 1654.1h0M444.1 1609.5h0M439.3 1616.0h0M435.1 1537.3h0M439.8 1539.0h0M439.0 1740.0h0M436.9 1789.4h0M442.7 1546.9h0M439.5 1734.2h0" stroke="#000" stroke-width="1.9" stroke-linecap="round" fill="none"/>
<rect x="326.8" y="1505.6" width="173.5" height="319.8" fill="none" stroke="#555" stroke-width="1.1"/>
<line x1="413.6" y1="1825.4" x2="413.6" y2="1831.9" stroke="#555" stroke-width="0.9"/>
<text x="413.6" y="1845.1" font-family="Liberation Serif" font-size="12.7" text-anchor="middle" fill="#000" stroke="#000" stroke-width="0.2" textLength="34.6" lengthAdjust="spacingAndGlyphs">PRAD</text>
<text x="413.6" y="1860.3" font-family="Liberation Serif" font-size="12.7" text-anchor="middle" fill="#000" stroke="#000" stroke-width="0.2" textLength="153.5" lengthAdjust="spacingAndGlyphs">(num(T)=492; num(N)=152)</text>
<path d="M387 1555.3V1517.3H408.4M419 1517.3H440.5V1527.4" fill="none" stroke="#666" stroke-width="1"/>
<path d="M413.73 1517.80L413.73 1514.70M413.73 1517.80L416.67 1516.84M413.73 1517.80L415.55 1520.31M413.73 1517.80L411.90 1520.31M413.73 1517.80L410.78 1516.84" stroke="#e8202a" stroke-width="1.5" stroke-linecap="round" fill="none"/>
<text x="672.1" y="1502.2" font-family="Liberation Serif" font-size="14.5" text-anchor="middle" fill="#000" stroke="#000" stroke-width="0.2" textLength="43.0" lengthAdjust="spacingAndGlyphs">CALD1</text>
<line x1="579" y1="1568.1" x2="585.5" y2="1568.1" stroke="#555" stroke-width="0.9"/>
<text transform="translate(575.9 1568.1) rotate(-90)" font-family="Liberation Sans" font-size="16.4" text-anchor="middle" fill="#000" stroke="#000" stroke-width="0.25">10</text>
<line x1="579" y1="1643.3" x2="585.5" y2="1643.3" stroke="#555" stroke-width="0.9"/>
<text transform="translate(575.9 1643.3) rotate(-90)" font-family="Liberation Sans" font-size="16.4" text-anchor="middle" fill="#000" stroke="#000" stroke-width="0.25">8</text>
<line x1="579" y1="1718.3" x2="585.5" y2="1718.3" stroke="#555" stroke-width="0.9"/>
<text transform="translate(575.9 1718.3) rotate(-90)" font-family="Liberation Sans" font-size="16.4" text-anchor="middle" fill="#000" stroke="#000" stroke-width="0.25">6</text>
<line x1="579" y1="1793.3" x2="585.5" y2="1793.3" stroke="#555" stroke-width="0.9"/>
<text transform="translate(575.9 1793.3) rotate(-90)" font-family="Liberation Sans" font-size="16.4" text-anchor="middle" fill="#000" stroke="#000" stroke-width="0.25">4</text>
<text transform="translate(545.6 1674.2) rotate(-90)" font-family="Liberation Serif" font-size="16.9" text-anchor="middle" textLength="168" lengthAdjust="spacingAndGlyphs">Expression−log<tspan font-size="11" dy="2.5">2</tspan><tspan dy="-2.5">(TPM+1)</tspan></text>
<line x1="646" y1="1594.5" x2="646" y2="1650.6" stroke="#000" stroke-width="0.7" stroke-dasharray="2 2.5"/>
<line x1="646" y1="1699" x2="646" y2="1770.2" stroke="#000" stroke-width="0.7" stroke-dasharray="2 2.5"/>
<line x1="635.2" y1="1594.5" x2="656.7" y2="1594.5" stroke="#777" stroke-width="1.3"/>
<line x1="635.2" y1="1770.2" x2="656.7" y2="1770.2" stroke="#777" stroke-width="1.3"/>
<rect x="624.5" y="1650.6" width="42.9" height="48.4" fill="#f0666b" stroke="#333" stroke-width="0.9"/>
<line x1="624.5" y1="1670.5" x2="667.4" y2="1670.5" stroke="#000" stroke-width="2.2"/>
<path d="M649.4 1686.3h0M646.4 1768.6h0M641.2 1643.9h0M651.0 1716.7h0M650.9 1649.3h0M641.3 1695.4h0M643.8 1676.5h0M646.8 1678.4h0M641.1 1746.4h0M644.8 1736.5h0M640.6 1667.3h0M646.3 1704.8h0M645.7 1680.5h0M651.3 1629.9h0M649.7 1749.2h0M643.1 1676.5h0M648.2 1656.0h0M651.6 1666.9h0M641.3 1658.8h0M646.3 1702.2h0M641.5 1739.8h0M642.9 1725.9h0M645.9 1687.8h0M639.9 1648.6h0M645.7 1668.1h0M643.4 1623.2h0M640.5 1667.5h0M646.3 1664.8h0M642.2 1664.6h0M642.2 1743.7h0M651.4 1653.5h0M645.2 1717.4h0M646.5 1686.5h0M641.0 1601.4h0M651.6 1722.7h0M647.0 1667.0h0M643.4 1661.9h0M648.0 1666.7h0M647.7 1670.4h0M645.8 1694.1h0M645.0 1611.7h0M640.9 1755.3h0M649.2 1713.9h0M640.2 1626.7h0M640.5 1654.3h0M647.5 1702.8h0M650.6 1708.5h0M650.9 1681.0h0M642.5 1655.9h0M649.9 1714.1h0M642.0 1663.5h0M642.1 1697.0h0M645.5 1626.3h0M646.9 1661.8h0M646.3 1633.3h0M651.1 1665.7h0M645.9 1610.3h0M644.2 1658.3h0M645.5 1662.2h0M642.0 1713.6h0M648.7 1688.3h0M641.9 1659.0h0M645.7 1691.5h0M640.9 1597.1h0M648.7 1671.0h0M644.3 1702.7h0M649.5 1641.4h0M641.8 1692.9h0M645.8 1658.5h0M650.6 1674.4h0M648.8 1700.9h0M642.3 1629.5h0M641.0 1667.8h0M647.2 1638.4h0M651.9 1684.8h0M644.8 1730.8h0M648.5 1723.0h0M648.2 1692.4h0M651.9 1678.3h0M644.8 1668.9h0M640.9 1655.4h0M641.0 1723.0h0M651.0 1663.7h0M642.4 1722.0h0M647.0 1699.4h0M647.7 1594.8h0M650.9 1632.9h0M645.0 1685.8h0M642.9 1617.6h0M651.0 1628.6h0M647.4 1644.3h0M652.1 1627.2h0M649.4 1681.0h0M648.0 1675.8h0M645.6 1706.8h0M639.8 1653.3h0M649.9 1723.5h0M644.2 1691.8h0M640.5 1657.0h0M648.9 1691.8h0M652.0 1660.3h0M648.9 1616.7h0M641.9 1712.1h0M644.0 1629.1h0M644.0 1699.4h0M643.5 1710.0h0M648.2 1663.8h0M648.7 1640.2h0M643.2 1700.7h0M644.6 1701.3h0M643.7 1689.1h0M642.9 1700.9h0M647.9 1664.9h0M649.7 1700.6h0M648.6 1681.3h0M651.7 1660.1h0M651.4 1688.1h0M651.7 1636.5h0M649.5 1699.1h0M644.3 1703.1h0M649.0 1610.4h0M651.7 1626.1h0M643.2 1668.4h0M644.1 1646.0h0M640.0 1660.5h0M651.0 1692.1h0M649.6 1650.6h0M641.3 1661.5h0M645.3 1632.7h0M643.4 1748.4h0M644.1 1646.7h0M645.2 1665.6h0M651.4 1699.5h0M643.6 1688.6h0M646.9 1687.6h0M649.0 1726.4h0M648.5 1694.7h0M640.2 1647.4h0M644.0 1734.6h0M650.0 1686.4h0M641.9 1694.8h0M645.3 1659.0h0M649.5 1672.6h0M642.3 1669.2h0M645.8 1717.7h0M651.6 1653.7h0M641.0 1708.7h0M643.3 1643.7h0M640.1 1664.2h0M640.5 1686.7h0M649.7 1626.7h0M646.3 1687.2h0M647.4 1640.3h0M643.0 1667.4h0M648.5 1670.5h0M641.5 1641.0h0M642.2 1657.6h0M640.5 1670.8h0M651.5 1675.5h0M643.8 1664.2h0M643.3 1668.0h0M645.0 1684.3h0M642.6 1714.3h0M651.0 1675.2h0M643.2 1680.7h0M640.3 1634.7h0M650.2 1657.2h0M648.8 1636.8h0M642.0 1619.2h0M644.4 1675.0h0M641.7 1706.0h0M650.9 1646.4h0M651.1 1695.6h0M640.4 1681.2h0M642.4 1628.0h0M644.8 1654.2h0M647.4 1638.1h0M650.0 1727.4h0M650.9 1669.4h0M651.3 1637.4h0M646.9 1724.6h0M649.0 1664.6h0M650.8 1658.5h0M648.9 1767.8h0M645.5 1623.3h0M650.0 1700.5h0M647.5 1676.2h0M643.3 1620.9h0M640.1 1746.0h0M649.2 1656.7h0M640.0 1689.3h0M649.5 1669.1h0M649.4 1705.0h0M642.1 1630.2h0M650.4 1717.7h0M646.7 1659.7h0M651.6 1654.4h0M651.3 1674.3h0M640.0 1681.9h0M642.7 1681.6h0M649.8 1640.2h0M646.3 1657.1h0M641.6 1673.8h0M646.1 1716.5h0M644.1 1665.7h0M644.5 1654.7h0M641.1 1671.7h0M647.3 1628.0h0M650.0 1751.1h0M644.5 1596.8h0M643.7 1678.1h0M651.0 1718.5h0M647.6 1744.1h0M651.8 1644.8h0M650.2 1653.5h0M642.4 1679.5h0M648.4 1672.4h0M641.7 1665.4h0M641.8 1688.2h0M647.7 1636.3h0M640.1 1651.9h0M642.6 1675.4h0M651.8 1739.6h0M643.4 1629.9h0M648.6 1690.5h0M648.5 1714.1h0M646.5 1632.3h0M650.2 1655.6h0M642.3 1755.4h0M641.5 1740.6h0M649.6 1687.1h0M644.0 1723.4h0M642.2 1676.8h0M646.2 1672.0h0M648.3 1646.7h0M646.3 1644.0h0M649.8 1675.3h0M644.1 1732.6h0M649.7 1638.6h0M651.1 1677.7h0M647.0 1656.9h0M648.1 1649.4h0M646.8 1704.3h0M643.5 1620.5h0M642.8 1668.0h0M648.7 1663.6h0M641.6 1688.4h0M644.8 1649.3h0M644.4 1640.3h0M650.8 1693.7h0M646.4 1653.0h0M643.1 1688.5h0M645.2 1722.2h0M640.5 1684.1h0M643.2 1652.2h0M648.2 1653.9h0M642.8 1638.3h0M643.5 1698.6h0M651.1 1682.9h0M643.1 1668.1h0M646.9 1651.9h0M652.0 1675.0h0M640.9 1710.3h0M644.8 1735.6h0M649.7 1635.3h0M649.3 1638.6h0M647.5 1698.2h0M648.6 1626.4h0M641.5 1672.7h0M640.5 1656.7h0M641.3 1632.8h0M650.9 1690.3h0M642.0 1702.8h0M648.3 1743.5h0M640.7 1661.1h0M650.8 1656.8h0M649.3 1644.6h0M650.2 1652.2h0M651.9 1667.0h0M647.8 1636.1h0M650.7 1713.4h0M652.1 1658.5h0M640.9 1654.9h0M640.3 1675.0h0M649.0 1618.9h0M647.0 1657.1h0M642.8 1630.2h0M648.1 1643.5h0M647.9 1677.4h0M644.0 1612.8h0M640.4 1637.2h0M652.0 1669.5h0M646.5 1674.9h0M640.9 1713.7h0M649.6 1676.2h0M650.6 1679.9h0M644.4 1663.8h0M649.6 1687.7h0M640.6 1653.1h0M648.4 1673.3h0M651.8 1736.9h0M649.0 1691.3h0M643.1 1707.9h0M644.6 1723.9h0M648.1 1680.5h0M645.2 1642.9h0M652.1 1717.2h0M649.5 1754.8h0M645.1 1676.6h0M648.5 1694.8h0M640.6 1661.9h0M643.9 1687.2h0M640.2 1644.5h0M644.0 1627.3h0M641.9 1676.5h0M645.8 1634.9h0M643.8 1715.7h0M640.5 1663.8h0M641.7 1723.5h0M644.8 1664.4h0M647.2 1695.7h0M643.0 1662.8h0M644.7 1717.2h0M651.5 1663.1h0M644.8 1666.5h0M645.7 1693.8h0M645.9 1703.7h0M651.2 1719.9h0M641.8 1686.4h0M645.5 1658.0h0M649.8 1675.2h0M646.3 1665.2h0M643.9 1632.3h0M644.4 1683.2h0M642.2 1661.1h0M648.1 1645.3h0M650.2 1654.6h0M648.8 1658.4h0M640.4 1667.4h0M649.5 1612.7h0M649.0 1672.7h0M644.4 1685.9h0M643.3 1652.3h0M651.7 1621.3h0M641.5 1627.9h0M649.5 1668.8h0M643.1 1645.1h0M646.5 1655.0h0M648.5 1667.5h0M651.1 1650.4h0M649.3 1651.4h0M640.7 1665.6h0M650.5 1618.7h0M651.8 1685.4h0M640.2 1628.4h0M643.4 1607.6h0M650.7 1607.1h0M646.3 1661.6h0M639.9 1677.2h0M649.3 1737.2h0M652.0 1671.8h0M641.6 1597.5h0M650.5 1735.9h0M647.4 1734.9h0M647.3 1644.9h0M640.3 1651.4h0M651.8 1746.8h0M652.1 1671.8h0M641.4 1659.7h0M649.9 1733.7h0M644.1 1641.3h0M640.1 1725.6h0M646.2 1636.2h0M650.2 1663.7h0M647.0 1699.0h0M640.5 1737.6h0M650.5 1683.9h0M645.1 1673.5h0M646.7 1674.9h0M644.8 1694.6h0M651.7 1678.4h0M646.5 1644.0h0M649.9 1708.0h0M651.5 1678.3h0M647.1 1656.2h0M650.3 1670.4h0M642.4 1644.2h0M642.1 1623.8h0M648.9 1684.5h0M648.1 1663.4h0M651.6 1684.2h0M644.2 1650.0h0M642.0 1717.0h0M644.9 1630.5h0M650.8 1749.4h0M646.5 1629.9h0M643.6 1691.5h0M646.0 1712.9h0M648.8 1690.2h0M641.1 1680.9h0M648.4 1712.7h0M645.2 1728.2h0M650.6 1691.8h0M649.7 1641.9h0M649.3 1657.9h0M640.3 1630.2h0M646.4 1695.6h0M640.4 1684.8h0M644.1 1683.9h0M641.9 1665.7h0M645.8 1656.3h0M642.4 1618.0h0M643.7 1649.2h0M649.1 1665.1h0M649.3 1629.9h0M649.1 1703.0h0M648.8 1725.5h0M644.2 1650.3h0M640.2 1665.1h0M640.5 1666.5h0M646.9 1642.4h0M651.7 1684.0h0M646.1 1674.6h0M645.5 1658.8h0M650.4 1650.8h0M644.4 1640.9h0M642.5 1666.6h0M651.5 1662.2h0M639.8 1633.9h0M646.4 1736.4h0M641.9 1671.8h0M642.8 1595.1h0M651.4 1683.8h0M648.1 1737.0h0M646.6 1622.4h0M641.1 1693.5h0M651.2 1676.9h0M645.2 1677.0h0M641.0 1648.4h0M646.5 1647.2h0M640.8 1675.3h0M650.3 1637.3h0M644.8 1708.3h0M643.4 1650.2h0M642.9 1696.4h0M642.3 1649.5h0M642.1 1698.4h0M647.2 1688.7h0M641.8 1626.6h0M646.5 1717.7h0M650.6 1719.8h0M648.9 1653.3h0M646.4 1681.5h0M645.1 1688.3h0M644.0 1676.2h0M642.9 1607.5h0M644.9 1714.0h0M652.0 1681.6h0M646.6 1665.4h0M643.4 1710.0h0M643.1 1671.7h0M645.3 1656.0h0M645.4 1708.7h0M644.1 1637.3h0M646.6 1718.6h0M648.9 1676.4h0M648.4 1660.4h0M648.8 1744.3h0M646.2 1662.0h0M650.1 1595.9h0M640.8 1695.5h0M646.9 1638.2h0M650.1 1664.0h0M648.8 1730.8h0M651.6 1658.7h0M641.5 1708.0h0M647.9 1667.8h0M649.5 1733.8h0M644.7 1648.8h0M642.9 1677.6h0M645.3 1632.4h0M650.0 1655.2h0M642.5 1685.1h0M649.5 1776.0h0M649.0 1782.0h0M646.6 1789.0h0M646.2 1792.0h0M651.5 1805.0h0M641.4 1808.0h0M640.5 1815.8h0M646.2 1594.5h0M640.8 1770.2h0" stroke="#000" stroke-width="1.9" stroke-linecap="round" fill="none"/>
<line x1="699.7" y1="1537.3" x2="699.7" y2="1605.2" stroke="#000" stroke-width="0.7" stroke-dasharray="2 2.5"/>
<line x1="699.7" y1="1658.8" x2="699.7" y2="1733.3" stroke="#000" stroke-width="0.7" stroke-dasharray="2 2.5"/>
<line x1="688.9" y1="1537.3" x2="710.5" y2="1537.3" stroke="#777" stroke-width="1.3"/>
<line x1="688.9" y1="1733.3" x2="710.5" y2="1733.3" stroke="#777" stroke-width="1.3"/>
<rect x="678.1" y="1605.2" width="43.2" height="53.6" fill="#7f7f7f" stroke="#333" stroke-width="0.9"/>
<line x1="678.1" y1="1632.6" x2="721.3" y2="1632.6" stroke="#000" stroke-width="2.2"/>
<path d="M703.7 1635.7h0M703.5 1636.8h0M703.1 1618.0h0M694.8 1631.4h0M701.4 1636.1h0M699.2 1591.3h0M701.6 1675.2h0M697.9 1544.4h0M697.4 1654.8h0M704.5 1673.2h0M701.8 1601.1h0M701.2 1589.3h0M699.8 1582.1h0M697.4 1573.6h0M699.0 1613.5h0M704.1 1630.2h0M703.6 1617.5h0M695.2 1632.9h0M702.9 1653.9h0M701.6 1567.6h0M701.4 1559.0h0M697.7 1632.4h0M704.6 1641.7h0M700.4 1651.8h0M703.6 1698.1h0M695.0 1659.0h0M699.8 1652.7h0M696.8 1633.4h0M698.7 1671.5h0M697.8 1706.5h0M700.3 1606.1h0M695.6 1562.7h0M699.1 1715.3h0M697.7 1637.9h0M701.8 1597.8h0M696.9 1677.9h0M698.0 1688.4h0M697.0 1631.2h0M704.6 1641.6h0M695.2 1657.3h0M696.2 1565.7h0M703.9 1571.6h0M698.3 1605.8h0M702.5 1635.0h0M695.0 1645.0h0M695.7 1596.4h0M700.9 1641.4h0M696.0 1571.7h0M696.8 1581.4h0M698.2 1655.6h0M701.1 1601.1h0M696.0 1568.3h0M694.8 1605.3h0M698.5 1668.6h0M701.7 1642.2h0M703.1 1644.9h0M700.5 1626.7h0M697.7 1630.3h0M704.5 1645.2h0M697.6 1596.5h0M702.7 1576.3h0M702.6 1653.2h0M701.5 1688.6h0M700.0 1616.0h0M696.4 1630.8h0M700.5 1613.8h0M694.2 1657.5h0M704.7 1619.0h0M700.0 1666.2h0M699.5 1586.4h0M704.7 1562.3h0M703.7 1666.8h0M697.4 1731.5h0M704.6 1649.5h0M704.3 1650.9h0M696.0 1622.3h0M698.9 1629.4h0M698.4 1610.1h0M700.3 1651.8h0M701.4 1644.7h0M698.6 1612.4h0M701.5 1701.9h0M701.1 1597.9h0M699.7 1654.2h0M694.4 1685.8h0M697.0 1662.8h0M698.3 1609.3h0M702.1 1595.5h0M698.2 1579.0h0M696.9 1611.8h0M694.6 1657.8h0M702.0 1606.9h0M698.2 1632.7h0M700.0 1709.5h0M703.9 1563.9h0M701.5 1598.0h0M696.8 1612.7h0M697.2 1632.9h0M701.1 1651.1h0M703.4 1666.7h0M696.1 1689.8h0M698.8 1546.2h0M696.4 1590.9h0M695.4 1601.6h0M701.9 1614.1h0M698.6 1703.5h0M698.7 1639.8h0M703.5 1623.8h0M694.3 1581.6h0M696.7 1667.8h0M694.7 1617.6h0M694.3 1638.1h0M700.0 1627.4h0M697.7 1659.0h0M701.7 1613.9h0M696.3 1625.2h0M695.6 1701.3h0M702.3 1579.1h0M694.7 1539.1h0M700.3 1662.7h0M694.7 1581.6h0M704.6 1666.5h0M704.1 1649.0h0M694.7 1556.7h0M704.7 1620.1h0M700.3 1566.5h0M702.4 1616.2h0M703.5 1586.9h0M699.2 1634.6h0M699.2 1569.7h0M697.8 1555.3h0M701.0 1600.3h0M694.5 1650.0h0M701.8 1642.3h0M702.3 1664.6h0M701.8 1603.1h0M701.0 1606.5h0M697.7 1654.9h0M701.7 1590.3h0M698.4 1650.2h0M701.3 1553.6h0M696.9 1593.9h0M697.1 1562.8h0M701.4 1655.3h0M696.0 1666.3h0M703.4 1698.5h0M703.3 1601.0h0M700.3 1671.2h0M697.0 1740.8h0M697.9 1749.8h0M695.8 1537.3h0M702.5 1733.3h0" stroke="#000" stroke-width="1.9" stroke-linecap="round" fill="none"/>
<rect x="585.5" y="1505.6" width="174.8" height="321.3" fill="none" stroke="#555" stroke-width="1.1"/>
<line x1="672.9" y1="1826.9" x2="672.9" y2="1833.4" stroke="#555" stroke-width="0.9"/>
<text x="672.9" y="1846.6" font-family="Liberation Serif" font-size="12.7" text-anchor="middle" fill="#000" stroke="#000" stroke-width="0.2" textLength="34.6" lengthAdjust="spacingAndGlyphs">PRAD</text>
<text x="672.9" y="1861.8" font-family="Liberation Serif" font-size="12.7" text-anchor="middle" fill="#000" stroke="#000" stroke-width="0.2" textLength="153.5" lengthAdjust="spacingAndGlyphs">(num(T)=492; num(N)=152)</text>
<path d="M646 1585.9V1519.1H667.5M678.1 1519.1H699.7V1530.6" fill="none" stroke="#666" stroke-width="1"/>
<path d="M672.83 1519.60L672.83 1516.50M672.83 1519.60L675.77 1518.64M672.83 1519.60L674.65 1522.11M672.83 1519.60L671.00 1522.11M672.83 1519.60L669.88 1518.64" stroke="#e8202a" stroke-width="1.5" stroke-linecap="round" fill="none"/>
<text x="929.3" y="1502.2" font-family="Liberation Serif" font-size="14.5" text-anchor="middle" fill="#000" stroke="#000" stroke-width="0.2" textLength="34.4" lengthAdjust="spacingAndGlyphs">SPP1</text>
<line x1="841.2" y1="1562.3" x2="847.7" y2="1562.3" stroke="#555" stroke-width="0.9"/>
<text transform="translate(838.1 1562.3) rotate(-90)" font-family="Liberation Sans" font-size="16.4" text-anchor="middle" fill="#000" stroke="#000" stroke-width="0.25">8</text>
<line x1="841.2" y1="1629.2" x2="847.7" y2="1629.2" stroke="#555" stroke-width="0.9"/>
<text transform="translate(838.1 1629.2) rotate(-90)" font-family="Liberation Sans" font-size="16.4" text-anchor="middle" fill="#000" stroke="#000" stroke-width="0.25">6</text>
<line x1="841.2" y1="1696.2" x2="847.7" y2="1696.2" stroke="#555" stroke-width="0.9"/>
<text transform="translate(838.1 1696.2) rotate(-90)" font-family="Liberation Sans" font-size="16.4" text-anchor="middle" fill="#000" stroke="#000" stroke-width="0.25">4</text>
<line x1="841.2" y1="1763.3" x2="847.7" y2="1763.3" stroke="#555" stroke-width="0.9"/>
<text transform="translate(838.1 1763.3) rotate(-90)" font-family="Liberation Sans" font-size="16.4" text-anchor="middle" fill="#000" stroke="#000" stroke-width="0.25">2</text>
<text transform="translate(806.5 1660.7) rotate(-90)" font-family="Liberation Serif" font-size="16.9" text-anchor="middle" textLength="168" lengthAdjust="spacingAndGlyphs">Expression−log<tspan font-size="11" dy="2.5">2</tspan><tspan dy="-2.5">(TPM+1)</tspan></text>
<line x1="907.6" y1="1584.8" x2="907.6" y2="1675.2" stroke="#000" stroke-width="0.7" stroke-dasharray="2 2.5"/>
<line x1="907.6" y1="1738" x2="907.6" y2="1813.4" stroke="#000" stroke-width="0.7" stroke-dasharray="2 2.5"/>
<line x1="897" y1="1584.8" x2="918.3" y2="1584.8" stroke="#777" stroke-width="1.3"/>
<line x1="897" y1="1813.4" x2="918.3" y2="1813.4" stroke="#777" stroke-width="1.3"/>
<rect x="886.4" y="1675.2" width="42.5" height="62.8" fill="#f0666b" stroke="#333" stroke-width="0.9"/>
<line x1="886.4" y1="1704.4" x2="928.9" y2="1704.4" stroke="#000" stroke-width="2.2"/>
<path d="M913.6 1651.6h0M909.0 1792.8h0M913.2 1742.1h0M913.7 1752.3h0M908.7 1652.8h0M911.0 1747.1h0M903.5 1674.5h0M913.8 1729.9h0M907.6 1775.4h0M907.7 1699.9h0M910.0 1760.6h0M912.1 1673.5h0M904.9 1669.4h0M910.8 1647.9h0M911.8 1754.6h0M906.4 1637.6h0M906.9 1663.5h0M912.4 1792.9h0M905.6 1610.2h0M911.4 1632.9h0M912.5 1755.9h0M906.0 1690.8h0M905.4 1770.9h0M903.8 1711.5h0M904.0 1696.9h0M912.1 1678.4h0M904.9 1745.5h0M904.8 1706.3h0M909.5 1750.8h0M905.0 1688.5h0M905.0 1676.5h0M913.0 1701.8h0M913.7 1655.8h0M910.9 1672.6h0M911.2 1689.0h0M906.1 1655.3h0M905.8 1766.1h0M911.6 1706.8h0M908.0 1792.2h0M904.1 1705.9h0M905.5 1728.1h0M910.5 1669.6h0M906.3 1726.8h0M911.5 1736.5h0M904.2 1709.7h0M901.5 1711.5h0M903.2 1682.9h0M902.8 1748.0h0M903.8 1778.8h0M913.6 1783.4h0M909.5 1655.7h0M906.8 1767.1h0M903.2 1727.8h0M911.5 1759.4h0M909.4 1667.2h0M904.7 1732.8h0M907.4 1652.4h0M912.0 1739.7h0M913.4 1692.2h0M913.2 1672.4h0M908.7 1663.5h0M908.0 1763.7h0M906.7 1723.0h0M901.5 1708.9h0M905.1 1795.0h0M911.7 1674.3h0M905.9 1688.1h0M909.6 1683.0h0M913.6 1773.5h0M911.3 1696.9h0M905.4 1686.1h0M904.4 1660.6h0M912.9 1730.5h0M904.1 1675.7h0M910.3 1620.6h0M909.4 1726.2h0M908.4 1725.0h0M905.3 1720.7h0M913.5 1778.2h0M911.0 1722.6h0M906.6 1635.1h0M903.5 1750.4h0M906.5 1714.2h0M902.0 1653.4h0M903.8 1680.4h0M904.4 1694.8h0M903.4 1721.1h0M908.1 1710.3h0M903.2 1704.1h0M902.6 1675.1h0M902.3 1701.2h0M912.4 1664.3h0M902.4 1796.4h0M913.3 1669.4h0M913.0 1730.6h0M907.8 1704.0h0M912.4 1725.4h0M901.7 1677.0h0M910.8 1710.3h0M908.0 1677.7h0M909.0 1744.1h0M913.8 1696.3h0M903.4 1651.9h0M905.3 1656.7h0M910.0 1722.0h0M903.7 1698.3h0M912.9 1722.6h0M903.5 1710.3h0M906.3 1703.6h0M910.7 1652.6h0M912.2 1679.4h0M911.2 1642.0h0M911.6 1638.7h0M906.5 1766.6h0M906.1 1691.1h0M908.2 1726.2h0M903.6 1783.7h0M908.1 1757.4h0M908.3 1729.0h0M905.4 1632.9h0M903.3 1700.6h0M902.6 1713.4h0M905.9 1705.7h0M908.2 1741.1h0M913.7 1696.9h0M903.9 1708.7h0M901.7 1784.2h0M905.2 1730.3h0M907.3 1677.3h0M908.6 1708.9h0M905.6 1675.8h0M912.8 1751.8h0M904.1 1700.3h0M904.7 1666.8h0M904.6 1782.8h0M913.4 1740.1h0M907.4 1723.7h0M905.8 1717.9h0M902.1 1729.2h0M906.2 1692.6h0M911.4 1660.8h0M911.9 1689.5h0M913.2 1660.6h0M903.9 1659.7h0M901.9 1733.2h0M903.7 1692.5h0M902.3 1722.4h0M912.2 1676.2h0M905.0 1721.1h0M911.8 1713.1h0M905.0 1632.0h0M902.7 1712.7h0M904.8 1780.2h0M909.0 1699.0h0M913.5 1691.5h0M909.3 1728.7h0M911.4 1701.1h0M907.8 1660.7h0M912.9 1729.2h0M912.1 1713.1h0M913.7 1738.5h0M911.9 1690.0h0M910.1 1710.0h0M911.8 1748.9h0M912.5 1711.4h0M909.9 1626.5h0M902.4 1787.0h0M906.9 1771.3h0M913.4 1689.6h0M910.0 1771.4h0M906.4 1621.3h0M912.5 1776.4h0M905.9 1767.3h0M906.3 1728.8h0M908.1 1658.2h0M909.8 1669.9h0M908.5 1679.7h0M905.6 1691.3h0M908.4 1648.8h0M905.8 1792.3h0M909.8 1692.1h0M908.4 1643.4h0M902.8 1755.7h0M909.3 1690.3h0M913.1 1652.1h0M909.2 1650.9h0M902.4 1710.3h0M908.3 1625.1h0M903.5 1682.4h0M906.6 1658.5h0M903.5 1755.8h0M912.8 1740.4h0M911.0 1740.7h0M908.5 1629.2h0M905.1 1792.9h0M902.7 1670.1h0M910.3 1697.6h0M904.4 1722.9h0M912.7 1718.6h0M912.3 1652.7h0M903.5 1796.6h0M913.8 1729.4h0M913.5 1658.8h0M902.4 1671.6h0M907.8 1748.3h0M905.1 1717.5h0M909.3 1775.3h0M911.9 1646.2h0M904.7 1724.4h0M902.3 1650.1h0M906.0 1670.0h0M903.9 1746.5h0M910.2 1710.6h0M905.1 1676.3h0M908.9 1685.0h0M902.8 1639.4h0M904.8 1656.5h0M911.0 1689.9h0M911.8 1674.5h0M908.3 1737.8h0M908.6 1732.2h0M902.1 1678.1h0M908.8 1689.3h0M908.7 1756.9h0M904.2 1707.1h0M910.4 1741.9h0M903.0 1730.1h0M908.1 1649.0h0M902.6 1748.9h0M911.9 1734.8h0M906.4 1679.5h0M913.4 1700.1h0M907.0 1696.2h0M911.1 1772.9h0M907.7 1704.4h0M902.1 1721.0h0M905.4 1742.1h0M908.7 1730.2h0M911.3 1717.2h0M902.2 1667.9h0M907.8 1624.2h0M911.0 1698.4h0M904.1 1640.9h0M905.7 1698.3h0M905.0 1774.5h0M910.6 1700.6h0M905.0 1649.2h0M912.7 1644.3h0M911.8 1745.3h0M908.3 1609.2h0M913.6 1738.3h0M905.4 1737.9h0M901.6 1727.9h0M909.9 1642.1h0M911.5 1686.1h0M913.1 1664.7h0M903.5 1809.7h0M901.9 1705.1h0M908.8 1708.0h0M906.4 1673.5h0M904.3 1725.1h0M909.7 1652.7h0M907.9 1735.7h0M909.1 1769.7h0M912.9 1781.5h0M912.1 1649.7h0M903.6 1670.9h0M902.2 1740.1h0M909.5 1656.4h0M901.6 1710.6h0M904.0 1708.2h0M912.8 1772.8h0M906.3 1728.7h0M910.5 1698.0h0M909.6 1694.0h0M902.8 1729.3h0M910.7 1660.9h0M910.8 1642.2h0M901.6 1741.2h0M913.3 1685.7h0M902.7 1775.6h0M907.3 1685.1h0M907.4 1748.6h0M907.3 1709.6h0M913.8 1695.2h0M903.6 1713.8h0M911.5 1658.6h0M912.3 1739.5h0M903.2 1724.5h0M901.5 1688.7h0M904.7 1703.7h0M902.0 1691.7h0M902.3 1712.1h0M911.7 1740.8h0M901.8 1674.5h0M904.7 1699.0h0M902.4 1664.6h0M903.2 1646.5h0M908.2 1718.9h0M912.7 1737.5h0M912.3 1723.7h0M902.9 1733.1h0M911.8 1797.4h0M912.2 1633.5h0M904.5 1685.0h0M904.0 1604.7h0M906.0 1728.7h0M911.1 1677.4h0M913.7 1690.6h0M908.1 1705.1h0M906.5 1661.1h0M905.9 1701.9h0M907.0 1705.4h0M904.5 1695.3h0M910.2 1808.9h0M908.7 1736.1h0M905.8 1737.0h0M910.2 1633.2h0M911.1 1677.5h0M903.8 1669.3h0M906.3 1675.8h0M909.2 1710.8h0M910.7 1633.1h0M902.3 1711.5h0M902.8 1769.4h0M911.1 1675.7h0M910.9 1652.7h0M904.1 1697.6h0M906.3 1686.7h0M909.9 1661.9h0M907.8 1638.1h0M911.1 1677.5h0M904.0 1631.7h0M906.7 1689.7h0M905.5 1614.4h0M911.8 1767.4h0M905.5 1662.4h0M910.5 1689.8h0M906.9 1696.8h0M903.7 1762.8h0M909.2 1657.0h0M903.4 1710.7h0M902.9 1749.0h0M912.1 1731.6h0M912.6 1712.5h0M905.8 1697.5h0M906.0 1744.9h0M908.9 1745.6h0M909.1 1684.4h0M908.7 1704.8h0M904.8 1619.8h0M911.2 1721.6h0M905.2 1670.7h0M912.3 1629.2h0M913.1 1710.9h0M904.8 1660.7h0M909.0 1689.1h0M910.2 1699.5h0M904.3 1634.9h0M913.4 1748.9h0M907.0 1730.3h0M907.8 1786.2h0M905.8 1707.1h0M906.4 1660.7h0M902.5 1713.5h0M913.1 1667.6h0M912.3 1737.7h0M911.0 1654.2h0M913.8 1706.8h0M912.2 1724.2h0M909.1 1633.5h0M901.8 1702.2h0M913.3 1677.9h0M911.1 1696.7h0M908.0 1672.5h0M907.7 1696.7h0M909.3 1758.9h0M910.5 1690.0h0M908.3 1681.9h0M905.8 1685.7h0M902.4 1712.3h0M906.4 1626.4h0M902.6 1736.2h0M906.2 1696.7h0M912.3 1693.0h0M911.4 1753.2h0M907.8 1758.4h0M910.0 1674.2h0M906.8 1673.7h0M908.4 1696.0h0M912.5 1778.2h0M913.3 1715.3h0M904.9 1691.8h0M911.0 1676.0h0M906.2 1652.4h0M907.1 1682.9h0M906.4 1661.8h0M903.5 1632.8h0M904.3 1813.1h0M912.3 1660.6h0M908.6 1722.4h0M903.4 1681.8h0M913.7 1693.2h0M911.1 1750.3h0M910.9 1744.7h0M908.2 1683.8h0M908.9 1710.1h0M903.3 1671.5h0M903.7 1720.0h0M909.7 1612.8h0M909.7 1713.7h0M906.4 1615.8h0M911.6 1737.9h0M904.2 1678.7h0M903.4 1655.2h0M902.2 1764.2h0M913.0 1747.8h0M908.0 1685.1h0M908.6 1654.4h0M909.5 1645.3h0M902.9 1679.0h0M912.4 1658.5h0M913.6 1757.2h0M904.4 1721.9h0M904.4 1642.1h0M912.0 1728.1h0M907.8 1713.2h0M903.9 1784.7h0M913.5 1710.8h0M911.8 1777.7h0M906.1 1687.2h0M909.3 1641.1h0M910.5 1689.1h0M905.9 1695.2h0M908.7 1720.9h0M906.1 1679.4h0M911.9 1754.8h0M904.3 1723.9h0M907.0 1612.6h0M902.2 1764.2h0M908.9 1728.9h0M902.2 1768.5h0M905.7 1651.2h0M910.9 1713.3h0M908.2 1762.7h0M905.7 1761.9h0M907.5 1656.4h0M902.9 1674.5h0M904.6 1669.4h0M912.8 1705.2h0M903.2 1665.2h0M911.2 1648.0h0M910.6 1674.9h0M909.3 1778.8h0M911.1 1796.3h0M903.1 1772.2h0M905.9 1691.6h0M905.7 1774.0h0M904.2 1754.3h0M904.4 1701.5h0M905.2 1744.7h0M913.4 1763.9h0M906.2 1663.2h0M911.3 1682.7h0M910.7 1670.5h0M910.6 1665.0h0M907.5 1643.4h0M907.8 1705.1h0M903.7 1712.2h0M912.4 1787.3h0M906.1 1715.0h0M910.3 1732.1h0M912.2 1660.2h0M908.5 1675.8h0M906.0 1642.5h0M912.3 1658.4h0M902.7 1654.5h0M910.8 1681.8h0M905.0 1698.1h0M910.1 1722.1h0M904.2 1704.7h0M912.5 1749.5h0M907.3 1687.8h0M902.9 1708.0h0M911.4 1801.1h0M905.7 1739.0h0M902.6 1726.5h0M911.9 1718.6h0M902.5 1650.5h0M904.0 1734.3h0M903.8 1584.8h0M906.5 1813.4h0" stroke="#000" stroke-width="1.9" stroke-linecap="round" fill="none"/>
<line x1="961" y1="1595.5" x2="961" y2="1689.4" stroke="#000" stroke-width="0.7" stroke-dasharray="2 2.5"/>
<line x1="961" y1="1754.5" x2="961" y2="1808.1" stroke="#000" stroke-width="0.7" stroke-dasharray="2 2.5"/>
<line x1="950.3" y1="1595.5" x2="971.7" y2="1595.5" stroke="#777" stroke-width="1.3"/>
<line x1="950.3" y1="1808.1" x2="971.7" y2="1808.1" stroke="#777" stroke-width="1.3"/>
<rect x="939.6" y="1689.4" width="42.8" height="65.1" fill="#7f7f7f" stroke="#333" stroke-width="0.9"/>
<line x1="939.6" y1="1722.4" x2="982.4" y2="1722.4" stroke="#000" stroke-width="2.2"/>
<path d="M960.0 1643.1h0M964.0 1763.5h0M966.5 1659.1h0M959.1 1739.1h0M958.2 1763.9h0M964.5 1762.0h0M958.6 1667.2h0M957.2 1726.0h0M961.7 1739.1h0M958.7 1793.9h0M956.6 1664.9h0M962.3 1671.1h0M959.8 1706.5h0M956.6 1684.3h0M958.9 1747.6h0M960.1 1714.4h0M957.0 1717.2h0M963.2 1749.4h0M956.0 1710.8h0M960.1 1757.1h0M958.9 1753.5h0M965.7 1781.6h0M956.8 1715.7h0M956.3 1756.7h0M959.1 1746.3h0M966.1 1654.6h0M960.8 1724.4h0M965.2 1724.1h0M955.9 1795.5h0M964.2 1747.3h0M963.4 1674.4h0M966.3 1695.4h0M957.5 1719.8h0M956.7 1730.8h0M966.3 1719.2h0M965.9 1702.9h0M961.2 1737.9h0M965.5 1626.2h0M964.6 1666.8h0M961.9 1729.8h0M960.6 1653.4h0M955.7 1784.6h0M963.0 1659.3h0M963.8 1713.1h0M962.0 1679.0h0M963.9 1738.9h0M960.8 1715.0h0M958.0 1693.8h0M966.0 1671.1h0M956.3 1697.3h0M958.4 1700.7h0M957.7 1750.6h0M962.2 1638.4h0M960.6 1712.2h0M961.8 1733.2h0M960.6 1737.9h0M962.2 1779.7h0M956.6 1757.6h0M959.5 1794.9h0M961.5 1712.5h0M962.2 1726.3h0M960.3 1711.7h0M956.0 1781.9h0M963.2 1742.5h0M961.0 1753.0h0M966.2 1673.9h0M959.2 1793.4h0M963.0 1794.7h0M955.9 1659.6h0M963.1 1704.8h0M956.2 1797.1h0M962.3 1656.4h0M962.5 1649.4h0M963.4 1666.6h0M961.0 1716.6h0M960.8 1763.6h0M956.7 1735.1h0M958.2 1797.7h0M964.4 1637.6h0M966.1 1755.4h0M959.1 1708.9h0M961.4 1683.1h0M958.6 1692.5h0M958.6 1702.3h0M964.3 1741.1h0M964.7 1711.7h0M962.3 1733.0h0M965.1 1673.6h0M955.5 1752.4h0M965.6 1747.3h0M956.6 1742.1h0M955.6 1788.6h0M956.7 1780.2h0M958.2 1699.6h0M961.5 1664.7h0M956.1 1718.9h0M965.6 1777.1h0M960.3 1658.6h0M966.4 1737.8h0M963.4 1798.4h0M958.3 1713.7h0M957.7 1651.9h0M964.6 1740.9h0M961.8 1752.8h0M956.5 1735.6h0M958.4 1763.0h0M956.8 1748.6h0M962.0 1710.3h0M965.4 1757.1h0M959.5 1677.0h0M955.7 1769.2h0M965.9 1688.0h0M964.7 1705.8h0M955.8 1741.1h0M958.5 1736.8h0M959.7 1738.1h0M966.4 1640.5h0M955.8 1761.2h0M966.6 1664.6h0M962.4 1673.3h0M959.9 1738.8h0M959.9 1643.6h0M962.8 1710.7h0M958.9 1716.4h0M958.8 1721.7h0M964.3 1681.7h0M959.0 1741.7h0M964.5 1731.6h0M959.2 1666.4h0M963.0 1728.2h0M955.4 1771.9h0M961.5 1694.8h0M960.3 1726.7h0M964.2 1749.6h0M962.2 1695.7h0M962.7 1759.4h0M957.3 1769.4h0M965.0 1735.2h0M964.6 1731.8h0M961.2 1720.2h0M962.8 1780.0h0M958.4 1638.6h0M958.5 1689.7h0M961.6 1715.8h0M960.3 1711.5h0M956.8 1677.5h0M965.2 1771.4h0M963.4 1698.1h0M957.6 1779.6h0M965.8 1674.5h0M961.8 1595.5h0M960.7 1808.1h0" stroke="#000" stroke-width="1.9" stroke-linecap="round" fill="none"/>
<rect x="847.7" y="1505.1" width="173.3" height="320.1" fill="none" stroke="#555" stroke-width="1.1"/>
<line x1="934.4" y1="1825.2" x2="934.4" y2="1831.7" stroke="#555" stroke-width="0.9"/>
<text x="934.4" y="1845.1" font-family="Liberation Serif" font-size="12.7" text-anchor="middle" fill="#000" stroke="#000" stroke-width="0.2" textLength="34.6" lengthAdjust="spacingAndGlyphs">PRAD</text>
<text x="934.4" y="1860.3" font-family="Liberation Serif" font-size="12.7" text-anchor="middle" fill="#000" stroke="#000" stroke-width="0.2" textLength="153.5" lengthAdjust="spacingAndGlyphs">(num(T)=492; num(N)=152)</text>
<path d="M907.6 1572V1526.3H927M941.6 1526.3H961V1583.8" fill="none" stroke="#222" stroke-width="1"/>
<path d="M934.33 1527.30L934.33 1523.10M934.33 1527.30L938.32 1526.00M934.33 1527.30L936.79 1530.70M934.33 1527.30L931.86 1530.70M934.33 1527.30L930.33 1526.00" stroke="#e8202a" stroke-width="1.8" stroke-linecap="round" fill="none"/>
<text x="1193.4" y="1502.2" font-family="Liberation Serif" font-size="14.5" text-anchor="middle" fill="#000" stroke="#000" stroke-width="0.2" textLength="34.4" lengthAdjust="spacingAndGlyphs">CAV1</text>
<line x1="1099.8" y1="1573" x2="1106.3" y2="1573" stroke="#555" stroke-width="0.9"/>
<text transform="translate(1096.7 1573) rotate(-90)" font-family="Liberation Sans" font-size="16.4" text-anchor="middle" fill="#000" stroke="#000" stroke-width="0.25">8</text>
<line x1="1099.8" y1="1648" x2="1106.3" y2="1648" stroke="#555" stroke-width="0.9"/>
<text transform="translate(1096.7 1648) rotate(-90)" font-family="Liberation Sans" font-size="16.4" text-anchor="middle" fill="#000" stroke="#000" stroke-width="0.25">6</text>
<line x1="1099.8" y1="1722.6" x2="1106.3" y2="1722.6" stroke="#555" stroke-width="0.9"/>
<text transform="translate(1096.7 1722.6) rotate(-90)" font-family="Liberation Sans" font-size="16.4" text-anchor="middle" fill="#000" stroke="#000" stroke-width="0.25">4</text>
<line x1="1099.8" y1="1797.6" x2="1106.3" y2="1797.6" stroke="#555" stroke-width="0.9"/>
<text transform="translate(1096.7 1797.6) rotate(-90)" font-family="Liberation Sans" font-size="16.4" text-anchor="middle" fill="#000" stroke="#000" stroke-width="0.25">2</text>
<text transform="translate(1066.3 1667.5) rotate(-90)" font-family="Liberation Serif" font-size="16.9" text-anchor="middle" textLength="168" lengthAdjust="spacingAndGlyphs">Expression−log<tspan font-size="11" dy="2.5">2</tspan><tspan dy="-2.5">(TPM+1)</tspan></text>
<line x1="1166.2" y1="1592.3" x2="1166.2" y2="1668.4" stroke="#000" stroke-width="0.7" stroke-dasharray="2 2.5"/>
<line x1="1166.2" y1="1726.7" x2="1166.2" y2="1802.3" stroke="#000" stroke-width="0.7" stroke-dasharray="2 2.5"/>
<line x1="1155.5" y1="1592.3" x2="1176.9" y2="1592.3" stroke="#777" stroke-width="1.3"/>
<line x1="1155.5" y1="1802.3" x2="1176.9" y2="1802.3" stroke="#777" stroke-width="1.3"/>
<rect x="1144.8" y="1668.4" width="42.8" height="58.3" fill="#f0666b" stroke="#333" stroke-width="0.9"/>
<line x1="1144.8" y1="1694.1" x2="1187.6" y2="1694.1" stroke="#000" stroke-width="2.2"/>
<path d="M1170.2 1652.2h0M1171.0 1758.5h0M1166.9 1647.4h0M1162.7 1752.1h0M1170.2 1594.8h0M1164.1 1727.0h0M1167.7 1652.3h0M1169.9 1707.5h0M1164.2 1667.3h0M1162.7 1730.7h0M1160.9 1689.3h0M1171.4 1693.5h0M1160.4 1690.9h0M1170.2 1664.1h0M1171.6 1715.8h0M1165.2 1710.2h0M1161.7 1758.2h0M1168.5 1701.2h0M1162.4 1718.3h0M1165.4 1660.7h0M1164.1 1668.8h0M1169.0 1729.5h0M1169.3 1677.5h0M1167.7 1644.2h0M1166.3 1704.6h0M1169.2 1751.2h0M1162.2 1600.4h0M1162.5 1673.2h0M1162.1 1667.5h0M1162.4 1598.8h0M1165.6 1733.1h0M1161.8 1682.7h0M1171.5 1786.1h0M1160.9 1675.5h0M1171.6 1679.3h0M1169.8 1732.3h0M1166.9 1735.7h0M1166.5 1702.9h0M1169.9 1705.6h0M1164.1 1633.9h0M1170.1 1706.2h0M1165.4 1702.1h0M1170.0 1702.9h0M1166.4 1771.8h0M1172.1 1718.0h0M1167.6 1759.9h0M1168.0 1689.5h0M1162.9 1800.6h0M1172.4 1748.9h0M1160.8 1684.7h0M1160.3 1796.1h0M1164.4 1769.9h0M1172.2 1656.4h0M1163.2 1758.9h0M1160.9 1694.9h0M1164.0 1682.7h0M1169.5 1745.8h0M1169.8 1776.2h0M1161.0 1636.1h0M1165.2 1721.5h0M1165.3 1674.7h0M1162.1 1731.3h0M1161.8 1680.5h0M1164.0 1758.1h0M1164.8 1761.1h0M1167.5 1745.1h0M1168.1 1724.9h0M1167.6 1724.9h0M1165.2 1710.5h0M1162.2 1677.9h0M1161.4 1720.5h0M1161.7 1658.8h0M1169.1 1726.6h0M1162.4 1669.2h0M1165.9 1644.4h0M1163.0 1628.0h0M1163.3 1790.7h0M1169.2 1628.6h0M1169.8 1779.9h0M1166.7 1640.3h0M1167.7 1695.1h0M1167.9 1681.0h0M1169.9 1740.3h0M1160.0 1658.7h0M1163.3 1668.2h0M1169.8 1721.3h0M1172.4 1724.3h0M1168.7 1661.7h0M1170.2 1655.0h0M1162.3 1665.1h0M1160.5 1712.9h0M1171.6 1694.3h0M1163.0 1658.6h0M1163.4 1662.4h0M1167.9 1651.3h0M1166.4 1688.9h0M1170.5 1728.5h0M1163.0 1683.3h0M1162.2 1677.1h0M1161.0 1720.1h0M1169.8 1677.2h0M1168.1 1734.9h0M1168.4 1684.5h0M1163.3 1723.7h0M1162.5 1613.6h0M1169.0 1648.9h0M1169.9 1684.3h0M1163.6 1757.9h0M1163.9 1753.8h0M1169.8 1667.7h0M1170.0 1701.7h0M1162.1 1682.6h0M1163.2 1770.6h0M1169.4 1767.2h0M1168.8 1690.0h0M1164.7 1704.5h0M1169.9 1758.9h0M1168.6 1733.1h0M1165.4 1664.4h0M1166.2 1715.4h0M1162.6 1672.4h0M1165.0 1631.4h0M1161.4 1681.5h0M1166.4 1689.4h0M1160.9 1723.2h0M1160.1 1647.9h0M1171.9 1764.3h0M1161.7 1747.5h0M1164.0 1695.3h0M1171.0 1765.6h0M1161.0 1657.0h0M1167.1 1724.6h0M1166.2 1674.2h0M1167.3 1709.4h0M1168.1 1706.6h0M1166.2 1693.8h0M1171.2 1789.3h0M1168.0 1747.1h0M1161.9 1717.3h0M1167.2 1609.7h0M1160.6 1663.3h0M1163.2 1666.8h0M1171.2 1744.6h0M1160.7 1660.3h0M1164.3 1646.9h0M1160.8 1665.7h0M1171.1 1594.4h0M1160.7 1759.6h0M1167.0 1746.5h0M1165.7 1707.2h0M1170.9 1741.6h0M1160.6 1692.4h0M1160.2 1674.6h0M1170.2 1695.1h0M1162.3 1690.5h0M1165.4 1679.0h0M1171.3 1664.9h0M1163.9 1726.4h0M1162.6 1726.8h0M1170.2 1649.0h0M1169.9 1710.9h0M1172.3 1734.8h0M1169.8 1683.6h0M1167.4 1711.5h0M1162.6 1689.9h0M1169.3 1697.6h0M1166.9 1670.4h0M1165.2 1659.6h0M1167.3 1734.7h0M1161.9 1753.3h0M1171.6 1633.7h0M1164.6 1727.7h0M1171.5 1769.6h0M1169.7 1786.3h0M1168.0 1696.4h0M1163.5 1725.8h0M1168.7 1783.2h0M1164.6 1740.5h0M1171.4 1745.9h0M1164.5 1656.6h0M1170.6 1685.6h0M1160.6 1695.3h0M1170.0 1756.2h0M1166.2 1703.5h0M1167.4 1669.4h0M1167.7 1688.6h0M1172.2 1654.4h0M1167.7 1691.7h0M1171.7 1668.3h0M1168.8 1677.3h0M1165.6 1722.2h0M1171.4 1643.7h0M1169.4 1680.9h0M1168.7 1663.3h0M1171.4 1746.3h0M1162.4 1747.3h0M1162.2 1703.5h0M1167.5 1733.8h0M1164.3 1671.1h0M1161.9 1679.1h0M1163.4 1648.0h0M1160.5 1672.3h0M1170.3 1749.4h0M1161.5 1658.6h0M1160.3 1726.3h0M1166.9 1730.3h0M1163.3 1692.3h0M1161.9 1695.3h0M1166.4 1655.2h0M1165.2 1678.6h0M1164.8 1639.3h0M1168.2 1705.1h0M1162.1 1681.9h0M1166.1 1719.9h0M1171.4 1715.3h0M1164.5 1643.5h0M1169.1 1677.4h0M1164.7 1677.7h0M1163.0 1733.5h0M1164.8 1629.6h0M1160.9 1703.4h0M1163.6 1726.3h0M1163.8 1695.8h0M1170.3 1669.0h0M1170.6 1666.2h0M1169.5 1638.7h0M1166.2 1746.0h0M1160.9 1715.6h0M1168.5 1635.3h0M1166.2 1608.2h0M1170.0 1725.1h0M1166.0 1699.4h0M1160.6 1769.4h0M1166.4 1734.5h0M1161.5 1737.4h0M1171.0 1699.7h0M1160.6 1752.2h0M1165.4 1659.2h0M1161.7 1697.5h0M1167.0 1707.0h0M1160.6 1659.6h0M1172.1 1707.6h0M1168.1 1754.6h0M1170.4 1693.6h0M1164.7 1612.1h0M1164.3 1690.8h0M1165.1 1674.7h0M1160.3 1704.2h0M1168.6 1705.3h0M1166.7 1675.4h0M1167.6 1754.5h0M1163.8 1723.4h0M1160.7 1707.7h0M1168.2 1639.3h0M1170.3 1601.3h0M1165.0 1670.6h0M1165.0 1679.4h0M1163.2 1668.6h0M1162.8 1637.3h0M1169.2 1742.1h0M1166.7 1718.4h0M1172.2 1688.7h0M1167.6 1683.3h0M1162.2 1786.3h0M1163.2 1678.2h0M1168.4 1771.3h0M1164.4 1665.5h0M1168.7 1662.4h0M1168.1 1675.5h0M1169.7 1687.1h0M1167.5 1724.5h0M1166.2 1658.5h0M1166.3 1618.5h0M1163.3 1675.7h0M1162.5 1747.5h0M1170.4 1764.3h0M1168.4 1751.1h0M1167.1 1743.8h0M1169.8 1652.0h0M1161.1 1683.7h0M1167.4 1696.1h0M1170.4 1661.5h0M1167.1 1694.0h0M1170.9 1693.3h0M1161.6 1735.4h0M1171.8 1724.8h0M1163.6 1693.5h0M1168.7 1751.2h0M1171.9 1631.6h0M1166.9 1690.0h0M1163.5 1721.3h0M1172.2 1657.6h0M1163.2 1745.8h0M1168.9 1654.5h0M1167.3 1691.5h0M1166.4 1623.2h0M1169.7 1721.3h0M1171.5 1714.0h0M1171.8 1735.5h0M1169.7 1755.0h0M1170.2 1685.2h0M1160.4 1745.9h0M1164.6 1682.6h0M1167.0 1725.7h0M1165.9 1654.7h0M1171.6 1678.9h0M1171.4 1692.9h0M1166.0 1694.9h0M1171.4 1725.4h0M1164.4 1628.4h0M1169.8 1714.7h0M1161.7 1678.6h0M1172.3 1707.6h0M1165.6 1712.3h0M1172.1 1691.4h0M1163.2 1669.1h0M1163.5 1748.8h0M1163.5 1717.7h0M1163.6 1762.9h0M1161.1 1679.7h0M1169.8 1736.1h0M1166.3 1730.9h0M1166.4 1670.1h0M1163.3 1695.6h0M1166.0 1679.5h0M1165.7 1701.8h0M1160.2 1679.3h0M1163.7 1691.6h0M1162.1 1748.8h0M1163.7 1686.8h0M1165.3 1711.7h0M1172.2 1706.6h0M1164.6 1684.3h0M1171.1 1721.6h0M1169.2 1746.1h0M1172.2 1649.9h0M1170.1 1625.0h0M1171.7 1711.7h0M1161.8 1651.3h0M1169.7 1680.2h0M1164.3 1726.0h0M1164.9 1735.4h0M1161.4 1708.6h0M1161.8 1715.8h0M1168.4 1711.1h0M1162.7 1701.1h0M1168.0 1749.6h0M1164.4 1662.0h0M1167.9 1749.5h0M1167.8 1746.6h0M1162.7 1659.8h0M1171.3 1666.0h0M1168.8 1639.6h0M1167.0 1689.7h0M1167.7 1726.1h0M1168.0 1651.4h0M1164.4 1699.7h0M1167.6 1701.1h0M1161.9 1736.0h0M1172.2 1679.6h0M1168.7 1674.9h0M1169.5 1791.6h0M1169.2 1661.7h0M1170.5 1770.2h0M1165.7 1669.0h0M1163.2 1600.9h0M1160.4 1708.5h0M1166.4 1751.4h0M1161.9 1621.0h0M1165.8 1716.4h0M1160.8 1748.8h0M1169.6 1647.1h0M1164.4 1766.7h0M1163.8 1758.6h0M1169.9 1728.6h0M1164.9 1792.8h0M1165.8 1663.6h0M1168.2 1655.9h0M1160.4 1697.8h0M1163.9 1715.1h0M1172.3 1770.6h0M1168.5 1677.1h0M1161.6 1729.0h0M1171.8 1671.5h0M1171.5 1656.1h0M1168.1 1693.1h0M1160.2 1797.2h0M1165.2 1740.3h0M1164.8 1642.9h0M1162.2 1684.4h0M1167.5 1640.7h0M1163.6 1700.5h0M1168.3 1703.6h0M1163.1 1773.6h0M1171.3 1726.2h0M1163.4 1657.6h0M1160.2 1674.2h0M1170.5 1720.9h0M1162.8 1682.4h0M1160.5 1649.4h0M1171.8 1747.2h0M1164.0 1683.7h0M1168.7 1655.0h0M1161.4 1728.3h0M1170.0 1645.2h0M1170.4 1699.3h0M1163.4 1652.5h0M1163.0 1659.6h0M1161.7 1684.7h0M1167.3 1709.0h0M1165.1 1726.6h0M1171.1 1688.3h0M1164.6 1686.7h0M1166.3 1641.2h0M1164.8 1699.0h0M1163.3 1681.3h0M1160.7 1630.5h0M1167.4 1682.4h0M1163.6 1677.3h0M1171.3 1633.4h0M1168.1 1691.2h0M1167.8 1679.4h0M1170.7 1665.9h0M1162.3 1700.5h0M1171.0 1748.6h0M1170.1 1765.5h0M1162.3 1704.6h0M1162.7 1651.8h0M1160.6 1656.7h0M1165.5 1632.6h0M1161.4 1660.1h0M1170.1 1726.2h0M1163.4 1765.1h0M1162.8 1719.8h0M1171.3 1707.6h0M1163.9 1730.7h0M1164.2 1659.5h0M1166.9 1733.1h0M1166.7 1672.6h0M1163.7 1664.9h0M1167.7 1778.9h0M1162.7 1715.3h0M1168.3 1646.8h0M1163.9 1662.5h0M1162.8 1690.0h0M1164.3 1748.4h0M1163.3 1728.8h0M1169.9 1691.4h0M1169.4 1646.7h0M1161.4 1675.9h0M1171.1 1699.1h0M1170.2 1685.8h0M1161.2 1665.1h0M1166.1 1779.6h0M1166.5 1742.7h0M1166.3 1693.5h0M1160.2 1648.7h0M1171.4 1653.6h0M1165.3 1732.6h0M1169.1 1693.8h0M1166.8 1730.7h0M1171.5 1713.8h0M1163.7 1689.3h0M1168.7 1712.4h0M1163.9 1721.9h0M1171.5 1751.2h0M1163.8 1771.5h0M1160.5 1704.3h0M1166.0 1687.5h0M1168.7 1671.3h0M1165.1 1734.5h0M1169.3 1729.9h0M1169.2 1646.8h0M1162.8 1679.0h0M1165.0 1661.2h0M1172.3 1722.5h0M1166.4 1729.5h0M1170.9 1750.6h0M1164.9 1657.1h0M1162.8 1749.9h0M1170.9 1778.6h0M1165.6 1731.2h0M1160.2 1646.7h0M1168.7 1693.8h0M1166.6 1685.9h0M1170.2 1690.4h0M1171.9 1697.3h0M1168.6 1703.1h0M1161.6 1762.7h0M1161.2 1814.1h0M1170.6 1592.3h0M1169.2 1802.3h0" stroke="#000" stroke-width="1.9" stroke-linecap="round" fill="none"/>
<line x1="1219.9" y1="1546.7" x2="1219.9" y2="1616.3" stroke="#000" stroke-width="0.7" stroke-dasharray="2 2.5"/>
<line x1="1219.9" y1="1667.3" x2="1219.9" y2="1739.7" stroke="#000" stroke-width="0.7" stroke-dasharray="2 2.5"/>
<line x1="1209.1" y1="1546.7" x2="1230.8" y2="1546.7" stroke="#777" stroke-width="1.3"/>
<line x1="1209.1" y1="1739.7" x2="1230.8" y2="1739.7" stroke="#777" stroke-width="1.3"/>
<rect x="1198.3" y="1616.3" width="43.3" height="51" fill="#7f7f7f" stroke="#333" stroke-width="0.9"/>
<line x1="1198.3" y1="1647.6" x2="1241.6" y2="1647.6" stroke="#000" stroke-width="2.2"/>
<path d="M1222.9 1663.1h0M1221.0 1653.4h0M1216.2 1668.5h0M1218.3 1585.8h0M1219.3 1628.5h0M1220.8 1597.6h0M1220.4 1655.8h0M1216.0 1607.2h0M1221.0 1651.7h0M1223.4 1651.5h0M1216.7 1633.4h0M1215.2 1629.2h0M1218.7 1620.9h0M1218.7 1653.5h0M1224.7 1690.7h0M1217.3 1656.6h0M1223.0 1724.9h0M1223.6 1655.7h0M1215.8 1670.9h0M1224.5 1609.7h0M1220.8 1725.9h0M1224.0 1555.3h0M1223.2 1657.4h0M1219.8 1693.6h0M1223.8 1628.0h0M1218.0 1625.0h0M1218.0 1627.9h0M1221.0 1547.3h0M1218.6 1671.6h0M1216.7 1634.0h0M1223.4 1640.6h0M1223.4 1667.3h0M1215.3 1634.2h0M1222.3 1589.6h0M1224.6 1672.2h0M1223.4 1626.8h0M1216.0 1601.2h0M1215.3 1617.5h0M1219.3 1693.8h0M1224.4 1634.5h0M1224.6 1658.8h0M1214.6 1591.2h0M1224.4 1651.2h0M1221.6 1557.2h0M1221.7 1683.2h0M1217.0 1624.5h0M1221.4 1672.9h0M1224.9 1565.9h0M1220.9 1575.3h0M1224.6 1674.3h0M1222.1 1612.9h0M1217.0 1648.8h0M1218.3 1694.6h0M1217.3 1677.8h0M1217.7 1643.0h0M1221.8 1623.8h0M1219.8 1658.4h0M1224.5 1634.0h0M1216.6 1633.1h0M1215.8 1634.3h0M1215.3 1681.8h0M1217.1 1641.2h0M1222.4 1623.1h0M1216.2 1690.8h0M1221.5 1576.7h0M1224.6 1580.4h0M1221.4 1640.0h0M1216.7 1551.4h0M1222.9 1670.8h0M1223.7 1674.9h0M1220.3 1665.6h0M1218.6 1668.3h0M1221.1 1562.6h0M1215.5 1645.3h0M1221.7 1649.2h0M1216.9 1630.7h0M1221.5 1574.3h0M1217.8 1639.7h0M1218.5 1658.4h0M1224.7 1635.0h0M1218.2 1589.5h0M1223.2 1653.4h0M1215.5 1582.5h0M1222.1 1633.4h0M1215.2 1652.6h0M1220.0 1624.8h0M1224.3 1556.5h0M1217.4 1654.5h0M1217.5 1584.1h0M1224.6 1621.4h0M1219.2 1640.1h0M1221.4 1645.0h0M1222.3 1609.7h0M1222.5 1619.1h0M1225.1 1630.3h0M1225.0 1617.1h0M1215.2 1672.3h0M1214.9 1666.3h0M1222.7 1676.3h0M1216.6 1657.4h0M1222.2 1653.5h0M1215.6 1658.1h0M1219.5 1622.9h0M1219.2 1674.8h0M1219.2 1654.5h0M1220.6 1607.6h0M1215.8 1570.1h0M1219.4 1644.9h0M1225.4 1592.3h0M1215.0 1584.5h0M1223.2 1676.8h0M1220.7 1636.3h0M1216.4 1677.7h0M1221.9 1658.6h0M1218.2 1628.7h0M1219.7 1684.0h0M1216.8 1623.0h0M1225.5 1651.5h0M1224.8 1654.4h0M1220.0 1622.9h0M1219.7 1671.2h0M1218.8 1696.2h0M1220.8 1646.1h0M1221.4 1668.2h0M1222.8 1653.2h0M1216.0 1679.2h0M1224.6 1674.5h0M1215.2 1677.1h0M1224.8 1684.4h0M1216.8 1671.0h0M1219.8 1670.2h0M1223.7 1646.4h0M1218.3 1665.4h0M1215.5 1693.3h0M1222.0 1621.3h0M1222.5 1683.1h0M1218.9 1673.3h0M1221.7 1657.6h0M1223.8 1645.9h0M1214.4 1644.7h0M1221.6 1636.8h0M1221.3 1651.2h0M1219.4 1597.5h0M1216.6 1609.7h0M1218.2 1663.4h0M1218.9 1654.0h0M1223.5 1686.7h0M1222.6 1618.0h0M1220.1 1534.1h0M1217.7 1750.2h0M1224.1 1546.7h0M1214.8 1739.7h0" stroke="#000" stroke-width="1.9" stroke-linecap="round" fill="none"/>
<rect x="1106.3" y="1505.1" width="173.2" height="320.8" fill="none" stroke="#555" stroke-width="1.1"/>
<line x1="1192.9" y1="1825.9" x2="1192.9" y2="1832.4" stroke="#555" stroke-width="0.9"/>
<text x="1192.9" y="1846.2" font-family="Liberation Serif" font-size="12.7" text-anchor="middle" fill="#000" stroke="#000" stroke-width="0.2" textLength="34.6" lengthAdjust="spacingAndGlyphs">PRAD</text>
<text x="1192.9" y="1861.4" font-family="Liberation Serif" font-size="12.7" text-anchor="middle" fill="#000" stroke="#000" stroke-width="0.2" textLength="153.5" lengthAdjust="spacingAndGlyphs">(num(T)=492; num(N)=152)</text>
<path d="M1166.2 1584.4V1517.3H1187.8M1198.4 1517.3H1219.9V1525.3" fill="none" stroke="#666" stroke-width="1"/>
<path d="M1193.07 1517.80L1193.07 1514.70M1193.07 1517.80L1196.02 1516.84M1193.07 1517.80L1194.90 1520.31M1193.07 1517.80L1191.25 1520.31M1193.07 1517.80L1190.13 1516.84" stroke="#e8202a" stroke-width="1.5" stroke-linecap="round" fill="none"/>
</svg></body></html>
